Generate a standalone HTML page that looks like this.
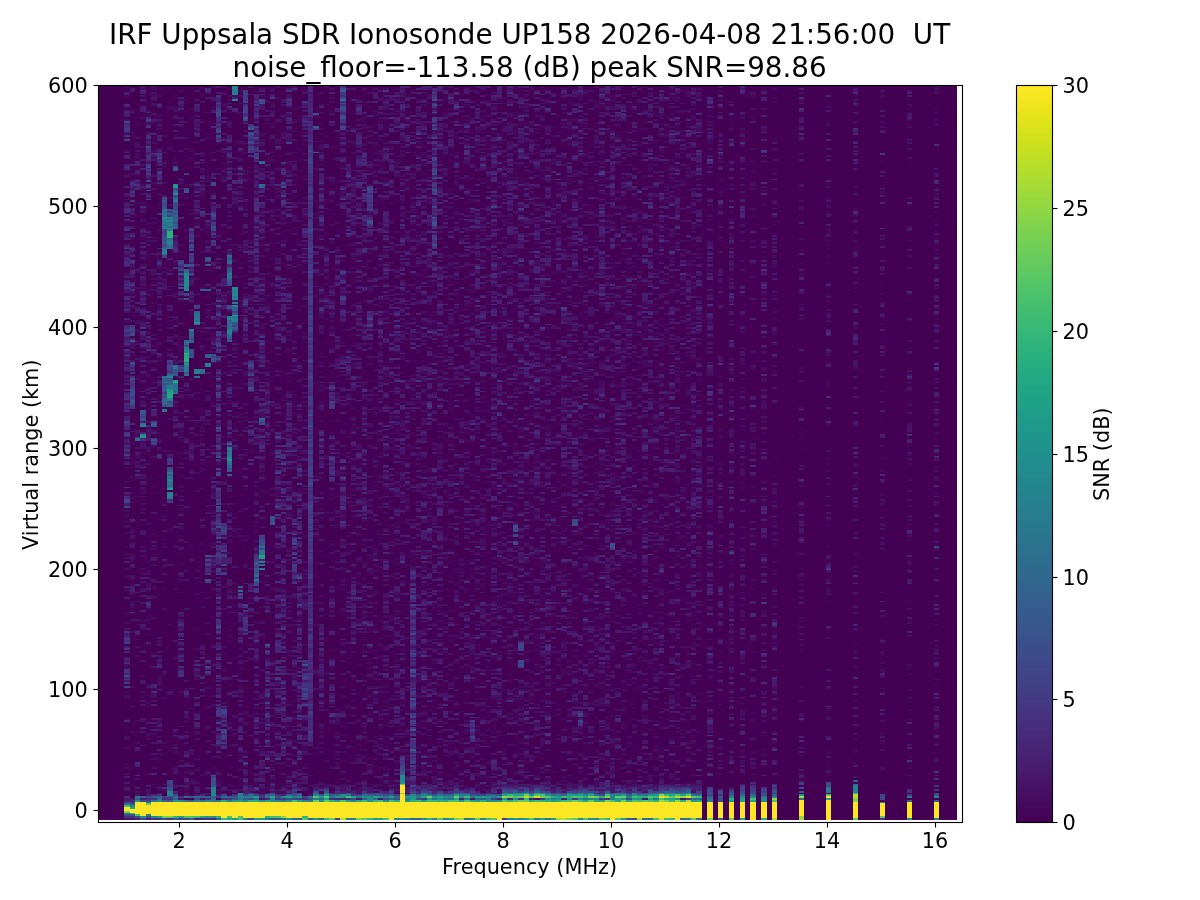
<!DOCTYPE html>
<html lang="en">
<head>
<meta charset="utf-8">
<title>IRF Uppsala SDR Ionosonde UP158 ionogram</title>
<style>
html,body{margin:0;padding:0;background:#fff;}
body{width:1200px;height:900px;overflow:hidden;}
svg{display:block;}
text{font-family:"DejaVu Sans","Liberation Sans",sans-serif;font-size:20.83px;fill:#000;white-space:pre;}
text.t{font-size:27.78px;}
.ln line,.ln rect{stroke:#000;stroke-width:1.111;fill:none;}
</style>
</head>
<body>
<svg width="1200" height="900" viewBox="0 0 1200 900">
<defs>
<linearGradient id="vir" x1="0" y1="1" x2="0" y2="0"><stop offset="0.0000" stop-color="#440154"/><stop offset="0.0156" stop-color="#45065a"/><stop offset="0.0312" stop-color="#460c5f"/><stop offset="0.0469" stop-color="#471265"/><stop offset="0.0625" stop-color="#47186a"/><stop offset="0.0781" stop-color="#481d6f"/><stop offset="0.0938" stop-color="#482273"/><stop offset="0.1094" stop-color="#472777"/><stop offset="0.1250" stop-color="#472c7b"/><stop offset="0.1406" stop-color="#46317e"/><stop offset="0.1562" stop-color="#453681"/><stop offset="0.1719" stop-color="#433b83"/><stop offset="0.1875" stop-color="#424085"/><stop offset="0.2031" stop-color="#404487"/><stop offset="0.2188" stop-color="#3e4989"/><stop offset="0.2344" stop-color="#3c4d8a"/><stop offset="0.2500" stop-color="#3a528b"/><stop offset="0.2656" stop-color="#38568b"/><stop offset="0.2812" stop-color="#365a8c"/><stop offset="0.2969" stop-color="#345e8d"/><stop offset="0.3125" stop-color="#32628d"/><stop offset="0.3281" stop-color="#31668d"/><stop offset="0.3438" stop-color="#2f6a8d"/><stop offset="0.3594" stop-color="#2d6e8e"/><stop offset="0.3750" stop-color="#2c728e"/><stop offset="0.3906" stop-color="#2a768e"/><stop offset="0.4062" stop-color="#287a8e"/><stop offset="0.4219" stop-color="#277d8e"/><stop offset="0.4375" stop-color="#26818e"/><stop offset="0.4531" stop-color="#24858d"/><stop offset="0.4688" stop-color="#23898d"/><stop offset="0.4844" stop-color="#218c8d"/><stop offset="0.5000" stop-color="#20908c"/><stop offset="0.5156" stop-color="#1f948b"/><stop offset="0.5312" stop-color="#1e988a"/><stop offset="0.5469" stop-color="#1e9b89"/><stop offset="0.5625" stop-color="#1e9f88"/><stop offset="0.5781" stop-color="#1fa386"/><stop offset="0.5938" stop-color="#21a784"/><stop offset="0.6094" stop-color="#24aa82"/><stop offset="0.6250" stop-color="#28ae7f"/><stop offset="0.6406" stop-color="#2cb17d"/><stop offset="0.6562" stop-color="#32b57a"/><stop offset="0.6719" stop-color="#38b976"/><stop offset="0.6875" stop-color="#3ebc73"/><stop offset="0.7031" stop-color="#45bf6f"/><stop offset="0.7188" stop-color="#4dc26b"/><stop offset="0.7344" stop-color="#55c666"/><stop offset="0.7500" stop-color="#5ec961"/><stop offset="0.7656" stop-color="#67cc5c"/><stop offset="0.7812" stop-color="#70ce56"/><stop offset="0.7969" stop-color="#79d151"/><stop offset="0.8125" stop-color="#83d34b"/><stop offset="0.8281" stop-color="#8dd644"/><stop offset="0.8438" stop-color="#97d83e"/><stop offset="0.8594" stop-color="#a2da37"/><stop offset="0.8750" stop-color="#addc30"/><stop offset="0.8906" stop-color="#b7dd29"/><stop offset="0.9062" stop-color="#c2df22"/><stop offset="0.9219" stop-color="#cde01d"/><stop offset="0.9375" stop-color="#d7e219"/><stop offset="0.9531" stop-color="#e1e318"/><stop offset="0.9688" stop-color="#ece41a"/><stop offset="0.9844" stop-color="#f6e61f"/><stop offset="1.0000" stop-color="#fde724"/></linearGradient>
<clipPath id="axclip"><rect x="97.65" y="85.23" width="863.88" height="736.99"/></clipPath>
</defs>
<rect x="0" y="0" width="1200" height="900" fill="#fff"/>
<g id="heat" shape-rendering="crispEdges">
<rect x="98" y="85" width="859" height="735" fill="#440154"/>
<path fill="#45085b" d="M124 787h6v-2h-6m0-20h6v-1h-6m0-35h6v-2h-6m0-7h6v-2h-6m0-25h6v-2h-6m0-23h6v-2h-6m0-51h6v-2h-6m0-21h6v-4h-6m0-4h6v-1h-6m0-35h6v-2h-6m0-12h6v-2h-6m0-9h6v-2h-6m0-5h6v-2h-6m0-31h6v-2h-6m0-4h6v-1h-6m0-44h6v-2h-6m0-108h6v-2h-6m0-63h6v-2h-6m0-4h6v-2h-6m0-34h6v-2h-6m0-74h6v-2h-6m0-2h6v-2h-6m0-36h6v-2h-6m0-7h6v-2h-6m6 580h5v-2h-5m0-49h5v-2h-5m0-11h5v-1h-5m0-28h5v-1h-5m0-17h5v-1h-5m0-24h5v-2h-5m0-22h5v-1h-5m0-24h5v-2h-5m0-14h5v-2h-5m0-4h5v-1h-5m0-13h5v-2h-5m0-5h5v-2h-5m0-60h5v-2h-5m0-2h5v-1h-5m0-58h5v-2h-5m0-16h5v-2h-5m0-24h5v-2h-5m0-67h5v-1h-5m5 534h5v-2h-5m0-105h5v-2h-5m0-98h5v-1h-5m0-2h5v-2h-5m0-4h5v-1h-5m0-39h5v-1h-5m0-55h5v-1h-5m0-87h5v-2h-5m0-15h5v-1h-5m0-42h5v-2h-5m0-2h5v-2h-5m0-63h5v-2h-5m0-45h5v-2h-5m0-29h5v-3h-5m5 670h6v-2h-6m0-60h6v-2h-6m0-52h6v-2h-6m0-24h6v-1h-6m0-29h6v-2h-6m0-55h6v-1h-6m0-62h6v-2h-6m0-7h6v-2h-6m0-27h6v-2h-6m0-3h6v-2h-6m0-2h6v-2h-6m0-9h6v-2h-6m0-119h6v-2h-6m0-11h6v-2h-6m0-67h6v-2h-6m0-3h6v-2h-6m0-43h6v-2h-6m0-2h6v-2h-6m0-81h6v-2h-6m6 684h5v-1h-5m0-55h5v-2h-5m0-23h5v-2h-5m0-5h5v-2h-5m0-9h5v-2h-5m0-38h5v-2h-5m0-9h5v-2h-5m0-16h5v-2h-5m0-5h5v-2h-5m0-16h5v-2h-5m0-17h5v-1h-5m0-4h5v-2h-5m0-3h5v-4h-5m0-22h5v-2h-5m0-85h5v-1h-5m0-49h5v-2h-5m0-20h5v-2h-5m0-18h5v-2h-5m0-3h5v-2h-5m0-8h5v-1h-5m0-51h5v-4h-5m0-20h5v-1h-5m0-9h5v-2h-5m0-6h5v-1h-5m0-22h5v-4h-5m0-14h5v-2h-5m0-16h5v-2h-5m0-71h5v-2h-5m5 670h6v-1h-6m0-86h6v-1h-6m0-6h6v-3h-6m0-33h6v-2h-6m0-63h6v-2h-6m0-100h6v-1h-6m0-69h6v-2h-6m0-47h6v-2h-6m0-63h6v-2h-6m0-78h6v-2h-6m0-3h6v-2h-6m0-8h6v-1h-6m0-46h6v-1h-6m0-2h6v-2h-6m0-4h6v-1h-6m0-13h6v-2h-6m0-4h6v-1h-6m0-15h6v-2h-6m6 676h5v-2h-5m0-2h5v-2h-5m0-25h5v-2h-5m0-69h5v-1h-5m0-6h5v-2h-5m0-1h5v-4h-5m0-6h5v-1h-5m0-9h5v-2h-5m0-13h5v-2h-5m0-87h5v-1h-5m0-2h5v-2h-5m0-56h5v-2h-5m0-58h5v-2h-5m0-11h5v-1h-5m0-19h5v-1h-5m0-2h5v-4h-5m0-20h5v-2h-5m0-47h5v-1h-5m0-15h5v-4h-5m0-5h5v-2h-5m0-11h5v-3h-5m0-17h5v-1h-5m0-6h5v-3h-5m0-24h5v-4h-5m0-1h5v-2h-5m0-17h5v-1h-5m0-2h5v-2h-5m0-5h5v-2h-5m0-11h5v-2h-5m0-56h5v-2h-5m0-3h5v-2h-5m0-4h5v-2h-5m5 640h5v-2h-5m0-78h5v-2h-5m0-22h5v-1h-5m0-60h5v-2h-5m0-5h5v-2h-5m0-13h5v-2h-5m0-21h5v-2h-5m0-2h5v-2h-5m0-40h5v-2h-5m0-155h5v-2h-5m0-42h5v-2h-5m0-5h5v-2h-5m0-121h5v-4h-5m0-32h5v-2h-5m5 619h6v-2h-6m0-121h6v-2h-6m0-92h6v-4h-6m0-76h6v-2h-6m0-128h6v-2h-6m0-29h6v-2h-6m0-25h6v-2h-6m0-5h6v-2h-6m0-107h6v-2h-6m0-20h6v-2h-6m0-14h6v-2h-6m0-5h6v-2h-6m6 684h5v-1h-5m0-2h5v-2h-5m0-42h5v-2h-5m0-242h5v-2h-5m0-24h5v-1h-5m0-62h5v-2h-5m0-7h5v-2h-5m0-34h5v-2h-5m0-4h5v-1h-5m0-22h5v-2h-5m0-16h5v-2h-5m0-9h5v-2h-5m0-4h5v-1h-5m0-29h5v-4h-5m0-4h5v-1h-5m0-96h5v-2h-5m0-7h5v-2h-5m0-13h5v-2h-5m0-11h5v-1h-5m0-15h5v-2h-5m0-9h5v-2h-5m5 696h6v-2h-6m0-196h6v-1h-6m0-38h6v-2h-6m0-9h6v-2h-6m0-4h6v-2h-6m0-5h6v-2h-6m0-18h6v-2h-6m0-16h6v-2h-6m0-2h6v-3h-6m0-26h6v-1h-6m0-4h6v-2h-6m0-11h6v-2h-6m0-3h6v-2h-6m0-11h6v-2h-6m0-70h6v-6h-6m0-5h6v-4h-6m0-34h6v-2h-6m0-47h6v-2h-6m0-23h6v-2h-6m0-22h6v-2h-6m0-3h6v-2h-6m0-4h6v-2h-6m0-5h6v-2h-6m0-2h6v-2h-6m0-10h6v-2h-6m0-22h6v-2h-6m0-16h6v-2h-6m0-5h6v-2h-6m0-6h6v-3h-6m0-9h6v-2h-6m0-7h6v-2h-6m6 701h5v-2h-5m0-11h5v-2h-5m0-36h5v-2h-5m0-11h5v-1h-5m0-4h5v-2h-5m0-31h5v-1h-5m0-278h5v-1h-5m0-71h5v-2h-5m0-5h5v-2h-5m0-24h5v-1h-5m0-147h5v-2h-5m0-20h5v-2h-5m0-32h5v-2h-5m5 697h5v-2h-5m0-30h5v-2h-5m0-15h5v-1h-5m0-37h5v-2h-5m0-289h5v-2h-5m0-25h5v-2h-5m0-60h5v-2h-5m0-12h5v-2h-5m0-9h5v-2h-5m0-2h5v-2h-5m0-87h5v-2h-5m0-50h5v-2h-5m0-5h5v-2h-5m0-31h5v-2h-5m0-7h5v-2h-5m5 679h6v-2h-6m0-3h6v-2h-6m0-73h6v-1h-6m0-27h6v-2h-6m0-13h6v-2h-6m0-3h6v-2h-6m0-27h6v-2h-6m0-65h6v-2h-6m0-111h6v-1h-6m0-26h6v-2h-6m0-11h6v-1h-6m0-9h6v-2h-6m0-44h6v-1h-6m0-48h6v-1h-6m0-8h6v-1h-6m0-66h6v-1h-6m0-2h6v-4h-6m0-78h6v-2h-6m6 551h5v-2h-5m0-98h5v-1h-5m0-47h5v-2h-5m0-53h5v-2h-5m0-16h5v-2h-5m0-5h5v-2h-5m0-4h5v-1h-5m0-17h5v-3h-5m0-13h5v-2h-5m0-40h5v-1h-5m0-15h5v-2h-5m0-14h5v-2h-5m0-82h5v-1h-5m0-69h5v-4h-5m0-80h5v-1h-5m0-15h5v-2h-5m0-5h5v-4h-5m5 705h6v-2h-6m0-80h6v-2h-6m0-19h6v-2h-6m0-62h6v-2h-6m0-38h6v-1h-6m0-37h6v-1h-6m0-26h6v-2h-6m0-9h6v-2h-6m0-5h6v-2h-6m0-36h6v-2h-6m0-31h6v-1h-6m0-33h6v-2h-6m0-54h6v-2h-6m0-5h6v-2h-6m0-6h6v-1h-6m0-8h6v-5h-6m0-13h6v-2h-6m0-52h6v-2h-6m0-9h6v-2h-6m0-3h6v-2h-6m0-40h6v-2h-6m0-5h6v-4h-6m0-36h6v-2h-6m0-2h6v-2h-6m0-47h6v-1h-6m6 690h5v-2h-5m0-4h5v-2h-5m0-49h5v-1h-5m0-10h5v-1h-5m0-24h5v-3h-5m0-8h5v-2h-5m0-23h5v-2h-5m0-22h5v-1h-5m0-86h5v-1h-5m0-8h5v-1h-5m0-4h5v-2h-5m0-7h5v-2h-5m0-18h5v-2h-5m0-5h5v-2h-5m0-53h5v-1h-5m0-9h5v-2h-5m0-40h5v-2h-5m0-38h5v-2h-5m0-9h5v-2h-5m0-76h5v-1h-5m0-48h5v-1h-5m0-4h5v-2h-5m0-22h5v-1h-5m0-62h5v-2h-5m5 687h5v-4h-5m0-5h5v-4h-5m0-24h5v-1h-5m0-4h5v-4h-5m0-27h5v-2h-5m0-30h5v-2h-5m0-11h5v-2h-5m0-54h5v-2h-5m0-5h5v-2h-5m0-42h5v-2h-5m0-21h5v-2h-5m0-2h5v-2h-5m0-62h5v-1h-5m0-149h5v-2h-5m0-21h5v-2h-5m0-4h5v-2h-5m0-20h5v-1h-5m0-18h5v-2h-5m0-15h5v-2h-5m0-5h5v-2h-5m0-87h5v-2h-5m5 645h6v-2h-6m0-130h6v-2h-6m0-31h6v-1h-6m0-49h6v-2h-6m0-6h6v-1h-6m0-9h6v-2h-6m0-80h6v-2h-6m0-12h6v-2h-6m0-18h6v-2h-6m0-94h6v-2h-6m0-47h6v-2h-6m0-31h6v-2h-6m0-5h6v-2h-6m0-23h6v-2h-6m0-26h6v-1h-6m0-22h6v-2h-6m0-5h6v-2h-6m0-4h6v-2h-6m0-5h6v-2h-6m0-11h6v-2h-6m0-3h6v-2h-6m0-13h6v-1h-6m0-10h6v-1h-6m0-8h6v-1h-6m6 693h5v-2h-5m0-7h5v-2h-5m0-16h5v-2h-5m0-20h5v-3h-5m0-13h5v-2h-5m0-31h5v-1h-5m0-11h5v-2h-5m0-42h5v-2h-5m0-3h5v-2h-5m0-40h5v-2h-5m0-3h5v-2h-5m0-47h5v-2h-5m0-5h5v-2h-5m0-24h5v-2h-5m0-18h5v-1h-5m0-48h5v-1h-5m0-33h5v-2h-5m0-7h5v-2h-5m0-11h5v-1h-5m0-20h5v-2h-5m0-47h5v-2h-5m0-20h5v-2h-5m0-67h5v-2h-5m0-68h5v-2h-5m0-60h5v-2h-5m5 665h6v-2h-6m0-33h6v-1h-6m0-22h6v-2h-6m0-87h6v-2h-6m0-7h6v-2h-6m0-3h6v-2h-6m0-53h6v-2h-6m0-3h6v-2h-6m0-4h6v-1h-6m0-20h6v-2h-6m0-44h6v-1h-6m0-29h6v-2h-6m0-24h6v-2h-6m0-5h6v-2h-6m0-29h6v-2h-6m0-1h6v-2h-6m0-18h6v-2h-6m0-6h6v-1h-6m0-57h6v-1h-6m0-15h6v-2h-6m0-52h6v-2h-6m0-7h6v-2h-6m0-33h6v-1h-6m0-19h6v-1h-6m0-28h6v-1h-6m6 681h5v-2h-5m0-4h5v-2h-5m0-96h5v-3h-5m0-11h5v-2h-5m0-22h5v-3h-5m0-107h5v-2h-5m0-62h5v-1h-5m0-6h5v-2h-5m0-10h5v-2h-5m0-26h5v-1h-5m0-11h5v-4h-5m0-32h5v-2h-5m0-13h5v-2h-5m0-60h5v-1h-5m0-26h5v-2h-5m0-12h5v-2h-5m0-16h5v-2h-5m0-9h5v-2h-5m0-74h5v-2h-5m5 605h5v-2h-5m0-4h5v-1h-5m0-29h5v-2h-5m0-6h5v-1h-5m0-2h5v-2h-5m0-6h5v-1h-5m0-17h5v-1h-5m0-78h5v-2h-5m0-6h5v-1h-5m0-8h5v-1h-5m0-28h5v-1h-5m0-26h5v-2h-5m0-45h5v-2h-5m0-34h5v-2h-5m0-92h5v-2h-5m0-49h5v-2h-5m0-11h5v-3h-5m0-9h5v-2h-5m0-31h5v-2h-5m0-29h5v-1h-5m0-10h5v-1h-5m0-18h5v-2h-5m0-9h5v-2h-5m0-4h5v-2h-5m5 488h6v-2h-6m0-11h6v-2h-6m0-4h6v-1h-6m0-26h6v-1h-6m0-160h6v-2h-6m0-5h6v-2h-6m0-65h6v-2h-6m0-107h6v-2h-6m0-7h6v-2h-6m0-85h6v-2h-6m0-39h6v-2h-6m6 623h5v-2h-5m0-38h5v-2h-5m0-87h5v-2h-5m0-34h5v-2h-5m0-40h5v-1h-5m0-4h5v-2h-5m0-13h5v-1h-5m0-28h5v-1h-5m0-55h5v-2h-5m0-7h5v-2h-5m0-5h5v-2h-5m0-2h5v-1h-5m0-17h5v-2h-5m0-14h5v-2h-5m0-85h5v-2h-5m0-12h5v-2h-5m0-29h5v-2h-5m0-5h5v-2h-5m0-13h5v-2h-5m0-5h5v-2h-5m0-33h5v-3h-5m0-64h5v-1h-5m5 668h6v-2h-6m0-13h6v-1h-6m0-24h6v-2h-6m0-34h6v-2h-6m0-4h6v-2h-6m0-7h6v-2h-6m0-126h6v-2h-6m0-6h6v-1h-6m0-53h6v-2h-6m0-11h6v-1h-6m0-4h6v-2h-6m0-9h6v-2h-6m0-2h6v-3h-6m0-4h6v-2h-6m0-7h6v-2h-6m0-5h6v-2h-6m0-2h6v-1h-6m0-40h6v-2h-6m0-18h6v-2h-6m0-18h6v-2h-6m0-40h6v-2h-6m0-9h6v-1h-6m0-26h6v-2h-6m0-9h6v-2h-6m0-41h6v-2h-6m0-22h6v-2h-6m0-38h6v-1h-6m0-33h6v-2h-6m0-22h6v-1h-6m0-15h6v-2h-6m6 696h5v-2h-5m0-18h5v-2h-5m0-69h5v-2h-5m0-14h5v-2h-5m0-38h5v-2h-5m0-59h5v-2h-5m0-31h5v-2h-5m0-31h5v-1h-5m0-22h5v-2h-5m0-120h5v-1h-5m0-2h5v-2h-5m0-4h5v-1h-5m0-20h5v-2h-5m0-36h5v-2h-5m0-4h5v-2h-5m0-117h5v-2h-5m0-9h5v-2h-5m0-7h5v-2h-5m0-4h5v-1h-5m0-33h5v-2h-5m0-16h5v-2h-5m0-2h5v-2h-5m5 674h5v-2h-5m0-76h5v-2h-5m0-105h5v-1h-5m0-8h5v-2h-5m0-38h5v-1h-5m0-82h5v-2h-5m0-68h5v-2h-5m0-2h5v-2h-5m0-56h5v-2h-5m0-3h5v-2h-5m0-53h5v-2h-5m0-14h5v-2h-5m0-38h5v-2h-5m5 583h6v-1h-6m0-234h6v-2h-6m0-22h6v-1h-6m0-29h6v-6h-6m0-23h6v-2h-6m0-58h6v-2h-6m0-11h6v-2h-6m0-21h6v-2h-6m0-7h6v-2h-6m0-4h6v-2h-6m0-16h6v-2h-6m0-3h6v-2h-6m0-20h6v-2h-6m0-56h6v-2h-6m0-52h6v-2h-6m0-26h6v-1h-6m6 623h5v-2h-5m0-4h5v-2h-5m0-20h5v-1h-5m0-40h5v-2h-5m0-16h5v-2h-5m0-13h5v-2h-5m0-47h5v-3h-5m0-20h5v-2h-5m0-24h5v-1h-5m0-2h5v-2h-5m0-9h5v-2h-5m0-22h5v-1h-5m0-9h5v-2h-5m0-24h5v-3h-5m0-8h5v-2h-5m0-39h5v-2h-5m0-47h5v-2h-5m0-9h5v-2h-5m0-7h5v-2h-5m0-60h5v-2h-5m0-36h5v-2h-5m0-5h5v-2h-5m0-45h5v-2h-5m0-9h5v-2h-5m0-5h5v-2h-5m0-42h5v-2h-5m0-3h5v-2h-5m0-9h5v-2h-5m0-27h5v-2h-5m0-14h5v-2h-5m5 661h6v-2h-6m0-2h6v-1h-6m0-35h6v-2h-6m0-12h6v-2h-6m0-93h6v-1h-6m0-15h6v-2h-6m0-14h6v-2h-6m0-33h6v-1h-6m0-13h6v-2h-6m0-5h6v-2h-6m0-27h6v-2h-6m0-54h6v-2h-6m0-33h6v-2h-6m0-20h6v-1h-6m0-6h6v-2h-6m0-9h6v-3h-6m0-38h6v-4h-6m0-2h6v-2h-6m0-3h6v-2h-6m0-67h6v-2h-6m0-9h6v-2h-6m0-18h6v-2h-6m0-5h6v-2h-6m0-69h6v-1h-6m0-20h6v-2h-6m0-13h6v-2h-6m6 587h5v-2h-5m0-20h5v-1h-5m0-8h5v-2h-5m0-30h5v-2h-5m0-15h5v-3h-5m0-20h5v-2h-5m0-9h5v-2h-5m0-70h5v-2h-5m0-15h5v-2h-5m0-20h5v-1h-5m0-62h5v-2h-5m0-2h5v-1h-5m0-2h5v-2h-5m0-9h5v-2h-5m0-2h5v-1h-5m0-17h5v-2h-5m0-30h5v-2h-5m0-9h5v-2h-5m0-24h5v-1h-5m0-31h5v-2h-5m0-7h5v-2h-5m0-2h5v-2h-5m0-61h5v-2h-5m0-13h5v-3h-5m0-2h5v-2h-5m0-4h5v-1h-5m0-38h5v-2h-5m0-6h5v-1h-5m0-2h5v-2h-5m0-4h5v-2h-5m0-3h5v-2h-5m5 679h5v-3h-5m0-11h5v-2h-5m0-56h5v-2h-5m0-62h5v-1h-5m0-22h5v-2h-5m0-9h5v-2h-5m0-61h5v-2h-5m0-35h5v-1h-5m0-13h5v-2h-5m0-11h5v-2h-5m0-20h5v-1h-5m0-13h5v-4h-5m0-21h5v-2h-5m0-2h5v-2h-5m0-3h5v-2h-5m0-9h5v-2h-5m0-27h5v-2h-5m0-7h5v-2h-5m0-6h5v-1h-5m0-118h5v-2h-5m0-34h5v-2h-5m0-4h5v-2h-5m0-39h5v-2h-5m0-9h5v-2h-5m0-6h5v-1h-5m0-33h5v-2h-5m5 688h6v-1h-6m0-42h6v-4h-6m0-20h6v-1h-6m0-4h6v-2h-6m0-74h6v-2h-6m0-14h6v-2h-6m0-31h6v-2h-6m0-5h6v-2h-6m0-18h6v-2h-6m0-31h6v-2h-6m0-19h6v-2h-6m0-20h6v-2h-6m0-43h6v-2h-6m0-20h6v-2h-6m0-15h6v-1h-6m0-2h6v-2h-6m0-65h6v-2h-6m0-14h6v-2h-6m0-15h6v-2h-6m0-41h6v-2h-6m0-5h6v-2h-6m0-2h6v-2h-6m0-96h6v-2h-6m0-7h6v-2h-6m0-9h6v-2h-6m0-23h6v-2h-6m0-16h6v-2h-6m6 657h5v-1h-5m5-55h6v-2h-6m0-63h6v-2h-6m0-87h6v-2h-6m0-12h6v-2h-6m0-4h6v-1h-6m0-10h6v-1h-6m0-8h6v-1h-6m0-13h6v-2h-6m0-96h6v-2h-6m0-85h6v-2h-6m0-50h6v-2h-6m0-42h6v-2h-6m0-48h6v-2h-6m0-40h6v-2h-6m0-13h6v-1h-6m6 699h5v-2h-5m0-4h5v-2h-5m0-36h5v-2h-5m0-41h5v-2h-5m0-25h5v-2h-5m0-13h5v-2h-5m0-25h5v-2h-5m0-78h5v-2h-5m0-3h5v-2h-5m0-45h5v-2h-5m0-85h5v-2h-5m0-11h5v-4h-5m0-9h5v-1h-5m0-19h5v-1h-5m0-13h5v-4h-5m0-23h5v-2h-5m0-13h5v-1h-5m0-44h5v-2h-5m0-18h5v-2h-5m0-20h5v-1h-5m0-35h5v-2h-5m0-25h5v-2h-5m0-14h5v-2h-5m0-13h5v-2h-5m5 540h5v-2h-5m0-32h5v-2h-5m0-181h5v-2h-5m0-71h5v-1h-5m0-24h5v-2h-5m0-13h5v-1h-5m0-22h5v-2h-5m0-5h5v-2h-5m0-13h5v-2h-5m0-3h5v-2h-5m0-5h5v-4h-5m0-2h5v-2h-5m0-2h5v-1h-5m0-27h5v-2h-5m0-11h5v-2h-5m0-96h5v-2h-5m0-29h5v-2h-5m5 689h6v-2h-6m0-6h6v-1h-6m0-104h6v-1h-6m0-8h6v-2h-6m0-1h6v-2h-6m0-15h6v-1h-6m0-51h6v-2h-6m0-24h6v-1h-6m0-27h6v-2h-6m0-29h6v-2h-6m0-13h6v-2h-6m0-1h6v-2h-6m0-17h6v-1h-6m0-24h6v-2h-6m0-5h6v-2h-6m0-2h6v-2h-6m0-3h6v-4h-6m0-11h6v-1h-6m0-6h6v-2h-6m0-85h6v-2h-6m0-14h6v-2h-6m0-4h6v-1h-6m0-15h6v-2h-6m0-3h6v-2h-6m0-38h6v-4h-6m0-25h6v-2h-6m0-2h6v-2h-6m0-12h6v-2h-6m0-15h6v-1h-6m0-31h6v-2h-6m0-34h6v-2h-6m6 674h5v-2h-5m0-15h5v-3h-5m0-24h5v-2h-5m0-12h5v-2h-5m0-13h5v-2h-5m0-181h5v-2h-5m0-1h5v-2h-5m0-4h5v-2h-5m0-59h5v-2h-5m0-60h5v-2h-5m0-12h5v-2h-5m0-2h5v-2h-5m0-20h5v-2h-5m0-9h5v-2h-5m0-47h5v-1h-5m0-29h5v-2h-5m0-16h5v-2h-5m0-11h5v-2h-5m0-2h5v-2h-5m0-90h5v-2h-5m5 625h6v-2h-6m0-63h6v-2h-6m0-40h6v-2h-6m0-2h6v-1h-6m0-4h6v-2h-6m0-54h6v-2h-6m0-5h6v-2h-6m0-13h6v-2h-6m0-23h6v-2h-6m0-11h6v-2h-6m0-7h6v-4h-6m0-3h6v-2h-6m0-36h6v-2h-6m0-18h6v-2h-6m0-4h6v-1h-6m0-42h6v-2h-6m0-13h6v-1h-6m0-8h6v-1h-6m0-51h6v-2h-6m0-4h6v-1h-6m0-66h6v-1h-6m0-19h6v-1h-6m0-8h6v-1h-6m0-13h6v-2h-6m0-18h6v-2h-6m0-16h6v-2h-6m0-7h6v-2h-6m0-34h6v-2h-6m6 655h5v-1h-5m0-35h5v-2h-5m0-88h5v-2h-5m0-26h5v-1h-5m0-66h5v-1h-5m0-29h5v-2h-5m0-58h5v-2h-5m0-13h5v-1h-5m0-48h5v-1h-5m0-44h5v-2h-5m0-117h5v-2h-5m0-6h5v-1h-5m0-29h5v-2h-5m0-22h5v-2h-5m0-23h5v-2h-5m0-9h5v-2h-5m0-38h5v-2h-5m5 643h5v-2h-5m0-5h5v-2h-5m0-38h5v-2h-5m0-21h5v-2h-5m0-46h5v-1h-5m0-62h5v-2h-5m0-18h5v-2h-5m0-18h5v-2h-5m0-18h5v-2h-5m0-14h5v-4h-5m0-32h5v-2h-5m0-25h5v-2h-5m0-9h5v-2h-5m0-6h5v-3h-5m0-6h5v-1h-5m0-33h5v-2h-5m0-22h5v-1h-5m0-6h5v-2h-5m0-29h5v-1h-5m0-20h5v-2h-5m0-2h5v-2h-5m0-2h5v-1h-5m0-31h5v-2h-5m0-5h5v-2h-5m0-24h5v-2h-5m0-16h5v-2h-5m0-47h5v-2h-5m0-27h5v-2h-5m5 681h6v-1h-6m0-4h6v-2h-6m0-29h6v-2h-6m0-5h6v-2h-6m0-3h6v-2h-6m0-24h6v-2h-6m0-52h6v-2h-6m0-13h6v-1h-6m0-10h6v-1h-6m0-53h6v-2h-6m0-11h6v-1h-6m0-46h6v-1h-6m0-6h6v-2h-6m0-25h6v-2h-6m0-7h6v-2h-6m0-7h6v-2h-6m0-27h6v-2h-6m0-4h6v-1h-6m0-44h6v-2h-6m0-12h6v-2h-6m0-51h6v-2h-6m0-7h6v-2h-6m0-49h6v-1h-6m0-9h6v-2h-6m0-9h6v-2h-6m0-16h6v-2h-6m0-18h6v-2h-6m0-16h6v-2h-6m0-6h6v-2h-6m6 580h5v-2h-5m0-7h5v-2h-5m0-9h5v-2h-5m0-12h5v-2h-5m0-22h5v-2h-5m0-23h5v-2h-5m0-35h5v-3h-5m0-20h5v-4h-5m0-32h5v-4h-5m0-13h5v-1h-5m0-28h5v-1h-5m0-57h5v-1h-5m0-47h5v-4h-5m0-7h5v-2h-5m0-11h5v-2h-5m0-3h5v-2h-5m0-26h5v-1h-5m0-35h5v-2h-5m0-5h5v-2h-5m0-14h5v-2h-5m0-9h5v-2h-5m0-4h5v-1h-5m0-11h5v-2h-5m0-9h5v-2h-5m0-7h5v-2h-5m0-14h5v-2h-5m0-8h5v-1h-5m0-57h5v-1h-5m0-49h5v-4h-5m0-3h5v-2h-5m0-15h5v-2h-5m0-12h5v-2h-5m5 695h6v-1h-6m0-9h6v-2h-6m0-4h6v-4h-6m0-5h6v-2h-6m0-43h6v-2h-6m0-60h6v-2h-6m0-1h6v-2h-6m0-15h6v-2h-6m0-3h6v-2h-6m0-24h6v-1h-6m0-26h6v-3h-6m0-13h6v-4h-6m0-38h6v-1h-6m0-8h6v-2h-6m0-1h6v-2h-6m0-42h6v-2h-6m0-10h6v-2h-6m0-44h6v-2h-6m0-19h6v-2h-6m0-100h6v-2h-6m0-9h6v-2h-6m0-12h6v-6h-6m0-34h6v-2h-6m0-42h6v-1h-6m0-6h6v-2h-6m0-54h6v-2h-6m6 687h5v-2h-5m0-6h5v-1h-5m0-17h5v-2h-5m0-19h5v-4h-5m0-4h5v-2h-5m0-18h5v-1h-5m0-37h5v-3h-5m0-46h5v-3h-5m0-2h5v-2h-5m0-14h5v-2h-5m0-16h5v-2h-5m0-13h5v-2h-5m0-3h5v-2h-5m0-11h5v-4h-5m0-3h5v-2h-5m0-63h5v-2h-5m0-2h5v-2h-5m0-49h5v-2h-5m0-9h5v-1h-5m0-95h5v-1h-5m0-53h5v-2h-5m0-29h5v-3h-5m0-8h5v-1h-5m0-26h5v-3h-5m0-28h5v-1h-5m0-15h5v-3h-5m0-4h5v-4h-5m0-9h5v-2h-5m0-7h5v-2h-5m0-7h5v-4h-5m0-1h5v-2h-5m5 670h5v-2h-5m0-9h5v-2h-5m0-31h5v-1h-5m0-6h5v-2h-5m0-16h5v-2h-5m0-49h5v-1h-5m0-20h5v-2h-5m0-4h5v-2h-5m0-9h5v-3h-5m0-6h5v-1h-5m0-48h5v-1h-5m0-11h5v-2h-5m0-11h5v-2h-5m0-58h5v-2h-5m0-14h5v-2h-5m0-7h5v-2h-5m0-16h5v-2h-5m0-11h5v-2h-5m0-11h5v-3h-5m0-44h5v-1h-5m0-2h5v-4h-5m0-7h5v-4h-5m0-5h5v-2h-5m0-34h5v-2h-5m0-15h5v-1h-5m0-19h5v-1h-5m0-4h5v-2h-5m0-51h5v-1h-5m0-33h5v-2h-5m0-3h5v-2h-5m0-2h5v-2h-5m0-9h5v-3h-5m0-11h5v-2h-5m5 648h6v-2h-6m0-7h6v-2h-6m0-5h6v-4h-6m0-9h6v-2h-6m0-14h6v-2h-6m0-2h6v-2h-6m0-10h6v-2h-6m0-20h6v-4h-6m0-12h6v-4h-6m0-16h6v-2h-6m0-7h6v-2h-6m0-6h6v-1h-6m0-13h6v-2h-6m0-9h6v-2h-6m0-18h6v-2h-6m0-3h6v-4h-6m0-33h6v-1h-6m0-46h6v-1h-6m0-22h6v-2h-6m0-2h6v-3h-6m0-6h6v-2h-6m0-5h6v-2h-6m0-14h6v-2h-6m0-2h6v-2h-6m0-16h6v-2h-6m0-52h6v-8h-6m0-7h6v-2h-6m0-2h6v-1h-6m0-33h6v-2h-6m0-9h6v-2h-6m0-12h6v-2h-6m0-22h6v-2h-6m0-25h6v-2h-6m0-9h6v-2h-6m0-2h6v-1h-6m0-37h6v-1h-6m0-24h6v-2h-6m0-11h6v-1h-6m0-33h6v-2h-6m0-5h6v-2h-6m0-20h6v-2h-6m0-3h6v-2h-6m6 693h5v-1h-5m0-2h5v-2h-5m0-42h5v-2h-5m0-18h5v-1h-5m0-20h5v-2h-5m0-42h5v-2h-5m0-32h5v-4h-5m0-11h5v-2h-5m0-7h5v-2h-5m0-83h5v-5h-5m0-2h5v-2h-5m0-14h5v-2h-5m0-6h5v-2h-5m0-43h5v-2h-5m0-7h5v-2h-5m0-3h5v-2h-5m0-2h5v-2h-5m0-2h5v-3h-5m0-71h5v-2h-5m0-3h5v-2h-5m0-7h5v-2h-5m0-22h5v-2h-5m0-3h5v-2h-5m0-17h5v-1h-5m0-42h5v-2h-5m0-27h5v-2h-5m0-5h5v-2h-5m0-15h5v-1h-5m0-31h5v-2h-5m0-13h5v-1h-5m0-19h5v-1h-5m5 677h6v-2h-6m0-23h6v-2h-6m0-4h6v-3h-6m0-24h6v-2h-6m0-47h6v-2h-6m0-7h6v-2h-6m0-9h6v-2h-6m0-38h6v-1h-6m0-6h6v-2h-6m0-7h6v-2h-6m0-2h6v-1h-6m0-42h6v-2h-6m0-2h6v-1h-6m0-29h6v-2h-6m0-38h6v-2h-6m0-9h6v-2h-6m0-13h6v-1h-6m0-24h6v-5h-6m0-28h6v-3h-6m0-31h6v-2h-6m0-12h6v-2h-6m0-13h6v-2h-6m0-2h6v-1h-6m0-142h6v-1h-6m0-24h6v-2h-6m0-2h6v-3h-6m0-2h6v-2h-6m0-31h6v-1h-6m0-8h6v-2h-6m0-14h6v-2h-6m0-7h6v-2h-6m6 665h5v-2h-5m0-20h5v-2h-5m0-18h5v-2h-5m0-5h5v-2h-5m0-52h5v-2h-5m0-6h5v-2h-5m0-21h5v-2h-5m0-4h5v-1h-5m0-6h5v-2h-5m0-49h5v-1h-5m0-19h5v-1h-5m0-11h5v-2h-5m0-7h5v-2h-5m0-11h5v-4h-5m0-5h5v-2h-5m0-5h5v-2h-5m0-6h5v-1h-5m0-11h5v-2h-5m0-7h5v-2h-5m0-11h5v-2h-5m0-12h5v-2h-5m0-4h5v-2h-5m0-29h5v-1h-5m0-17h5v-2h-5m0-14h5v-2h-5m0-3h5v-2h-5m0-27h5v-2h-5m0-56h5v-2h-5m0-15h5v-1h-5m0-11h5v-2h-5m0-2h5v-2h-5m0-18h5v-2h-5m0-7h5v-4h-5m0-10h5v-2h-5m0-9h5v-2h-5m0-7h5v-2h-5m0-13h5v-2h-5m0-9h5v-2h-5m0-38h5v-1h-5m5 691h5v-1h-5m0-6h5v-2h-5m0-16h5v-2h-5m0-9h5v-2h-5m0-3h5v-2h-5m0-38h5v-2h-5m0-101h5v-2h-5m0-2h5v-2h-5m0-38h5v-2h-5m0-7h5v-2h-5m0-10h5v-2h-5m0-18h5v-4h-5m0-9h5v-2h-5m0-4h5v-1h-5m0-6h5v-2h-5m0-29h5v-1h-5m0-22h5v-2h-5m0-14h5v-2h-5m0-11h5v-2h-5m0-4h5v-1h-5m0-87h5v-2h-5m0-29h5v-2h-5m0-54h5v-2h-5m0-2h5v-2h-5m0-38h5v-1h-5m0-2h5v-2h-5m0-38h5v-2h-5m0-33h5v-1h-5m0-17h5v-1h-5m5 489h6v-2h-6m0-18h6v-4h-6m0-2h6v-5h-6m0-9h6v-2h-6m0-49h6v-2h-6m0-56h6v-2h-6m0-7h6v-2h-6m0-27h6v-2h-6m0-9h6v-2h-6m0-7h6v-2h-6m0-11h6v-3h-6m0-18h6v-2h-6m0-2h6v-2h-6m0-11h6v-1h-6m0-26h6v-2h-6m0-7h6v-2h-6m0-12h6v-2h-6m0-16h6v-2h-6m0-35h6v-1h-6m0-6h6v-2h-6m0-5h6v-4h-6m0-14h6v-2h-6m0-9h6v-2h-6m0-51h6v-1h-6m0-31h6v-2h-6m6 677h5v-2h-5m0-7h5v-2h-5m0-30h5v-4h-5m0-9h5v-2h-5m0-31h5v-5h-5m0-27h5v-2h-5m0-15h5v-1h-5m0-35h5v-2h-5m0-5h5v-2h-5m0-43h5v-2h-5m0-15h5v-1h-5m0-6h5v-2h-5m0-27h5v-2h-5m0-9h5v-2h-5m0-16h5v-2h-5m0-56h5v-2h-5m0-21h5v-2h-5m0-4h5v-2h-5m0-9h5v-1h-5m0-9h5v-4h-5m0-27h5v-2h-5m0-15h5v-1h-5m0-13h5v-2h-5m0-7h5v-2h-5m0-5h5v-2h-5m0-6h5v-3h-5m0-24h5v-2h-5m0-5h5v-2h-5m0-36h5v-2h-5m0-2h5v-1h-5m0-46h5v-2h-5m0-29h5v-1h-5m5 659h6v-6h-6m0-52h6v-2h-6m0-5h6v-2h-6m0-22h6v-2h-6m0-20h6v-1h-6m0-22h6v-2h-6m0-5h6v-2h-6m0-16h6v-2h-6m0-24h6v-2h-6m0-14h6v-2h-6m0-2h6v-2h-6m0-19h6v-2h-6m0-31h6v-2h-6m0-13h6v-1h-6m0-22h6v-4h-6m0-3h6v-2h-6m0-27h6v-2h-6m0-15h6v-1h-6m0-26h6v-2h-6m0-30h6v-2h-6m0-60h6v-2h-6m0-20h6v-2h-6m0-18h6v-1h-6m0-19h6v-1h-6m0-8h6v-1h-6m0-53h6v-2h-6m0-9h6v-2h-6m0-5h6v-4h-6m0-5h6v-2h-6m0-7h6v-2h-6m0-5h6v-2h-6m0-6h6v-1h-6m6 655h5v-2h-5m0-20h5v-1h-5m0-15h5v-2h-5m0-20h5v-1h-5m0-6h5v-2h-5m0-32h5v-2h-5m0-4h5v-2h-5m0-1h5v-2h-5m0-20h5v-2h-5m0-4h5v-1h-5m0-53h5v-2h-5m0-14h5v-2h-5m0-4h5v-1h-5m0-13h5v-2h-5m0-11h5v-2h-5m0-12h5v-4h-5m0-5h5v-2h-5m0-29h5v-2h-5m0-9h5v-5h-5m0-49h5v-2h-5m0-6h5v-1h-5m0-9h5v-2h-5m0-64h5v-1h-5m0-4h5v-2h-5m0-7h5v-2h-5m0-2h5v-1h-5m0-11h5v-2h-5m0-6h5v-1h-5m0-26h5v-2h-5m0-9h5v-1h-5m0-42h5v-2h-5m0-11h5v-2h-5m0-5h5v-2h-5m0-61h5v-2h-5m0-6h5v-1h-5m0-19h5v-3h-5m0-6h5v-1h-5m5 679h5v-2h-5m0-4h5v-2h-5m0-58h5v-1h-5m0-4h5v-2h-5m0-36h5v-4h-5m0-32h5v-2h-5m0-2h5v-2h-5m0-14h5v-2h-5m0-83h5v-2h-5m0-34h5v-2h-5m0-2h5v-2h-5m0-7h5v-2h-5m0-13h5v-1h-5m0-9h5v-2h-5m0-122h5v-3h-5m0-27h5v-2h-5m0-7h5v-2h-5m0-152h5v-2h-5m5 645h6v-2h-6m0-29h6v-2h-6m0-18h6v-2h-6m0-2h6v-2h-6m0-39h6v-2h-6m0-24h6v-2h-6m0-23h6v-2h-6m0-5h6v-2h-6m0-7h6v-2h-6m0-2h6v-2h-6m0-60h6v-1h-6m0-24h6v-2h-6m0-32h6v-2h-6m0-27h6v-2h-6m0-18h6v-2h-6m0-47h6v-2h-6m0-5h6v-4h-6m0-7h6v-2h-6m0-7h6v-2h-6m0-44h6v-1h-6m0-26h6v-2h-6m0-36h6v-2h-6m0-11h6v-1h-6m0-17h6v-1h-6m0-10h6v-1h-6m0-20h6v-2h-6m0-27h6v-2h-6m0-20h6v-2h-6m0-49h6v-1h-6m6 700h5v-1h-5m0-91h5v-2h-5m0-31h5v-1h-5m0-11h5v-2h-5m0-16h5v-2h-5m0-13h5v-2h-5m0-23h5v-2h-5m0-27h5v-2h-5m0-65h5v-2h-5m0-65h5v-2h-5m0-47h5v-2h-5m0-16h5v-4h-5m0-5h5v-2h-5m0-4h5v-2h-5m0-7h5v-2h-5m0-5h5v-2h-5m0-11h5v-1h-5m0-19h5v-1h-5m0-15h5v-2h-5m0-2h5v-1h-5m0-18h5v-2h-5m0-11h5v-2h-5m0-65h5v-2h-5m0-2h5v-2h-5m0-56h5v-2h-5m0-14h5v-2h-5m0-9h5v-2h-5m5 701h6v-2h-6m0-9h6v-1h-6m0-31h6v-2h-6m0-15h6v-1h-6m0-24h6v-2h-6m0-12h6v-2h-6m0-22h6v-2h-6m0-20h6v-3h-6m0-27h6v-2h-6m0-47h6v-2h-6m0-9h6v-2h-6m0-71h6v-2h-6m0-7h6v-3h-6m0-55h6v-2h-6m0-1h6v-2h-6m0-2h6v-4h-6m0-9h6v-1h-6m0-9h6v-2h-6m0-111h6v-2h-6m0-38h6v-1h-6m0-71h6v-4h-6m0-14h6v-2h-6m0-14h6v-2h-6m0-11h6v-2h-6m0-14h6v-2h-6m6 677h5v-2h-5m0-12h5v-2h-5m0-36h5v-2h-5m0-51h5v-2h-5m0-11h5v-1h-5m0-46h5v-2h-5m0-7h5v-2h-5m0-7h5v-3h-5m0-11h5v-4h-5m0-7h5v-2h-5m0-18h5v-4h-5m0-18h5v-2h-5m0-21h5v-2h-5m0-6h5v-1h-5m0-4h5v-2h-5m0-22h5v-1h-5m0-55h5v-2h-5m0-25h5v-2h-5m0-27h5v-4h-5m0-5h5v-2h-5m0-36h5v-2h-5m0-14h5v-2h-5m0-4h5v-2h-5m0-67h5v-1h-5m0-22h5v-2h-5m0-2h5v-2h-5m0-1h5v-2h-5m0-38h5v-4h-5m0-14h5v-2h-5m5 665h5v-2h-5m0-9h5v-2h-5m0-58h5v-2h-5m0-38h5v-2h-5m0-14h5v-2h-5m0-20h5v-2h-5m0-43h5v-2h-5m0-18h5v-2h-5m0-45h5v-2h-5m0-22h5v-2h-5m0-23h5v-2h-5m0-40h5v-2h-5m0-1h5v-2h-5m0-26h5v-1h-5m0-15h5v-2h-5m0-63h5v-4h-5m0-5h5v-2h-5m0-13h5v-1h-5m0-15h5v-2h-5m0-23h5v-2h-5m0-34h5v-2h-5m0-8h5v-1h-5m0-46h5v-1h-5m0-28h5v-1h-5m5 655h6v-2h-6m0-36h6v-2h-6m0-23h6v-2h-6m0-5h6v-2h-6m0-62h6v-2h-6m0-11h6v-3h-6m0-15h6v-1h-6m0-29h6v-4h-6m0-45h6v-2h-6m0-27h6v-2h-6m0-35h6v-1h-6m0-13h6v-2h-6m0-18h6v-4h-6m0-5h6v-2h-6m0-18h6v-2h-6m0-12h6v-2h-6m0-13h6v-2h-6m0-16h6v-2h-6m0-31h6v-1h-6m0-9h6v-2h-6m0-11h6v-2h-6m0-2h6v-3h-6m0-13h6v-2h-6m0-56h6v-2h-6m0-3h6v-4h-6m0-20h6v-2h-6m0-2h6v-1h-6m0-9h6v-2h-6m0-8h6v-3h-6m0-6h6v-1h-6m0-4h6v-2h-6m0-7h6v-2h-6m0-5h6v-2h-6m0-4h6v-2h-6m0-3h6v-4h-6m0-5h6v-2h-6m0-7h6v-2h-6m0-31h6v-2h-6m6 679h5v-1h-5m0-82h5v-2h-5m0-29h5v-1h-5m0-6h5v-4h-5m0-3h5v-2h-5m0-11h5v-2h-5m0-45h5v-2h-5m0-5h5v-2h-5m0-7h5v-2h-5m0-22h5v-2h-5m0-5h5v-2h-5m0-34h5v-2h-5m0-60h5v-2h-5m0-50h5v-2h-5m0-58h5v-2h-5m0-14h5v-2h-5m0-9h5v-4h-5m0-16h5v-2h-5m0-20h5v-3h-5m0-2h5v-2h-5m0-18h5v-2h-5m0-16h5v-2h-5m0-4h5v-2h-5m0-65h5v-2h-5m0-14h5v-2h-5m5 674h5v-4h-5m0-3h5v-2h-5m0-33h5v-3h-5m0-13h5v-2h-5m0-11h5v-2h-5m0-11h5v-1h-5m0-6h5v-2h-5m0-18h5v-1h-5m0-4h5v-2h-5m0-16h5v-2h-5m0-9h5v-2h-5m0-25h5v-2h-5m0-11h5v-2h-5m0-20h5v-1h-5m0-8h5v-2h-5m0-57h5v-2h-5m0-75h5v-3h-5m0-13h5v-2h-5m0-47h5v-2h-5m0-1h5v-2h-5m0-78h5v-2h-5m0-38h5v-2h-5m0-23h5v-2h-5m0-4h5v-1h-5m0-19h5v-1h-5m0-40h5v-2h-5m0-4h5v-1h-5m0-20h5v-2h-5m0-6h5v-1h-5m0-22h5v-2h-5m5 694h6v-9h-6m0-6h6v-2h-6m0-16h6v-2h-6m0-23h6v-2h-6m0-13h6v-2h-6m0-18h6v-3h-6m0-13h6v-2h-6m0-9h6v-2h-6m0-32h6v-2h-6m0-51h6v-3h-6m0-2h6v-2h-6m0-6h6v-1h-6m0-2h6v-2h-6m0-11h6v-2h-6m0-21h6v-2h-6m0-4h6v-2h-6m0-12h6v-2h-6m0-22h6v-2h-6m0-21h6v-2h-6m0-45h6v-2h-6m0-6h6v-3h-6m0-6h6v-2h-6m0-3h6v-2h-6m0-7h6v-2h-6m0-9h6v-2h-6m0-110h6v-4h-6m0-5h6v-2h-6m0-20h6v-2h-6m0-13h6v-1h-6m0-48h6v-1h-6m0-51h6v-4h-6m0-2h6v-1h-6m6 670h5v-2h-5m0-2h5v-2h-5m0-40h5v-1h-5m0-22h5v-2h-5m0-40h5v-2h-5m0-1h5v-2h-5m0-27h5v-2h-5m0-7h5v-2h-5m0-60h5v-2h-5m0-12h5v-2h-5m0-6h5v-1h-5m0-51h5v-2h-5m0-9h5v-2h-5m0-20h5v-2h-5m0-34h5v-2h-5m0-16h5v-2h-5m0-25h5v-2h-5m0-42h5v-2h-5m0-3h5v-2h-5m0-25h5v-2h-5m0-40h5v-2h-5m0-2h5v-1h-5m0-60h5v-2h-5m0-25h5v-4h-5m0-5h5v-2h-5m0-9h5v-2h-5m0-2h5v-2h-5m0-2h5v-3h-5m0-31h5v-2h-5m5 627h6v-2h-6m0-9h6v-2h-6m0-20h6v-2h-6m0-39h6v-4h-6m0-4h6v-1h-6m0-10h6v-1h-6m0-31h6v-2h-6m0-7h6v-2h-6m0-72h6v-2h-6m0-33h6v-7h-6m0-20h6v-2h-6m0-9h6v-3h-6m0-64h6v-2h-6m0-11h6v-1h-6m0-38h6v-2h-6m0-7h6v-2h-6m0-42h6v-2h-6m0-20h6v-1h-6m0-13h6v-2h-6m0-2h6v-2h-6m0-9h6v-1h-6m0-24h6v-2h-6m0-3h6v-2h-6m0-2h6v-2h-6m0-16h6v-2h-6m0-4h6v-1h-6m0-24h6v-2h-6m6 647h5v-2h-5m0-14h5v-2h-5m0-8h5v-1h-5m0-66h5v-1h-5m0-18h5v-2h-5m0-4h5v-2h-5m0-9h5v-2h-5m0-50h5v-2h-5m0-4h5v-5h-5m0-18h5v-2h-5m0-6h5v-1h-5m0-4h5v-2h-5m0-5h5v-4h-5m0-23h5v-2h-5m0-6h5v-1h-5m0-24h5v-2h-5m0-3h5v-2h-5m0-9h5v-2h-5m0-36h5v-2h-5m0-11h5v-2h-5m0-23h5v-2h-5m0-36h5v-2h-5m0-13h5v-2h-5m0-41h5v-2h-5m0-2h5v-4h-5m0-16h5v-2h-5m0-11h5v-1h-5m0-11h5v-4h-5m0-7h5v-2h-5m0-36h5v-2h-5m0-14h5v-2h-5m0-53h5v-2h-5m0-5h5v-2h-5m0-9h5v-2h-5m5 652h5v-1h-5m0-11h5v-2h-5m0-9h5v-4h-5m0-13h5v-1h-5m0-9h5v-2h-5m0-13h5v-2h-5m0-18h5v-2h-5m0-49h5v-1h-5m0-56h5v-2h-5m0-26h5v-1h-5m0-20h5v-2h-5m0-11h5v-2h-5m0-101h5v-2h-5m0-13h5v-2h-5m0-18h5v-1h-5m0-4h5v-2h-5m0-2h5v-2h-5m0-3h5v-2h-5m0-11h5v-3h-5m0-10h5v-1h-5m0-2h5v-4h-5m0-16h5v-2h-5m0-38h5v-2h-5m0-2h5v-3h-5m0-33h5v-2h-5m0-14h5v-2h-5m0-2h5v-1h-5m0-40h5v-2h-5m0-6h5v-1h-5m0-17h5v-1h-5m0-10h5v-3h-5m0-40h5v-2h-5m5 629h6v-2h-6m0-26h6v-1h-6m0-15h6v-2h-6m0-5h6v-2h-6m0-11h6v-2h-6m0-7h6v-2h-6m0-3h6v-2h-6m0-18h6v-2h-6m0-24h6v-1h-6m0-6h6v-3h-6m0-6h6v-2h-6m0-11h6v-1h-6m0-17h6v-1h-6m0-24h6v-2h-6m0-16h6v-2h-6m0-63h6v-2h-6m0-35h6v-1h-6m0-13h6v-2h-6m0-18h6v-2h-6m0-41h6v-2h-6m0-11h6v-2h-6m0-13h6v-1h-6m0-2h6v-2h-6m0-2h6v-2h-6m0-47h6v-1h-6m0-10h6v-1h-6m0-58h6v-4h-6m0-16h6v-2h-6m0-24h6v-1h-6m0-9h6v-2h-6m0-26h6v-1h-6m6 679h5v-2h-5m0-16h5v-2h-5m0-7h5v-2h-5m0-18h5v-2h-5m0-22h5v-2h-5m0-9h5v-2h-5m0-16h5v-2h-5m0-5h5v-2h-5m0-76h5v-2h-5m0-45h5v-2h-5m0-45h5v-2h-5m0-7h5v-2h-5m0-6h5v-1h-5m0-24h5v-2h-5m0-1h5v-2h-5m0-27h5v-2h-5m0-2h5v-2h-5m0-5h5v-2h-5m0-6h5v-1h-5m0-11h5v-2h-5m0-9h5v-2h-5m0-5h5v-2h-5m0-60h5v-2h-5m0-31h5v-1h-5m0-8h5v-1h-5m0-6h5v-2h-5m0-18h5v-2h-5m0-7h5v-2h-5m0-14h5v-2h-5m0-38h5v-2h-5m0-3h5v-2h-5m0-24h5v-2h-5m0-7h5v-5h-5m0-17h5v-1h-5m0-22h5v-4h-5m5 690h6v-1h-6m0-26h6v-2h-6m0-3h6v-4h-6m0-36h6v-2h-6m0-2h6v-3h-6m0-9h6v-2h-6m0-6h6v-1h-6m0-10h6v-1h-6m0-44h6v-2h-6m0-12h6v-2h-6m0-4h6v-3h-6m0-33h6v-2h-6m0-40h6v-1h-6m0-33h6v-2h-6m0-5h6v-2h-6m0-18h6v-2h-6m0-31h6v-3h-6m0-6h6v-2h-6m0-23h6v-2h-6m0-7h6v-2h-6m0-4h6v-1h-6m0-11h6v-2h-6m0-11h6v-2h-6m0-11h6v-2h-6m0-43h6v-2h-6m0-9h6v-2h-6m0-18h6v-3h-6m0-53h6v-2h-6m0-3h6v-2h-6m0-9h6v-2h-6m0-4h6v-1h-6m0-8h6v-2h-6m0-1h6v-2h-6m0-11h6v-2h-6m0-49h6v-2h-6m0-7h6v-2h-6m0-12h6v-2h-6m6 674h5v-2h-5m0-11h5v-2h-5m0-3h5v-2h-5m0-11h5v-2h-5m0-9h5v-2h-5m0-20h5v-2h-5m0-7h5v-2h-5m0-1h5v-2h-5m0-29h5v-2h-5m0-4h5v-1h-5m0-8h5v-2h-5m0-34h5v-2h-5m0-20h5v-1h-5m0-6h5v-2h-5m0-18h5v-2h-5m0-7h5v-3h-5m0-2h5v-2h-5m0-56h5v-2h-5m0-20h5v-4h-5m0-20h5v-1h-5m0-2h5v-2h-5m0-11h5v-2h-5m0-34h5v-2h-5m0-29h5v-2h-5m0-12h5v-2h-5m0-27h5v-2h-5m0-49h5v-2h-5m0-3h5v-2h-5m0-6h5v-1h-5m0-35h5v-2h-5m0-31h5v-1h-5m0-26h5v-1h-5m0-2h5v-2h-5m0-6h5v-1h-5m0-17h5v-1h-5m0-13h5v-2h-5m0-11h5v-2h-5m5 689h5v-2h-5m0-53h5v-2h-5m0-16h5v-2h-5m0-9h5v-2h-5m0-7h5v-2h-5m0-3h5v-4h-5m0-31h5v-1h-5m0-8h5v-2h-5m0-28h5v-2h-5m0-24h5v-2h-5m0-7h5v-2h-5m0-29h5v-1h-5m0-19h5v-1h-5m0-4h5v-2h-5m0-2h5v-1h-5m0-2h5v-4h-5m0-5h5v-2h-5m0-47h5v-2h-5m0-4h5v-1h-5m0-33h5v-2h-5m0-5h5v-2h-5m0-4h5v-2h-5m0-16h5v-2h-5m0-36h5v-2h-5m0-5h5v-2h-5m0-23h5v-2h-5m0-123h5v-2h-5m0-35h5v-1h-5m0-15h5v-5h-5m0-8h5v-1h-5m0-35h5v-2h-5m5 690h6v-1h-6m0-6h6v-2h-6m0-9h6v-2h-6m0-70h6v-2h-6m0-38h6v-2h-6m0-7h6v-2h-6m0-18h6v-2h-6m0-49h6v-2h-6m0-9h6v-1h-6m0-19h6v-1h-6m0-13h6v-2h-6m0-5h6v-2h-6m0-24h6v-1h-6m0-15h6v-2h-6m0-9h6v-3h-6m0-13h6v-2h-6m0-49h6v-3h-6m0-6h6v-2h-6m0-40h6v-1h-6m0-11h6v-2h-6m0-54h6v-2h-6m0-7h6v-2h-6m0-9h6v-2h-6m0-49h6v-2h-6m0-52h6v-2h-6m0-7h6v-2h-6m0-9h6v-2h-6m0-33h6v-1h-6m6 661h5v-2h-5m0-6h5v-3h-5m0-11h5v-2h-5m0-22h5v-2h-5m0-50h5v-2h-5m0-27h5v-2h-5m0-4h5v-1h-5m0-15h5v-2h-5m0-5h5v-4h-5m0-5h5v-2h-5m0-20h5v-2h-5m0-3h5v-4h-5m0-22h5v-2h-5m0-23h5v-2h-5m0-22h5v-1h-5m0-2h5v-2h-5m0-9h5v-2h-5m0-9h5v-2h-5m0-54h5v-4h-5m0-21h5v-2h-5m0-24h5v-2h-5m0-3h5v-2h-5m0-22h5v-2h-5m0-34h5v-2h-5m0-11h5v-2h-5m0-27h5v-1h-5m0-10h5v-1h-5m0-18h5v-2h-5m0-6h5v-2h-5m0-10h5v-2h-5m0-9h5v-2h-5m0-7h5v-2h-5m0-9h5v-2h-5m0-24h5v-1h-5m0-13h5v-4h-5m0-7h5v-2h-5m0-5h5v-2h-5m0-20h5v-2h-5m5 694h6v-2h-6m0-40h6v-2h-6m0-21h6v-4h-6m0-14h6v-2h-6m0-2h6v-2h-6m0-7h6v-2h-6m0-22h6v-1h-6m0-26h6v-2h-6m0-7h6v-2h-6m0-10h6v-2h-6m0-4h6v-2h-6m0-21h6v-2h-6m0-17h6v-3h-6m0-71h6v-2h-6m0-34h6v-2h-6m0-23h6v-4h-6m0-25h6v-2h-6m0-7h6v-2h-6m0-6h6v-1h-6m0-13h6v-2h-6m0-4h6v-1h-6m0-4h6v-2h-6m0-5h6v-2h-6m0-20h6v-2h-6m0-51h6v-1h-6m0-8h6v-1h-6m0-124h6v-1h-6m0-28h6v-1h-6m6 677h5v-2h-5m0-2h5v-1h-5m0-11h5v-2h-5m0-54h5v-2h-5m0-44h5v-3h-5m0-40h5v-2h-5m0-9h5v-2h-5m0-14h5v-2h-5m0-13h5v-2h-5m0-3h5v-2h-5m0-4h5v-2h-5m0-5h5v-2h-5m0-2h5v-1h-5m0-29h5v-2h-5m0-7h5v-2h-5m0-22h5v-2h-5m0-27h5v-2h-5m0-32h5v-2h-5m0-36h5v-2h-5m0-7h5v-2h-5m0-9h5v-2h-5m0-13h5v-2h-5m0-88h5v-4h-5m0-31h5v-2h-5m0-19h5v-2h-5m0-11h5v-6h-5m0-5h5v-2h-5m0-38h5v-2h-5m0-5h5v-2h-5m0-18h5v-2h-5m0-22h5v-1h-5m0-9h5v-2h-5m5 695h5v-2h-5m0-79h5v-2h-5m0-42h5v-2h-5m0-70h5v-2h-5m0-16h5v-2h-5m0-51h5v-2h-5m0-27h5v-2h-5m0-5h5v-2h-5m0-56h5v-2h-5m0-18h5v-2h-5m0-12h5v-4h-5m0-5h5v-2h-5m0-8h5v-1h-5m0-26h5v-2h-5m0-34h5v-4h-5m0-32h5v-2h-5m0-23h5v-2h-5m0-15h5v-3h-5m0-11h5v-2h-5m0-25h5v-2h-5m0-2h5v-2h-5m0-23h5v-2h-5m0-42h5v-2h-5m0-12h5v-2h-5m5 688h6v-4h-6m0-7h6v-2h-6m0-11h6v-1h-6m0-20h6v-2h-6m0-22h6v-2h-6m0-11h6v-1h-6m0-13h6v-4h-6m0-14h6v-6h-6m0-10h6v-2h-6m0-7h6v-2h-6m0-6h6v-3h-6m0-6h6v-2h-6m0-48h6v-2h-6m0-9h6v-4h-6m0-27h6v-2h-6m0-4h6v-1h-6m0-2h6v-4h-6m0-23h6v-2h-6m0-18h6v-2h-6m0-9h6v-2h-6m0-11h6v-2h-6m0-7h6v-2h-6m0-40h6v-1h-6m0-11h6v-2h-6m0-11h6v-2h-6m0-7h6v-2h-6m0-11h6v-1h-6m0-60h6v-2h-6m0-7h6v-2h-6m0-11h6v-2h-6m0-38h6v-2h-6m0-7h6v-2h-6m0-5h6v-2h-6m0-34h6v-2h-6m0-7h6v-2h-6m0-15h6v-1h-6m0-8h6v-1h-6m0-17h6v-2h-6m0-1h6v-2h-6m0-22h6v-2h-6m0-7h6v-2h-6m6 665h5v-2h-5m0-33h5v-1h-5m0-17h5v-2h-5m0-36h5v-2h-5m0-47h5v-1h-5m0-80h5v-2h-5m0-51h5v-1h-5m0-4h5v-2h-5m0-34h5v-4h-5m0-5h5v-2h-5m0-26h5v-1h-5m0-24h5v-2h-5m0-18h5v-2h-5m0-1h5v-2h-5m0-4h5v-2h-5m0-3h5v-2h-5m0-4h5v-2h-5m0-3h5v-2h-5m0-36h5v-2h-5m0-13h5v-1h-5m0-6h5v-2h-5m0-2h5v-3h-5m0-18h5v-2h-5m0-5h5v-2h-5m0-6h5v-2h-5m0-16h5v-2h-5m0-9h5v-2h-5m0-10h5v-2h-5m0-13h5v-2h-5m0-36h5v-7h-5m0-2h5v-2h-5m0-5h5v-4h-5m0-5h5v-2h-5m0-15h5v-3h-5m5 626h6v-1h-6m0-22h6v-2h-6m0-23h6v-2h-6m0-8h6v-1h-6m0-67h6v-2h-6m0-31h6v-2h-6m0-16h6v-2h-6m0-14h6v-2h-6m0-29h6v-2h-6m0-112h6v-2h-6m0-24h6v-1h-6m0-47h6v-2h-6m0-131h6v-2h-6m0-7h6v-2h-6m0-23h6v-2h-6m0-7h6v-2h-6m0-47h6v-2h-6m6 648h5v-3h-5m0-38h5v-2h-5m0-2h5v-2h-5m0-3h5v-2h-5m0-5h5v-2h-5m0-8h5v-1h-5m0-26h5v-2h-5m0-105h5v-1h-5m0-22h5v-2h-5m0-13h5v-1h-5m0-11h5v-2h-5m0-58h5v-2h-5m0-22h5v-1h-5m0-9h5v-2h-5m0-6h5v-1h-5m0-66h5v-3h-5m0-22h5v-2h-5m0-13h5v-1h-5m0-8h5v-1h-5m0-29h5v-2h-5m0-16h5v-2h-5m0-6h5v-2h-5m0-7h5v-2h-5m0-3h5v-2h-5m0-4h5v-1h-5m0-4h5v-2h-5m0-22h5v-3h-5m0-9h5v-2h-5m0-13h5v-2h-5m0-32h5v-4h-5m5 690h5v-3h-5m0-2h5v-2h-5m0-34h5v-2h-5m0-26h5v-1h-5m0-28h5v-3h-5m0-18h5v-2h-5m0-24h5v-2h-5m0-38h5v-1h-5m0-11h5v-2h-5m0-16h5v-2h-5m0-9h5v-6h-5m0-54h5v-2h-5m0-7h5v-2h-5m0-32h5v-4h-5m0-20h5v-2h-5m0-12h5v-2h-5m0-6h5v-2h-5m0-28h5v-2h-5m0-2h5v-2h-5m0-2h5v-2h-5m0-1h5v-2h-5m0-2h5v-2h-5m0-5h5v-2h-5m0-31h5v-2h-5m0-5h5v-2h-5m0-25h5v-2h-5m0-9h5v-2h-5m0-9h5v-2h-5m0-21h5v-2h-5m0-29h5v-2h-5m0-44h5v-1h-5m0-31h5v-2h-5m0-9h5v-4h-5m0-5h5v-2h-5m5 630h6v-1h-6m0-4h6v-2h-6m0-25h6v-2h-6m0-7h6v-4h-6m0-36h6v-2h-6m0-47h6v-2h-6m0-5h6v-2h-6m0-16h6v-2h-6m0-13h6v-2h-6m0-63h6v-2h-6m0-2h6v-2h-6m0-9h6v-1h-6m0-29h6v-2h-6m0-6h6v-1h-6m0-17h6v-2h-6m0-45h6v-2h-6m0-1h6v-2h-6m0-15h6v-2h-6m0-5h6v-2h-6m0-16h6v-4h-6m0-14h6v-2h-6m0-34h6v-2h-6m0-35h6v-1h-6m0-15h6v-2h-6m0-50h6v-4h-6m0-2h6v-2h-6m0-36h6v-2h-6m0-2h6v-1h-6m0-38h6v-2h-6m6 686h5v-5h-5m0-7h5v-2h-5m0-20h5v-4h-5m0-7h5v-2h-5m0-80h5v-1h-5m0-8h5v-1h-5m0-2h5v-2h-5m0-11h5v-2h-5m0-5h5v-2h-5m0-4h5v-1h-5m0-37h5v-1h-5m0-29h5v-2h-5m0-51h5v-2h-5m0-9h5v-2h-5m0-1h5v-2h-5m0-15h5v-2h-5m0-5h5v-2h-5m0-72h5v-2h-5m0-42h5v-2h-5m0-76h5v-1h-5m0-13h5v-2h-5m0-14h5v-2h-5m0-2h5v-2h-5m0-16h5v-2h-5m0-2h5v-2h-5m0-29h5v-3h-5m0-65h5v-2h-5m0-4h5v-2h-5m0-1h5v-2h-5m5 664h6v-1h-6m0-6h6v-2h-6m0-50h6v-2h-6m0-2h6v-2h-6m0-2h6v-1h-6m0-4h6v-2h-6m0-2h6v-3h-6m0-40h6v-2h-6m0-13h6v-1h-6m0-13h6v-2h-6m0-16h6v-2h-6m0-5h6v-4h-6m0-20h6v-2h-6m0-27h6v-2h-6m0-12h6v-2h-6m0-15h6v-2h-6m0-32h6v-4h-6m0-14h6v-2h-6m0-20h6v-2h-6m0-5h6v-2h-6m0-22h6v-2h-6m0-16h6v-5h-6m0-18h6v-2h-6m0-13h6v-2h-6m0-3h6v-2h-6m0-4h6v-2h-6m0-27h6v-2h-6m0-59h6v-2h-6m0-4h6v-2h-6m0-12h6v-4h-6m0-20h6v-2h-6m0-5h6v-2h-6m0-32h6v-2h-6m0-4h6v-2h-6m0-5h6v-4h-6m0-29h6v-2h-6m0-5h6v-4h-6m0-1h6v-4h-6m6 648h5v-1h-5m0-15h5v-2h-5m0-5h5v-2h-5m0-15h5v-3h-5m0-4h5v-2h-5m0-7h5v-2h-5m0-14h5v-2h-5m0-31h5v-3h-5m0-8h5v-1h-5m0-8h5v-1h-5m0-9h5v-2h-5m0-82h5v-2h-5m0-3h5v-4h-5m0-78h5v-2h-5m0-152h5v-1h-5m0-37h5v-1h-5m0-53h5v-2h-5m0-13h5v-1h-5m0-46h5v-3h-5m0-13h5v-2h-5m5 670h5v-1h-5m0-67h5v-2h-5m0-55h5v-1h-5m0-8h5v-1h-5m0-4h5v-2h-5m0-5h5v-2h-5m0-35h5v-1h-5m0-8h5v-1h-5m0-20h5v-2h-5m0-4h5v-2h-5m0-3h5v-2h-5m0-27h5v-2h-5m0-16h5v-2h-5m0-38h5v-2h-5m0-4h5v-1h-5m0-8h5v-1h-5m0-76h5v-2h-5m0-58h5v-4h-5m0-13h5v-1h-5m0-20h5v-2h-5m0-9h5v-2h-5m0-2h5v-2h-5m0-3h5v-2h-5m0-18h5v-2h-5m0-20h5v-2h-5m0-23h5v-2h-5m0-49h5v-2h-5m0-3h5v-2h-5m0-13h5v-2h-5m0-27h5v-2h-5m0-9h5v-1h-5m5 613h6v-1h-6m0-46h6v-1h-6m0-11h6v-2h-6m0-27h6v-2h-6m0-24h6v-1h-6m0-15h6v-2h-6m0-3h6v-2h-6m0-44h6v-1h-6m0-2h6v-2h-6m0-63h6v-4h-6m0-27h6v-2h-6m0-15h6v-1h-6m0-13h6v-2h-6m0-11h6v-3h-6m0-58h6v-2h-6m0-16h6v-2h-6m0-26h6v-1h-6m0-35h6v-3h-6m0-26h6v-2h-6m0-63h6v-2h-6m0-2h6v-1h-6m0-4h6v-2h-6m0-34h6v-2h-6m0-4h6v-1h-6m6 700h5v-1h-5m0-20h5v-2h-5m0-13h5v-2h-5m0-34h5v-2h-5m0-2h5v-2h-5m0-16h5v-2h-5m0-5h5v-2h-5m0-13h5v-1h-5m0-15h5v-2h-5m0-12h5v-2h-5m0-45h5v-2h-5m0-24h5v-2h-5m0-1h5v-4h-5m0-71h5v-1h-5m0-4h5v-2h-5m0-5h5v-2h-5m0-42h5v-2h-5m0-29h5v-1h-5m0-15h5v-2h-5m0-21h5v-2h-5m0-9h5v-4h-5m0-2h5v-5h-5m0-11h5v-4h-5m0-5h5v-2h-5m0-25h5v-2h-5m0-2h5v-2h-5m0-9h5v-2h-5m0-16h5v-3h-5m0-6h5v-2h-5m0-14h5v-2h-5m0-9h5v-2h-5m0-22h5v-1h-5m0-38h5v-2h-5m5 617h6v-1h-6m0-8h6v-2h-6m0-18h6v-1h-6m0-28h6v-1h-6m0-37h6v-1h-6m0-6h6v-2h-6m0-81h6v-2h-6m0-5h6v-2h-6m0-22h6v-2h-6m0-16h6v-2h-6m0-11h6v-2h-6m0-70h6v-2h-6m0-16h6v-2h-6m0-35h6v-1h-6m0-35h6v-2h-6m0-41h6v-2h-6m0-25h6v-2h-6m0-6h6v-1h-6m0-8h6v-2h-6m0-7h6v-2h-6m0-5h6v-2h-6m0-12h6v-2h-6m0-13h6v-2h-6m0-3h6v-2h-6m0-18h6v-2h-6m0-60h6v-2h-6m0-36h6v-2h-6m6 678h5v-2h-5m0-35h5v-1h-5m0-17h5v-2h-5m0-7h5v-2h-5m0-9h5v-2h-5m0-7h5v-2h-5m0-9h5v-1h-5m0-4h5v-2h-5m0-2h5v-1h-5m0-11h5v-2h-5m0-22h5v-2h-5m0-7h5v-4h-5m0-54h5v-2h-5m0-12h5v-2h-5m0-9h5v-2h-5m0-31h5v-2h-5m0-49h5v-3h-5m0-4h5v-3h-5m0-75h5v-1h-5m0-4h5v-2h-5m0-14h5v-2h-5m0-24h5v-2h-5m0-7h5v-2h-5m0-14h5v-2h-5m0-4h5v-1h-5m0-8h5v-1h-5m0-6h5v-3h-5m0-22h5v-2h-5m0-7h5v-2h-5m0-69h5v-2h-5m0-14h5v-2h-5m0-53h5v-1h-5m0-26h5v-1h-5m5 700h5v-1h-5m0-93h5v-2h-5m0-1h5v-2h-5m0-24h5v-2h-5m0-18h5v-2h-5m0-30h5v-2h-5m0-2h5v-2h-5m0-69h5v-1h-5m0-82h5v-2h-5m0-30h5v-2h-5m0-42h5v-2h-5m0-5h5v-2h-5m0-31h5v-2h-5m0-25h5v-2h-5m0-27h5v-2h-5m0-9h5v-2h-5m0-10h5v-2h-5m0-6h5v-1h-5m0-10h5v-1h-5m0-4h5v-4h-5m0-3h5v-2h-5m0-2h5v-2h-5m0-5h5v-2h-5m0-14h5v-2h-5m0-36h5v-2h-5m0-13h5v-2h-5m0-14h5v-2h-5m5 650h6v-2h-6m0-9h6v-2h-6m0-5h6v-2h-6m0-29h6v-2h-6m0-23h6v-2h-6m0-14h6v-2h-6m0-80h6v-2h-6m0-9h6v-2h-6m0-1h6v-2h-6m0-4h6v-2h-6m0-9h6v-3h-6m0-17h6v-1h-6m0-4h6v-2h-6m0-11h6v-2h-6m0-3h6v-2h-6m0-9h6v-4h-6m0-3h6v-4h-6m0-5h6v-2h-6m0-26h6v-3h-6m0-9h6v-2h-6m0-7h6v-2h-6m0-11h6v-2h-6m0-47h6v-2h-6m0-25h6v-7h-6m0-7h6v-2h-6m0-17h6v-1h-6m0-2h6v-6h-6m0-5h6v-2h-6m0-11h6v-3h-6m0-18h6v-2h-6m0-29h6v-2h-6m0-20h6v-2h-6m0-7h6v-2h-6m0-25h6v-2h-6m0-16h6v-4h-6m0-45h6v-2h-6m0-5h6v-2h-6m0-33h6v-2h-6m6 692h5v-2h-5m0-16h5v-4h-5m0-25h5v-2h-5m0-61h5v-2h-5m0-4h5v-3h-5m0-29h5v-4h-5m0-60h5v-2h-5m0-52h5v-2h-5m0-4h5v-1h-5m0-18h5v-2h-5m0-20h5v-2h-5m0-34h5v-2h-5m0-60h5v-4h-5m0-9h5v-1h-5m0-17h5v-2h-5m0-41h5v-2h-5m0-7h5v-2h-5m0-34h5v-2h-5m0-22h5v-2h-5m0-23h5v-2h-5m0-26h5v-1h-5m0-2h5v-4h-5m0-2h5v-3h-5m0-15h5v-2h-5m0-38h5v-1h-5m5 673h6v-1h-6m0-15h6v-2h-6m0-36h6v-2h-6m0-43h6v-2h-6m0-4h6v-2h-6m0-18h6v-1h-6m0-6h6v-2h-6m0-83h6v-4h-6m0-27h6v-2h-6m0-5h6v-2h-6m0-16h6v-4h-6m0-40h6v-1h-6m0-35h6v-2h-6m0-12h6v-2h-6m0-2h6v-2h-6m0-41h6v-2h-6m0-11h6v-2h-6m0-5h6v-2h-6m0-2h6v-2h-6m0-11h6v-3h-6m0-7h6v-2h-6m0-8h6v-1h-6m0-9h6v-2h-6m0-6h6v-1h-6m0-28h6v-1h-6m0-38h6v-2h-6m0-60h6v-2h-6m0-7h6v-2h-6m0-5h6v-2h-6m0-22h6v-5h-6m0-9h6v-2h-6m6 652h5v-2h-5m0-2h5v-2h-5m0-38h5v-2h-5m0-14h5v-2h-5m0-47h5v-2h-5m0-7h5v-2h-5m0-7h5v-2h-5m0-20h5v-2h-5m0-10h5v-4h-5m0-13h5v-2h-5m0-25h5v-2h-5m0-29h5v-1h-5m0-33h5v-2h-5m0-7h5v-2h-5m0-33h5v-1h-5m0-4h5v-2h-5m0-27h5v-2h-5m0-21h5v-2h-5m0-8h5v-1h-5m0-11h5v-2h-5m0-7h5v-2h-5m0-7h5v-2h-5m0-13h5v-2h-5m0-5h5v-2h-5m0-38h5v-2h-5m0-29h5v-1h-5m0-22h5v-2h-5m0-22h5v-2h-5m0-7h5v-2h-5m0-9h5v-2h-5m0-27h5v-3h-5m0-33h5v-2h-5m0-12h5v-2h-5m0-7h5v-2h-5m5 628h5v-2h-5m0-20h5v-1h-5m0-29h5v-2h-5m0-36h5v-2h-5m0-13h5v-2h-5m0-20h5v-1h-5m0-11h5v-2h-5m0-24h5v-1h-5m0-26h5v-2h-5m0-25h5v-4h-5m0-99h5v-4h-5m0-52h5v-2h-5m0-6h5v-1h-5m0-4h5v-2h-5m0-69h5v-1h-5m0-31h5v-2h-5m0-5h5v-2h-5m0-27h5v-2h-5m0-2h5v-2h-5m0-20h5v-2h-5m0-27h5v-2h-5m5 651h6v-2h-6m0-2h6v-2h-6m0-2h6v-1h-6m0-28h6v-1h-6m0-6h6v-2h-6m0-12h6v-2h-6m0-18h6v-2h-6m0-6h6v-1h-6m0-66h6v-1h-6m0-8h6v-1h-6m0-4h6v-2h-6m0-22h6v-3h-6m0-31h6v-2h-6m0-38h6v-2h-6m0-56h6v-2h-6m0-9h6v-1h-6m0-31h6v-4h-6m0-23h6v-2h-6m0-38h6v-4h-6m0-9h6v-2h-6m0-14h6v-2h-6m0-25h6v-2h-6m0-17h6v-1h-6m0-2h6v-2h-6m0-7h6v-2h-6m0-2h6v-2h-6m0-7h6v-2h-6m0-1h6v-2h-6m0-2h6v-2h-6m0-9h6v-2h-6m0-16h6v-2h-6m0-14h6v-2h-6m0-36h6v-2h-6m0-44h6v-2h-6m0-12h6v-4h-6m6 685h5v-2h-5m0-76h5v-2h-5m0-14h5v-2h-5m0-9h5v-2h-5m0-16h5v-2h-5m0-20h5v-2h-5m0-60h5v-2h-5m0-34h5v-2h-5m0-5h5v-2h-5m0-16h5v-2h-5m0-31h5v-2h-5m0-9h5v-2h-5m0-32h5v-2h-5m0-24h5v-1h-5m0-26h5v-1h-5m0-48h5v-1h-5m0-29h5v-2h-5m0-35h5v-1h-5m0-17h5v-1h-5m0-2h5v-2h-5m0-2h5v-2h-5m0-14h5v-2h-5m0-29h5v-2h-5m0-2h5v-5h-5m0-13h5v-2h-5m0-3h5v-2h-5m0-7h5v-2h-5m0-7h5v-2h-5m0-4h5v-2h-5m0-14h5v-2h-5m0-3h5v-2h-5m0-8h5v-3h-5m0-7h5v-4h-5m5 636h6v-2h-6m0-2h6v-2h-6m0-7h6v-2h-6m0-43h6v-2h-6m0-9h6v-2h-6m0-34h6v-2h-6m0-27h6v-2h-6m0-60h6v-4h-6m0-21h6v-2h-6m0-11h6v-2h-6m0-3h6v-2h-6m0-4h6v-2h-6m0-65h6v-2h-6m0-7h6v-2h-6m0-5h6v-2h-6m0-31h6v-2h-6m0-18h6v-1h-6m0-29h6v-2h-6m0-29h6v-2h-6m0-9h6v-2h-6m0-13h6v-1h-6m0-67h6v-2h-6m0-13h6v-5h-6m0-9h6v-2h-6m0-15h6v-1h-6m0-4h6v-2h-6m0-4h6v-1h-6m0-28h6v-1h-6m0-20h6v-2h-6m6 694h5v-2h-5m0-17h5v-1h-5m0-11h5v-2h-5m0-29h5v-2h-5m0-31h5v-1h-5m0-24h5v-2h-5m0-41h5v-2h-5m0-17h5v-1h-5m0-35h5v-2h-5m0-25h5v-2h-5m0-7h5v-2h-5m0-23h5v-2h-5m0-18h5v-2h-5m0-87h5v-2h-5m0-16h5v-2h-5m0-5h5v-2h-5m0-6h5v-1h-5m0-6h5v-2h-5m0-11h5v-1h-5m0-4h5v-2h-5m0-3h5v-2h-5m0-18h5v-2h-5m0-9h5v-2h-5m0-31h5v-2h-5m0-3h5v-4h-5m0-5h5v-2h-5m0-2h5v-2h-5m0-7h5v-2h-5m0-27h5v-2h-5m0-2h5v-1h-5m0-29h5v-2h-5m0-2h5v-2h-5m0-5h5v-4h-5m0-5h5v-2h-5m0-24h5v-1h-5m5 624h5v-1h-5m0-2h5v-2h-5m0-7h5v-2h-5m0-60h5v-2h-5m0-3h5v-2h-5m0-11h5v-2h-5m0-14h5v-6h-5m0-2h5v-1h-5m0-13h5v-2h-5m0-7h5v-2h-5m0-9h5v-2h-5m0-58h5v-1h-5m0-66h5v-2h-5m0-9h5v-1h-5m0-29h5v-4h-5m0-24h5v-1h-5m0-4h5v-2h-5m0-43h5v-2h-5m0-4h5v-1h-5m0-8h5v-2h-5m0-12h5v-2h-5m0-16h5v-2h-5m0-31h5v-2h-5m0-32h5v-2h-5m0-16h5v-4h-5m0-15h5v-1h-5m0-31h5v-2h-5m0-34h5v-2h-5m0-9h5v-2h-5m0-2h5v-3h-5m0-6h5v-2h-5m0-5h5v-2h-5m5 677h6v-1h-6m0-19h6v-1h-6m0-31h6v-2h-6m0-36h6v-2h-6m0-40h6v-2h-6m0-74h6v-2h-6m0-2h6v-1h-6m0-6h6v-2h-6m0-21h6v-2h-6m0-31h6v-2h-6m0-7h6v-2h-6m0-11h6v-1h-6m0-29h6v-2h-6m0-60h6v-2h-6m0-12h6v-2h-6m0-35h6v-2h-6m0-10h6v-2h-6m0-51h6v-2h-6m0-23h6v-2h-6m0-2h6v-3h-6m0-84h6v-2h-6m0-30h6v-2h-6m0-17h6v-1h-6m0-13h6v-2h-6m11 667h6v-2h-6m0-18h6v-2h-6m0-27h6v-2h-6m0-34h6v-2h-6m0-17h6v-1h-6m0-87h6v-2h-6m0-15h6v-1h-6m0-2h6v-2h-6m0-18h6v-2h-6m0-2h6v-2h-6m0-7h6v-2h-6m0-23h6v-2h-6m0-7h6v-2h-6m0-53h6v-1h-6m0-13h6v-2h-6m0-49h6v-2h-6m0-41h6v-2h-6m0-25h6v-2h-6m0-6h6v-1h-6m0-44h6v-2h-6m0-11h6v-1h-6m0-69h6v-2h-6m0-13h6v-2h-6m0-7h6v-2h-6m0-21h6v-2h-6m0-4h6v-2h-6m0-12h6v-2h-6m11 685h5v-2h-5m0-37h5v-1h-5m0-29h5v-2h-5m0-20h5v-2h-5m0-89h5v-1h-5m0-38h5v-2h-5m0-13h5v-5h-5m0-35h5v-2h-5m0-94h5v-2h-5m0-23h5v-2h-5m0-87h5v-2h-5m0-3h5v-2h-5m0-40h5v-2h-5m0-32h5v-2h-5m0-9h5v-2h-5m0-38h5v-2h-5m0-51h5v-1h-5m11 633h5v-1h-5m0-8h5v-1h-5m0-20h5v-2h-5m0-13h5v-2h-5m0-3h5v-2h-5m0-4h5v-1h-5m0-19h5v-1h-5m0-20h5v-2h-5m0-7h5v-2h-5m0-24h5v-2h-5m0-19h5v-2h-5m0-36h5v-2h-5m0-2h5v-2h-5m0-18h5v-2h-5m0-11h5v-2h-5m0-16h5v-2h-5m0-23h5v-2h-5m0-9h5v-2h-5m0-34h5v-2h-5m0-112h5v-2h-5m0-16h5v-2h-5m0-9h5v-2h-5m0-18h5v-2h-5m0-16h5v-2h-5m0-13h5v-2h-5m0-7h5v-2h-5m0-31h5v-1h-5m0-53h5v-2h-5m0-7h5v-2h-5m11 638h5v-4h-5m0-20h5v-2h-5m0-10h5v-2h-5m0-4h5v-2h-5m0-5h5v-2h-5m0-51h5v-1h-5m0-49h5v-2h-5m0-27h5v-2h-5m0-80h5v-3h-5m0-4h5v-2h-5m0-81h5v-2h-5m0-4h5v-2h-5m0-3h5v-2h-5m0-7h5v-2h-5m0-51h5v-2h-5m0-39h5v-2h-5m0-56h5v-2h-5m0-78h5v-2h-5m0-5h5v-2h-5m10 636h6v-2h-6m0-6h6v-2h-6m0-3h6v-2h-6m0-7h6v-2h-6m0-24h6v-1h-6m0-4h6v-4h-6m0-3h6v-2h-6m0-60h6v-2h-6m0-9h6v-2h-6m0-50h6v-2h-6m0-54h6v-2h-6m0-35h6v-1h-6m0-46h6v-1h-6m0-8h6v-2h-6m0-30h6v-2h-6m0-2h6v-2h-6m0-34h6v-2h-6m0-4h6v-1h-6m0-145h6v-2h-6m0-4h6v-2h-6m0-36h6v-3h-6m0-51h6v-2h-6m0-20h6v-3h-6m0-6h6v-2h-6m11 665h6v-2h-6m0-34h6v-2h-6m0-33h6v-1h-6m0-13h6v-2h-6m0-27h6v-2h-6m0-7h6v-2h-6m0-11h6v-2h-6m0-1h6v-2h-6m0-15h6v-2h-6m0-29h6v-1h-6m0-24h6v-2h-6m0-2h6v-1h-6m0-8h6v-1h-6m0-6h6v-2h-6m0-83h6v-2h-6m0-2h6v-1h-6m0-26h6v-3h-6m0-8h6v-1h-6m0-20h6v-2h-6m0-20h6v-2h-6m0-22h6v-1h-6m0-28h6v-3h-6m0-17h6v-1h-6m0-22h6v-2h-6m0-119h6v-2h-6m11 614h5v-2h-5m0-9h5v-2h-5m0-18h5v-2h-5m0-2h5v-3h-5m0-15h5v-3h-5m0-55h5v-2h-5m0-30h5v-2h-5m0-9h5v-4h-5m0-14h5v-2h-5m0-6h5v-3h-5m0-84h5v-1h-5m0-140h5v-5h-5m0-11h5v-2h-5m0-52h5v-2h-5m0-38h5v-2h-5m0-54h5v-2h-5m0-16h5v-2h-5m0-9h5v-2h-5m0-36h5v-2h-5m0-2h5v-2h-5m27 685h5v-2h-5m0-58h5v-2h-5m0-32h5v-2h-5m0-35h5v-1h-5m0-4h5v-2h-5m0-25h5v-2h-5m0-20h5v-2h-5m0-14h5v-2h-5m0-9h5v-2h-5m0-14h5v-2h-5m0-31h5v-2h-5m0-11h5v-2h-5m0-56h5v-1h-5m0-15h5v-2h-5m0-2h5v-1h-5m0-17h5v-2h-5m0-41h5v-2h-5m0-72h5v-2h-5m0-18h5v-2h-5m0-9h5v-2h-5m0-11h5v-2h-5m0-21h5v-2h-5m0-15h5v-2h-5m0-47h5v-1h-5m0-58h5v-2h-5m27 670h5v-2h-5m0-2h5v-2h-5m0-12h5v-2h-5m0-121h5v-2h-5m0-26h5v-1h-5m0-11h5v-2h-5m0-40h5v-2h-5m0-25h5v-2h-5m0-47h5v-2h-5m0-5h5v-2h-5m0-43h5v-2h-5m0-8h5v-1h-5m0-27h5v-2h-5m0-55h5v-1h-5m0-22h5v-2h-5m0-4h5v-1h-5m0-8h5v-1h-5m0-29h5v-2h-5m0-6h5v-1h-5m0-2h5v-2h-5m0-2h5v-2h-5m0-34h5v-2h-5m0-81h5v-2h-5m27 643h5v-2h-5m0-9h5v-4h-5m0-9h5v-2h-5m0-36h5v-2h-5m0-45h5v-2h-5m0-2h5v-1h-5m0-4h5v-2h-5m0-13h5v-1h-5m0-15h5v-2h-5m0-41h5v-2h-5m0-62h5v-2h-5m0-5h5v-2h-5m0-5h5v-2h-5m0-7h5v-2h-5m0-38h5v-2h-5m0-16h5v-2h-5m0-98h5v-2h-5m0-36h5v-2h-5m0-38h5v-1h-5m0-10h5v-1h-5m0-2h5v-2h-5m0-4h5v-1h-5m0-8h5v-1h-5m0-2h5v-2h-5m0-4h5v-3h-5m0-75h5v-1h-5m0-8h5v-1h-5m0-8h5v-2h-5m0-10h5v-2h-5m0-4h5v-3h-5m27 677h5v-2h-5m0-25h5v-2h-5m0-7h5v-2h-5m0-40h5v-2h-5m0-12h5v-2h-5m0-4h5v-2h-5m0-7h5v-2h-5m0-2h5v-1h-5m0-4h5v-2h-5m0-9h5v-2h-5m0-2h5v-1h-5m0-46h5v-1h-5m0-49h5v-2h-5m0-22h5v-3h-5m0-20h5v-2h-5m0-22h5v-2h-5m0-49h5v-1h-5m0-80h5v-2h-5m0-13h5v-1h-5m0-29h5v-2h-5m0-7h5v-2h-5m27 496h5v-2h-5m0-9h5v-2h-5m0-3h5v-2h-5m0-4h5v-2h-5m0-36h5v-2h-5m0-7h5v-2h-5m0-18h5v-2h-5m0-14h5v-2h-5m0-107h5v-2h-5m0-1h5v-2h-5m0-20h5v-2h-5m0-14h5v-2h-5m0-42h5v-2h-5m0-14h5v-2h-5m0-7h5v-2h-5m0-7h5v-2h-5m0-38h5v-4h-5m0-2h5v-1h-5m0-29h5v-2h-5m0-20h5v-2h-5m0-25h5v-2h-5m0-78h5v-2h-5m0-34h5v-2h-5m0-40h5v-2h-5m0-49h5v-1h-5m0-2h5v-2h-5m27 636h5v-2h-5m0-15h5v-1h-5m0-26h5v-2h-5m0-12h5v-2h-5m0-16h5v-2h-5m0-6h5v-1h-5m0-9h5v-6h-5m0-18h5v-2h-5m0-3h5v-2h-5m0-36h5v-2h-5m0-75h5v-1h-5m0-11h5v-2h-5m0-4h5v-1h-5m0-71h5v-2h-5m0-7h5v-2h-5m0-38h5v-2h-5m0-2h5v-1h-5m0-42h5v-2h-5m0-31h5v-1h-5m0-11h5v-2h-5m0-18h5v-2h-5m0-13h5v-2h-5m0-16h5v-2h-5m0-7h5v-2h-5m0-14h5v-2h-5m0-42h5v-1h-5m0-42h5v-2h-5m0-16h5v-2h-5m0-2h5v-2h-5"/>
<path fill="#470f62" d="M124 775h6v-2h-6m0-4h6v-2h-6m0-18h6v-2h-6m0-7h6v-4h-6m0-38h6v-3h-6m0-29h6v-2h-6m0-40h6v-2h-6m0-45h6v-2h-6m0-5h6v-2h-6m0-9h6v-2h-6m0-29h6v-2h-6m0-9h6v-1h-6m0-4h6v-2h-6m0-14h6v-2h-6m0-26h6v-1h-6m0-22h6v-2h-6m0-33h6v-1h-6m0-6h6v-3h-6m0-20h6v-2h-6m0-2h6v-2h-6m0-9h6v-2h-6m0-3h6v-2h-6m0-56h6v-2h-6m0-24h6v-3h-6m0-51h6v-2h-6m0-23h6v-2h-6m0-24h6v-1h-6m0-18h6v-2h-6m0-29h6v-2h-6m6 614h5v-2h-5m0-43h5v-2h-5m0-53h5v-2h-5m0-23h5v-2h-5m0-2h5v-2h-5m0-7h5v-2h-5m0-7h5v-2h-5m0-7h5v-2h-5m0-14h5v-2h-5m0-2h5v-2h-5m0-16h5v-2h-5m0-3h5v-4h-5m0-7h5v-2h-5m0-18h5v-2h-5m0-2h5v-2h-5m0-3h5v-2h-5m0-15h5v-1h-5m0-44h5v-2h-5m0-76h5v-1h-5m0-4h5v-6h-5m0-21h5v-2h-5m0-4h5v-1h-5m0-6h5v-2h-5m0-14h5v-2h-5m0-2h5v-2h-5m0-21h5v-2h-5m0-9h5v-4h-5m0-3h5v-2h-5m0-6h5v-3h-5m0-62h5v-2h-5m0-36h5v-2h-5m0-23h5v-2h-5m5 634h5v-2h-5m0-20h5v-2h-5m0-63h5v-2h-5m0-7h5v-2h-5m0-149h5v-1h-5m0-17h5v-2h-5m0-12h5v-2h-5m0-5h5v-4h-5m0-74h5v-2h-5m0-36h5v-2h-5m0-9h5v-2h-5m0-5h5v-4h-5m0-7h5v-2h-5m0-22h5v-2h-5m0-107h5v-1h-5m0-20h5v-2h-5m0-2h5v-2h-5m0-5h5v-6h-5m5 604h6v-2h-6m0-22h6v-2h-6m0-22h6v-1h-6m0-4h6v-2h-6m0-61h6v-2h-6m0-6h6v-1h-6m0-31h6v-2h-6m0-13h6v-2h-6m0-3h6v-2h-6m0-11h6v-2h-6m0-7h6v-2h-6m0-32h6v-2h-6m0-2h6v-2h-6m0-3h6v-2h-6m0-9h6v-2h-6m0-2h6v-2h-6m0-11h6v-1h-6m0-9h6v-2h-6m0-16h6v-2h-6m0-42h6v-2h-6m0-20h6v-1h-6m0-22h6v-4h-6m0-7h6v-2h-6m0-9h6v-2h-6m0-38h6v-3h-6m0-6h6v-2h-6m0-3h6v-4h-6m0-5h6v-4h-6m0-5h6v-2h-6m0-4h6v-2h-6m0-36h6v-2h-6m0-9h6v-3h-6m0-4h6v-2h-6m0-54h6v-2h-6m0-27h6v-2h-6m0-27h6v-2h-6m6 705h5v-2h-5m0-16h5v-2h-5m0-33h5v-2h-5m0-2h5v-3h-5m0-112h5v-2h-5m0-17h5v-1h-5m0-4h5v-2h-5m0-7h5v-5h-5m0-8h5v-2h-5m0-1h5v-2h-5m0-45h5v-2h-5m0-58h5v-2h-5m0-25h5v-2h-5m0-2h5v-2h-5m0-2h5v-3h-5m0-38h5v-2h-5m0-11h5v-2h-5m0-2h5v-1h-5m0-8h5v-3h-5m0-26h5v-3h-5m0-2h5v-2h-5m0-7h5v-2h-5m0-22h5v-3h-5m0-22h5v-2h-5m0-14h5v-2h-5m0-7h5v-2h-5m0-2h5v-2h-5m0-5h5v-2h-5m0-34h5v-2h-5m0-85h5v-2h-5m5 659h6v-2h-6m0-7h6v-2h-6m0-23h6v-2h-6m0-6h6v-1h-6m0-31h6v-2h-6m0-74h6v-2h-6m0-18h6v-4h-6m0-7h6v-2h-6m0-3h6v-2h-6m0-15h6v-2h-6m0-9h6v-1h-6m0-4h6v-2h-6m0-90h6v-2h-6m0-9h6v-2h-6m0-13h6v-2h-6m0-67h6v-1h-6m0-15h6v-2h-6m0-9h6v-2h-6m0-43h6v-2h-6m0-9h6v-2h-6m0-5h6v-2h-6m0-29h6v-2h-6m0-50h6v-2h-6m0-4h6v-2h-6m0-30h6v-2h-6m0-6h6v-2h-6m0-19h6v-2h-6m0-15h6v-2h-6m0-3h6v-2h-6m0-2h6v-2h-6m0-5h6v-4h-6m6 669h5v-2h-5m0-9h5v-2h-5m0-4h5v-2h-5m0-12h5v-4h-5m0-34h5v-4h-5m0-2h5v-1h-5m0-15h5v-2h-5m0-20h5v-2h-5m0-163h5v-1h-5m0-33h5v-4h-5m0-52h5v-2h-5m0-23h5v-2h-5m0-2h5v-2h-5m0-11h5v-3h-5m0-27h5v-2h-5m0-2h5v-2h-5m0-14h5v-2h-5m0-13h5v-4h-5m0-7h5v-2h-5m0-14h5v-2h-5m0-56h5v-2h-5m0-11h5v-2h-5m0-30h5v-2h-5m0-18h5v-2h-5m0-24h5v-1h-5m0-6h5v-2h-5m5 696h5v-2h-5m0-45h5v-2h-5m0-132h5v-2h-5m0-42h5v-2h-5m0-16h5v-2h-5m0-41h5v-2h-5m0-51h5v-2h-5m0-164h5v-8h-5m0-5h5v-2h-5m0-2h5v-2h-5m0-83h5v-2h-5m0-45h5v-2h-5m5 560h6v-2h-6m0-273h6v-2h-6m0-60h6v-2h-6m0-2h6v-1h-6m0-2h6v-2h-6m0-9h6v-4h-6m0-11h6v-1h-6m0-6h6v-2h-6m0-7h6v-2h-6m0-36h6v-2h-6m0-63h6v-2h-6m0-5h6v-2h-6m0-47h6v-2h-6m0-40h6v-2h-6m0-20h6v-1h-6m6 704h5v-2h-5m0-12h5v-2h-5m0-2h5v-4h-5m0-14h5v-2h-5m0-5h5v-2h-5m0-11h5v-2h-5m0-72h5v-2h-5m0-67h5v-2h-5m0-40h5v-3h-5m0-116h5v-2h-5m0-13h5v-2h-5m0-5h5v-2h-5m0-7h5v-2h-5m0-18h5v-2h-5m0-11h5v-2h-5m0-1h5v-2h-5m0-17h5v-1h-5m0-4h5v-4h-5m0-14h5v-2h-5m0-20h5v-2h-5m0-1h5v-2h-5m0-53h5v-2h-5m0-74h5v-2h-5m0-45h5v-2h-5m0-3h5v-4h-5m5 654h6v-2h-6m0-20h6v-2h-6m0-45h6v-2h-6m0-22h6v-1h-6m0-13h6v-2h-6m0-2h6v-1h-6m0-69h6v-2h-6m0-2h6v-2h-6m0-2h6v-1h-6m0-8h6v-1h-6m0-15h6v-2h-6m0-18h6v-2h-6m0-49h6v-1h-6m0-11h6v-2h-6m0-25h6v-2h-6m0-4h6v-2h-6m0-1h6v-2h-6m0-13h6v-2h-6m0-16h6v-2h-6m0-5h6v-2h-6m0-24h6v-1h-6m0-37h6v-3h-6m0-76h6v-2h-6m0-38h6v-2h-6m0-9h6v-2h-6m0-9h6v-2h-6m0-74h6v-2h-6m6 688h5v-1h-5m0-4h5v-2h-5m0-3h5v-2h-5m0-9h5v-2h-5m0-7h5v-2h-5m0-29h5v-2h-5m0-14h5v-4h-5m0-15h5v-1h-5m0-6h5v-2h-5m0-117h5v-2h-5m0-27h5v-2h-5m0-62h5v-2h-5m0-25h5v-2h-5m0-11h5v-1h-5m0-42h5v-2h-5m0-163h5v-2h-5m0-30h5v-2h-5m0-47h5v-2h-5m0-9h5v-2h-5m0-14h5v-2h-5m5 663h5v-4h-5m0-7h5v-2h-5m0-16h5v-4h-5m0-205h5v-1h-5m0-66h5v-2h-5m0-5h5v-2h-5m0-11h5v-1h-5m0-4h5v-5h-5m0-51h5v-2h-5m0-16h5v-2h-5m0-92h5v-2h-5m0-69h5v-2h-5m5 571h6v-2h-6m0-11h6v-2h-6m0-9h6v-2h-6m0-18h6v-2h-6m0-3h6v-4h-6m0-2h6v-2h-6m0-27h6v-2h-6m0-23h6v-4h-6m0-21h6v-2h-6m0-53h6v-2h-6m0-14h6v-2h-6m0-5h6v-2h-6m0-78h6v-2h-6m0-16h6v-2h-6m0-36h6v-2h-6m0-40h6v-2h-6m0-63h6v-2h-6m0-32h6v-2h-6m0-13h6v-2h-6m0-41h6v-2h-6m0-20h6v-2h-6m0-9h6v-2h-6m0-11h6v-5h-6m0-24h6v-1h-6m0-19h6v-1h-6m0-8h6v-3h-6m0-2h6v-2h-6m0-2h6v-1h-6m6 677h5v-2h-5m0-4h5v-1h-5m0-17h5v-1h-5m0-120h5v-2h-5m0-7h5v-2h-5m0-36h5v-2h-5m0-4h5v-1h-5m0-73h5v-2h-5m0-56h5v-2h-5m0-14h5v-2h-5m0-5h5v-2h-5m0-9h5v-2h-5m0-2h5v-2h-5m0-1h5v-2h-5m0-7h5v-2h-5m0-69h5v-2h-5m0-14h5v-2h-5m0-2h5v-2h-5m0-38h5v-2h-5m0-34h5v-2h-5m0-20h5v-2h-5m0-36h5v-2h-5m0-3h5v-2h-5m0-13h5v-2h-5m0-7h5v-2h-5m0-5h5v-5h-5m0-29h5v-2h-5m0-26h5v-1h-5m5 702h6v-2h-6m0-19h6v-2h-6m0-31h6v-2h-6m0-11h6v-3h-6m0-19h6v-1h-6m0-17h6v-1h-6m0-17h6v-2h-6m0-34h6v-2h-6m0-34h6v-2h-6m0-24h6v-1h-6m0-66h6v-1h-6m0-80h6v-2h-6m0-9h6v-2h-6m0-11h6v-5h-6m0-43h6v-2h-6m0-33h6v-2h-6m0-5h6v-2h-6m0-38h6v-2h-6m0-27h6v-2h-6m0-11h6v-1h-6m0-4h6v-2h-6m0-40h6v-2h-6m0-67h6v-1h-6m6 646h5v-2h-5m0-23h5v-2h-5m0-25h5v-2h-5m0-7h5v-2h-5m0-105h5v-2h-5m0-7h5v-2h-5m0-6h5v-3h-5m0-2h5v-2h-5m0-2h5v-1h-5m0-4h5v-2h-5m0-12h5v-2h-5m0-15h5v-2h-5m0-12h5v-2h-5m0-16h5v-4h-5m0-2h5v-2h-5m0-38h5v-1h-5m0-96h5v-2h-5m0-9h5v-4h-5m0-33h5v-3h-5m0-33h5v-2h-5m0-14h5v-2h-5m0-45h5v-2h-5m0-27h5v-2h-5m0-42h5v-1h-5m0-8h5v-1h-5m0-35h5v-2h-5m5 701h5v-2h-5m0-12h5v-2h-5m0-13h5v-2h-5m0-9h5v-1h-5m0-89h5v-2h-5m0-15h5v-1h-5m0-38h5v-2h-5m0-2h5v-4h-5m0-9h5v-1h-5m0-17h5v-2h-5m0-50h5v-2h-5m0-47h5v-4h-5m0-9h5v-2h-5m0-25h5v-2h-5m0-5h5v-2h-5m0-16h5v-2h-5m0-6h5v-1h-5m0-6h5v-2h-5m0-61h5v-2h-5m0-15h5v-1h-5m0-4h5v-2h-5m0-11h5v-1h-5m0-2h5v-2h-5m0-18h5v-2h-5m0-92h5v-2h-5m0-16h5v-2h-5m5 574h6v-2h-6m0-18h6v-2h-6m0-31h6v-2h-6m0-21h6v-2h-6m0-36h6v-2h-6m0-20h6v-2h-6m0-49h6v-2h-6m0-30h6v-2h-6m0-20h6v-2h-6m0-27h6v-2h-6m0-47h6v-2h-6m0-29h6v-2h-6m0-23h6v-2h-6m0-13h6v-1h-6m0-29h6v-2h-6m0-2h6v-4h-6m0-1h6v-2h-6m0-113h6v-3h-6m0-4h6v-3h-6m0-18h6v-2h-6m0-44h6v-2h-6m0-10h6v-2h-6m0-4h6v-2h-6m6 705h5v-2h-5m0-4h5v-1h-5m0-9h5v-2h-5m0-37h5v-1h-5m0-8h5v-1h-5m0-2h5v-2h-5m0-29h5v-2h-5m0-99h5v-2h-5m0-36h5v-2h-5m0-9h5v-2h-5m0-4h5v-2h-5m0-7h5v-3h-5m0-8h5v-1h-5m0-2h5v-2h-5m0-15h5v-1h-5m0-58h5v-4h-5m0-7h5v-2h-5m0-9h5v-2h-5m0-13h5v-1h-5m0-28h5v-1h-5m0-76h5v-2h-5m0-40h5v-2h-5m0-5h5v-2h-5m0-15h5v-1h-5m0-11h5v-2h-5m0-2h5v-2h-5m0-20h5v-1h-5m0-22h5v-2h-5m0-2h5v-2h-5m0-18h5v-2h-5m0-14h5v-4h-5m0-1h5v-2h-5m0-11h5v-2h-5m0-7h5v-2h-5m0-2h5v-2h-5m0-9h5v-1h-5m5 706h6v-2h-6m0-54h6v-2h-6m0-2h6v-2h-6m0-49h6v-1h-6m0-86h6v-1h-6m0-8h6v-1h-6m0-53h6v-2h-6m0-9h6v-2h-6m0-67h6v-3h-6m0-6h6v-2h-6m0-21h6v-2h-6m0-27h6v-2h-6m0-16h6v-2h-6m0-2h6v-2h-6m0-14h6v-4h-6m0-42h6v-1h-6m0-26h6v-2h-6m0-14h6v-2h-6m0-14h6v-2h-6m0-42h6v-2h-6m0-10h6v-2h-6m0-91h6v-2h-6m6 696h5v-2h-5m0-9h5v-2h-5m0-7h5v-2h-5m0-9h5v-2h-5m0-5h5v-2h-5m0-33h5v-1h-5m0-10h5v-1h-5m0-8h5v-3h-5m0-4h5v-2h-5m0-9h5v-1h-5m0-17h5v-2h-5m0-16h5v-2h-5m0-9h5v-2h-5m0-3h5v-2h-5m0-22h5v-2h-5m0-12h5v-2h-5m0-51h5v-2h-5m0-5h5v-2h-5m0-16h5v-2h-5m0-74h5v-2h-5m0-11h5v-2h-5m0-32h5v-2h-5m0-80h5v-2h-5m0-3h5v-2h-5m0-49h5v-2h-5m0-50h5v-2h-5m0-18h5v-4h-5m0-2h5v-3h-5m0-9h5v-2h-5m0-7h5v-2h-5m0-6h5v-2h-5m0-38h5v-1h-5m0-6h5v-2h-5m0-3h5v-2h-5m5 695h5v-3h-5m0-6h5v-1h-5m0-8h5v-2h-5m0-12h5v-2h-5m0-18h5v-2h-5m0-7h5v-2h-5m0-9h5v-2h-5m0-49h5v-2h-5m0-47h5v-1h-5m0-44h5v-4h-5m0-23h5v-2h-5m0-83h5v-2h-5m0-25h5v-2h-5m0-6h5v-1h-5m0-2h5v-2h-5m0-2h5v-2h-5m0-7h5v-2h-5m0-18h5v-2h-5m0-7h5v-4h-5m0-34h5v-2h-5m0-3h5v-2h-5m0-13h5v-2h-5m0-18h5v-2h-5m0-7h5v-2h-5m0-11h5v-1h-5m0-26h5v-3h-5m0-2h5v-2h-5m0-13h5v-1h-5m0-17h5v-2h-5m0-7h5v-2h-5m0-18h5v-2h-5m0-5h5v-2h-5m0-20h5v-1h-5m0-8h5v-2h-5m0-10h5v-2h-5m0-7h5v-2h-5m0-17h5v-1h-5m5 684h6v-2h-6m0-68h6v-2h-6m0-111h6v-2h-6m0-3h6v-2h-6m0-27h6v-2h-6m0-129h6v-1h-6m0-133h6v-1h-6m0-2h6v-2h-6m0-2h6v-2h-6m0-38h6v-1h-6m0-6h6v-2h-6m0-5h6v-4h-6m0-152h6v-2h-6m6 661h5v-1h-5m0-19h5v-1h-5m0-2h5v-2h-5m0-7h5v-2h-5m0-4h5v-2h-5m0-7h5v-2h-5m0-14h5v-2h-5m0-7h5v-2h-5m0-11h5v-3h-5m0-4h5v-2h-5m0-9h5v-2h-5m0-3h5v-2h-5m0-15h5v-1h-5m0-19h5v-1h-5m0-4h5v-2h-5m0-41h5v-4h-5m0-2h5v-2h-5m0-3h5v-2h-5m0-9h5v-2h-5m0-7h5v-2h-5m0-25h5v-4h-5m0-5h5v-2h-5m0-2h5v-2h-5m0-38h5v-2h-5m0-23h5v-2h-5m0-22h5v-2h-5m0-1h5v-2h-5m0-7h5v-2h-5m0-2h5v-2h-5m0-2h5v-2h-5m0-1h5v-2h-5m0-7h5v-2h-5m0-24h5v-2h-5m0-3h5v-2h-5m0-5h5v-2h-5m0-33h5v-2h-5m0-3h5v-2h-5m0-4h5v-2h-5m0-9h5v-3h-5m0-6h5v-1h-5m0-33h5v-2h-5m0-47h5v-2h-5m0-3h5v-2h-5m0-2h5v-2h-5m0-11h5v-1h-5m0-6h5v-2h-5m0-2h5v-1h-5m0-20h5v-2h-5m0-27h5v-2h-5m5 710h6v-2h-6m0-5h6v-2h-6m0-2h6v-2h-6m0-9h6v-2h-6m0-23h6v-2h-6m0-24h6v-1h-6m0-2h6v-2h-6m0-2h6v-2h-6m0-21h6v-4h-6m0-22h6v-2h-6m0-32h6v-4h-6m0-9h6v-3h-6m0-13h6v-2h-6m0-23h6v-2h-6m0-6h6v-2h-6m0-38h6v-1h-6m0-6h6v-2h-6m0-18h6v-2h-6m0-34h6v-2h-6m0-5h6v-2h-6m0-27h6v-2h-6m0-16h6v-6h-6m0-20h6v-1h-6m0-26h6v-2h-6m0-12h6v-2h-6m0-20h6v-2h-6m0-2h6v-1h-6m0-22h6v-2h-6m0-7h6v-2h-6m0-7h6v-2h-6m0-25h6v-2h-6m0-9h6v-2h-6m0-4h6v-2h-6m0-9h6v-3h-6m0-11h6v-2h-6m0-40h6v-2h-6m0-25h6v-2h-6m0-3h6v-2h-6m0-4h6v-2h-6m0-43h6v-2h-6m6 701h5v-2h-5m0-32h5v-2h-5m0-13h5v-2h-5m0-32h5v-2h-5m0-2h5v-2h-5m0-2h5v-1h-5m0-20h5v-2h-5m0-7h5v-2h-5m0-6h5v-3h-5m0-44h5v-1h-5m0-2h5v-2h-5m0-9h5v-4h-5m0-157h5v-2h-5m0-7h5v-2h-5m0-4h5v-2h-5m0-14h5v-2h-5m0-5h5v-6h-5m0-3h5v-2h-5m0-9h5v-2h-5m0-35h5v-1h-5m0-35h5v-2h-5m0-30h5v-2h-5m0-6h5v-1h-5m0-17h5v-1h-5m0-62h5v-2h-5m0-22h5v-1h-5m0-37h5v-1h-5m0-2h5v-2h-5m0-16h5v-2h-5m0-15h5v-1h-5m5 704h5v-2h-5m0-3h5v-2h-5m0-2h5v-4h-5m0-21h5v-2h-5m0-26h5v-1h-5m0-2h5v-2h-5m0-5h5v-2h-5m0-35h5v-1h-5m0-66h5v-1h-5m0-22h5v-2h-5m0-25h5v-2h-5m0-65h5v-2h-5m0-4h5v-2h-5m0-34h5v-2h-5m0-20h5v-2h-5m0-23h5v-4h-5m0-31h5v-1h-5m0-87h5v-2h-5m0-53h5v-1h-5m0-15h5v-4h-5m0-25h5v-4h-5m0-19h5v-2h-5m0-6h5v-1h-5m0-24h5v-2h-5m0-2h5v-1h-5m0-10h5v-3h-5m0-2h5v-5h-5m0-11h5v-4h-5m5 705h6v-4h-6m0-25h6v-2h-6m0-16h6v-2h-6m0-11h6v-2h-6m0-16h6v-2h-6m0-18h6v-2h-6m0-2h6v-2h-6m0-7h6v-2h-6m0-7h6v-2h-6m0-38h6v-2h-6m0-9h6v-1h-6m0-9h6v-2h-6m0-18h6v-4h-6m0-13h6v-2h-6m0-34h6v-2h-6m0-34h6v-2h-6m0-4h6v-1h-6m0-17h6v-2h-6m0-34h6v-4h-6m0-12h6v-2h-6m0-20h6v-2h-6m0-12h6v-2h-6m0-13h6v-2h-6m0-20h6v-1h-6m0-22h6v-2h-6m0-9h6v-2h-6m0-2h6v-1h-6m0-15h6v-2h-6m0-9h6v-2h-6m0-11h6v-1h-6m0-8h6v-1h-6m0-4h6v-2h-6m0-16h6v-2h-6m0-25h6v-2h-6m0-4h6v-2h-6m0-12h6v-2h-6m0-2h6v-2h-6m0-1h6v-2h-6m0-18h6v-2h-6m0-24h6v-5h-6m0-16h6v-2h-6m0-22h6v-2h-6m0-9h6v-2h-6m6 708h5v-1h-5m0-29h5v-2h-5m0-49h5v-2h-5m0-9h5v-2h-5m0-14h5v-2h-5m0-49h5v-2h-5m0-7h5v-2h-5m0-11h5v-1h-5m0-4h5v-2h-5m0-11h5v-2h-5m0-27h5v-2h-5m0-79h5v-2h-5m0-15h5v-1h-5m0-33h5v-4h-5m0-7h5v-2h-5m0-20h5v-1h-5m0-28h5v-1h-5m0-46h5v-1h-5m0-42h5v-2h-5m0-25h5v-2h-5m0-5h5v-2h-5m0-4h5v-2h-5m0-16h5v-2h-5m0-3h5v-2h-5m0-17h5v-3h-5m0-62h5v-2h-5m0-27h5v-2h-5m5 680h6v-2h-6m0-15h6v-2h-6m0-18h6v-1h-6m0-13h6v-2h-6m0-4h6v-1h-6m0-20h6v-2h-6m0-33h6v-2h-6m0-12h6v-2h-6m0-2h6v-2h-6m0-25h6v-2h-6m0-12h6v-2h-6m0-2h6v-2h-6m0-2h6v-2h-6m0-5h6v-2h-6m0-34h6v-2h-6m0-7h6v-2h-6m0-24h6v-1h-6m0-9h6v-2h-6m0-9h6v-2h-6m0-7h6v-2h-6m0-2h6v-4h-6m0-18h6v-2h-6m0-14h6v-2h-6m0-2h6v-3h-6m0-8h6v-3h-6m0-18h6v-2h-6m0-13h6v-2h-6m0-9h6v-1h-6m0-17h6v-2h-6m0-21h6v-2h-6m0-49h6v-2h-6m0-16h6v-4h-6m0-9h6v-2h-6m0-72h6v-2h-6m0-9h6v-2h-6m0-7h6v-5h-6m0-6h6v-3h-6m0-20h6v-4h-6m0-29h6v-2h-6m0-9h6v-3h-6m6 690h5v-2h-5m0-40h5v-2h-5m0-20h5v-3h-5m0-4h5v-2h-5m0-20h5v-2h-5m0-10h5v-4h-5m0-7h5v-2h-5m0-24h5v-2h-5m0-14h5v-2h-5m0-43h5v-2h-5m0-15h5v-1h-5m0-62h5v-2h-5m0-29h5v-2h-5m0-19h5v-2h-5m0-13h5v-2h-5m0-3h5v-2h-5m0-2h5v-2h-5m0-56h5v-2h-5m0-136h5v-1h-5m0-6h5v-5h-5m0-13h5v-2h-5m0-16h5v-2h-5m0-9h5v-2h-5m0-20h5v-1h-5m0-29h5v-2h-5m0-29h5v-2h-5m0-2h5v-2h-5m5 685h5v-2h-5m0-13h5v-1h-5m0-4h5v-2h-5m0-14h5v-2h-5m0-9h5v-2h-5m0-20h5v-2h-5m0-9h5v-2h-5m0-20h5v-1h-5m0-11h5v-2h-5m0-34h5v-2h-5m0-15h5v-2h-5m0-10h5v-2h-5m0-7h5v-4h-5m0-85h5v-2h-5m0-13h5v-2h-5m0-19h5v-2h-5m0-24h5v-3h-5m0-13h5v-2h-5m0-9h5v-2h-5m0-92h5v-2h-5m0-43h5v-2h-5m0-42h5v-2h-5m0-16h5v-2h-5m0-31h5v-1h-5m5 612h6v-2h-6m0-11h6v-2h-6m0-2h6v-1h-6m0-9h6v-2h-6m0-84h6v-1h-6m0-66h6v-3h-6m0-13h6v-2h-6m0-5h6v-2h-6m0-2h6v-2h-6m0-1h6v-2h-6m0-7h6v-2h-6m0-71h6v-2h-6m0-34h6v-2h-6m0-49h6v-2h-6m0-3h6v-2h-6m0-16h6v-2h-6m0-16h6v-2h-6m0-17h6v-1h-6m0-4h6v-2h-6m0-2h6v-1h-6m0-35h6v-2h-6m0-12h6v-2h-6m0-31h6v-2h-6m0-3h6v-2h-6m0-18h6v-2h-6m0-7h6v-2h-6m0-2h6v-4h-6m0-10h6v-2h-6m0-36h6v-2h-6m0-17h6v-3h-6m0-6h6v-1h-6m0-4h6v-2h-6m0-2h6v-1h-6m6 664h5v-2h-5m0-9h5v-1h-5m0-20h5v-2h-5m5 34h6v-3h-6m0-35h6v-2h-6m0-72h6v-2h-6m0-2h6v-2h-6m0-65h6v-2h-6m0-72h6v-2h-6m0-7h6v-2h-6m0-3h6v-2h-6m0-13h6v-2h-6m0-116h6v-1h-6m0-86h6v-1h-6m0-37h6v-1h-6m0-26h6v-2h-6m0-10h6v-2h-6m0-2h6v-2h-6m0-43h6v-2h-6m0-26h6v-1h-6m0-24h6v-2h-6m6 674h5v-2h-5m0-3h5v-2h-5m0-29h5v-2h-5m0-7h5v-2h-5m0-4h5v-2h-5m0-3h5v-2h-5m0-2h5v-3h-5m0-24h5v-2h-5m0-2h5v-1h-5m0-6h5v-3h-5m0-4h5v-2h-5m0-5h5v-2h-5m0-13h5v-2h-5m0-7h5v-2h-5m0-20h5v-1h-5m0-13h5v-2h-5m0-3h5v-2h-5m0-6h5v-2h-5m0-5h5v-2h-5m0-67h5v-2h-5m0-7h5v-2h-5m0-7h5v-2h-5m0-14h5v-2h-5m0-13h5v-2h-5m0-16h5v-2h-5m0-10h5v-2h-5m0-2h5v-2h-5m0-34h5v-2h-5m0-16h5v-2h-5m0-2h5v-2h-5m0-7h5v-2h-5m0-42h5v-1h-5m0-15h5v-2h-5m0-1h5v-2h-5m0-13h5v-2h-5m0-3h5v-2h-5m0-4h5v-2h-5m0-11h5v-1h-5m0-18h5v-2h-5m0-18h5v-2h-5m0-44h5v-1h-5m0-4h5v-2h-5m0-23h5v-2h-5m0-4h5v-2h-5m0-7h5v-2h-5m0-2h5v-1h-5m0-11h5v-2h-5m0-4h5v-1h-5m0-17h5v-2h-5m0-10h5v-2h-5m5 695h5v-3h-5m0-22h5v-2h-5m0-49h5v-2h-5m0-34h5v-2h-5m0-159h5v-2h-5m0-47h5v-2h-5m0-5h5v-2h-5m0-67h5v-2h-5m0-78h5v-2h-5m0-3h5v-2h-5m0-24h5v-2h-5m0-3h5v-2h-5m0-4h5v-1h-5m0-2h5v-2h-5m0-7h5v-2h-5m0-4h5v-1h-5m0-48h5v-1h-5m0-20h5v-2h-5m0-89h5v-2h-5m5 683h6v-2h-6m0-43h6v-2h-6m0-4h6v-1h-6m0-104h6v-3h-6m0-8h6v-1h-6m0-11h6v-2h-6m0-7h6v-2h-6m0-25h6v-2h-6m0-6h6v-1h-6m0-24h6v-4h-6m0-34h6v-2h-6m0-32h6v-2h-6m0-62h6v-2h-6m0-18h6v-2h-6m0-29h6v-3h-6m0-2h6v-2h-6m0-5h6v-2h-6m0-7h6v-2h-6m0-9h6v-2h-6m0-74h6v-2h-6m0-22h6v-2h-6m0-18h6v-2h-6m0-56h6v-1h-6m0-20h6v-2h-6m0-2h6v-2h-6m0-7h6v-2h-6m6 699h5v-2h-5m0-21h5v-2h-5m0-2h5v-2h-5m0-2h5v-1h-5m0-20h5v-2h-5m0-9h5v-7h-5m0-115h5v-1h-5m0-38h5v-2h-5m0-47h5v-2h-5m0-15h5v-1h-5m0-11h5v-2h-5m0-7h5v-6h-5m0-7h5v-2h-5m0-16h5v-2h-5m0-42h5v-1h-5m0-2h5v-2h-5m0-2h5v-2h-5m0-3h5v-2h-5m0-27h5v-2h-5m0-18h5v-2h-5m0-78h5v-2h-5m0-5h5v-2h-5m0-27h5v-2h-5m0-16h5v-2h-5m5 587h6v-2h-6m0-2h6v-3h-6m0-4h6v-2h-6m0-25h6v-2h-6m0-15h6v-1h-6m0-17h6v-1h-6m0-4h6v-2h-6m0-13h6v-1h-6m0-9h6v-2h-6m0-24h6v-2h-6m0-16h6v-2h-6m0-29h6v-1h-6m0-2h6v-2h-6m0-22h6v-2h-6m0-3h6v-2h-6m0-6h6v-1h-6m0-2h6v-2h-6m0-13h6v-3h-6m0-6h6v-3h-6m0-26h6v-3h-6m0-2h6v-2h-6m0-4h6v-1h-6m0-9h6v-4h-6m0-5h6v-2h-6m0-11h6v-2h-6m0-5h6v-2h-6m0-31h6v-4h-6m0-32h6v-2h-6m0-20h6v-2h-6m0-14h6v-4h-6m0-9h6v-2h-6m0-2h6v-1h-6m0-24h6v-2h-6m0-21h6v-2h-6m0-2h6v-2h-6m0-11h6v-2h-6m0-14h6v-2h-6m0-63h6v-2h-6m0-2h6v-2h-6m0-38h6v-1h-6m0-11h6v-2h-6m0-6h6v-1h-6m6 650h5v-2h-5m0-56h5v-2h-5m0-116h5v-2h-5m0-50h5v-2h-5m0-7h5v-2h-5m0-6h5v-2h-5m0-32h5v-2h-5m0-38h5v-2h-5m0-3h5v-2h-5m0-2h5v-2h-5m0-14h5v-2h-5m0-31h5v-2h-5m0-5h5v-2h-5m0-16h5v-2h-5m0-2h5v-2h-5m0-2h5v-1h-5m0-20h5v-2h-5m0-18h5v-2h-5m0-109h5v-1h-5m0-4h5v-2h-5m0-13h5v-1h-5m0-11h5v-2h-5m0-15h5v-1h-5m0-42h5v-2h-5m5 665h5v-2h-5m0-65h5v-2h-5m0-5h5v-2h-5m0-24h5v-2h-5m0-36h5v-2h-5m0-9h5v-2h-5m0-18h5v-1h-5m0-4h5v-2h-5m0-2h5v-1h-5m0-8h5v-2h-5m0-5h5v-2h-5m0-43h5v-2h-5m0-47h5v-2h-5m0-5h5v-2h-5m0-15h5v-2h-5m0-16h5v-2h-5m0-9h5v-1h-5m0-17h5v-2h-5m0-5h5v-2h-5m0-2h5v-1h-5m0-51h5v-2h-5m0-2h5v-2h-5m0-10h5v-2h-5m0-4h5v-2h-5m0-29h5v-1h-5m0-2h5v-2h-5m0-4h5v-2h-5m0-32h5v-2h-5m0-2h5v-2h-5m0-7h5v-2h-5m0-1h5v-2h-5m0-9h5v-2h-5m0-22h5v-2h-5m0-18h5v-3h-5m0-9h5v-4h-5m0-2h5v-5h-5m0-37h5v-1h-5m5 650h6v-2h-6m0-5h6v-2h-6m0-20h6v-4h-6m0-36h6v-2h-6m0-87h6v-2h-6m0-7h6v-2h-6m0-1h6v-2h-6m0-11h6v-2h-6m0-14h6v-2h-6m0-6h6v-1h-6m0-8h6v-2h-6m0-12h6v-4h-6m0-40h6v-1h-6m0-67h6v-4h-6m0-16h6v-2h-6m0-60h6v-2h-6m0-18h6v-4h-6m0-21h6v-2h-6m0-16h6v-2h-6m0-31h6v-2h-6m0-20h6v-1h-6m0-31h6v-2h-6m0-11h6v-2h-6m0-2h6v-1h-6m0-31h6v-2h-6m0-13h6v-1h-6m0-19h6v-1h-6m0-2h6v-2h-6m0-7h6v-2h-6m0-18h6v-2h-6m6 683h5v-2h-5m0-22h5v-2h-5m0-38h5v-1h-5m0-31h5v-2h-5m0-24h5v-1h-5m0-6h5v-3h-5m0-4h5v-2h-5m0-25h5v-2h-5m0-5h5v-2h-5m0-2h5v-4h-5m0-3h5v-2h-5m0-4h5v-2h-5m0-7h5v-2h-5m0-16h5v-4h-5m0-18h5v-1h-5m0-24h5v-2h-5m0-5h5v-2h-5m0-7h5v-2h-5m0-2h5v-4h-5m0-29h5v-1h-5m0-8h5v-1h-5m0-2h5v-2h-5m0-31h5v-2h-5m0-5h5v-2h-5m0-2h5v-3h-5m0-11h5v-2h-5m0-7h5v-2h-5m0-2h5v-2h-5m0-49h5v-1h-5m0-93h5v-2h-5m0-1h5v-2h-5m0-4h5v-2h-5m0-20h5v-1h-5m0-8h5v-1h-5m0-11h5v-2h-5m0-4h5v-2h-5m0-30h5v-2h-5m0-2h5v-2h-5m0-18h5v-2h-5m0-5h5v-2h-5m0-2h5v-2h-5m0-10h5v-2h-5m5 670h6v-2h-6m0-27h6v-2h-6m0-43h6v-2h-6m0-7h6v-2h-6m0-11h6v-2h-6m0-4h6v-1h-6m0-4h6v-2h-6m0-2h6v-1h-6m0-11h6v-2h-6m0-33h6v-1h-6m0-8h6v-2h-6m0-12h6v-2h-6m0-16h6v-2h-6m0-15h6v-1h-6m0-6h6v-2h-6m0-27h6v-2h-6m0-23h6v-4h-6m0-43h6v-2h-6m0-7h6v-2h-6m0-9h6v-4h-6m0-22h6v-3h-6m0-6h6v-3h-6m0-24h6v-2h-6m0-18h6v-2h-6m0-14h6v-2h-6m0-23h6v-2h-6m0-11h6v-4h-6m0-25h6v-2h-6m0-23h6v-2h-6m0-22h6v-2h-6m0-25h6v-2h-6m0-16h6v-2h-6m0-22h6v-3h-6m0-4h6v-2h-6m0-3h6v-2h-6m0-2h6v-2h-6m0-32h6v-2h-6m6 695h5v-2h-5m0-7h5v-2h-5m0-16h5v-2h-5m0-5h5v-4h-5m0-7h5v-2h-5m0-38h5v-4h-5m0-10h5v-2h-5m0-11h5v-4h-5m0-2h5v-1h-5m0-17h5v-1h-5m0-33h5v-2h-5m0-11h5v-2h-5m0-7h5v-2h-5m0-27h5v-2h-5m0-10h5v-2h-5m0-2h5v-2h-5m0-31h5v-1h-5m0-48h5v-3h-5m0-4h5v-2h-5m0-25h5v-2h-5m0-18h5v-2h-5m0-3h5v-2h-5m0-11h5v-2h-5m0-23h5v-2h-5m0-11h5v-2h-5m0-25h5v-2h-5m0-43h5v-2h-5m0-15h5v-2h-5m0-90h5v-2h-5m0-2h5v-2h-5m0-5h5v-2h-5m0-20h5v-2h-5m0-52h5v-2h-5m5 699h5v-3h-5m0-29h5v-2h-5m0-7h5v-2h-5m0-24h5v-2h-5m0-1h5v-4h-5m0-15h5v-1h-5m0-4h5v-2h-5m0-3h5v-2h-5m0-29h5v-2h-5m0-9h5v-2h-5m0-76h5v-2h-5m0-5h5v-2h-5m0-14h5v-2h-5m0-8h5v-1h-5m0-9h5v-2h-5m0-15h5v-2h-5m0-7h5v-2h-5m0-39h5v-2h-5m0-44h5v-2h-5m0-10h5v-2h-5m0-7h5v-2h-5m0-4h5v-2h-5m0-3h5v-2h-5m0-7h5v-2h-5m0-2h5v-2h-5m0-11h5v-3h-5m0-8h5v-1h-5m0-27h5v-2h-5m0-6h5v-2h-5m0-27h5v-2h-5m0-10h5v-2h-5m0-40h5v-2h-5m0-23h5v-2h-5m0-26h5v-1h-5m0-9h5v-2h-5m0-7h5v-2h-5m0-27h5v-2h-5m0-2h5v-2h-5m0-2h5v-2h-5m0-12h5v-4h-5m5 687h6v-2h-6m0-35h6v-1h-6m0-53h6v-2h-6m0-20h6v-2h-6m0-19h6v-4h-6m0-22h6v-2h-6m0-5h6v-2h-6m0-5h6v-2h-6m0-13h6v-2h-6m0-7h6v-2h-6m0-11h6v-1h-6m0-11h6v-2h-6m0-9h6v-2h-6m0-18h6v-2h-6m0-14h6v-2h-6m0-44h6v-1h-6m0-18h6v-2h-6m0-6h6v-2h-6m0-29h6v-1h-6m0-2h6v-2h-6m0-11h6v-2h-6m0-18h6v-2h-6m0-52h6v-2h-6m0-18h6v-4h-6m0-32h6v-2h-6m0-7h6v-2h-6m0-100h6v-3h-6m0-2h6v-2h-6m0-2h6v-2h-6m0-5h6v-2h-6m0-25h6v-6h-6m0-3h6v-2h-6m0-9h6v-2h-6m0-2h6v-1h-6m6 704h5v-2h-5m0-63h5v-2h-5m0-43h5v-2h-5m0-56h5v-2h-5m0-42h5v-2h-5m0-21h5v-2h-5m0-9h5v-2h-5m0-44h5v-1h-5m0-4h5v-2h-5m0-9h5v-2h-5m0-30h5v-2h-5m0-4h5v-2h-5m0-12h5v-2h-5m0-9h5v-2h-5m0-53h5v-3h-5m0-17h5v-1h-5m0-35h5v-2h-5m0-3h5v-2h-5m0-9h5v-2h-5m0-2h5v-1h-5m0-22h5v-2h-5m0-4h5v-1h-5m0-6h5v-5h-5m0-22h5v-4h-5m0-29h5v-1h-5m0-4h5v-2h-5m0-20h5v-2h-5m0-12h5v-2h-5m0-33h5v-2h-5m5 680h6v-2h-6m0-4h6v-2h-6m0-23h6v-2h-6m0-22h6v-2h-6m0-36h6v-2h-6m0-1h6v-2h-6m0-7h6v-2h-6m0-15h6v-2h-6m0-3h6v-2h-6m0-4h6v-1h-6m0-4h6v-2h-6m0-32h6v-2h-6m0-7h6v-2h-6m0-15h6v-3h-6m0-13h6v-2h-6m0-2h6v-3h-6m0-8h6v-1h-6m0-18h6v-2h-6m0-2h6v-2h-6m0-11h6v-2h-6m0-12h6v-2h-6m0-2h6v-2h-6m0-12h6v-4h-6m0-4h6v-1h-6m0-31h6v-2h-6m0-63h6v-2h-6m0-94h6v-2h-6m0-6h6v-1h-6m0-8h6v-2h-6m0-5h6v-2h-6m0-36h6v-2h-6m0-54h6v-4h-6m0-2h6v-1h-6m0-2h6v-2h-6m0-2h6v-2h-6m0-30h6v-2h-6m0-4h6v-2h-6m0-12h6v-2h-6m0-15h6v-1h-6m6 657h5v-2h-5m0-11h5v-2h-5m0-10h5v-4h-5m0-16h5v-2h-5m0-7h5v-2h-5m0-6h5v-1h-5m0-9h5v-2h-5m0-2h5v-2h-5m0-14h5v-2h-5m0-6h5v-1h-5m0-11h5v-2h-5m0-6h5v-1h-5m0-28h5v-1h-5m0-18h5v-2h-5m0-17h5v-1h-5m0-9h5v-2h-5m0-7h5v-4h-5m0-35h5v-1h-5m0-8h5v-3h-5m0-13h5v-2h-5m0-16h5v-2h-5m0-2h5v-1h-5m0-22h5v-2h-5m0-7h5v-4h-5m0-2h5v-1h-5m0-17h5v-2h-5m0-10h5v-2h-5m0-29h5v-2h-5m0-18h5v-2h-5m0-25h5v-2h-5m0-2h5v-2h-5m0-3h5v-2h-5m0-7h5v-2h-5m0-11h5v-2h-5m0-42h5v-1h-5m0-20h5v-4h-5m0-14h5v-2h-5m0-20h5v-2h-5m0-13h5v-1h-5m0-4h5v-2h-5m0-3h5v-2h-5m0-2h5v-2h-5m0-5h5v-4h-5m0-25h5v-2h-5m0-15h5v-3h-5m5 693h5v-1h-5m0-19h5v-1h-5m0-4h5v-2h-5m0-7h5v-2h-5m0-5h5v-2h-5m0-7h5v-6h-5m0-38h5v-2h-5m0-5h5v-2h-5m0-13h5v-1h-5m0-29h5v-2h-5m0-116h5v-2h-5m0-9h5v-2h-5m0-5h5v-4h-5m0-3h5v-2h-5m0-4h5v-2h-5m0-29h5v-1h-5m0-11h5v-2h-5m0-6h5v-1h-5m0-2h5v-2h-5m0-29h5v-4h-5m0-61h5v-2h-5m0-13h5v-3h-5m0-36h5v-2h-5m0-42h5v-2h-5m0-3h5v-2h-5m0-16h5v-2h-5m0-4h5v-2h-5m0-29h5v-2h-5m0-5h5v-2h-5m0-40h5v-1h-5m0-4h5v-2h-5m0-5h5v-2h-5m5 594h6v-2h-6m0-43h6v-2h-6m0-18h6v-2h-6m0-15h6v-1h-6m0-60h6v-4h-6m0-40h6v-3h-6m0-2h6v-2h-6m0-38h6v-2h-6m0-30h6v-2h-6m0-27h6v-2h-6m0-6h6v-2h-6m0-5h6v-4h-6m0-1h6v-2h-6m0-7h6v-4h-6m0-44h6v-1h-6m0-6h6v-2h-6m0-14h6v-2h-6m0-23h6v-2h-6m0-7h6v-2h-6m0-29h6v-2h-6m0-2h6v-2h-6m0-9h6v-2h-6m0-7h6v-2h-6m0-5h6v-2h-6m0-3h6v-2h-6m0-6h6v-2h-6m0-34h6v-2h-6m0-7h6v-2h-6m0-11h6v-1h-6m0-11h6v-2h-6m0-2h6v-2h-6m6 614h5v-2h-5m0-30h5v-4h-5m0-9h5v-2h-5m0-4h5v-3h-5m0-13h5v-2h-5m0-9h5v-3h-5m0-11h5v-4h-5m0-7h5v-2h-5m0-4h5v-7h-5m0-14h5v-2h-5m0-18h5v-2h-5m0-22h5v-2h-5m0-14h5v-2h-5m0-20h5v-2h-5m0-50h5v-2h-5m0-18h5v-2h-5m0-7h5v-4h-5m0-20h5v-2h-5m0-30h5v-2h-5m0-2h5v-2h-5m0-16h5v-2h-5m0-5h5v-2h-5m0-35h5v-3h-5m0-29h5v-2h-5m0-7h5v-2h-5m0-15h5v-1h-5m0-15h5v-2h-5m0-3h5v-2h-5m0-4h5v-1h-5m0-2h5v-4h-5m0-23h5v-4h-5m0-18h5v-2h-5m0-24h5v-1h-5m0-2h5v-2h-5m0-4h5v-1h-5m0-4h5v-2h-5m0-32h5v-4h-5m0-18h5v-2h-5m0-4h5v-1h-5m5 691h6v-1h-6m0-11h6v-2h-6m0-36h6v-2h-6m0-4h6v-2h-6m0-5h6v-2h-6m0-22h6v-1h-6m0-8h6v-1h-6m0-37h6v-1h-6m0-17h6v-3h-6m0-13h6v-2h-6m0-38h6v-2h-6m0-7h6v-2h-6m0-12h6v-2h-6m0-11h6v-2h-6m0-16h6v-4h-6m0-25h6v-4h-6m0-32h6v-2h-6m0-15h6v-2h-6m0-16h6v-2h-6m0-16h6v-4h-6m0-9h6v-1h-6m0-9h6v-2h-6m0-6h6v-2h-6m0-5h6v-2h-6m0-23h6v-2h-6m0-18h6v-2h-6m0-7h6v-2h-6m0-40h6v-2h-6m0-34h6v-4h-6m0-7h6v-2h-6m0-2h6v-1h-6m0-10h6v-3h-6m0-16h6v-2h-6m0-22h6v-2h-6m0-11h6v-1h-6m0-10h6v-1h-6m0-15h6v-2h-6m0-5h6v-2h-6m0-2h6v-3h-6m0-6h6v-2h-6m0-10h6v-2h-6m6 672h5v-2h-5m0-9h5v-2h-5m0-20h5v-2h-5m0-45h5v-2h-5m0-2h5v-1h-5m0-53h5v-2h-5m0-18h5v-2h-5m0-14h5v-2h-5m0-4h5v-1h-5m0-24h5v-2h-5m0-3h5v-2h-5m0-26h5v-1h-5m0-9h5v-2h-5m0-4h5v-2h-5m0-5h5v-2h-5m0-2h5v-2h-5m0-5h5v-2h-5m0-5h5v-2h-5m0-2h5v-2h-5m0-103h5v-2h-5m0-9h5v-2h-5m0-32h5v-2h-5m0-4h5v-3h-5m0-17h5v-1h-5m0-22h5v-2h-5m0-4h5v-1h-5m0-11h5v-6h-5m0-5h5v-2h-5m0-2h5v-1h-5m0-2h5v-2h-5m0-13h5v-2h-5m0-5h5v-2h-5m0-18h5v-2h-5m0-23h5v-2h-5m0-18h5v-2h-5m0-15h5v-1h-5m0-44h5v-2h-5m0-5h5v-2h-5m5 696h5v-6h-5m0-16h5v-2h-5m0-2h5v-2h-5m0-36h5v-2h-5m0-27h5v-2h-5m0-16h5v-2h-5m0-18h5v-2h-5m0-1h5v-2h-5m0-44h5v-2h-5m0-9h5v-1h-5m0-22h5v-2h-5m0-25h5v-2h-5m0-20h5v-4h-5m0-12h5v-2h-5m0-6h5v-1h-5m0-2h5v-2h-5m0-2h5v-3h-5m0-6h5v-2h-5m0-67h5v-2h-5m0-16h5v-2h-5m0-20h5v-1h-5m0-13h5v-4h-5m0-18h5v-2h-5m0-12h5v-2h-5m0-4h5v-1h-5m0-2h5v-2h-5m0-15h5v-1h-5m0-2h5v-2h-5m0-109h5v-2h-5m0-23h5v-2h-5m0-7h5v-2h-5m0-22h5v-1h-5m0-8h5v-2h-5m0-3h5v-2h-5m0-5h5v-2h-5m5 690h6v-2h-6m0-2h6v-2h-6m0-3h6v-2h-6m0-7h6v-2h-6m0-38h6v-2h-6m0-9h6v-2h-6m0-14h6v-2h-6m0-18h6v-2h-6m0-34h6v-2h-6m0-8h6v-1h-6m0-24h6v-2h-6m0-7h6v-2h-6m0-3h6v-2h-6m0-7h6v-2h-6m0-11h6v-2h-6m0-23h6v-2h-6m0-2h6v-2h-6m0-13h6v-1h-6m0-2h6v-2h-6m0-22h6v-2h-6m0-5h6v-2h-6m0-29h6v-2h-6m0-1h6v-4h-6m0-2h6v-2h-6m0-5h6v-2h-6m0-3h6v-6h-6m0-11h6v-2h-6m0-25h6v-2h-6m0-31h6v-1h-6m0-8h6v-1h-6m0-15h6v-2h-6m0-18h6v-3h-6m0-13h6v-2h-6m0-5h6v-4h-6m0-25h6v-6h-6m0-12h6v-2h-6m0-15h6v-2h-6m0-10h6v-2h-6m0-26h6v-1h-6m0-22h6v-2h-6m0-5h6v-2h-6m0-6h6v-1h-6m0-17h6v-3h-6m0-9h6v-2h-6m0-2h6v-2h-6m6 661h5v-2h-5m0-1h5v-2h-5m0-26h5v-1h-5m0-2h5v-2h-5m0-27h5v-2h-5m0-20h5v-2h-5m0-5h5v-2h-5m0-25h5v-2h-5m0-13h5v-2h-5m0-23h5v-2h-5m0-13h5v-1h-5m0-6h5v-2h-5m0-45h5v-2h-5m0-16h5v-4h-5m0-45h5v-2h-5m0-5h5v-2h-5m0-11h5v-2h-5m0-7h5v-4h-5m0-20h5v-1h-5m0-4h5v-2h-5m0-7h5v-2h-5m0-56h5v-2h-5m0-54h5v-2h-5m0-40h5v-2h-5m0-54h5v-2h-5m0-3h5v-2h-5m0-9h5v-2h-5m0-24h5v-1h-5m0-15h5v-2h-5m0-1h5v-2h-5m0-18h5v-2h-5m0-2h5v-5h-5m0-6h5v-2h-5m5 669h6v-2h-6m0-27h6v-4h-6m0-9h6v-2h-6m0-27h6v-2h-6m0-25h6v-4h-6m0-11h6v-2h-6m0-3h6v-2h-6m0-9h6v-2h-6m0-16h6v-2h-6m0-14h6v-2h-6m0-36h6v-2h-6m0-40h6v-2h-6m0-11h6v-2h-6m0-1h6v-2h-6m0-9h6v-2h-6m0-2h6v-2h-6m0-5h6v-2h-6m0-5h6v-2h-6m0-47h6v-4h-6m0-9h6v-2h-6m0-43h6v-2h-6m0-2h6v-2h-6m0-3h6v-2h-6m0-16h6v-4h-6m0-7h6v-2h-6m0-11h6v-4h-6m0-9h6v-5h-6m0-2h6v-2h-6m0-16h6v-2h-6m0-12h6v-2h-6m0-6h6v-2h-6m0-10h6v-4h-6m0-4h6v-3h-6m0-36h6v-2h-6m0-9h6v-2h-6m0-2h6v-2h-6m0-7h6v-2h-6m0-2h6v-1h-6m0-42h6v-2h-6m0-11h6v-3h-6m0-15h6v-2h-6m0-2h6v-1h-6m0-24h6v-3h-6m6 700h5v-1h-5m0-17h5v-2h-5m0-1h5v-2h-5m0-11h5v-2h-5m0-16h5v-2h-5m0-25h5v-4h-5m0-11h5v-2h-5m0-10h5v-2h-5m0-15h5v-2h-5m0-23h5v-2h-5m0-9h5v-2h-5m0-25h5v-2h-5m0-5h5v-2h-5m0-26h5v-1h-5m0-8h5v-1h-5m0-9h5v-2h-5m0-6h5v-2h-5m0-23h5v-2h-5m0-20h5v-2h-5m0-16h5v-2h-5m0-5h5v-2h-5m0-5h5v-2h-5m0-17h5v-1h-5m0-18h5v-2h-5m0-22h5v-2h-5m0-9h5v-2h-5m0-3h5v-2h-5m0-7h5v-2h-5m0-35h5v-1h-5m0-8h5v-1h-5m0-11h5v-2h-5m0-2h5v-4h-5m0-10h5v-2h-5m0-13h5v-2h-5m0-5h5v-2h-5m0-2h5v-2h-5m0-39h5v-2h-5m0-11h5v-4h-5m0-11h5v-1h-5m0-15h5v-2h-5m0-5h5v-2h-5m0-4h5v-1h-5m0-11h5v-2h-5m0-4h5v-1h-5m0-48h5v-1h-5m0-13h5v-2h-5m5 694h5v-2h-5m0-4h5v-1h-5m0-17h5v-2h-5m0-12h5v-2h-5m0-2h5v-2h-5m0-70h5v-2h-5m0-33h5v-2h-5m0-1h5v-2h-5m0-15h5v-1h-5m0-24h5v-2h-5m0-5h5v-2h-5m0-2h5v-2h-5m0-9h5v-3h-5m0-2h5v-2h-5m0-40h5v-2h-5m0-20h5v-1h-5m0-11h5v-2h-5m0-4h5v-3h-5m0-20h5v-2h-5m0-20h5v-2h-5m0-9h5v-2h-5m0-1h5v-2h-5m0-42h5v-4h-5m0-48h5v-2h-5m0-82h5v-2h-5m0-18h5v-1h-5m0-33h5v-2h-5m0-5h5v-2h-5m0-45h5v-2h-5m0-18h5v-2h-5m0-15h5v-1h-5m5 695h6v-2h-6m0-11h6v-1h-6m0-4h6v-2h-6m0-5h6v-2h-6m0-29h6v-4h-6m0-7h6v-2h-6m0-16h6v-2h-6m0-22h6v-1h-6m0-13h6v-2h-6m0-4h6v-1h-6m0-13h6v-4h-6m0-16h6v-2h-6m0-7h6v-2h-6m0-11h6v-2h-6m0-21h6v-2h-6m0-15h6v-1h-6m0-26h6v-2h-6m0-1h6v-2h-6m0-20h6v-2h-6m0-9h6v-2h-6m0-11h6v-3h-6m0-11h6v-2h-6m0-2h6v-2h-6m0-3h6v-2h-6m0-5h6v-2h-6m0-6h6v-1h-6m0-19h6v-1h-6m0-4h6v-4h-6m0-9h6v-2h-6m0-9h6v-1h-6m0-22h6v-2h-6m0-34h6v-2h-6m0-24h6v-1h-6m0-11h6v-2h-6m0-24h6v-2h-6m0-12h6v-2h-6m0-7h6v-2h-6m0-13h6v-2h-6m0-7h6v-2h-6m0-7h6v-2h-6m0-11h6v-1h-6m0-44h6v-3h-6m0-29h6v-2h-6m0-13h6v-2h-6m0-9h6v-2h-6m6 654h5v-2h-5m0-5h5v-2h-5m0-78h5v-2h-5m0-1h5v-2h-5m0-11h5v-4h-5m0-38h5v-3h-5m0-9h5v-2h-5m0-2h5v-2h-5m0-16h5v-2h-5m0-14h5v-2h-5m0-6h5v-1h-5m0-2h5v-2h-5m0-7h5v-2h-5m0-15h5v-1h-5m0-2h5v-4h-5m0-13h5v-1h-5m0-8h5v-1h-5m0-20h5v-2h-5m0-11h5v-2h-5m0-25h5v-2h-5m0-60h5v-3h-5m0-13h5v-2h-5m0-5h5v-2h-5m0-4h5v-3h-5m0-15h5v-2h-5m0-10h5v-2h-5m0-82h5v-2h-5m0-12h5v-2h-5m0-15h5v-1h-5m0-8h5v-1h-5m0-11h5v-2h-5m0-35h5v-1h-5m0-20h5v-2h-5m0-27h5v-2h-5m5 697h5v-2h-5m0-9h5v-3h-5m0-11h5v-2h-5m0-14h5v-2h-5m0-13h5v-2h-5m0-25h5v-2h-5m0-9h5v-2h-5m0-108h5v-2h-5m0-8h5v-1h-5m0-4h5v-2h-5m0-12h5v-2h-5m0-9h5v-2h-5m0-15h5v-3h-5m0-15h5v-2h-5m0-12h5v-4h-5m0-25h5v-2h-5m0-2h5v-2h-5m0-25h5v-2h-5m0-2h5v-5h-5m0-13h5v-2h-5m0-1h5v-2h-5m0-42h5v-2h-5m0-1h5v-2h-5m0-18h5v-2h-5m0-18h5v-4h-5m0-7h5v-2h-5m0-9h5v-2h-5m0-23h5v-2h-5m0-16h5v-2h-5m0-15h5v-2h-5m0-9h5v-1h-5m0-11h5v-2h-5m0-45h5v-2h-5m0-16h5v-2h-5m0-4h5v-5h-5m0-2h5v-2h-5m0-4h5v-1h-5m0-2h5v-4h-5m0-14h5v-2h-5m0-4h5v-2h-5m0-10h5v-4h-5m5 652h6v-2h-6m0-4h6v-1h-6m0-24h6v-2h-6m0-3h6v-2h-6m0-33h6v-2h-6m0-12h6v-2h-6m0-18h6v-2h-6m0-9h6v-2h-6m0-9h6v-7h-6m0-63h6v-6h-6m0-9h6v-2h-6m0-5h6v-4h-6m0-3h6v-2h-6m0-9h6v-2h-6m0-4h6v-2h-6m0-1h6v-2h-6m0-22h6v-4h-6m0-12h6v-2h-6m0-5h6v-2h-6m0-65h6v-2h-6m0-8h6v-1h-6m0-17h6v-1h-6m0-8h6v-2h-6m0-14h6v-2h-6m0-18h6v-4h-6m0-16h6v-2h-6m0-32h6v-2h-6m0-13h6v-2h-6m0-12h6v-2h-6m0-2h6v-2h-6m0-36h6v-2h-6m0-2h6v-1h-6m0-15h6v-2h-6m0-5h6v-2h-6m0-5h6v-2h-6m0-7h6v-4h-6m0-4h6v-1h-6m0-2h6v-4h-6m0-5h6v-2h-6m0-7h6v-2h-6m0-6h6v-1h-6m6 688h5v-2h-5m0-2h5v-2h-5m0-21h5v-2h-5m0-31h5v-2h-5m0-5h5v-4h-5m0-58h5v-3h-5m0-2h5v-2h-5m0-24h5v-1h-5m0-104h5v-1h-5m0-35h5v-2h-5m0-25h5v-2h-5m0-2h5v-1h-5m0-31h5v-2h-5m0-13h5v-2h-5m0-56h5v-3h-5m0-8h5v-1h-5m0-15h5v-2h-5m0-20h5v-1h-5m0-8h5v-1h-5m0-2h5v-2h-5m0-13h5v-2h-5m0-25h5v-2h-5m0-1h5v-2h-5m0-18h5v-2h-5m0-11h5v-2h-5m0-25h5v-2h-5m0-4h5v-2h-5m0-3h5v-2h-5m0-18h5v-4h-5m0-30h5v-2h-5m0-4h5v-2h-5m0-12h5v-2h-5m5 686h6v-2h-6m0-1h6v-2h-6m0-7h6v-2h-6m0-13h6v-2h-6m0-16h6v-2h-6m0-13h6v-1h-6m0-6h6v-2h-6m0-7h6v-2h-6m0-11h6v-3h-6m0-24h6v-2h-6m0-25h6v-2h-6m0-3h6v-2h-6m0-2h6v-4h-6m0-5h6v-4h-6m0-3h6v-2h-6m0-13h6v-3h-6m0-42h6v-2h-6m0-9h6v-2h-6m0-9h6v-2h-6m0-1h6v-2h-6m0-2h6v-2h-6m0-2h6v-1h-6m0-8h6v-1h-6m0-49h6v-2h-6m0-6h6v-1h-6m0-4h6v-2h-6m0-29h6v-2h-6m0-16h6v-2h-6m0-9h6v-2h-6m0-3h6v-2h-6m0-16h6v-4h-6m0-2h6v-2h-6m0-5h6v-2h-6m0-2h6v-1h-6m0-15h6v-2h-6m0-11h6v-1h-6m0-15h6v-2h-6m0-7h6v-2h-6m0-11h6v-3h-6m0-38h6v-2h-6m0-11h6v-2h-6m0-22h6v-1h-6m0-8h6v-1h-6m0-33h6v-2h-6m0-14h6v-2h-6m0-15h6v-1h-6m0-6h6v-2h-6m0-3h6v-2h-6m0-11h6v-2h-6m0-12h6v-2h-6m6 701h5v-2h-5m0-4h5v-2h-5m0-49h5v-1h-5m0-2h5v-2h-5m0-14h5v-2h-5m0-4h5v-2h-5m0-16h5v-2h-5m0-3h5v-2h-5m0-29h5v-2h-5m0-2h5v-2h-5m0-21h5v-2h-5m0-2h5v-2h-5m0-3h5v-2h-5m0-7h5v-2h-5m0-17h5v-1h-5m0-17h5v-2h-5m0-38h5v-1h-5m0-15h5v-2h-5m0-7h5v-2h-5m0-32h5v-2h-5m0-22h5v-2h-5m0-11h5v-1h-5m0-8h5v-1h-5m0-29h5v-2h-5m0-4h5v-2h-5m0-7h5v-2h-5m0-14h5v-2h-5m0-2h5v-2h-5m0-5h5v-2h-5m0-56h5v-2h-5m0-20h5v-2h-5m0-3h5v-2h-5m0-2h5v-2h-5m0-1h5v-2h-5m0-4h5v-2h-5m0-41h5v-2h-5m0-27h5v-2h-5m0-2h5v-2h-5m0-9h5v-2h-5m0-18h5v-1h-5m0-17h5v-2h-5m5 647h5v-4h-5m0-18h5v-2h-5m0-1h5v-2h-5m0-51h5v-2h-5m0-72h5v-2h-5m0-16h5v-2h-5m0-2h5v-2h-5m0-9h5v-2h-5m0-9h5v-1h-5m0-19h5v-3h-5m0-9h5v-2h-5m0-34h5v-2h-5m0-24h5v-2h-5m0-3h5v-6h-5m0-14h5v-2h-5m0-16h5v-2h-5m0-18h5v-2h-5m0-4h5v-3h-5m0-36h5v-2h-5m0-15h5v-2h-5m0-5h5v-2h-5m0-20h5v-2h-5m0-5h5v-2h-5m0-16h5v-2h-5m0-43h5v-2h-5m0-7h5v-4h-5m0-2h5v-3h-5m0-4h5v-2h-5m0-13h5v-1h-5m0-2h5v-2h-5m0-2h5v-2h-5m0-3h5v-2h-5m0-6h5v-1h-5m0-11h5v-2h-5m0-27h5v-2h-5m0-9h5v-2h-5m0-25h5v-4h-5m0-7h5v-2h-5m0-13h5v-1h-5m5 643h6v-2h-6m0-24h6v-3h-6m0-2h6v-2h-6m0-13h6v-2h-6m0-5h6v-4h-6m0-34h6v-2h-6m0-14h6v-2h-6m0-33h6v-2h-6m0-10h6v-4h-6m0-4h6v-1h-6m0-8h6v-2h-6m0-16h6v-2h-6m0-18h6v-2h-6m0-19h6v-4h-6m0-4h6v-2h-6m0-21h6v-2h-6m0-6h6v-1h-6m0-2h6v-2h-6m0-40h6v-2h-6m0-23h6v-2h-6m0-4h6v-1h-6m0-15h6v-3h-6m0-13h6v-4h-6m0-2h6v-1h-6m0-75h6v-1h-6m0-2h6v-2h-6m0-2h6v-2h-6m0-3h6v-6h-6m0-16h6v-4h-6m0-3h6v-2h-6m0-20h6v-2h-6m0-2h6v-1h-6m0-2h6v-4h-6m0-5h6v-2h-6m0-20h6v-2h-6m0-13h6v-1h-6m0-6h6v-2h-6m0-5h6v-2h-6m0-9h6v-5h-6m0-9h6v-2h-6m0-4h6v-3h-6m0-6h6v-4h-6m0-9h6v-1h-6m0-2h6v-2h-6m6 686h5v-1h-5m0-9h5v-2h-5m0-15h5v-2h-5m0-34h5v-2h-5m0-2h5v-1h-5m0-4h5v-2h-5m0-11h5v-2h-5m0-48h5v-2h-5m0-29h5v-2h-5m0-24h5v-1h-5m0-13h5v-2h-5m0-13h5v-1h-5m0-15h5v-2h-5m0-23h5v-2h-5m0-5h5v-2h-5m0-9h5v-2h-5m0-6h5v-1h-5m0-15h5v-2h-5m0-5h5v-6h-5m0-12h5v-2h-5m0-33h5v-1h-5m0-10h5v-1h-5m0-15h5v-2h-5m0-1h5v-2h-5m0-15h5v-3h-5m0-35h5v-2h-5m0-39h5v-2h-5m0-20h5v-2h-5m0-9h5v-2h-5m0-11h5v-1h-5m0-13h5v-2h-5m0-27h5v-2h-5m0-25h5v-2h-5m0-13h5v-2h-5m0-10h5v-2h-5m0-2h5v-2h-5m0-43h5v-2h-5m5 674h6v-2h-6m0-2h6v-2h-6m0-14h6v-2h-6m0-27h6v-2h-6m0-2h6v-2h-6m0-3h6v-2h-6m0-4h6v-4h-6m0-10h6v-2h-6m0-4h6v-2h-6m0-5h6v-2h-6m0-40h6v-2h-6m0-9h6v-3h-6m0-31h6v-2h-6m0-9h6v-2h-6m0-12h6v-2h-6m0-11h6v-2h-6m0-9h6v-2h-6m0-3h6v-2h-6m0-2h6v-2h-6m0-23h6v-2h-6m0-31h6v-2h-6m0-2h6v-1h-6m0-13h6v-2h-6m0-3h6v-2h-6m0-27h6v-2h-6m0-26h6v-1h-6m0-8h6v-1h-6m0-6h6v-2h-6m0-27h6v-2h-6m0-16h6v-2h-6m0-2h6v-1h-6m0-13h6v-2h-6m0-9h6v-2h-6m0-3h6v-2h-6m0-22h6v-2h-6m0-2h6v-1h-6m0-26h6v-1h-6m0-4h6v-2h-6m0-4h6v-1h-6m0-11h6v-2h-6m0-2h6v-3h-6m0-75h6v-2h-6m0-1h6v-2h-6m0-15h6v-1h-6m0-4h6v-2h-6m0-9h6v-2h-6m0-7h6v-2h-6m6 683h5v-2h-5m0-5h5v-2h-5m0-13h5v-3h-5m0-15h5v-2h-5m0-29h5v-2h-5m0-5h5v-2h-5m0-14h5v-2h-5m0-22h5v-2h-5m0-7h5v-2h-5m0-7h5v-2h-5m0-2h5v-1h-5m0-8h5v-1h-5m0-2h5v-2h-5m0-2h5v-3h-5m0-20h5v-2h-5m0-36h5v-4h-5m0-24h5v-1h-5m0-29h5v-2h-5m0-9h5v-2h-5m0-15h5v-1h-5m0-60h5v-2h-5m0-42h5v-1h-5m0-9h5v-2h-5m0-11h5v-2h-5m0-11h5v-3h-5m0-33h5v-2h-5m0-9h5v-2h-5m0-1h5v-2h-5m0-2h5v-2h-5m0-43h5v-4h-5m0-9h5v-2h-5m0-38h5v-2h-5m0-14h5v-2h-5m0-11h5v-2h-5m0-20h5v-1h-5m0-2h5v-2h-5m0-13h5v-2h-5m0-5h5v-4h-5m0-12h5v-2h-5m5 695h5v-1h-5m0-24h5v-4h-5m0-20h5v-1h-5m0-4h5v-2h-5m0-25h5v-2h-5m0-5h5v-2h-5m0-7h5v-2h-5m0-13h5v-2h-5m0-45h5v-2h-5m0-5h5v-2h-5m0-15h5v-1h-5m0-44h5v-3h-5m0-4h5v-2h-5m0-42h5v-1h-5m0-11h5v-2h-5m0-2h5v-2h-5m0-3h5v-4h-5m0-4h5v-1h-5m0-35h5v-2h-5m0-18h5v-1h-5m0-19h5v-1h-5m0-17h5v-1h-5m0-6h5v-2h-5m0-12h5v-2h-5m0-18h5v-2h-5m0-11h5v-2h-5m0-25h5v-2h-5m0-2h5v-2h-5m0-23h5v-4h-5m0-20h5v-1h-5m0-24h5v-4h-5m0-21h5v-2h-5m0-9h5v-2h-5m0-13h5v-2h-5m0-7h5v-2h-5m0-1h5v-2h-5m0-4h5v-2h-5m0-9h5v-2h-5m0-1h5v-2h-5m0-13h5v-2h-5m0-34h5v-2h-5m5 712h6v-2h-6m0-13h6v-1h-6m0-6h6v-2h-6m0-41h6v-2h-6m0-6h6v-5h-6m0-9h6v-2h-6m0-5h6v-2h-6m0-38h6v-2h-6m0-13h6v-1h-6m0-11h6v-2h-6m0-7h6v-2h-6m0-16h6v-4h-6m0-2h6v-4h-6m0-7h6v-3h-6m0-9h6v-2h-6m0-22h6v-2h-6m0-3h6v-2h-6m0-2h6v-2h-6m0-16h6v-4h-6m0-12h6v-2h-6m0-2h6v-2h-6m0-11h6v-2h-6m0-10h6v-2h-6m0-4h6v-2h-6m0-3h6v-2h-6m0-4h6v-2h-6m0-5h6v-2h-6m0-3h6v-4h-6m0-24h6v-1h-6m0-13h6v-4h-6m0-2h6v-1h-6m0-26h6v-1h-6m0-4h6v-2h-6m0-18h6v-4h-6m0-7h6v-2h-6m0-5h6v-2h-6m0-5h6v-2h-6m0-7h6v-2h-6m0-4h6v-3h-6m0-4h6v-2h-6m0-11h6v-2h-6m0-1h6v-4h-6m0-27h6v-4h-6m0-11h6v-1h-6m0-4h6v-2h-6m0-4h6v-1h-6m0-6h6v-2h-6m0-18h6v-3h-6m0-20h6v-2h-6m0-9h6v-2h-6m0-5h6v-2h-6m0-7h6v-2h-6m0-6h6v-1h-6m0-19h6v-1h-6m0-15h6v-2h-6m0-3h6v-2h-6m6 675h5v-1h-5m0-11h5v-2h-5m0-27h5v-6h-5m0-3h5v-2h-5m0-16h5v-2h-5m0-13h5v-2h-5m0-11h5v-1h-5m0-15h5v-2h-5m0-11h5v-1h-5m0-8h5v-1h-5m0-6h5v-2h-5m0-7h5v-2h-5m0-9h5v-2h-5m0-41h5v-2h-5m0-7h5v-2h-5m0-22h5v-2h-5m0-41h5v-2h-5m0-4h5v-2h-5m0-10h5v-2h-5m0-2h5v-2h-5m0-14h5v-2h-5m0-26h5v-1h-5m0-9h5v-2h-5m0-7h5v-4h-5m0-7h5v-2h-5m0-27h5v-2h-5m0-13h5v-3h-5m0-20h5v-2h-5m0-24h5v-5h-5m0-9h5v-2h-5m0-14h5v-2h-5m0-29h5v-2h-5m0-5h5v-2h-5m0-24h5v-2h-5m0-3h5v-2h-5m0-7h5v-2h-5m0-2h5v-2h-5m0-22h5v-1h-5m0-40h5v-2h-5m0-18h5v-2h-5m5 668h6v-1h-6m0-2h6v-2h-6m0-9h6v-2h-6m0-18h6v-2h-6m0-25h6v-4h-6m0-18h6v-2h-6m0-11h6v-1h-6m0-22h6v-2h-6m0-11h6v-2h-6m0-20h6v-1h-6m0-13h6v-2h-6m0-25h6v-2h-6m0-7h6v-2h-6m0-2h6v-4h-6m0-3h6v-2h-6m0-51h6v-1h-6m0-33h6v-2h-6m0-2h6v-2h-6m0-7h6v-2h-6m0-7h6v-2h-6m0-25h6v-2h-6m0-2h6v-1h-6m0-33h6v-2h-6m0-12h6v-6h-6m0-2h6v-2h-6m0-10h6v-2h-6m0-4h6v-2h-6m0-7h6v-2h-6m0-7h6v-2h-6m0-29h6v-2h-6m0-5h6v-2h-6m0-5h6v-2h-6m0-9h6v-2h-6m0-22h6v-1h-6m0-4h6v-2h-6m0-16h6v-4h-6m0-7h6v-2h-6m0-27h6v-2h-6m0-5h6v-2h-6m0-16h6v-4h-6m0-4h6v-1h-6m0-8h6v-1h-6m0-11h6v-2h-6m0-7h6v-4h-6m0-27h6v-2h-6m6 605h5v-2h-5m0-18h5v-2h-5m0-29h5v-2h-5m0-3h5v-2h-5m0-31h5v-2h-5m0-3h5v-4h-5m0-61h5v-2h-5m0-17h5v-1h-5m0-2h5v-2h-5m0-2h5v-2h-5m0-72h5v-2h-5m0-4h5v-1h-5m0-20h5v-2h-5m0-6h5v-1h-5m0-13h5v-2h-5m0-22h5v-3h-5m0-9h5v-2h-5m0-7h5v-2h-5m0-20h5v-4h-5m0-10h5v-2h-5m0-31h5v-2h-5m0-20h5v-2h-5m0-7h5v-2h-5m0-14h5v-2h-5m0-11h5v-2h-5m0-56h5v-2h-5m0-1h5v-2h-5m0-22h5v-2h-5m5 649h5v-2h-5m0-17h5v-1h-5m0-24h5v-2h-5m0-2h5v-1h-5m0-20h5v-2h-5m0-2h5v-2h-5m0-43h5v-2h-5m0-11h5v-2h-5m0-72h5v-4h-5m0-32h5v-2h-5m0-2h5v-2h-5m0-3h5v-2h-5m0-26h5v-1h-5m0-6h5v-2h-5m0-81h5v-2h-5m0-27h5v-2h-5m0-9h5v-2h-5m0-9h5v-2h-5m0-12h5v-2h-5m0-6h5v-1h-5m0-38h5v-2h-5m0-64h5v-1h-5m0-17h5v-1h-5m0-10h5v-1h-5m0-24h5v-2h-5m0-49h5v-1h-5m5 653h6v-1h-6m0-2h6v-2h-6m0-94h6v-2h-6m0-36h6v-6h-6m0-23h6v-2h-6m0-9h6v-2h-6m0-2h6v-2h-6m0-21h6v-2h-6m0-34h6v-2h-6m0-46h6v-1h-6m0-2h6v-2h-6m0-5h6v-2h-6m0-20h6v-2h-6m0-45h6v-2h-6m0-2h6v-2h-6m0-3h6v-6h-6m0-2h6v-1h-6m0-11h6v-2h-6m0-27h6v-2h-6m0-11h6v-2h-6m0-2h6v-1h-6m0-4h6v-2h-6m0-14h6v-2h-6m0-2h6v-2h-6m0-3h6v-2h-6m0-27h6v-2h-6m0-9h6v-2h-6m0-54h6v-4h-6m0-13h6v-1h-6m0-4h6v-4h-6m0-1h6v-2h-6m0-29h6v-2h-6m0-15h6v-1h-6m0-17h6v-1h-6m0-10h6v-1h-6m0-22h6v-2h-6m0-2h6v-1h-6m6 700h5v-3h-5m0-6h5v-1h-5m0-20h5v-2h-5m0-15h5v-2h-5m0-19h5v-4h-5m0-38h5v-2h-5m0-11h5v-2h-5m0-16h5v-2h-5m0-18h5v-2h-5m0-3h5v-2h-5m0-5h5v-2h-5m0-4h5v-4h-5m0-12h5v-2h-5m0-7h5v-2h-5m0-4h5v-2h-5m0-10h5v-2h-5m0-13h5v-2h-5m0-32h5v-2h-5m0-18h5v-2h-5m0-13h5v-2h-5m0-3h5v-2h-5m0-2h5v-5h-5m0-4h5v-2h-5m0-29h5v-1h-5m0-4h5v-2h-5m0-9h5v-2h-5m0-9h5v-3h-5m0-13h5v-2h-5m0-22h5v-1h-5m0-2h5v-2h-5m0-5h5v-2h-5m0-9h5v-2h-5m0-2h5v-2h-5m0-5h5v-2h-5m0-4h5v-5h-5m0-2h5v-2h-5m0-3h5v-2h-5m0-15h5v-1h-5m0-4h5v-4h-5m0-18h5v-2h-5m0-7h5v-2h-5m0-12h5v-4h-5m0-16h5v-2h-5m0-29h5v-2h-5m0-13h5v-1h-5m0-8h5v-1h-5m0-44h5v-2h-5m0-1h5v-2h-5m0-35h5v-1h-5m5 704h6v-5h-6m0-48h6v-1h-6m0-4h6v-4h-6m0-20h6v-1h-6m0-4h6v-2h-6m0-5h6v-2h-6m0-4h6v-1h-6m0-31h6v-2h-6m0-22h6v-2h-6m0-12h6v-2h-6m0-4h6v-1h-6m0-13h6v-2h-6m0-9h6v-4h-6m0-29h6v-1h-6m0-19h6v-1h-6m0-33h6v-2h-6m0-9h6v-2h-6m0-7h6v-2h-6m0-3h6v-2h-6m0-33h6v-2h-6m0-12h6v-2h-6m0-11h6v-2h-6m0-2h6v-1h-6m0-11h6v-2h-6m0-5h6v-2h-6m0-13h6v-2h-6m0-5h6v-6h-6m0-9h6v-1h-6m0-17h6v-2h-6m0-5h6v-4h-6m0-1h6v-2h-6m0-4h6v-2h-6m0-12h6v-2h-6m0-20h6v-2h-6m0-11h6v-3h-6m0-6h6v-2h-6m0-12h6v-2h-6m0-22h6v-2h-6m0-18h6v-3h-6m0-22h6v-4h-6m0-2h6v-1h-6m0-35h6v-2h-6m0-12h6v-2h-6m0-15h6v-1h-6m0-8h6v-1h-6m6 690h5v-2h-5m0-9h5v-2h-5m0-15h5v-3h-5m0-20h5v-2h-5m0-2h5v-3h-5m0-22h5v-2h-5m0-38h5v-2h-5m0-90h5v-4h-5m0-9h5v-2h-5m0-12h5v-2h-5m0-9h5v-2h-5m0-13h5v-2h-5m0-43h5v-2h-5m0-5h5v-2h-5m0-11h5v-2h-5m0-7h5v-2h-5m0-25h5v-4h-5m0-4h5v-1h-5m0-20h5v-2h-5m0-16h5v-2h-5m0-13h5v-2h-5m0-50h5v-2h-5m0-27h5v-2h-5m0-2h5v-2h-5m0-23h5v-2h-5m0-45h5v-2h-5m0-22h5v-2h-5m0-16h5v-2h-5m0-13h5v-1h-5m0-24h5v-2h-5m0-9h5v-3h-5m0-6h5v-3h-5m5 686h5v-2h-5m0-14h5v-2h-5m0-4h5v-2h-5m0-12h5v-2h-5m0-4h5v-2h-5m0-9h5v-1h-5m0-2h5v-2h-5m0-5h5v-4h-5m0-56h5v-2h-5m0-20h5v-2h-5m0-5h5v-2h-5m0-2h5v-2h-5m0-18h5v-2h-5m0-32h5v-4h-5m0-27h5v-2h-5m0-9h5v-3h-5m0-15h5v-2h-5m0-32h5v-2h-5m0-13h5v-2h-5m0-43h5v-2h-5m0-23h5v-2h-5m0-13h5v-2h-5m0-36h5v-4h-5m0-21h5v-2h-5m0-25h5v-2h-5m0-6h5v-3h-5m0-2h5v-2h-5m0-14h5v-2h-5m0-15h5v-5h-5m0-29h5v-2h-5m0-34h5v-2h-5m0-2h5v-2h-5m0-7h5v-4h-5m0-11h5v-1h-5m0-11h5v-2h-5m0-24h5v-1h-5m0-11h5v-2h-5m5 695h6v-1h-6m0-26h6v-2h-6m0-25h6v-2h-6m0-36h6v-2h-6m0-27h6v-2h-6m0-11h6v-1h-6m0-13h6v-2h-6m0-7h6v-2h-6m0-14h6v-2h-6m0-8h6v-3h-6m0-9h6v-2h-6m0-7h6v-2h-6m0-18h6v-2h-6m0-49h6v-2h-6m0-20h6v-1h-6m0-48h6v-1h-6m0-24h6v-2h-6m0-7h6v-2h-6m0-23h6v-4h-6m0-4h6v-1h-6m0-11h6v-2h-6m0-43h6v-2h-6m0-2h6v-2h-6m0-42h6v-1h-6m0-47h6v-2h-6m0-2h6v-2h-6m0-33h6v-1h-6m0-15h6v-3h-6m0-2h6v-4h-6m0-25h6v-2h-6m0-27h6v-2h-6m0-7h6v-2h-6m6 692h5v-2h-5m0-22h5v-2h-5m0-38h5v-1h-5m0-11h5v-2h-5m0-18h5v-2h-5m0-11h5v-2h-5m0-21h5v-2h-5m0-2h5v-2h-5m0-25h5v-2h-5m0-60h5v-2h-5m0-16h5v-2h-5m0-25h5v-4h-5m0-14h5v-2h-5m0-9h5v-2h-5m0-7h5v-2h-5m0-16h5v-2h-5m0-15h5v-1h-5m0-18h5v-4h-5m0-9h5v-2h-5m0-11h5v-2h-5m0-1h5v-2h-5m0-26h5v-1h-5m0-9h5v-2h-5m0-67h5v-2h-5m0-33h5v-3h-5m0-4h5v-2h-5m0-74h5v-2h-5m0-2h5v-1h-5m0-17h5v-2h-5m0-3h5v-4h-5m0-11h5v-1h-5m0-15h5v-2h-5m0-18h5v-3h-5m5 691h6v-1h-6m0-29h6v-4h-6m0-11h6v-2h-6m0-29h6v-2h-6m0-27h6v-2h-6m0-1h6v-4h-6m0-16h6v-2h-6m0-4h6v-2h-6m0-1h6v-2h-6m0-2h6v-2h-6m0-3h6v-2h-6m0-9h6v-2h-6m0-2h6v-2h-6m0-9h6v-3h-6m0-24h6v-2h-6m0-11h6v-1h-6m0-17h6v-1h-6m0-19h6v-1h-6m0-9h6v-2h-6m0-18h6v-2h-6m0-4h6v-3h-6m0-10h6v-1h-6m0-11h6v-2h-6m0-2h6v-2h-6m0-1h6v-2h-6m0-42h6v-2h-6m0-3h6v-2h-6m0-15h6v-1h-6m0-2h6v-4h-6m0-9h6v-2h-6m0-9h6v-2h-6m0-58h6v-1h-6m0-17h6v-1h-6m0-13h6v-4h-6m0-31h6v-1h-6m0-44h6v-2h-6m0-11h6v-1h-6m0-2h6v-2h-6m0-11h6v-3h-6m0-9h6v-2h-6m0-56h6v-2h-6m6 683h5v-4h-5m0-4h5v-2h-5m0-14h5v-2h-5m0-23h5v-2h-5m0-6h5v-1h-5m0-40h5v-2h-5m0-7h5v-2h-5m0-2h5v-2h-5m0-45h5v-2h-5m0-34h5v-2h-5m0-7h5v-4h-5m0-5h5v-2h-5m0-2h5v-2h-5m0-3h5v-2h-5m0-6h5v-1h-5m0-8h5v-3h-5m0-18h5v-2h-5m0-33h5v-2h-5m0-2h5v-3h-5m0-7h5v-2h-5m0-13h5v-2h-5m0-3h5v-2h-5m0-13h5v-5h-5m0-49h5v-2h-5m0-16h5v-4h-5m0-16h5v-2h-5m0-9h5v-2h-5m0-3h5v-2h-5m0-9h5v-2h-5m0-27h5v-2h-5m0-18h5v-2h-5m0-33h5v-3h-5m0-9h5v-2h-5m0-29h5v-2h-5m0-5h5v-2h-5m0-4h5v-2h-5m0-58h5v-1h-5m0-26h5v-1h-5m5 704h5v-2h-5m0-3h5v-2h-5m0-7h5v-6h-5m0-2h5v-2h-5m0-9h5v-1h-5m0-8h5v-1h-5m0-2h5v-2h-5m0-11h5v-2h-5m0-38h5v-2h-5m0-10h5v-2h-5m0-33h5v-2h-5m0-29h5v-1h-5m0-20h5v-2h-5m0-4h5v-2h-5m0-1h5v-4h-5m0-15h5v-3h-5m0-35h5v-1h-5m0-8h5v-3h-5m0-2h5v-2h-5m0-5h5v-2h-5m0-11h5v-2h-5m0-5h5v-8h-5m0-1h5v-2h-5m0-7h5v-4h-5m0-5h5v-2h-5m0-26h5v-1h-5m0-11h5v-2h-5m0-11h5v-2h-5m0-18h5v-2h-5m0-5h5v-2h-5m0-7h5v-2h-5m0-11h5v-2h-5m0-23h5v-2h-5m0-4h5v-1h-5m0-17h5v-2h-5m0-7h5v-2h-5m0-29h5v-1h-5m0-38h5v-2h-5m0-9h5v-2h-5m0-24h5v-3h-5m0-4h5v-2h-5m0-9h5v-2h-5m0-5h5v-2h-5m0-9h5v-2h-5m0-1h5v-2h-5m0-18h5v-2h-5m0-17h5v-1h-5m0-2h5v-4h-5m0-5h5v-2h-5m5 686h6v-1h-6m0-24h6v-2h-6m0-16h6v-2h-6m0-7h6v-2h-6m0-20h6v-2h-6m0-16h6v-2h-6m0-2h6v-1h-6m0-46h6v-2h-6m0-16h6v-2h-6m0-5h6v-2h-6m0-20h6v-2h-6m0-16h6v-2h-6m0-5h6v-2h-6m0-4h6v-1h-6m0-20h6v-2h-6m0-22h6v-2h-6m0-7h6v-2h-6m0-20h6v-1h-6m0-6h6v-2h-6m0-2h6v-1h-6m0-8h6v-1h-6m0-8h6v-1h-6m0-6h6v-2h-6m0-45h6v-2h-6m0-50h6v-4h-6m0-18h6v-2h-6m0-11h6v-2h-6m0-14h6v-2h-6m0-20h6v-2h-6m0-32h6v-2h-6m0-6h6v-1h-6m0-28h6v-3h-6m0-6h6v-3h-6m0-4h6v-2h-6m0-27h6v-2h-6m0-10h6v-2h-6m0-2h6v-2h-6m0-7h6v-2h-6m0-11h6v-2h-6m0-5h6v-2h-6m0-7h6v-2h-6m0-5h6v-2h-6m6 681h5v-2h-5m0-11h5v-2h-5m0-12h5v-2h-5m0-24h5v-2h-5m0-1h5v-2h-5m0-13h5v-2h-5m0-27h5v-2h-5m0-52h5v-2h-5m0-7h5v-2h-5m0-11h5v-2h-5m0-3h5v-2h-5m0-9h5v-2h-5m0-7h5v-2h-5m0-20h5v-2h-5m0-2h5v-1h-5m0-28h5v-1h-5m0-8h5v-1h-5m0-4h5v-2h-5m0-5h5v-2h-5m0-64h5v-1h-5m0-2h5v-2h-5m0-20h5v-2h-5m0-3h5v-2h-5m0-15h5v-3h-5m0-7h5v-2h-5m0-11h5v-6h-5m0-3h5v-2h-5m0-25h5v-4h-5m0-5h5v-2h-5m0-6h5v-1h-5m0-6h5v-2h-5m0-3h5v-2h-5m0-47h5v-2h-5m0-4h5v-1h-5m0-8h5v-2h-5m0-7h5v-3h-5m0-20h5v-2h-5m0-9h5v-4h-5m0-7h5v-2h-5m0-5h5v-2h-5m0-27h5v-2h-5m0-2h5v-2h-5m0-38h5v-2h-5m0-5h5v-2h-5m0-2h5v-1h-5m5 693h6v-2h-6m0-1h6v-2h-6m0-38h6v-2h-6m0-4h6v-2h-6m0-50h6v-2h-6m0-13h6v-2h-6m0-1h6v-4h-6m0-7h6v-2h-6m0-4h6v-1h-6m0-20h6v-4h-6m0-7h6v-2h-6m0-2h6v-2h-6m0-41h6v-2h-6m0-7h6v-2h-6m0-4h6v-2h-6m0-10h6v-2h-6m0-17h6v-1h-6m0-11h6v-4h-6m0-14h6v-2h-6m0-35h6v-3h-6m0-58h6v-2h-6m0-2h6v-2h-6m0-7h6v-2h-6m0-5h6v-2h-6m0-18h6v-2h-6m0-14h6v-2h-6m0-2h6v-2h-6m0-3h6v-2h-6m0-24h6v-2h-6m0-19h6v-2h-6m0-20h6v-2h-6m0-20h6v-2h-6m0-18h6v-2h-6m0-29h6v-5h-6m0-4h6v-2h-6m0-3h6v-2h-6m0-9h6v-2h-6m0-7h6v-4h-6m0-36h6v-2h-6m0-20h6v-1h-6m6 693h5v-2h-5m0-3h5v-2h-5m0-15h5v-1h-5m0-37h5v-3h-5m0-51h5v-2h-5m0-5h5v-2h-5m0-9h5v-2h-5m0-3h5v-2h-5m0-9h5v-2h-5m0-40h5v-4h-5m0-18h5v-2h-5m0-3h5v-2h-5m0-11h5v-2h-5m0-21h5v-2h-5m0-24h5v-2h-5m0-1h5v-2h-5m0-11h5v-2h-5m0-2h5v-1h-5m0-49h5v-2h-5m0-2h5v-2h-5m0-3h5v-2h-5m0-33h5v-2h-5m0-12h5v-2h-5m0-29h5v-2h-5m0-14h5v-2h-5m0-7h5v-2h-5m0-4h5v-2h-5m0-21h5v-2h-5m0-26h5v-1h-5m0-9h5v-2h-5m0-13h5v-2h-5m0-2h5v-1h-5m0-2h5v-2h-5m0-14h5v-2h-5m0-6h5v-2h-5m0-12h5v-2h-5m0-63h5v-2h-5m0-7h5v-2h-5m0-11h5v-2h-5m0-11h5v-2h-5m5 696h5v-2h-5m0-11h5v-2h-5m0-14h5v-2h-5m0-85h5v-2h-5m0-14h5v-2h-5m0-7h5v-2h-5m0-18h5v-2h-5m0-55h5v-1h-5m0-44h5v-2h-5m0-1h5v-2h-5m0-2h5v-2h-5m0-27h5v-2h-5m0-52h5v-2h-5m0-31h5v-2h-5m0-11h5v-1h-5m0-2h5v-2h-5m0-5h5v-2h-5m0-35h5v-2h-5m0-16h5v-2h-5m0-3h5v-2h-5m0-4h5v-1h-5m0-33h5v-2h-5m0-4h5v-1h-5m0-2h5v-2h-5m0-11h5v-2h-5m0-12h5v-2h-5m0-16h5v-2h-5m0-7h5v-2h-5m0-4h5v-2h-5m0-38h5v-2h-5m0-68h5v-4h-5m5 686h6v-1h-6m0-11h6v-2h-6m0-16h6v-2h-6m0-33h6v-2h-6m0-1h6v-2h-6m0-4h6v-2h-6m0-7h6v-2h-6m0-20h6v-1h-6m0-17h6v-2h-6m0-9h6v-1h-6m0-10h6v-1h-6m0-2h6v-2h-6m0-2h6v-3h-6m0-53h6v-2h-6m0-5h6v-2h-6m0-2h6v-3h-6m0-2h6v-2h-6m0-13h6v-1h-6m0-15h6v-2h-6m0-12h6v-2h-6m0-13h6v-2h-6m0-18h6v-2h-6m0-5h6v-2h-6m0-2h6v-2h-6m0-50h6v-2h-6m0-15h6v-1h-6m0-13h6v-2h-6m0-2h6v-1h-6m0-26h6v-2h-6m0-3h6v-2h-6m0-27h6v-2h-6m0-16h6v-2h-6m0-22h6v-2h-6m0-11h6v-1h-6m0-22h6v-2h-6m0-13h6v-1h-6m0-40h6v-2h-6m0-29h6v-2h-6m0-43h6v-2h-6m6 672h5v-4h-5m0-56h5v-2h-5m0-20h5v-2h-5m0-3h5v-2h-5m0-29h5v-2h-5m0-22h5v-1h-5m0-6h5v-2h-5m0-43h5v-2h-5m0-2h5v-1h-5m0-35h5v-3h-5m0-8h5v-2h-5m0-9h5v-1h-5m0-4h5v-2h-5m0-3h5v-2h-5m0-15h5v-2h-5m0-5h5v-2h-5m0-52h5v-2h-5m0-53h5v-3h-5m0-47h5v-2h-5m0-24h5v-2h-5m0-32h5v-2h-5m0-9h5v-2h-5m0-18h5v-2h-5m0-5h5v-2h-5m0-36h5v-2h-5m0-7h5v-2h-5m0-16h5v-2h-5m0-18h5v-2h-5m0-36h5v-2h-5m0-15h5v-3h-5m5 695h6v-3h-6m0-13h6v-4h-6m0-16h6v-2h-6m0-2h6v-1h-6m0-8h6v-2h-6m0-29h6v-1h-6m0-6h6v-2h-6m0-9h6v-3h-6m0-6h6v-1h-6m0-4h6v-2h-6m0-34h6v-2h-6m0-13h6v-2h-6m0-9h6v-1h-6m0-15h6v-2h-6m0-5h6v-2h-6m0-7h6v-2h-6m0-27h6v-2h-6m0-4h6v-3h-6m0-6h6v-5h-6m0-20h6v-2h-6m0-22h6v-3h-6m0-9h6v-2h-6m0-25h6v-2h-6m0-13h6v-2h-6m0-12h6v-2h-6m0-15h6v-2h-6m0-18h6v-1h-6m0-4h6v-2h-6m0-29h6v-2h-6m0-2h6v-1h-6m0-8h6v-1h-6m0-4h6v-2h-6m0-5h6v-2h-6m0-7h6v-2h-6m0-11h6v-2h-6m0-27h6v-2h-6m0-14h6v-2h-6m0-18h6v-2h-6m0-24h6v-1h-6m0-13h6v-2h-6m0-5h6v-2h-6m0-20h6v-2h-6m0-22h6v-1h-6m0-20h6v-2h-6m6 666h5v-1h-5m0-4h5v-2h-5m0-11h5v-2h-5m0-36h5v-2h-5m0-9h5v-1h-5m0-4h5v-2h-5m0-32h5v-2h-5m0-2h5v-2h-5m0-4h5v-1h-5m0-26h5v-2h-5m0-21h5v-2h-5m0-4h5v-1h-5m0-19h5v-1h-5m0-24h5v-2h-5m0-29h5v-2h-5m0-7h5v-2h-5m0-20h5v-1h-5m0-8h5v-1h-5m0-17h5v-2h-5m0-14h5v-4h-5m0-23h5v-2h-5m0-4h5v-1h-5m0-9h5v-2h-5m0-17h5v-1h-5m0-8h5v-1h-5m0-24h5v-2h-5m0-18h5v-5h-5m0-6h5v-3h-5m0-38h5v-2h-5m0-45h5v-2h-5m0-15h5v-2h-5m0-9h5v-3h-5m0-60h5v-2h-5m0-5h5v-2h-5m0-11h5v-2h-5m0-3h5v-2h-5m0-6h5v-1h-5m0-4h5v-2h-5m0-2h5v-2h-5m0-5h5v-2h-5m5 679h5v-1h-5m0-80h5v-2h-5m0-60h5v-2h-5m0-99h5v-2h-5m0-4h5v-1h-5m0-4h5v-2h-5m0-31h5v-1h-5m0-46h5v-3h-5m0-2h5v-2h-5m0-2h5v-2h-5m0-32h5v-4h-5m0-58h5v-2h-5m0-12h5v-2h-5m0-4h5v-1h-5m0-22h5v-2h-5m0-20h5v-2h-5m0-11h5v-1h-5m0-28h5v-1h-5m0-35h5v-2h-5m0-1h5v-2h-5m0-2h5v-2h-5m0-5h5v-2h-5m0-15h5v-1h-5m0-22h5v-2h-5m0-9h5v-2h-5m0-34h5v-2h-5m0-13h5v-1h-5m5 700h6v-1h-6m0-6h6v-2h-6m0-1h6v-2h-6m0-11h6v-2h-6m0-18h6v-2h-6m0-40h6v-2h-6m0-1h6v-2h-6m0-4h6v-2h-6m0-3h6v-6h-6m0-20h6v-1h-6m0-57h6v-1h-6m0-76h6v-2h-6m0-58h6v-2h-6m0-4h6v-1h-6m0-4h6v-2h-6m0-16h6v-2h-6m0-24h6v-1h-6m0-20h6v-2h-6m0-4h6v-1h-6m0-35h6v-2h-6m0-2h6v-1h-6m0-31h6v-2h-6m0-16h6v-2h-6m0-13h6v-2h-6m0-14h6v-2h-6m0-2h6v-1h-6m0-20h6v-4h-6m0-45h6v-2h-6m0-4h6v-2h-6m0-1h6v-2h-6m0-6h6v-1h-6m0-2h6v-2h-6m0-27h6v-2h-6m0-9h6v-2h-6m0-7h6v-2h-6m0-23h6v-2h-6m0-2h6v-2h-6m6 676h5v-4h-5m0-27h5v-2h-5m0-2h5v-2h-5m0-29h5v-1h-5m0-2h5v-2h-5m0-14h5v-2h-5m0-20h5v-2h-5m0-20h5v-2h-5m0-2h5v-1h-5m0-26h5v-3h-5m0-11h5v-2h-5m0-2h5v-2h-5m0-7h5v-2h-5m0-9h5v-3h-5m0-6h5v-2h-5m0-3h5v-2h-5m0-22h5v-2h-5m0-18h5v-2h-5m0-9h5v-1h-5m0-13h5v-2h-5m0-2h5v-2h-5m0-9h5v-5h-5m0-14h5v-4h-5m0-4h5v-2h-5m0-7h5v-2h-5m0-1h5v-2h-5m0-6h5v-1h-5m0-2h5v-2h-5m0-2h5v-2h-5m0-20h5v-3h-5m0-7h5v-4h-5m0-2h5v-2h-5m0-5h5v-2h-5m0-4h5v-1h-5m0-4h5v-2h-5m0-2h5v-3h-5m0-9h5v-6h-5m0-27h5v-2h-5m0-16h5v-2h-5m0-2h5v-3h-5m0-36h5v-2h-5m0-11h5v-2h-5m0-18h5v-2h-5m0-2h5v-2h-5m0-3h5v-2h-5m0-18h5v-2h-5m0-2h5v-2h-5m0-10h5v-2h-5m0-11h5v-2h-5m0-13h5v-1h-5m0-9h5v-2h-5m0-4h5v-2h-5m0-3h5v-2h-5m0-11h5v-2h-5m0-7h5v-2h-5m5 688h6v-1h-6m0-17h6v-3h-6m0-26h6v-2h-6m0-21h6v-2h-6m0-4h6v-2h-6m0-39h6v-2h-6m0-18h6v-2h-6m0-78h6v-2h-6m0-74h6v-2h-6m0-18h6v-2h-6m0-11h6v-1h-6m0-17h6v-2h-6m0-56h6v-1h-6m0-10h6v-1h-6m0-22h6v-2h-6m0-7h6v-2h-6m0-20h6v-2h-6m0-21h6v-2h-6m0-15h6v-3h-6m0-11h6v-2h-6m0-5h6v-4h-6m0-2h6v-2h-6m0-7h6v-2h-6m0-18h6v-2h-6m0-83h6v-2h-6m0-3h6v-2h-6m0-18h6v-2h-6m0-6h6v-1h-6m6 657h5v-2h-5m0-14h5v-2h-5m0-15h5v-1h-5m0-13h5v-2h-5m0-14h5v-2h-5m0-29h5v-2h-5m0-9h5v-2h-5m0-5h5v-2h-5m0-29h5v-2h-5m0-5h5v-2h-5m0-4h5v-2h-5m0-47h5v-1h-5m0-9h5v-2h-5m0-18h5v-2h-5m0-13h5v-2h-5m0-31h5v-1h-5m0-27h5v-2h-5m0-22h5v-4h-5m0-27h5v-2h-5m0-1h5v-2h-5m0-36h5v-2h-5m0-29h5v-2h-5m0-24h5v-1h-5m0-11h5v-2h-5m0-6h5v-3h-5m0-7h5v-2h-5m0-26h5v-1h-5m0-46h5v-1h-5m0-17h5v-2h-5m0-1h5v-2h-5m0-13h5v-2h-5m0-5h5v-2h-5m0-2h5v-2h-5m0-14h5v-2h-5m0-2h5v-1h-5m0-26h5v-2h-5m0-9h5v-1h-5m5 708h5v-2h-5m0-6h5v-1h-5m0-8h5v-1h-5m0-13h5v-2h-5m0-5h5v-2h-5m0-17h5v-1h-5m0-15h5v-5h-5m0-6h5v-3h-5m0-6h5v-2h-5m0-1h5v-2h-5m0-11h5v-2h-5m0-52h5v-2h-5m0-15h5v-1h-5m0-8h5v-2h-5m0-14h5v-2h-5m0-60h5v-1h-5m0-2h5v-2h-5m0-11h5v-2h-5m0-11h5v-3h-5m0-6h5v-1h-5m0-6h5v-2h-5m0-3h5v-2h-5m0-2h5v-2h-5m0-7h5v-4h-5m0-5h5v-4h-5m0-1h5v-2h-5m0-8h5v-1h-5m0-6h5v-3h-5m0-13h5v-2h-5m0-13h5v-3h-5m0-2h5v-2h-5m0-9h5v-3h-5m0-24h5v-4h-5m0-1h5v-4h-5m0-7h5v-2h-5m0-15h5v-3h-5m0-4h5v-2h-5m0-5h5v-2h-5m0-20h5v-2h-5m0-3h5v-2h-5m0-16h5v-2h-5m0-2h5v-2h-5m0-5h5v-2h-5m0-13h5v-3h-5m0-4h5v-2h-5m0-2h5v-1h-5m0-15h5v-2h-5m0-11h5v-1h-5m0-6h5v-2h-5m0-16h5v-2h-5m0-18h5v-2h-5m0-5h5v-2h-5m0-27h5v-2h-5m0-11h5v-3h-5m0-11h5v-2h-5m5 612h6v-2h-6m0-20h6v-1h-6m0-10h6v-1h-6m0-2h6v-2h-6m0-18h6v-2h-6m0-4h6v-3h-6m0-7h6v-2h-6m0-4h6v-2h-6m0-9h6v-3h-6m0-4h6v-2h-6m0-29h6v-2h-6m0-16h6v-2h-6m0-27h6v-2h-6m0-20h6v-1h-6m0-20h6v-2h-6m0-7h6v-2h-6m0-7h6v-2h-6m0-6h6v-1h-6m0-6h6v-2h-6m0-21h6v-2h-6m0-20h6v-2h-6m0-31h6v-2h-6m0-12h6v-2h-6m0-18h6v-2h-6m0-4h6v-1h-6m0-4h6v-2h-6m0-7h6v-4h-6m0-3h6v-2h-6m0-4h6v-2h-6m0-3h6v-2h-6m0-2h6v-2h-6m0-56h6v-2h-6m0-12h6v-2h-6m0-13h6v-2h-6m0-7h6v-3h-6m0-31h6v-4h-6m0-34h6v-4h-6m0-3h6v-2h-6m0-24h6v-5h-6m0-2h6v-2h-6m11 665h6v-2h-6m0-2h6v-2h-6m0-16h6v-2h-6m0-11h6v-1h-6m0-4h6v-2h-6m0-9h6v-2h-6m0-23h6v-2h-6m0-27h6v-2h-6m0-6h6v-1h-6m0-6h6v-2h-6m0-30h6v-2h-6m0-11h6v-2h-6m0-13h6v-1h-6m0-13h6v-2h-6m0-3h6v-2h-6m0-2h6v-2h-6m0-7h6v-2h-6m0-13h6v-1h-6m0-17h6v-2h-6m0-9h6v-1h-6m0-4h6v-2h-6m0-22h6v-1h-6m0-22h6v-2h-6m0-16h6v-2h-6m0-36h6v-2h-6m0-11h6v-2h-6m0-2h6v-1h-6m0-33h6v-2h-6m0-2h6v-1h-6m0-13h6v-2h-6m0-20h6v-2h-6m0-25h6v-2h-6m0-9h6v-2h-6m0-5h6v-2h-6m0-5h6v-2h-6m0-24h6v-1h-6m0-2h6v-2h-6m0-9h6v-2h-6m0-13h6v-1h-6m0-22h6v-2h-6m0-16h6v-2h-6m0-7h6v-2h-6m0-13h6v-2h-6m0-1h6v-2h-6m0-4h6v-2h-6m11 634h5v-2h-5m0-67h5v-1h-5m0-6h5v-2h-5m0-7h5v-2h-5m0-11h5v-1h-5m0-10h5v-1h-5m0-22h5v-2h-5m0-101h5v-2h-5m0-15h5v-1h-5m0-22h5v-2h-5m0-7h5v-2h-5m0-25h5v-2h-5m0-26h5v-3h-5m0-15h5v-1h-5m0-4h5v-4h-5m0-23h5v-2h-5m0-49h5v-2h-5m0-27h5v-2h-5m0-3h5v-2h-5m0-67h5v-2h-5m0-11h5v-2h-5m0-50h5v-2h-5m0-4h5v-2h-5m0-32h5v-2h-5m0-4h5v-1h-5m0-2h5v-2h-5m11 670h5v-4h-5m0-41h5v-2h-5m0-40h5v-4h-5m0-1h5v-2h-5m0-16h5v-2h-5m0-17h5v-1h-5m0-13h5v-2h-5m0-2h5v-3h-5m0-4h5v-2h-5m0-5h5v-2h-5m0-7h5v-4h-5m0-9h5v-2h-5m0-11h5v-1h-5m0-2h5v-2h-5m0-4h5v-1h-5m0-20h5v-2h-5m0-20h5v-2h-5m0-27h5v-2h-5m0-7h5v-2h-5m0-2h5v-2h-5m0-30h5v-2h-5m0-2h5v-2h-5m0-11h5v-1h-5m0-13h5v-4h-5m0-2h5v-1h-5m0-9h5v-2h-5m0-15h5v-2h-5m0-3h5v-2h-5m0-7h5v-2h-5m0-36h5v-2h-5m0-51h5v-2h-5m0-5h5v-2h-5m0-20h5v-2h-5m0-3h5v-2h-5m0-47h5v-2h-5m0-54h5v-2h-5m0-25h5v-2h-5m0-15h5v-1h-5m11 679h5v-4h-5m0-45h5v-4h-5m0-51h5v-5h-5m0-22h5v-3h-5m0-9h5v-2h-5m0-2h5v-7h-5m0-4h5v-2h-5m0-20h5v-1h-5m0-2h5v-2h-5m0-11h5v-2h-5m0-9h5v-2h-5m0-3h5v-2h-5m0-11h5v-2h-5m0-9h5v-2h-5m0-20h5v-1h-5m0-29h5v-2h-5m0-2h5v-4h-5m0-3h5v-2h-5m0-11h5v-2h-5m0-1h5v-2h-5m0-4h5v-2h-5m0-11h5v-1h-5m0-2h5v-2h-5m0-33h5v-1h-5m0-26h5v-2h-5m0-1h5v-4h-5m0-4h5v-1h-5m0-4h5v-2h-5m0-14h5v-2h-5m0-35h5v-1h-5m0-33h5v-2h-5m0-18h5v-2h-5m0-61h5v-2h-5m0-16h5v-2h-5m0-13h5v-2h-5m0-9h5v-2h-5m0-3h5v-2h-5m0-9h5v-2h-5m10 668h6v-1h-6m0-15h6v-2h-6m0-3h6v-2h-6m0-82h6v-3h-6m0-38h6v-2h-6m0-56h6v-2h-6m0-29h6v-2h-6m0-2h6v-1h-6m0-57h6v-1h-6m0-33h6v-2h-6m0-5h6v-2h-6m0-167h6v-2h-6m0-12h6v-2h-6m0-20h6v-2h-6m0-31h6v-1h-6m0-18h6v-2h-6m0-4h6v-2h-6m0-32h6v-2h-6m0-38h6v-2h-6m11 656h6v-2h-6m0-26h6v-1h-6m0-2h6v-2h-6m0-9h6v-2h-6m0-16h6v-2h-6m0-7h6v-4h-6m0-47h6v-2h-6m0-61h6v-2h-6m0-16h6v-2h-6m0-64h6v-1h-6m0-8h6v-1h-6m0-4h6v-2h-6m0-38h6v-2h-6m0-18h6v-2h-6m0-12h6v-6h-6m0-7h6v-2h-6m0-12h6v-4h-6m0-9h6v-2h-6m0-5h6v-2h-6m0-6h6v-3h-6m0-13h6v-2h-6m0-36h6v-2h-6m0-25h6v-2h-6m0-4h6v-1h-6m0-24h6v-2h-6m0-34h6v-2h-6m0-16h6v-2h-6m0-56h6v-2h-6m0-18h6v-2h-6m0-16h6v-2h-6m11 652h5v-2h-5m0-45h5v-2h-5m0-5h5v-2h-5m0-42h5v-2h-5m0-34h5v-2h-5m0-31h5v-2h-5m0-28h5v-2h-5m0-8h5v-1h-5m0-6h5v-3h-5m0-2h5v-2h-5m0-18h5v-2h-5m0-9h5v-4h-5m0-29h5v-1h-5m0-91h5v-2h-5m0-2h5v-1h-5m0-4h5v-2h-5m0-11h5v-2h-5m0-30h5v-2h-5m0-15h5v-1h-5m0-28h5v-1h-5m0-2h5v-2h-5m0-4h5v-3h-5m0-53h5v-2h-5m0-10h5v-2h-5m0-13h5v-2h-5m0-12h5v-2h-5m0-9h5v-2h-5m0-58h5v-2h-5m27 687h5v-2h-5m0-17h5v-1h-5m0-38h5v-4h-5m0-11h5v-2h-5m0-78h5v-1h-5m0-19h5v-1h-5m0-2h5v-2h-5m0-11h5v-2h-5m0-7h5v-2h-5m0-41h5v-2h-5m0-7h5v-2h-5m0-20h5v-2h-5m0-14h5v-2h-5m0-2h5v-2h-5m0-14h5v-2h-5m0-26h5v-1h-5m0-29h5v-2h-5m0-25h5v-2h-5m0-60h5v-2h-5m0-7h5v-4h-5m0-2h5v-1h-5m0-64h5v-2h-5m0-29h5v-3h-5m0-4h5v-2h-5m0-9h5v-1h-5m0-2h5v-2h-5m0-31h5v-2h-5m0-12h5v-2h-5m0-20h5v-2h-5m0-16h5v-2h-5m0-5h5v-2h-5m0-6h5v-1h-5m27 635h5v-2h-5m0-9h5v-2h-5m0-18h5v-1h-5m0-49h5v-2h-5m0-42h5v-2h-5m0-1h5v-2h-5m0-7h5v-4h-5m0-6h5v-1h-5m0-46h5v-1h-5m0-40h5v-2h-5m0-24h5v-1h-5m0-6h5v-2h-5m0-25h5v-2h-5m0-38h5v-2h-5m0-27h5v-2h-5m0-32h5v-2h-5m0-4h5v-3h-5m0-2h5v-2h-5m0-25h5v-2h-5m0-47h5v-2h-5m0-2h5v-2h-5m0-21h5v-2h-5m0-6h5v-1h-5m0-11h5v-2h-5m0-60h5v-2h-5m0-16h5v-2h-5m27 629h5v-2h-5m0-65h5v-2h-5m0-13h5v-2h-5m0-56h5v-2h-5m0-25h5v-2h-5m0-11h5v-1h-5m0-20h5v-2h-5m0-45h5v-2h-5m0-8h5v-1h-5m0-9h5v-4h-5m0-94h5v-4h-5m0-2h5v-1h-5m0-19h5v-1h-5m0-13h5v-2h-5m0-85h5v-2h-5m0-52h5v-2h-5m0-44h5v-1h-5m0-18h5v-2h-5m27 648h5v-2h-5m0-16h5v-2h-5m0-7h5v-2h-5m0-18h5v-2h-5m0-31h5v-1h-5m0-17h5v-2h-5m0-16h5v-2h-5m0-34h5v-2h-5m0-65h5v-2h-5m0-3h5v-2h-5m0-4h5v-2h-5m0-12h5v-2h-5m0-18h5v-2h-5m0-44h5v-1h-5m0-11h5v-2h-5m0-42h5v-2h-5m0-9h5v-1h-5m0-35h5v-2h-5m0-7h5v-2h-5m0-27h5v-2h-5m0-1h5v-2h-5m0-9h5v-2h-5m0-27h5v-2h-5m0-2h5v-2h-5m0-2h5v-1h-5m0-73h5v-2h-5m0-29h5v-1h-5m0-33h5v-2h-5m0-3h5v-2h-5m0-24h5v-2h-5m27 681h5v-1h-5m0-106h5v-1h-5m0-2h5v-2h-5m0-27h5v-2h-5m0-11h5v-2h-5m0-12h5v-2h-5m0-6h5v-1h-5m0-64h5v-2h-5m0-14h5v-2h-5m0-13h5v-1h-5m0-4h5v-2h-5m0-7h5v-2h-5m0-29h5v-2h-5m0-34h5v-2h-5m0-32h5v-2h-5m0-9h5v-2h-5m0-24h5v-1h-5m0-11h5v-2h-5m0-45h5v-2h-5m0-24h5v-2h-5m0-10h5v-2h-5m0-27h5v-2h-5m0-27h5v-2h-5m0-38h5v-2h-5m0-7h5v-2h-5m0-20h5v-2h-5m0-5h5v-2h-5m0-13h5v-2h-5m0-12h5v-2h-5m27 670h5v-2h-5m0-49h5v-2h-5m0-27h5v-1h-5m0-20h5v-2h-5m0-4h5v-3h-5m0-8h5v-2h-5m0-38h5v-1h-5m0-51h5v-2h-5m0-23h5v-2h-5m0-18h5v-2h-5m0-22h5v-5h-5m0-4h5v-2h-5m0-16h5v-2h-5m0-18h5v-2h-5m0-5h5v-2h-5m0-5h5v-2h-5m0-6h5v-2h-5m0-12h5v-2h-5m0-7h5v-2h-5m0-7h5v-2h-5m0-36h5v-2h-5m0-15h5v-1h-5m0-15h5v-2h-5m0-7h5v-2h-5m0-2h5v-1h-5m0-6h5v-2h-5m0-20h5v-1h-5m0-15h5v-2h-5m0-23h5v-2h-5m0-29h5v-2h-5m0-3h5v-2h-5m0-62h5v-3h-5m0-2h5v-2h-5m0-6h5v-1h-5m0-18h5v-2h-5m0-2h5v-2h-5"/>
<path fill="#471669" d="M124 820h6v-2h-6m0-18h6v-2h-6m0-7h6v-2h-6m0-107h6v-2h-6m0-11h6v-1h-6m0-6h6v-2h-6m0-25h6v-2h-6m0-3h6v-2h-6m0-102h6v-1h-6m0-19h6v-1h-6m0-42h6v-2h-6m0-3h6v-2h-6m0-2h6v-2h-6m0-14h6v-2h-6m0-54h6v-2h-6m0-2h6v-2h-6m0-4h6v-1h-6m0-4h6v-2h-6m0-7h6v-2h-6m0-9h6v-2h-6m0-5h6v-2h-6m0-25h6v-2h-6m0-2h6v-2h-6m0-2h6v-1h-6m0-11h6v-4h-6m0-2h6v-1h-6m0-19h6v-1h-6m0-11h6v-2h-6m0-7h6v-2h-6m0-6h6v-5h-6m0-25h6v-2h-6m0-2h6v-2h-6m0-2h6v-1h-6m0-22h6v-2h-6m0-67h6v-2h-6m6 714h5v-2h-5m0-18h5v-2h-5m0-177h5v-2h-5m0-13h5v-2h-5m0-11h5v-1h-5m0-13h5v-2h-5m0-9h5v-2h-5m0-7h5v-2h-5m0-9h5v-2h-5m0-1h5v-2h-5m0-6h5v-2h-5m0-173h5v-2h-5m0-7h5v-2h-5m0-44h5v-2h-5m0-3h5v-2h-5m0-22h5v-3h-5m0-8h5v-1h-5m0-38h5v-2h-5m0-13h5v-2h-5m0-2h5v-1h-5m0-2h5v-2h-5m0-14h5v-2h-5m0-6h5v-2h-5m0-47h5v-1h-5m0-19h5v-1h-5m5 684h5v-2h-5m0-1h5v-2h-5m0-11h5v-2h-5m0-27h5v-2h-5m0-109h5v-1h-5m0-8h5v-1h-5m0-9h5v-2h-5m0-17h5v-1h-5m0-8h5v-1h-5m0-124h5v-3h-5m0-2h5v-2h-5m0-12h5v-2h-5m0-13h5v-4h-5m0-70h5v-2h-5m0-13h5v-2h-5m0-34h5v-2h-5m0-36h5v-2h-5m0-85h5v-2h-5m0-7h5v-2h-5m0-2h5v-1h-5m0-18h5v-2h-5m0-11h5v-2h-5m5 596h6v-2h-6m0-11h6v-2h-6m0-12h6v-2h-6m0-2h6v-2h-6m0-16h6v-4h-6m0-18h6v-2h-6m0-32h6v-2h-6m0-22h6v-2h-6m0-10h6v-2h-6m0-7h6v-2h-6m0-29h6v-2h-6m0-15h6v-5h-6m0-9h6v-2h-6m0-22h6v-1h-6m0-8h6v-1h-6m0-2h6v-2h-6m0-4h6v-2h-6m0-1h6v-2h-6m0-27h6v-4h-6m0-40h6v-2h-6m0-19h6v-2h-6m0-6h6v-2h-6m0-19h6v-2h-6m0-11h6v-2h-6m0-11h6v-5h-6m0-6h6v-3h-6m0-9h6v-4h-6m0-14h6v-2h-6m0-4h6v-2h-6m0-11h6v-1h-6m0-11h6v-2h-6m0-16h6v-2h-6m0-15h6v-1h-6m0-6h6v-2h-6m0-16h6v-2h-6m0-27h6v-2h-6m0-3h6v-2h-6m0-62h6v-2h-6m0-7h6v-2h-6m6 710h5v-3h-5m0-2h5v-2h-5m0-101h5v-2h-5m0-56h5v-2h-5m0-49h5v-2h-5m0-125h5v-2h-5m0-1h5v-2h-5m0-6h5v-2h-5m0-3h5v-2h-5m0-11h5v-2h-5m0-30h5v-2h-5m0-40h5v-2h-5m0-7h5v-2h-5m0-11h5v-2h-5m0-130h5v-2h-5m0-29h5v-2h-5m0-16h5v-2h-5m0-3h5v-2h-5m0-4h5v-3h-5m5 623h6v-2h-6m0-9h6v-2h-6m0-22h6v-2h-6m0-16h6v-2h-6m0-3h6v-2h-6m0-114h6v-2h-6m0-18h6v-2h-6m0-24h6v-1h-6m0-20h6v-2h-6m0-112h6v-2h-6m0-15h6v-1h-6m0-20h6v-2h-6m0-6h6v-3h-6m0-11h6v-2h-6m0-52h6v-2h-6m0-9h6v-2h-6m0-2h6v-2h-6m0-14h6v-2h-6m0-15h6v-1h-6m0-60h6v-2h-6m0-14h6v-2h-6m0-2h6v-2h-6m0-40h6v-2h-6m0-9h6v-1h-6m0-9h6v-2h-6m0-6h6v-1h-6m6 704h5v-2h-5m0-56h5v-2h-5m0-9h5v-2h-5m0-27h5v-2h-5m0-32h5v-2h-5m0-2h5v-2h-5m0-5h5v-2h-5m0-5h5v-2h-5m0-54h5v-2h-5m0-131h5v-3h-5m0-44h5v-2h-5m0-16h5v-2h-5m0-1h5v-2h-5m0-2h5v-2h-5m0-45h5v-2h-5m0-13h5v-1h-5m0-10h5v-1h-5m0-11h5v-4h-5m0-34h5v-2h-5m0-100h5v-1h-5m0-13h5v-2h-5m0-16h5v-2h-5m5 666h5v-1h-5m0-86h5v-1h-5m0-24h5v-2h-5m0-96h5v-2h-5m0-41h5v-2h-5m0-9h5v-2h-5m0-2h5v-1h-5m0-229h5v-1h-5m0-89h5v-2h-5m0-31h5v-2h-5m0-9h5v-1h-5m5 541h6v-2h-6m0-125h6v-2h-6m0-106h6v-2h-6m0-127h6v-2h-6m0-31h6v-1h-6m6 492h5v-2h-5m0-12h5v-2h-5m0-129h5v-2h-5m0-144h5v-2h-5m0-60h5v-2h-5m0-7h5v-2h-5m0-3h5v-4h-5m0-4h5v-2h-5m0-47h5v-1h-5m0-17h5v-2h-5m0-25h5v-2h-5m0-54h5v-2h-5m0-22h5v-1h-5m0-98h5v-2h-5m0-11h5v-2h-5m0-5h5v-2h-5m5 683h6v-2h-6m0-62h6v-1h-6m0-8h6v-1h-6m0-67h6v-2h-6m0-11h6v-2h-6m0-13h6v-5h-6m0-4h6v-3h-6m0-2h6v-4h-6m0-63h6v-2h-6m0-7h6v-2h-6m0-33h6v-1h-6m0-4h6v-2h-6m0-2h6v-1h-6m0-98h6v-2h-6m0-34h6v-2h-6m0-64h6v-1h-6m0-13h6v-2h-6m0-2h6v-2h-6m0-3h6v-2h-6m0-81h6v-2h-6m0-36h6v-2h-6m0-27h6v-2h-6m0-2h6v-2h-6m0-11h6v-2h-6m6 692h5v-2h-5m0-36h5v-2h-5m0-1h5v-4h-5m0-7h5v-2h-5m0-4h5v-2h-5m0-18h5v-1h-5m0-20h5v-2h-5m0-13h5v-2h-5m0-70h5v-2h-5m0-27h5v-2h-5m0-71h5v-2h-5m0-47h5v-1h-5m0-4h5v-2h-5m0-11h5v-2h-5m0-48h5v-2h-5m0-151h5v-1h-5m5 538h5v-2h-5m0-22h5v-2h-5m0-275h5v-2h-5m0-11h5v-2h-5m0-12h5v-4h-5m0-9h5v-2h-5m0-2h5v-3h-5m0-31h5v-2h-5m0-83h5v-2h-5m0-13h5v-1h-5m0-2h5v-2h-5m0-7h5v-2h-5m0-2h5v-2h-5m0-92h5v-2h-5m5 612h6v-2h-6m0-1h6v-2h-6m0-2h6v-2h-6m0-69h6v-1h-6m0-2h6v-2h-6m0-9h6v-2h-6m0-22h6v-1h-6m0-232h6v-2h-6m0-232h6v-2h-6m0-5h6v-2h-6m0-7h6v-2h-6m0-11h6v-2h-6m0-14h6v-2h-6m0-11h6v-2h-6m0-27h6v-2h-6m0-1h6v-4h-6m0-2h6v-2h-6m0-3h6v-2h-6m0-9h6v-2h-6m0-7h6v-2h-6m6 607h5v-2h-5m0-11h5v-2h-5m0-5h5v-2h-5m0-9h5v-2h-5m0-11h5v-2h-5m0-1h5v-4h-5m0-185h5v-2h-5m0-3h5v-2h-5m0-2h5v-2h-5m0-40h5v-1h-5m0-62h5v-2h-5m0-21h5v-2h-5m0-93h5v-1h-5m0-37h5v-1h-5m0-4h5v-2h-5m0-2h5v-2h-5m0-3h5v-2h-5m0-5h5v-2h-5m0-65h5v-2h-5m5 672h6v-2h-6m0-212h6v-2h-6m0-43h6v-2h-6m0-54h6v-2h-6m0-64h6v-1h-6m0-17h6v-2h-6m0-119h6v-5h-6m0-22h6v-2h-6m0-125h6v-2h-6m0-3h6v-2h-6m6 654h5v-2h-5m0-78h5v-2h-5m0-16h5v-2h-5m0-98h5v-2h-5m0-12h5v-2h-5m0-26h5v-1h-5m0-6h5v-3h-5m0-17h5v-2h-5m0-30h5v-2h-5m0-38h5v-2h-5m0-42h5v-1h-5m0-13h5v-2h-5m0-13h5v-1h-5m0-67h5v-2h-5m0-27h5v-2h-5m0-13h5v-2h-5m0-67h5v-1h-5m0-51h5v-4h-5m0-11h5v-1h-5m5 700h5v-1h-5m0-9h5v-2h-5m0-38h5v-2h-5m0-11h5v-2h-5m0-13h5v-1h-5m0-11h5v-4h-5m0-27h5v-2h-5m0-70h5v-2h-5m0-11h5v-2h-5m0-47h5v-2h-5m0-43h5v-2h-5m0-11h5v-2h-5m0-25h5v-2h-5m0-67h5v-2h-5m0-25h5v-2h-5m0-18h5v-2h-5m0-7h5v-4h-5m0-5h5v-4h-5m0-12h5v-4h-5m0-42h5v-1h-5m0-11h5v-2h-5m0-29h5v-2h-5m0-29h5v-2h-5m0-38h5v-2h-5m0-39h5v-2h-5m0-4h5v-2h-5m5 708h6v-1h-6m0-2h6v-2h-6m0-43h6v-2h-6m0-2h6v-2h-6m0-20h6v-2h-6m0-9h6v-2h-6m0-27h6v-1h-6m0-194h6v-2h-6m0-38h6v-2h-6m0-85h6v-2h-6m0-18h6v-2h-6m0-3h6v-2h-6m0-15h6v-1h-6m0-28h6v-1h-6m0-10h6v-1h-6m0-49h6v-2h-6m0-42h6v-2h-6m0-27h6v-1h-6m0-17h6v-2h-6m0-21h6v-2h-6m0-15h6v-1h-6m6 586h5v-3h-5m0-46h5v-1h-5m0-17h5v-1h-5m0-15h5v-2h-5m0-2h5v-1h-5m0-6h5v-7h-5m0-20h5v-2h-5m0-36h5v-2h-5m0-14h5v-2h-5m0-11h5v-4h-5m0-11h5v-1h-5m0-51h5v-2h-5m0-2h5v-1h-5m0-28h5v-1h-5m0-24h5v-2h-5m0-72h5v-2h-5m0-24h5v-1h-5m0-38h5v-2h-5m0-18h5v-4h-5m0-16h5v-2h-5m0-6h5v-1h-5m0-20h5v-2h-5m0-4h5v-1h-5m0-28h5v-1h-5m0-19h5v-1h-5m5 675h6v-2h-6m0-30h6v-2h-6m0-27h6v-2h-6m0-102h6v-1h-6m0-13h6v-2h-6m0-29h6v-2h-6m0-161h6v-2h-6m0-29h6v-2h-6m0-14h6v-2h-6m0-2h6v-1h-6m0-51h6v-2h-6m0-96h6v-2h-6m0-3h6v-2h-6m0-2h6v-2h-6m0-18h6v-2h-6m0-3h6v-2h-6m0-9h6v-2h-6m6 599h5v-1h-5m0-17h5v-2h-5m0-14h5v-4h-5m0-3h5v-2h-5m0-7h5v-2h-5m0-11h5v-2h-5m0-22h5v-1h-5m0-4h5v-2h-5m0-5h5v-2h-5m0-15h5v-1h-5m0-4h5v-2h-5m0-11h5v-7h-5m0-2h5v-1h-5m0-153h5v-1h-5m0-2h5v-2h-5m0-45h5v-2h-5m0-36h5v-2h-5m0-100h5v-2h-5m0-19h5v-2h-5m0-38h5v-2h-5m0-11h5v-4h-5m0-29h5v-1h-5m0-48h5v-1h-5m5 663h5v-2h-5m0-2h5v-2h-5m0-116h5v-2h-5m0-18h5v-2h-5m0-14h5v-4h-5m0-103h5v-2h-5m0-29h5v-2h-5m0-7h5v-2h-5m0-96h5v-1h-5m0-20h5v-2h-5m0-7h5v-2h-5m0-16h5v-2h-5m0-9h5v-4h-5m0-67h5v-2h-5m0-7h5v-2h-5m0-14h5v-4h-5m0-33h5v-1h-5m0-8h5v-1h-5m5 623h6v-2h-6m0-2h6v-2h-6m0-51h6v-1h-6m0-75h6v-1h-6m0-42h6v-2h-6m0-25h6v-2h-6m0-4h6v-1h-6m0-140h6v-2h-6m0-11h6v-1h-6m0-57h6v-3h-6m0-13h6v-2h-6m0-12h6v-2h-6m0-16h6v-2h-6m0-7h6v-2h-6m0-2h6v-2h-6m0-9h6v-2h-6m0-2h6v-1h-6m0-22h6v-2h-6m0-4h6v-1h-6m0-4h6v-2h-6m0-165h6v-1h-6m6 688h5v-2h-5m0-4h5v-3h-5m0-6h5v-2h-5m0-25h5v-2h-5m0-3h5v-2h-5m0-7h5v-2h-5m0-44h5v-1h-5m0-26h5v-2h-5m0-1h5v-2h-5m0-8h5v-1h-5m0-4h5v-2h-5m0-128h5v-4h-5m0-62h5v-1h-5m0-8h5v-3h-5m0-13h5v-2h-5m0-11h5v-3h-5m0-18h5v-2h-5m0-20h5v-2h-5m0-16h5v-2h-5m0-5h5v-2h-5m0-6h5v-1h-5m0-9h5v-6h-5m0-47h5v-2h-5m0-18h5v-2h-5m0-5h5v-2h-5m0-2h5v-3h-5m0-33h5v-2h-5m0-9h5v-4h-5m0-1h5v-2h-5m0-4h5v-2h-5m0-3h5v-2h-5m5 621h6v-2h-6m0-10h6v-2h-6m0-4h6v-4h-6m0-1h6v-2h-6m0-7h6v-2h-6m0-49h6v-2h-6m0-183h6v-2h-6m0-49h6v-3h-6m0-24h6v-2h-6m0-7h6v-2h-6m0-23h6v-2h-6m0-4h6v-1h-6m0-26h6v-2h-6m0-12h6v-2h-6m0-2h6v-2h-6m0-5h6v-4h-6m0-36h6v-2h-6m0-2h6v-1h-6m0-4h6v-2h-6m0-3h6v-2h-6m0-18h6v-2h-6m0-47h6v-2h-6m0-2h6v-2h-6m0-3h6v-2h-6m0-2h6v-2h-6m0-20h6v-1h-6m0-13h6v-2h-6m0-5h6v-2h-6m0-24h6v-2h-6m0-25h6v-2h-6m0-5h6v-6h-6m6 649h5v-2h-5m0-5h5v-2h-5m0-8h5v-3h-5m0-2h5v-2h-5m0-5h5v-6h-5m0-5h5v-2h-5m0-4h5v-1h-5m0-17h5v-1h-5m0-8h5v-1h-5m0-17h5v-2h-5m0-56h5v-2h-5m0-39h5v-2h-5m0-116h5v-2h-5m0-2h5v-2h-5m0-14h5v-2h-5m0-14h5v-2h-5m0-6h5v-1h-5m0-13h5v-5h-5m0-8h5v-2h-5m0-10h5v-2h-5m0-35h5v-1h-5m0-13h5v-4h-5m0-11h5v-1h-5m0-44h5v-2h-5m0-23h5v-2h-5m0-24h5v-1h-5m0-9h5v-2h-5m0-11h5v-2h-5m0-2h5v-2h-5m0-54h5v-2h-5m0-3h5v-2h-5m5 683h5v-2h-5m0-4h5v-2h-5m0-14h5v-2h-5m0-4h5v-1h-5m0-2h5v-2h-5m0-51h5v-2h-5m0-23h5v-2h-5m0-3h5v-2h-5m0-11h5v-2h-5m0-346h5v-2h-5m0-30h5v-2h-5m0-67h5v-2h-5m0-13h5v-2h-5m0-14h5v-2h-5m0-4h5v-1h-5m0-4h5v-4h-5m0-32h5v-4h-5m0-20h5v-2h-5m0-18h5v-1h-5m5 662h6v-1h-6m0-15h6v-2h-6m0-12h6v-2h-6m0-11h6v-2h-6m0-25h6v-4h-6m0-52h6v-2h-6m0-4h6v-2h-6m0-14h6v-2h-6m0-5h6v-2h-6m0-33h6v-2h-6m0-9h6v-1h-6m0-6h6v-2h-6m0-12h6v-2h-6m0-4h6v-2h-6m0-36h6v-2h-6m0-7h6v-2h-6m0-14h6v-2h-6m0-27h6v-2h-6m0-11h6v-2h-6m0-87h6v-1h-6m0-4h6v-2h-6m0-12h6v-2h-6m0-18h6v-4h-6m0-9h6v-2h-6m0-9h6v-2h-6m0-5h6v-2h-6m0-2h6v-2h-6m0-23h6v-2h-6m0-4h6v-1h-6m0-4h6v-2h-6m0-72h6v-2h-6m0-27h6v-2h-6m6 670h5v-2h-5m0-12h5v-2h-5m0-18h5v-2h-5m0-2h5v-2h-5m0-32h5v-4h-5m0-25h5v-2h-5m0-13h5v-2h-5m0-12h5v-2h-5m0-13h5v-2h-5m0-32h5v-2h-5m0-4h5v-3h-5m0-9h5v-2h-5m0-7h5v-2h-5m0-11h5v-4h-5m0-18h5v-2h-5m0-11h5v-3h-5m0-11h5v-2h-5m0-16h5v-4h-5m0-23h5v-2h-5m0-143h5v-2h-5m0-9h5v-2h-5m0-2h5v-1h-5m0-100h5v-2h-5m0-5h5v-2h-5m0-13h5v-2h-5m0-52h5v-2h-5m0-4h5v-1h-5m0-29h5v-4h-5m5 695h6v-1h-6m0-2h6v-2h-6m0-2h6v-2h-6m0-7h6v-2h-6m0-21h6v-2h-6m0-7h6v-2h-6m0-2h6v-2h-6m0-4h6v-3h-6m0-82h6v-1h-6m0-17h6v-2h-6m0-74h6v-3h-6m0-48h6v-1h-6m0-20h6v-2h-6m0-18h6v-2h-6m0-7h6v-2h-6m0-18h6v-2h-6m0-5h6v-2h-6m0-15h6v-2h-6m0-1h6v-4h-6m0-72h6v-2h-6m0-22h6v-2h-6m0-2h6v-1h-6m0-20h6v-2h-6m0-16h6v-2h-6m0-6h6v-1h-6m0-57h6v-1h-6m0-44h6v-2h-6m0-11h6v-1h-6m0-4h6v-4h-6m0-3h6v-2h-6m0-13h6v-2h-6m0-14h6v-2h-6m0-7h6v-2h-6m6 687h5v-2h-5m0-11h5v-2h-5m0-4h5v-1h-5m0-8h5v-1h-5m0-15h5v-2h-5m0-2h5v-1h-5m0-60h5v-2h-5m0-4h5v-1h-5m0-2h5v-2h-5m0-2h5v-2h-5m0-3h5v-2h-5m0-49h5v-4h-5m0-20h5v-1h-5m0-40h5v-2h-5m0-2h5v-2h-5m0-23h5v-2h-5m0-4h5v-1h-5m0-28h5v-1h-5m0-11h5v-2h-5m0-111h5v-1h-5m0-107h5v-2h-5m0-16h5v-2h-5m0-9h5v-2h-5m0-34h5v-6h-5m0-23h5v-2h-5m5 650h5v-2h-5m0-3h5v-2h-5m0-2h5v-2h-5m0-2h5v-1h-5m0-49h5v-2h-5m0-6h5v-1h-5m0-4h5v-4h-5m0-16h5v-2h-5m0-5h5v-2h-5m0-34h5v-4h-5m0-2h5v-2h-5m0-30h5v-2h-5m0-8h5v-3h-5m0-42h5v-2h-5m0-7h5v-2h-5m0-30h5v-2h-5m0-4h5v-2h-5m0-9h5v-2h-5m0-23h5v-2h-5m0-7h5v-2h-5m0-2h5v-2h-5m0-10h5v-4h-5m0-4h5v-2h-5m0-1h5v-2h-5m0-26h5v-1h-5m0-27h5v-2h-5m0-11h5v-2h-5m0-38h5v-2h-5m0-69h5v-3h-5m0-9h5v-2h-5m5 547h6v-4h-6m0-3h6v-2h-6m0-2h6v-2h-6m0-3h6v-2h-6m0-20h6v-2h-6m0-5h6v-2h-6m0-6h6v-3h-6m0-15h6v-2h-6m0-11h6v-1h-6m0-33h6v-2h-6m0-3h6v-2h-6m0-56h6v-4h-6m0-13h6v-1h-6m0-82h6v-4h-6m0-19h6v-2h-6m0-9h6v-2h-6m0-2h6v-2h-6m0-18h6v-2h-6m0-56h6v-2h-6m0-5h6v-2h-6m0-85h6v-2h-6m0-12h6v-2h-6m0-11h6v-2h-6m0-16h6v-2h-6m0-15h6v-1h-6m0-22h6v-2h-6m0-9h6v-2h-6m0-22h6v-1h-6m0-60h6v-2h-6m0-5h6v-2h-6m0-4h6v-2h-6m0-10h6v-2h-6m6 704h5v-2h-5m0-50h5v-2h-5m0-42h5v-2h-5m0-103h5v-2h-5m0-3h5v-2h-5m0-467h5v-4h-5m0-23h5v-2h-5m5 597h6v-1h-6m0-15h6v-2h-6m0-137h6v-2h-6m0-6h6v-1h-6m0-22h6v-2h-6m0-24h6v-1h-6m0-189h6v-1h-6m6 499h5v-1h-5m0-48h5v-1h-5m0-9h5v-2h-5m0-13h5v-2h-5m0-34h5v-2h-5m0-4h5v-1h-5m0-11h5v-2h-5m0-27h5v-2h-5m0-40h5v-2h-5m0-110h5v-2h-5m0-9h5v-2h-5m0-3h5v-2h-5m0-13h5v-2h-5m0-20h5v-1h-5m0-53h5v-2h-5m0-32h5v-2h-5m0-2h5v-4h-5m0-12h5v-2h-5m0-18h5v-2h-5m0-16h5v-2h-5m0-49h5v-2h-5m0-16h5v-2h-5m0-25h5v-2h-5m0-24h5v-1h-5m0-4h5v-2h-5m0-33h5v-1h-5m5 347h5v-1h-5m0-158h5v-2h-5m0-2h5v-1h-5m0-29h5v-2h-5m0-7h5v-2h-5m0-4h5v-2h-5m0-40h5v-1h-5m5 579h6v-2h-6m0-63h6v-2h-6m0-16h6v-2h-6m0-2h6v-2h-6m0-3h6v-2h-6m0-7h6v-2h-6m0-24h6v-1h-6m0-42h6v-2h-6m0-9h6v-2h-6m0-3h6v-2h-6m0-6h6v-1h-6m0-4h6v-2h-6m0-18h6v-2h-6m0-76h6v-2h-6m0-87h6v-1h-6m0-33h6v-2h-6m0-14h6v-2h-6m0-31h6v-2h-6m0-20h6v-3h-6m0-2h6v-2h-6m0-94h6v-2h-6m0-67h6v-2h-6m0-9h6v-2h-6m6 640h5v-2h-5m0-5h5v-2h-5m0-6h5v-2h-5m0-166h5v-2h-5m0-16h5v-2h-5m0-33h5v-1h-5m0-4h5v-2h-5m0-56h5v-2h-5m0-2h5v-1h-5m0-6h5v-2h-5m0-20h5v-1h-5m0-17h5v-2h-5m0-1h5v-2h-5m0-31h5v-2h-5m0-3h5v-2h-5m0-11h5v-2h-5m0-76h5v-2h-5m0-11h5v-1h-5m0-6h5v-2h-5m0-88h5v-4h-5m5 632h6v-2h-6m0-14h6v-2h-6m0-44h6v-1h-6m0-51h6v-2h-6m0-112h6v-2h-6m0-2h6v-2h-6m0-27h6v-2h-6m0-41h6v-2h-6m0-36h6v-2h-6m0-40h6v-2h-6m0-14h6v-2h-6m0-65h6v-2h-6m0-24h6v-1h-6m0-2h6v-2h-6m0-11h6v-2h-6m0-7h6v-2h-6m0-65h6v-2h-6m0-20h6v-2h-6m0-10h6v-2h-6m0-9h6v-2h-6m0-7h6v-2h-6m0-2h6v-2h-6m0-9h6v-2h-6m0-9h6v-1h-6m6 670h5v-2h-5m0-4h5v-2h-5m0-112h5v-2h-5m0-27h5v-2h-5m0-23h5v-2h-5m0-13h5v-2h-5m0-29h5v-1h-5m0-17h5v-1h-5m0-158h5v-2h-5m0-34h5v-2h-5m0-45h5v-2h-5m0-24h5v-3h-5m0-11h5v-2h-5m0-72h5v-2h-5m0-15h5v-2h-5m0-1h5v-2h-5m0-9h5v-2h-5m0-24h5v-1h-5m0-9h5v-2h-5m0-40h5v-2h-5m5 699h5v-2h-5m0-21h5v-2h-5m0-67h5v-2h-5m0-54h5v-2h-5m0-2h5v-4h-5m0-21h5v-2h-5m0-29h5v-2h-5m0-60h5v-1h-5m0-35h5v-2h-5m0-2h5v-1h-5m0-8h5v-3h-5m0-6h5v-1h-5m0-11h5v-2h-5m0-25h5v-2h-5m0-18h5v-2h-5m0-7h5v-4h-5m0-4h5v-1h-5m0-26h5v-2h-5m0-99h5v-2h-5m0-24h5v-1h-5m0-2h5v-2h-5m0-5h5v-2h-5m0-9h5v-2h-5m0-11h5v-2h-5m0-22h5v-1h-5m0-17h5v-1h-5m0-22h5v-2h-5m0-38h5v-2h-5m5 712h6v-2h-6m0-5h6v-2h-6m0-6h6v-1h-6m0-20h6v-2h-6m0-6h6v-1h-6m0-15h6v-2h-6m0-2h6v-1h-6m0-142h6v-1h-6m0-57h6v-1h-6m0-29h6v-2h-6m0-13h6v-3h-6m0-2h6v-2h-6m0-6h6v-1h-6m0-6h6v-2h-6m0-9h6v-1h-6m0-4h6v-2h-6m0-2h6v-1h-6m0-71h6v-2h-6m0-11h6v-3h-6m0-13h6v-2h-6m0-11h6v-2h-6m0-3h6v-2h-6m0-5h6v-2h-6m0-6h6v-1h-6m0-4h6v-2h-6m0-22h6v-1h-6m0-4h6v-2h-6m0-25h6v-6h-6m0-11h6v-3h-6m0-11h6v-2h-6m0-7h6v-2h-6m0-7h6v-2h-6m0-27h6v-2h-6m0-2h6v-3h-6m0-11h6v-4h-6m0-7h6v-4h-6m0-9h6v-2h-6m0-7h6v-2h-6m0-18h6v-2h-6m6 687h5v-2h-5m0-2h5v-2h-5m0-10h5v-2h-5m0-9h5v-2h-5m0-24h5v-2h-5m0-3h5v-2h-5m0-7h5v-2h-5m0-40h5v-2h-5m0-47h5v-2h-5m0-1h5v-2h-5m0-2h5v-2h-5m0-11h5v-1h-5m0-20h5v-2h-5m0-40h5v-2h-5m0-7h5v-2h-5m0-9h5v-2h-5m0-22h5v-1h-5m0-18h5v-4h-5m0-9h5v-2h-5m0-18h5v-2h-5m0-20h5v-2h-5m0-34h5v-2h-5m0-11h5v-1h-5m0-37h5v-2h-5m0-12h5v-2h-5m0-105h5v-2h-5m0-11h5v-2h-5m0-19h5v-2h-5m0-49h5v-2h-5m0-47h5v-2h-5m5 705h6v-6h-6m0-22h6v-1h-6m0-58h6v-2h-6m0-27h6v-2h-6m0-53h6v-1h-6m0-37h6v-1h-6m0-13h6v-2h-6m0-27h6v-2h-6m0-25h6v-4h-6m0-4h6v-1h-6m0-4h6v-2h-6m0-60h6v-1h-6m0-4h6v-2h-6m0-36h6v-2h-6m0-36h6v-2h-6m0-7h6v-2h-6m0-9h6v-2h-6m0-49h6v-1h-6m0-44h6v-2h-6m0-23h6v-2h-6m0-53h6v-1h-6m0-58h6v-2h-6m6 603h5v-2h-5m0-7h5v-2h-5m0-201h5v-2h-5m0-27h5v-2h-5m0-148h5v-2h-5m0-11h5v-2h-5m0-47h5v-2h-5m0-34h5v-2h-5m0-23h5v-2h-5m0-27h5v-2h-5m0-65h5v-2h-5m5 708h5v-2h-5m0-7h5v-2h-5m0-40h5v-2h-5m0-7h5v-2h-5m0-12h5v-2h-5m0-44h5v-1h-5m0-196h5v-2h-5m0-40h5v-2h-5m0-61h5v-2h-5m0-2h5v-2h-5m0-16h5v-2h-5m0-18h5v-3h-5m0-13h5v-2h-5m0-2h5v-1h-5m0-15h5v-2h-5m0-18h5v-2h-5m0-45h5v-2h-5m0-69h5v-1h-5m0-31h5v-6h-5m0-14h5v-2h-5m0-16h5v-2h-5m5 692h6v-2h-6m0-5h6v-2h-6m0-13h6v-2h-6m0-2h6v-1h-6m0-44h6v-2h-6m0-2h6v-1h-6m0-27h6v-2h-6m0-11h6v-2h-6m0-2h6v-2h-6m0-3h6v-2h-6m0-25h6v-4h-6m0-14h6v-2h-6m0-13h6v-2h-6m0-14h6v-2h-6m0-33h6v-3h-6m0-11h6v-2h-6m0-22h6v-2h-6m0-19h6v-2h-6m0-9h6v-2h-6m0-24h6v-1h-6m0-2h6v-2h-6m0-74h6v-2h-6m0-26h6v-1h-6m0-29h6v-2h-6m0-15h6v-1h-6m0-17h6v-2h-6m0-3h6v-2h-6m0-2h6v-2h-6m0-10h6v-2h-6m0-4h6v-2h-6m0-18h6v-2h-6m0-1h6v-2h-6m0-2h6v-2h-6m0-23h6v-2h-6m0-4h6v-2h-6m0-7h6v-2h-6m0-2h6v-1h-6m0-18h6v-2h-6m0-24h6v-2h-6m0-14h6v-2h-6m0-2h6v-2h-6m0-9h6v-1h-6m6 684h5v-2h-5m0-32h5v-2h-5m0-29h5v-2h-5m0-11h5v-2h-5m0-7h5v-2h-5m0-30h5v-2h-5m0-18h5v-2h-5m0-15h5v-3h-5m0-36h5v-2h-5m0-64h5v-1h-5m0-40h5v-2h-5m0-44h5v-1h-5m0-11h5v-2h-5m0-11h5v-2h-5m0-3h5v-2h-5m0-29h5v-4h-5m0-2h5v-1h-5m0-2h5v-2h-5m0-52h5v-2h-5m0-17h5v-1h-5m0-100h5v-2h-5m0-5h5v-2h-5m0-25h5v-2h-5m0-15h5v-2h-5m0-41h5v-4h-5m5 694h6v-2h-6m0-4h6v-1h-6m0-33h6v-2h-6m0-14h6v-2h-6m0-9h6v-2h-6m0-2h6v-2h-6m0-7h6v-2h-6m0-23h6v-2h-6m0-5h6v-2h-6m0-9h6v-2h-6m0-20h6v-2h-6m0-7h6v-6h-6m0-7h6v-2h-6m0-23h6v-2h-6m0-63h6v-2h-6m0-35h6v-1h-6m0-13h6v-2h-6m0-31h6v-1h-6m0-10h6v-1h-6m0-13h6v-2h-6m0-5h6v-2h-6m0-11h6v-2h-6m0-9h6v-2h-6m0-12h6v-2h-6m0-29h6v-2h-6m0-5h6v-4h-6m0-9h6v-2h-6m0-23h6v-2h-6m0-2h6v-2h-6m0-9h6v-2h-6m0-11h6v-1h-6m0-2h6v-2h-6m0-18h6v-2h-6m0-5h6v-2h-6m0-121h6v-2h-6m0-20h6v-2h-6m0-5h6v-2h-6m6 664h5v-1h-5m0-20h5v-2h-5m0-13h5v-2h-5m0-18h5v-2h-5m0-7h5v-2h-5m0-34h5v-2h-5m0-16h5v-2h-5m0-7h5v-4h-5m0-2h5v-1h-5m0-26h5v-2h-5m0-9h5v-1h-5m0-46h5v-2h-5m0-48h5v-2h-5m0-6h5v-2h-5m0-3h5v-2h-5m0-18h5v-5h-5m0-39h5v-1h-5m0-66h5v-1h-5m0-4h5v-4h-5m0-1h5v-2h-5m0-4h5v-2h-5m0-5h5v-2h-5m0-18h5v-2h-5m0-7h5v-2h-5m0-20h5v-2h-5m0-3h5v-2h-5m0-9h5v-2h-5m0-7h5v-2h-5m0-14h5v-2h-5m0-6h5v-1h-5m0-11h5v-2h-5m0-6h5v-1h-5m0-2h5v-2h-5m0-9h5v-2h-5m0-4h5v-1h-5m0-42h5v-2h-5m0-2h5v-1h-5m0-2h5v-2h-5m0-11h5v-4h-5m0-10h5v-2h-5m0-4h5v-2h-5m0-5h5v-2h-5m5 701h5v-2h-5m0-3h5v-4h-5m0-2h5v-2h-5m0-5h5v-2h-5m0-13h5v-1h-5m0-8h5v-1h-5m0-58h5v-2h-5m0-143h5v-2h-5m0-33h5v-2h-5m0-21h5v-2h-5m0-4h5v-2h-5m0-39h5v-2h-5m0-15h5v-1h-5m0-6h5v-2h-5m0-3h5v-2h-5m0-22h5v-2h-5m0-1h5v-2h-5m0-18h5v-2h-5m0-31h5v-2h-5m0-22h5v-1h-5m0-2h5v-2h-5m0-7h5v-2h-5m0-31h5v-2h-5m0-18h5v-3h-5m0-4h5v-2h-5m0-41h5v-2h-5m0-82h5v-2h-5m0-18h5v-1h-5m5 699h6v-2h-6m0-49h6v-2h-6m0-33h6v-1h-6m0-17h6v-3h-6m0-8h6v-1h-6m0-58h6v-2h-6m0-13h6v-2h-6m0-12h6v-2h-6m0-27h6v-2h-6m0-11h6v-2h-6m0-50h6v-2h-6m0-29h6v-4h-6m0-70h6v-4h-6m0-38h6v-2h-6m0-34h6v-2h-6m0-2h6v-2h-6m0-31h6v-1h-6m0-18h6v-2h-6m0-38h6v-2h-6m0-7h6v-2h-6m0-18h6v-2h-6m0-9h6v-2h-6m0-33h6v-1h-6m0-38h6v-2h-6m6 699h5v-2h-5m0-13h5v-3h-5m0-40h5v-2h-5m0-78h5v-2h-5m0-18h5v-2h-5m0-19h5v-2h-5m0-13h5v-2h-5m0-18h5v-2h-5m0-27h5v-2h-5m0-16h5v-2h-5m0-25h5v-2h-5m0-9h5v-2h-5m0-2h5v-3h-5m0-26h5v-1h-5m0-17h5v-2h-5m0-3h5v-2h-5m0-5h5v-2h-5m0-18h5v-2h-5m0-20h5v-2h-5m0-9h5v-2h-5m0-47h5v-2h-5m0-21h5v-2h-5m0-15h5v-1h-5m0-24h5v-2h-5m0-18h5v-2h-5m0-3h5v-2h-5m0-9h5v-2h-5m0-22h5v-2h-5m0-10h5v-2h-5m0-6h5v-2h-5m0-10h5v-2h-5m0-38h5v-2h-5m0-11h5v-4h-5m0-1h5v-4h-5m0-5h5v-2h-5m5 675h6v-3h-6m0-8h6v-1h-6m0-18h6v-2h-6m0-29h6v-2h-6m0-6h6v-1h-6m0-9h6v-2h-6m0-4h6v-2h-6m0-1h6v-2h-6m0-31h6v-2h-6m0-3h6v-2h-6m0-4h6v-2h-6m0-27h6v-2h-6m0-12h6v-2h-6m0-6h6v-3h-6m0-18h6v-2h-6m0-18h6v-2h-6m0-15h6v-1h-6m0-31h6v-2h-6m0-45h6v-2h-6m0-18h6v-2h-6m0-2h6v-2h-6m0-5h6v-2h-6m0-3h6v-2h-6m0-6h6v-2h-6m0-19h6v-2h-6m0-9h6v-4h-6m0-31h6v-2h-6m0-5h6v-4h-6m0-39h6v-2h-6m0-6h6v-1h-6m0-22h6v-4h-6m0-16h6v-4h-6m0-38h6v-2h-6m0-7h6v-3h-6m0-8h6v-2h-6m0-47h6v-1h-6m0-4h6v-2h-6m0-3h6v-2h-6m0-20h6v-2h-6m6 674h5v-2h-5m0-13h5v-2h-5m0-20h5v-1h-5m0-40h5v-2h-5m0-7h5v-2h-5m0-27h5v-2h-5m0-5h5v-2h-5m0-6h5v-2h-5m0-19h5v-2h-5m0-4h5v-2h-5m0-20h5v-1h-5m0-29h5v-2h-5m0-22h5v-2h-5m0-3h5v-2h-5m0-15h5v-1h-5m0-20h5v-2h-5m0-15h5v-2h-5m0-47h5v-1h-5m0-6h5v-2h-5m0-7h5v-2h-5m0-14h5v-2h-5m0-22h5v-3h-5m0-22h5v-2h-5m0-9h5v-2h-5m0-14h5v-2h-5m0-18h5v-4h-5m0-11h5v-1h-5m0-8h5v-2h-5m0-10h5v-2h-5m0-20h5v-2h-5m0-16h5v-2h-5m0-5h5v-2h-5m0-31h5v-2h-5m0-13h5v-1h-5m0-13h5v-2h-5m0-3h5v-2h-5m0-13h5v-2h-5m0-12h5v-2h-5m0-22h5v-2h-5m5 681h5v-2h-5m0-20h5v-1h-5m0-4h5v-4h-5m0-23h5v-2h-5m0-29h5v-2h-5m0-2h5v-1h-5m0-11h5v-2h-5m0-15h5v-1h-5m0-8h5v-1h-5m0-6h5v-2h-5m0-2h5v-1h-5m0-13h5v-2h-5m0-52h5v-2h-5m0-4h5v-2h-5m0-9h5v-1h-5m0-22h5v-2h-5m0-2h5v-2h-5m0-1h5v-2h-5m0-6h5v-1h-5m0-31h5v-2h-5m0-6h5v-1h-5m0-31h5v-2h-5m0-23h5v-2h-5m0-22h5v-2h-5m0-14h5v-2h-5m0-35h5v-1h-5m0-11h5v-2h-5m0-47h5v-2h-5m0-14h5v-2h-5m0-29h5v-2h-5m0-34h5v-2h-5m0-51h5v-2h-5m0-9h5v-3h-5m5 657h6v-2h-6m0-3h6v-2h-6m0-15h6v-3h-6m0-17h6v-1h-6m0-6h6v-2h-6m0-29h6v-2h-6m0-10h6v-4h-6m0-20h6v-2h-6m0-9h6v-2h-6m0-5h6v-2h-6m0-9h6v-2h-6m0-5h6v-4h-6m0-3h6v-2h-6m0-6h6v-1h-6m0-22h6v-2h-6m0-11h6v-2h-6m0-11h6v-1h-6m0-6h6v-2h-6m0-16h6v-2h-6m0-12h6v-2h-6m0-4h6v-2h-6m0-38h6v-1h-6m0-10h6v-1h-6m0-13h6v-2h-6m0-36h6v-2h-6m0-14h6v-2h-6m0-6h6v-1h-6m0-9h6v-2h-6m0-2h6v-2h-6m0-7h6v-2h-6m0-18h6v-2h-6m0-2h6v-1h-6m0-44h6v-2h-6m0-23h6v-2h-6m0-15h6v-1h-6m0-4h6v-2h-6m0-5h6v-2h-6m0-20h6v-2h-6m0-18h6v-2h-6m0-16h6v-2h-6m0-2h6v-3h-6m0-22h6v-2h-6m0-25h6v-2h-6m0-11h6v-3h-6m0-2h6v-2h-6m0-13h6v-2h-6m0-12h6v-2h-6m6 661h5v-2h-5m0-3h5v-2h-5m0-2h5v-2h-5m0-9h5v-2h-5m0-31h5v-3h-5m0-13h5v-2h-5m0-47h5v-2h-5m0-14h5v-2h-5m0-109h5v-1h-5m0-2h5v-2h-5m0-18h5v-4h-5m0-65h5v-4h-5m0-18h5v-1h-5m0-8h5v-1h-5m0-40h5v-2h-5m0-2h5v-2h-5m0-5h5v-2h-5m0-2h5v-2h-5m0-36h5v-2h-5m0-14h5v-2h-5m0-4h5v-1h-5m0-18h5v-2h-5m0-29h5v-2h-5m0-33h5v-2h-5m0-5h5v-2h-5m0-3h5v-2h-5m0-18h5v-2h-5m5 643h6v-2h-6m0-4h6v-1h-6m0-2h6v-2h-6m0-49h6v-2h-6m0-31h6v-1h-6m0-73h6v-2h-6m0-3h6v-2h-6m0-118h6v-2h-6m0-14h6v-2h-6m0-5h6v-2h-6m0-7h6v-2h-6m0-27h6v-4h-6m0-5h6v-2h-6m0-58h6v-2h-6m0-9h6v-2h-6m0-7h6v-2h-6m0-27h6v-2h-6m0-3h6v-2h-6m0-2h6v-2h-6m0-14h6v-2h-6m0-17h6v-1h-6m0-38h6v-2h-6m0-73h6v-1h-6m0-24h6v-2h-6m0-3h6v-2h-6m0-27h6v-4h-6m0-2h6v-2h-6m6 689h5v-2h-5m0-2h5v-2h-5m0-25h5v-2h-5m0-31h5v-2h-5m0-58h5v-1h-5m0-57h5v-1h-5m0-4h5v-2h-5m0-2h5v-1h-5m0-49h5v-2h-5m0-16h5v-2h-5m0-47h5v-2h-5m0-36h5v-2h-5m0-58h5v-2h-5m0-2h5v-2h-5m0-16h5v-2h-5m0-12h5v-2h-5m0-9h5v-2h-5m0-38h5v-2h-5m0-13h5v-1h-5m0-11h5v-2h-5m0-7h5v-2h-5m0-24h5v-1h-5m0-4h5v-2h-5m0-49h5v-2h-5m0-14h5v-2h-5m0-22h5v-1h-5m0-29h5v-2h-5m5 690h5v-2h-5m0-2h5v-2h-5m0-30h5v-2h-5m0-27h5v-2h-5m0-64h5v-3h-5m0-18h5v-2h-5m0-20h5v-4h-5m0-5h5v-2h-5m0-4h5v-1h-5m0-28h5v-1h-5m0-71h5v-2h-5m0-16h5v-2h-5m0-5h5v-2h-5m0-6h5v-1h-5m0-9h5v-2h-5m0-15h5v-2h-5m0-12h5v-4h-5m0-27h5v-2h-5m0-14h5v-2h-5m0-31h5v-2h-5m0-103h5v-2h-5m0-25h5v-2h-5m0-23h5v-2h-5m0-44h5v-2h-5m0-16h5v-2h-5m5 627h6v-2h-6m0-56h6v-2h-6m0-34h6v-2h-6m0-18h6v-2h-6m0-16h6v-2h-6m0-4h6v-1h-6m0-73h6v-2h-6m0-83h6v-2h-6m0-23h6v-2h-6m0-76h6v-2h-6m0-6h6v-1h-6m0-6h6v-2h-6m0-5h6v-2h-6m0-25h6v-2h-6m0-34h6v-2h-6m0-7h6v-2h-6m0-18h6v-2h-6m0-6h6v-1h-6m0-11h6v-2h-6m0-20h6v-2h-6m0-16h6v-2h-6m0-14h6v-2h-6m0-13h6v-2h-6m0-3h6v-2h-6m0-15h6v-1h-6m0-20h6v-2h-6m0-7h6v-2h-6m0-2h6v-2h-6m6 712h5v-2h-5m0-9h5v-2h-5m0-11h5v-3h-5m0-20h5v-2h-5m0-2h5v-2h-5m0-43h5v-2h-5m0-29h5v-2h-5m0-21h5v-6h-5m0-5h5v-2h-5m0-102h5v-1h-5m0-24h5v-2h-5m0-67h5v-2h-5m0-16h5v-2h-5m0-52h5v-2h-5m0-5h5v-2h-5m0-4h5v-3h-5m0-53h5v-2h-5m0-12h5v-2h-5m0-18h5v-2h-5m0-11h5v-2h-5m0-38h5v-4h-5m0-12h5v-2h-5m0-27h5v-4h-5m0-25h5v-2h-5m0-13h5v-1h-5m0-20h5v-2h-5m0-15h5v-1h-5m5 700h5v-1h-5m0-19h5v-1h-5m0-22h5v-4h-5m0-11h5v-1h-5m0-8h5v-1h-5m0-11h5v-2h-5m0-16h5v-2h-5m0-27h5v-2h-5m0-2h5v-2h-5m0-16h5v-2h-5m0-9h5v-2h-5m0-2h5v-1h-5m0-11h5v-4h-5m0-16h5v-2h-5m0-7h5v-2h-5m0-9h5v-2h-5m0-13h5v-1h-5m0-22h5v-2h-5m0-7h5v-2h-5m0-11h5v-2h-5m0-27h5v-2h-5m0-61h5v-2h-5m0-13h5v-2h-5m0-1h5v-2h-5m0-15h5v-1h-5m0-10h5v-1h-5m0-2h5v-4h-5m0-5h5v-4h-5m0-18h5v-4h-5m0-63h5v-2h-5m0-3h5v-2h-5m0-4h5v-2h-5m0-3h5v-2h-5m0-7h5v-4h-5m0-5h5v-2h-5m0-33h5v-2h-5m0-3h5v-2h-5m0-4h5v-1h-5m0-10h5v-1h-5m0-62h5v-4h-5m0-25h5v-2h-5m5 681h6v-2h-6m0-61h6v-2h-6m0-47h6v-2h-6m0-22h6v-1h-6m0-6h6v-2h-6m0-3h6v-2h-6m0-24h6v-1h-6m0-17h6v-2h-6m0-5h6v-2h-6m0-18h6v-2h-6m0-34h6v-4h-6m0-87h6v-1h-6m0-57h6v-1h-6m0-9h6v-2h-6m0-18h6v-2h-6m0-11h6v-2h-6m0-76h6v-2h-6m0-9h6v-2h-6m0-1h6v-2h-6m0-56h6v-2h-6m0-22h6v-2h-6m0-2h6v-1h-6m0-38h6v-2h-6m0-4h6v-2h-6m0-5h6v-5h-6m6 708h5v-2h-5m0-44h5v-1h-5m0-93h5v-2h-5m0-29h5v-1h-5m0-6h5v-2h-5m0-7h5v-2h-5m0-108h5v-2h-5m0-2h5v-2h-5m0-54h5v-2h-5m0-60h5v-2h-5m0-16h5v-2h-5m0-30h5v-2h-5m0-9h5v-2h-5m0-29h5v-2h-5m0-31h5v-1h-5m0-39h5v-3h-5m0-13h5v-2h-5m0-65h5v-2h-5m0-20h5v-1h-5m0-17h5v-1h-5m5 709h6v-1h-6m0-22h6v-2h-6m0-14h6v-2h-6m0-15h6v-2h-6m0-45h6v-2h-6m0-14h6v-2h-6m0-87h6v-2h-6m0-5h6v-4h-6m0-2h6v-3h-6m0-6h6v-1h-6m0-55h6v-2h-6m0-23h6v-2h-6m0-13h6v-1h-6m0-18h6v-2h-6m0-13h6v-2h-6m0-3h6v-2h-6m0-2h6v-2h-6m0-5h6v-2h-6m0-2h6v-2h-6m0-2h6v-1h-6m0-2h6v-2h-6m0-4h6v-1h-6m0-8h6v-1h-6m0-17h6v-2h-6m0-23h6v-2h-6m0-13h6v-1h-6m0-2h6v-2h-6m0-34h6v-2h-6m0-22h6v-2h-6m0-9h6v-2h-6m0-32h6v-2h-6m0-56h6v-2h-6m0-7h6v-2h-6m0-4h6v-1h-6m0-4h6v-2h-6m0-4h6v-1h-6m0-2h6v-2h-6m0-24h6v-1h-6m0-2h6v-2h-6m0-7h6v-4h-6m0-11h6v-1h-6m6 686h5v-4h-5m0-49h5v-1h-5m0-17h5v-2h-5m0-1h5v-2h-5m0-6h5v-1h-5m0-2h5v-2h-5m0-9h5v-2h-5m0-4h5v-1h-5m0-9h5v-2h-5m0-49h5v-2h-5m0-9h5v-2h-5m0-41h5v-4h-5m0-4h5v-1h-5m0-2h5v-2h-5m0-13h5v-2h-5m0-1h5v-2h-5m0-20h5v-2h-5m0-11h5v-2h-5m0-11h5v-1h-5m0-13h5v-4h-5m0-23h5v-2h-5m0-13h5v-1h-5m0-29h5v-2h-5m0-17h5v-1h-5m0-17h5v-1h-5m0-29h5v-2h-5m0-27h5v-2h-5m0-18h5v-2h-5m0-22h5v-2h-5m0-18h5v-3h-5m0-15h5v-2h-5m0-14h5v-2h-5m0-47h5v-2h-5m0-23h5v-2h-5m0-2h5v-2h-5m0-4h5v-1h-5m0-13h5v-2h-5m0-2h5v-1h-5m5 691h5v-1h-5m0-19h5v-1h-5m0-46h5v-1h-5m0-69h5v-2h-5m0-27h5v-2h-5m0-27h5v-2h-5m0-13h5v-2h-5m0-27h5v-3h-5m0-4h5v-2h-5m0-23h5v-2h-5m0-118h5v-2h-5m0-77h5v-2h-5m0-4h5v-2h-5m0-2h5v-1h-5m0-18h5v-2h-5m0-20h5v-2h-5m0-9h5v-2h-5m0-51h5v-1h-5m0-13h5v-4h-5m0-5h5v-2h-5m0-5h5v-2h-5m0-6h5v-1h-5m0-9h5v-2h-5m0-18h5v-2h-5m0-6h5v-1h-5m0-8h5v-2h-5m5 674h6v-3h-6m0-19h6v-3h-6m0-103h6v-2h-6m0-11h6v-2h-6m0-7h6v-2h-6m0-11h6v-3h-6m0-8h6v-5h-6m0-20h6v-2h-6m0-9h6v-2h-6m0-23h6v-2h-6m0-47h6v-2h-6m0-29h6v-2h-6m0-11h6v-1h-6m0-107h6v-2h-6m0-7h6v-2h-6m0-11h6v-2h-6m0-31h6v-1h-6m0-6h6v-2h-6m0-29h6v-1h-6m0-9h6v-2h-6m0-37h6v-1h-6m0-2h6v-2h-6m0-14h6v-4h-6m0-4h6v-2h-6m0-18h6v-1h-6m0-11h6v-4h-6m0-11h6v-2h-6m0-3h6v-4h-6m0-23h6v-2h-6m0-9h6v-4h-6m6 696h5v-2h-5m0-47h5v-2h-5m0-22h5v-2h-5m0-12h5v-2h-5m0-6h5v-1h-5m0-37h5v-1h-5m0-17h5v-2h-5m0-14h5v-2h-5m0-11h5v-2h-5m0-34h5v-2h-5m0-7h5v-2h-5m0-5h5v-2h-5m0-87h5v-2h-5m0-16h5v-2h-5m0-38h5v-2h-5m0-20h5v-1h-5m0-15h5v-2h-5m0-11h5v-1h-5m0-2h5v-2h-5m0-7h5v-4h-5m0-38h5v-2h-5m0-12h5v-2h-5m0-36h5v-4h-5m0-6h5v-1h-5m0-9h5v-2h-5m0-13h5v-2h-5m0-21h5v-2h-5m0-6h5v-2h-5m0-41h5v-2h-5m0-11h5v-2h-5m0-5h5v-2h-5m5 670h6v-2h-6m0-3h6v-2h-6m0-18h6v-2h-6m0-40h6v-2h-6m0-3h6v-2h-6m0-100h6v-1h-6m0-13h6v-2h-6m0-36h6v-2h-6m0-2h6v-3h-6m0-4h6v-2h-6m0-16h6v-2h-6m0-31h6v-2h-6m0-7h6v-2h-6m0-16h6v-2h-6m0-3h6v-2h-6m0-6h6v-1h-6m0-64h6v-2h-6m0-18h6v-3h-6m0-8h6v-1h-6m0-2h6v-2h-6m0-16h6v-2h-6m0-7h6v-2h-6m0-13h6v-2h-6m0-32h6v-2h-6m0-16h6v-2h-6m0-18h6v-2h-6m0-2h6v-2h-6m0-5h6v-2h-6m0-27h6v-2h-6m0-40h6v-2h-6m0-7h6v-2h-6m0-14h6v-6h-6m0-1h6v-2h-6m0-42h6v-2h-6m6 701h5v-2h-5m0-7h5v-3h-5m0-20h5v-2h-5m0-9h5v-2h-5m0-18h5v-2h-5m0-16h5v-2h-5m0-11h5v-2h-5m0-7h5v-2h-5m0-11h5v-2h-5m0-39h5v-2h-5m0-31h5v-2h-5m0-12h5v-2h-5m0-36h5v-2h-5m0-13h5v-4h-5m0-50h5v-2h-5m0-96h5v-2h-5m0-31h5v-2h-5m0-14h5v-2h-5m0-25h5v-2h-5m0-24h5v-1h-5m0-53h5v-2h-5m0-34h5v-2h-5m0-27h5v-2h-5m0-14h5v-4h-5m0-25h5v-2h-5m0-6h5v-1h-5m0-8h5v-1h-5m0-8h5v-1h-5m5 671h5v-1h-5m0-17h5v-2h-5m0-41h5v-2h-5m0-58h5v-2h-5m0-12h5v-2h-5m0-2h5v-2h-5m0-2h5v-1h-5m0-11h5v-2h-5m0-16h5v-2h-5m0-8h5v-1h-5m0-2h5v-2h-5m0-20h5v-2h-5m0-38h5v-2h-5m0-34h5v-2h-5m0-21h5v-2h-5m0-60h5v-2h-5m0-32h5v-2h-5m0-8h5v-1h-5m0-4h5v-2h-5m0-14h5v-4h-5m0-18h5v-2h-5m0-7h5v-2h-5m0-23h5v-2h-5m0-44h5v-1h-5m0-4h5v-2h-5m0-9h5v-2h-5m0-9h5v-2h-5m0-39h5v-2h-5m0-8h5v-1h-5m0-11h5v-2h-5m0-5h5v-2h-5m5 632h6v-2h-6m0-15h6v-1h-6m0-4h6v-2h-6m0-20h6v-2h-6m0-16h6v-2h-6m0-5h6v-2h-6m0-81h6v-2h-6m0-7h6v-4h-6m0-7h6v-2h-6m0-60h6v-3h-6m0-6h6v-2h-6m0-11h6v-1h-6m0-57h6v-3h-6m0-27h6v-2h-6m0-6h6v-1h-6m0-9h6v-4h-6m0-22h6v-2h-6m0-3h6v-2h-6m0-4h6v-1h-6m0-11h6v-2h-6m0-31h6v-2h-6m0-21h6v-2h-6m0-56h6v-2h-6m0-4h6v-2h-6m0-1h6v-2h-6m0-18h6v-2h-6m0-29h6v-2h-6m0-20h6v-2h-6m0-45h6v-2h-6m0-5h6v-2h-6m6 679h5v-2h-5m0-54h5v-2h-5m0-43h5v-2h-5m0-11h5v-2h-5m0-5h5v-2h-5m0-9h5v-2h-5m0-5h5v-2h-5m0-16h5v-2h-5m0-27h5v-2h-5m0-35h5v-1h-5m0-15h5v-2h-5m0-7h5v-2h-5m0-70h5v-2h-5m0-46h5v-1h-5m0-13h5v-2h-5m0-7h5v-2h-5m0-9h5v-2h-5m0-16h5v-2h-5m0-42h5v-1h-5m0-6h5v-2h-5m0-12h5v-4h-5m0-11h5v-2h-5m0-1h5v-2h-5m0-58h5v-2h-5m0-42h5v-3h-5m0-2h5v-4h-5m0-32h5v-2h-5m0-15h5v-1h-5m0-2h5v-2h-5m5 688h6v-2h-6m0-56h6v-2h-6m0-10h6v-2h-6m0-11h6v-2h-6m0-16h6v-2h-6m0-7h6v-2h-6m0-13h6v-2h-6m0-1h6v-2h-6m0-2h6v-2h-6m0-52h6v-2h-6m0-4h6v-3h-6m0-13h6v-2h-6m0-11h6v-2h-6m0-9h6v-1h-6m0-28h6v-1h-6m0-4h6v-2h-6m0-31h6v-1h-6m0-11h6v-2h-6m0-24h6v-1h-6m0-4h6v-4h-6m0-2h6v-1h-6m0-2h6v-2h-6m0-13h6v-1h-6m0-10h6v-1h-6m0-4h6v-2h-6m0-11h6v-1h-6m0-19h6v-3h-6m0-24h6v-3h-6m0-31h6v-2h-6m0-5h6v-2h-6m0-38h6v-2h-6m0-5h6v-2h-6m0-11h6v-2h-6m0-34h6v-2h-6m0-7h6v-2h-6m0-4h6v-3h-6m0-8h6v-2h-6m0-1h6v-2h-6m0-6h6v-1h-6m0-15h6v-2h-6m0-3h6v-2h-6m0-4h6v-2h-6m0-7h6v-2h-6m0-5h6v-2h-6m0-23h6v-2h-6m0-9h6v-2h-6m6 543h5v-2h-5m0-39h5v-4h-5m0-56h5v-2h-5m0-27h5v-2h-5m0-13h5v-1h-5m0-13h5v-2h-5m0-51h5v-3h-5m0-29h5v-2h-5m0-20h5v-2h-5m0-54h5v-2h-5m0-5h5v-2h-5m0-74h5v-2h-5m0-2h5v-2h-5m0-7h5v-2h-5m0-2h5v-2h-5m0-29h5v-1h-5m0-29h5v-2h-5m0-62h5v-1h-5m5 700h5v-1h-5m0-95h5v-1h-5m0-11h5v-2h-5m0-51h5v-2h-5m0-5h5v-2h-5m0-11h5v-2h-5m0-16h5v-2h-5m0-3h5v-2h-5m0-134h5v-2h-5m0-34h5v-2h-5m0-36h5v-2h-5m0-13h5v-2h-5m0-12h5v-2h-5m0-11h5v-2h-5m0-32h5v-2h-5m0-22h5v-2h-5m0-27h5v-4h-5m0-10h5v-2h-5m0-13h5v-2h-5m0-3h5v-2h-5m0-11h5v-2h-5m0-29h5v-2h-5m0-25h5v-2h-5m5 658h6v-2h-6m0-38h6v-2h-6m0-20h6v-2h-6m0-74h6v-2h-6m0-2h6v-1h-6m0-20h6v-2h-6m0-11h6v-2h-6m0-29h6v-2h-6m0-7h6v-2h-6m0-79h6v-2h-6m0-31h6v-2h-6m0-27h6v-4h-6m0-5h6v-2h-6m0-3h6v-2h-6m0-36h6v-4h-6m0-33h6v-2h-6m0-23h6v-2h-6m0-36h6v-2h-6m0-20h6v-3h-6m0-2h6v-2h-6m0-2h6v-2h-6m0-52h6v-2h-6m0-29h6v-2h-6m0-7h6v-2h-6m0-27h6v-2h-6m0-16h6v-2h-6m6 679h5v-2h-5m0-32h5v-2h-5m0-40h5v-2h-5m0-23h5v-2h-5m0-51h5v-2h-5m0-34h5v-2h-5m0-3h5v-2h-5m0-64h5v-1h-5m0-82h5v-2h-5m0-5h5v-2h-5m0-22h5v-2h-5m0-28h5v-2h-5m0-2h5v-2h-5m0-29h5v-2h-5m0-25h5v-2h-5m0-13h5v-1h-5m0-33h5v-2h-5m0-12h5v-2h-5m0-36h5v-2h-5m0-24h5v-2h-5m0-67h5v-1h-5m0-10h5v-1h-5m0-15h5v-2h-5m5 670h6v-1h-6m0-4h6v-2h-6m0-16h6v-2h-6m0-7h6v-2h-6m0-14h6v-2h-6m0-6h6v-2h-6m0-23h6v-2h-6m0-9h6v-2h-6m0-5h6v-2h-6m0-13h6v-1h-6m0-86h6v-1h-6m0-18h6v-2h-6m0-51h6v-2h-6m0-7h6v-2h-6m0-13h6v-1h-6m0-42h6v-2h-6m0-16h6v-2h-6m0-52h6v-2h-6m0-31h6v-2h-6m0-56h6v-2h-6m0-3h6v-4h-6m0-15h6v-1h-6m0-9h6v-2h-6m0-2h6v-2h-6m0-3h6v-2h-6m0-24h6v-2h-6m0-30h6v-2h-6m0-15h6v-2h-6m0-12h6v-2h-6m0-22h6v-2h-6m0-7h6v-2h-6m0-3h6v-2h-6m6 695h5v-1h-5m0-44h5v-2h-5m0-56h5v-2h-5m0-18h5v-2h-5m0-21h5v-2h-5m0-94h5v-2h-5m0-20h5v-2h-5m0-9h5v-2h-5m0-14h5v-2h-5m0-15h5v-1h-5m0-11h5v-2h-5m0-2h5v-2h-5m0-3h5v-2h-5m0-2h5v-3h-5m0-11h5v-2h-5m0-7h5v-2h-5m0-4h5v-2h-5m0-23h5v-2h-5m0-11h5v-2h-5m0-9h5v-2h-5m0-7h5v-2h-5m0-14h5v-2h-5m0-2h5v-2h-5m0-16h5v-3h-5m0-107h5v-2h-5m0-25h5v-2h-5m0-4h5v-2h-5m0-9h5v-2h-5m0-23h5v-2h-5m0-2h5v-2h-5m0-9h5v-1h-5m0-9h5v-2h-5m0-27h5v-2h-5m0-2h5v-2h-5m5 616h5v-2h-5m0-4h5v-1h-5m0-11h5v-2h-5m0-9h5v-2h-5m0-51h5v-1h-5m0-2h5v-2h-5m0-18h5v-2h-5m0-33h5v-1h-5m0-17h5v-1h-5m0-77h5v-1h-5m0-8h5v-1h-5m0-20h5v-4h-5m0-62h5v-1h-5m0-6h5v-2h-5m0-9h5v-1h-5m0-11h5v-2h-5m0-6h5v-1h-5m0-28h5v-1h-5m0-6h5v-2h-5m0-52h5v-2h-5m0-16h5v-2h-5m0-11h5v-2h-5m0-36h5v-2h-5m0-9h5v-2h-5m0-38h5v-1h-5m0-2h5v-2h-5m0-4h5v-2h-5m0-19h5v-2h-5m5 683h6v-2h-6m0-4h6v-2h-6m0-23h6v-2h-6m0-9h6v-2h-6m0-2h6v-3h-6m0-51h6v-2h-6m0-31h6v-3h-6m0-6h6v-3h-6m0-55h6v-3h-6m0-13h6v-2h-6m0-18h6v-2h-6m0-12h6v-2h-6m0-18h6v-2h-6m0-18h6v-2h-6m0-74h6v-4h-6m0-42h6v-1h-6m0-4h6v-2h-6m0-5h6v-2h-6m0-11h6v-2h-6m0-7h6v-5h-6m0-8h6v-1h-6m0-2h6v-2h-6m0-2h6v-2h-6m0-11h6v-1h-6m0-4h6v-2h-6m0-9h6v-2h-6m0-30h6v-2h-6m0-20h6v-2h-6m0-11h6v-2h-6m0-58h6v-1h-6m0-42h6v-2h-6m6 683h5v-2h-5m0-22h5v-2h-5m0-1h5v-2h-5m0-60h5v-2h-5m0-29h5v-2h-5m0-25h5v-2h-5m0-11h5v-1h-5m0-20h5v-2h-5m0-16h5v-2h-5m0-27h5v-2h-5m0-62h5v-2h-5m0-1h5v-2h-5m0-2h5v-2h-5m0-63h5v-2h-5m0-33h5v-1h-5m0-33h5v-2h-5m0-13h5v-1h-5m0-4h5v-2h-5m0-2h5v-1h-5m0-9h5v-2h-5m0-27h5v-4h-5m0-13h5v-2h-5m0-1h5v-2h-5m0-16h5v-2h-5m0-29h5v-2h-5m0-7h5v-2h-5m0-16h5v-2h-5m0-49h5v-2h-5m0-4h5v-3h-5m0-7h5v-2h-5m5 661h6v-2h-6m0-2h6v-2h-6m0-25h6v-2h-6m0-3h6v-2h-6m0-29h6v-2h-6m0-18h6v-2h-6m0-18h6v-2h-6m0-29h6v-2h-6m0-1h6v-2h-6m0-75h6v-1h-6m0-22h6v-2h-6m0-51h6v-1h-6m0-37h6v-1h-6m0-4h6v-2h-6m0-20h6v-3h-6m0-19h6v-1h-6m0-11h6v-2h-6m0-2h6v-2h-6m0-1h6v-2h-6m0-20h6v-4h-6m0-61h6v-2h-6m0-9h6v-4h-6m0-27h6v-4h-6m0-21h6v-2h-6m0-24h6v-2h-6m0-1h6v-2h-6m0-20h6v-2h-6m0-13h6v-1h-6m0-2h6v-2h-6m0-13h6v-1h-6m0-39h6v-1h-6m0-13h6v-2h-6m0-5h6v-2h-6m6 650h5v-4h-5m0-7h5v-2h-5m0-29h5v-1h-5m0-2h5v-2h-5m0-34h5v-2h-5m0-6h5v-1h-5m0-22h5v-2h-5m0-24h5v-1h-5m0-15h5v-2h-5m0-1h5v-2h-5m0-2h5v-4h-5m0-7h5v-4h-5m0-3h5v-2h-5m0-11h5v-2h-5m0-5h5v-2h-5m0-9h5v-2h-5m0-67h5v-2h-5m0-3h5v-2h-5m0-15h5v-1h-5m0-26h5v-2h-5m0-39h5v-2h-5m0-2h5v-2h-5m0-27h5v-4h-5m0-23h5v-4h-5m0-2h5v-1h-5m0-6h5v-2h-5m0-1h5v-2h-5m0-7h5v-2h-5m0-4h5v-5h-5m0-53h5v-2h-5m0-16h5v-2h-5m0-72h5v-2h-5m0-13h5v-2h-5m0-5h5v-2h-5m0-7h5v-2h-5m5 696h5v-4h-5m0-25h5v-2h-5m0-20h5v-4h-5m0-65h5v-2h-5m0-21h5v-2h-5m0-26h5v-1h-5m0-51h5v-2h-5m0-9h5v-4h-5m0-134h5v-1h-5m0-48h5v-3h-5m0-2h5v-2h-5m0-14h5v-2h-5m0-6h5v-5h-5m0-43h5v-2h-5m0-15h5v-3h-5m0-26h5v-1h-5m0-19h5v-1h-5m0-4h5v-2h-5m0-14h5v-2h-5m0-6h5v-1h-5m0-6h5v-2h-5m0-20h5v-1h-5m0-2h5v-2h-5m0-7h5v-2h-5m0-9h5v-2h-5m0-9h5v-2h-5m0-2h5v-1h-5m0-11h5v-2h-5m0-29h5v-2h-5m5 658h6v-2h-6m0-27h6v-2h-6m0-20h6v-2h-6m0-27h6v-2h-6m0-71h6v-1h-6m0-9h6v-2h-6m0-27h6v-2h-6m0-13h6v-2h-6m0-11h6v-1h-6m0-13h6v-2h-6m0-13h6v-1h-6m0-42h6v-2h-6m0-45h6v-2h-6m0-51h6v-1h-6m0-38h6v-2h-6m0-15h6v-2h-6m0-7h6v-2h-6m0-23h6v-2h-6m0-141h6v-2h-6m0-11h6v-2h-6m0-9h6v-3h-6m0-4h6v-4h-6m6 703h5v-4h-5m0-34h5v-2h-5m0-47h5v-2h-5m0-67h5v-2h-5m0-29h5v-1h-5m0-2h5v-2h-5m0-47h5v-2h-5m0-14h5v-2h-5m0-24h5v-2h-5m0-16h5v-2h-5m0-11h5v-1h-5m0-2h5v-2h-5m0-9h5v-4h-5m0-3h5v-2h-5m0-9h5v-2h-5m0-9h5v-2h-5m0-12h5v-2h-5m0-2h5v-2h-5m0-18h5v-4h-5m0-5h5v-2h-5m0-2h5v-1h-5m0-29h5v-2h-5m0-11h5v-2h-5m0-23h5v-2h-5m0-8h5v-1h-5m0-28h5v-1h-5m0-2h5v-2h-5m0-38h5v-2h-5m0-56h5v-2h-5m0-14h5v-2h-5m0-9h5v-2h-5m0-25h5v-2h-5m0-9h5v-2h-5m5 683h6v-2h-6m0-7h6v-2h-6m0-7h6v-2h-6m0-9h6v-2h-6m0-100h6v-1h-6m0-26h6v-2h-6m0-39h6v-2h-6m0-6h6v-1h-6m0-40h6v-2h-6m0-6h6v-1h-6m0-18h6v-2h-6m0-11h6v-4h-6m0-63h6v-2h-6m0-18h6v-2h-6m0-5h6v-4h-6m0-2h6v-2h-6m0-10h6v-2h-6m0-44h6v-2h-6m0-19h6v-2h-6m0-20h6v-2h-6m0-2h6v-2h-6m0-5h6v-2h-6m0-29h6v-2h-6m0-108h6v-2h-6m0-7h6v-2h-6m0-36h6v-2h-6m0-15h6v-1h-6m6 700h5v-1h-5m0-51h5v-2h-5m0-52h5v-2h-5m0-29h5v-2h-5m0-15h5v-3h-5m0-73h5v-1h-5m0-53h5v-2h-5m0-25h5v-2h-5m0-42h5v-1h-5m0-15h5v-2h-5m0-3h5v-2h-5m0-36h5v-2h-5m0-16h5v-2h-5m0-4h5v-2h-5m0-59h5v-2h-5m0-62h5v-3h-5m0-4h5v-2h-5m0-18h5v-2h-5m0-3h5v-2h-5m0-18h5v-2h-5m0-13h5v-3h-5m0-26h5v-2h-5m0-30h5v-2h-5m0-4h5v-2h-5m5 701h5v-2h-5m0-14h5v-2h-5m0-4h5v-1h-5m0-42h5v-2h-5m0-92h5v-2h-5m0-13h5v-1h-5m0-205h5v-2h-5m0-7h5v-2h-5m0-16h5v-2h-5m0-20h5v-2h-5m0-32h5v-2h-5m0-7h5v-4h-5m0-33h5v-2h-5m0-186h5v-2h-5m5 712h6v-2h-6m0-5h6v-2h-6m0-2h6v-2h-6m0-22h6v-1h-6m0-20h6v-4h-6m0-4h6v-1h-6m0-11h6v-4h-6m0-11h6v-2h-6m0-21h6v-2h-6m0-9h6v-2h-6m0-20h6v-2h-6m0-12h6v-2h-6m0-13h6v-2h-6m0-18h6v-2h-6m0-19h6v-2h-6m0-18h6v-2h-6m0-20h6v-2h-6m0-22h6v-1h-6m0-8h6v-3h-6m0-18h6v-2h-6m0-40h6v-2h-6m0-7h6v-4h-6m0-16h6v-2h-6m0-5h6v-2h-6m0-4h6v-2h-6m0-25h6v-2h-6m0-20h6v-1h-6m0-51h6v-2h-6m0-36h6v-2h-6m0-20h6v-2h-6m0-2h6v-3h-6m0-4h6v-2h-6m0-14h6v-2h-6m0-98h6v-2h-6m0-14h6v-2h-6m6 692h5v-2h-5m0-11h5v-1h-5m0-20h5v-2h-5m0-55h5v-1h-5m0-51h5v-2h-5m0-52h5v-2h-5m0-49h5v-2h-5m0-25h5v-2h-5m0-18h5v-2h-5m0-67h5v-2h-5m0-13h5v-1h-5m0-2h5v-2h-5m0-5h5v-2h-5m0-4h5v-2h-5m0-1h5v-2h-5m0-11h5v-6h-5m0-1h5v-2h-5m0-6h5v-1h-5m0-31h5v-2h-5m0-2h5v-2h-5m0-7h5v-2h-5m0-30h5v-2h-5m0-2h5v-2h-5m0-4h5v-3h-5m0-53h5v-1h-5m0-82h5v-2h-5m0-18h5v-2h-5m0-5h5v-2h-5m0-11h5v-2h-5m5 587h6v-2h-6m0-1h6v-2h-6m0-22h6v-2h-6m0-3h6v-2h-6m0-18h6v-2h-6m0-53h6v-2h-6m0-32h6v-2h-6m0-16h6v-2h-6m0-51h6v-2h-6m0-7h6v-2h-6m0-16h6v-2h-6m0-12h6v-2h-6m0-9h6v-4h-6m0-32h6v-2h-6m0-24h6v-2h-6m0-3h6v-2h-6m0-74h6v-2h-6m0-47h6v-2h-6m0-27h6v-2h-6m0-22h6v-2h-6m0-10h6v-4h-6m0-33h6v-1h-6m0-15h6v-2h-6m0-2h6v-1h-6m6 679h5v-2h-5m0-4h5v-3h-5m0-11h5v-2h-5m0-87h5v-2h-5m0-5h5v-2h-5m0-18h5v-2h-5m0-20h5v-2h-5m0-27h5v-2h-5m0-20h5v-1h-5m0-27h5v-2h-5m0-27h5v-2h-5m0-42h5v-2h-5m0-41h5v-2h-5m0-20h5v-2h-5m0-5h5v-2h-5m0-11h5v-4h-5m0-43h5v-2h-5m0-40h5v-3h-5m0-11h5v-4h-5m0-16h5v-2h-5m0-7h5v-2h-5m0-13h5v-2h-5m0-16h5v-2h-5m0-7h5v-2h-5m0-14h5v-2h-5m0-11h5v-2h-5m0-9h5v-2h-5m0-70h5v-2h-5m0-2h5v-2h-5m5 656h5v-2h-5m0-20h5v-2h-5m0-16h5v-2h-5m0-34h5v-2h-5m0-157h5v-4h-5m0-4h5v-2h-5m0-10h5v-2h-5m0-22h5v-2h-5m0-3h5v-2h-5m0-2h5v-2h-5m0-22h5v-1h-5m0-9h5v-2h-5m0-35h5v-1h-5m0-76h5v-2h-5m0-9h5v-2h-5m0-7h5v-2h-5m0-9h5v-2h-5m0-7h5v-2h-5m0-44h5v-1h-5m0-37h5v-1h-5m0-48h5v-1h-5m0-15h5v-2h-5m5 632h6v-1h-6m0-42h6v-2h-6m0-4h6v-1h-6m0-2h6v-4h-6m0-38h6v-2h-6m0-1h6v-2h-6m0-53h6v-2h-6m0-1h6v-2h-6m0-16h6v-2h-6m0-161h6v-2h-6m0-31h6v-2h-6m0-14h6v-2h-6m0-6h6v-1h-6m0-22h6v-2h-6m0-2h6v-2h-6m0-5h6v-2h-6m0-3h6v-2h-6m0-2h6v-2h-6m0-27h6v-2h-6m0-23h6v-2h-6m0-33h6v-2h-6m0-25h6v-2h-6m0-5h6v-2h-6m0-2h6v-2h-6m0-16h6v-2h-6m0-3h6v-2h-6m0-24h6v-3h-6m0-33h6v-2h-6m0-2h6v-1h-6m0-15h6v-2h-6m6 694h5v-2h-5m0-31h5v-1h-5m0-24h5v-2h-5m0-14h5v-2h-5m0-18h5v-2h-5m0-18h5v-2h-5m0-25h5v-2h-5m0-7h5v-2h-5m0-2h5v-2h-5m0-45h5v-2h-5m0-31h5v-1h-5m0-11h5v-2h-5m0-9h5v-2h-5m0-4h5v-1h-5m0-20h5v-2h-5m0-17h5v-1h-5m0-4h5v-2h-5m0-18h5v-2h-5m0-7h5v-2h-5m0-3h5v-2h-5m0-24h5v-2h-5m0-99h5v-2h-5m0-7h5v-2h-5m0-56h5v-2h-5m0-29h5v-2h-5m0-2h5v-3h-5m0-7h5v-2h-5m0-42h5v-2h-5m0-29h5v-1h-5m0-29h5v-4h-5m5 710h6v-2h-6m0-11h6v-2h-6m0-39h6v-4h-6m0-22h6v-2h-6m0-108h6v-2h-6m0-49h6v-2h-6m0-69h6v-1h-6m0-31h6v-2h-6m0-22h6v-2h-6m0-67h6v-1h-6m0-40h6v-2h-6m0-31h6v-2h-6m0-7h6v-2h-6m0-92h6v-2h-6m0-18h6v-2h-6m0-14h6v-2h-6m0-7h6v-2h-6m6 623h5v-2h-5m0-27h5v-2h-5m0-22h5v-2h-5m0-39h5v-2h-5m0-4h5v-2h-5m0-74h5v-2h-5m0-38h5v-1h-5m0-11h5v-2h-5m0-4h5v-2h-5m0-18h5v-2h-5m0-96h5v-1h-5m0-33h5v-2h-5m0-2h5v-1h-5m0-37h5v-1h-5m0-4h5v-2h-5m0-2h5v-1h-5m0-9h5v-2h-5m0-6h5v-2h-5m0-19h5v-2h-5m0-31h5v-2h-5m0-29h5v-2h-5m0-43h5v-2h-5m0-63h5v-2h-5m0-16h5v-2h-5m5 695h5v-2h-5m0-43h5v-2h-5m0-9h5v-2h-5m0-31h5v-1h-5m0-17h5v-1h-5m0-29h5v-2h-5m0-13h5v-2h-5m0-25h5v-2h-5m0-13h5v-1h-5m0-6h5v-2h-5m0-1h5v-2h-5m0-13h5v-2h-5m0-3h5v-4h-5m0-16h5v-2h-5m0-22h5v-3h-5m0-8h5v-2h-5m0-12h5v-2h-5m0-45h5v-2h-5m0-4h5v-2h-5m0-14h5v-2h-5m0-11h5v-2h-5m0-23h5v-2h-5m0-38h5v-2h-5m0-11h5v-1h-5m0-46h5v-1h-5m0-80h5v-4h-5m0-5h5v-2h-5m0-5h5v-2h-5m0-15h5v-2h-5m0-36h5v-2h-5m0-1h5v-2h-5m0-31h5v-2h-5m0-7h5v-2h-5m5 663h6v-2h-6m0-72h6v-2h-6m0-94h6v-2h-6m0-29h6v-4h-6m0-12h6v-2h-6m0-27h6v-2h-6m0-6h6v-1h-6m0-4h6v-2h-6m0-16h6v-2h-6m0-2h6v-2h-6m0-5h6v-2h-6m0-5h6v-4h-6m0-51h6v-1h-6m0-24h6v-2h-6m0-9h6v-2h-6m0-20h6v-1h-6m0-27h6v-2h-6m0-29h6v-2h-6m0-6h6v-3h-6m0-7h6v-2h-6m0-6h6v-1h-6m0-44h6v-2h-6m0-21h6v-2h-6m0-2h6v-2h-6m0-4h6v-1h-6m0-6h6v-2h-6m0-10h6v-6h-6m0-2h6v-1h-6m0-15h6v-2h-6m0-9h6v-2h-6m0-3h6v-2h-6m11 627h6v-2h-6m0-11h6v-2h-6m0-2h6v-2h-6m0-1h6v-2h-6m0-27h6v-2h-6m0-24h6v-2h-6m0-5h6v-4h-6m0-1h6v-4h-6m0-5h6v-2h-6m0-38h6v-4h-6m0-25h6v-2h-6m0-67h6v-2h-6m0-27h6v-2h-6m0-11h6v-2h-6m0-7h6v-2h-6m0-1h6v-2h-6m0-15h6v-2h-6m0-34h6v-2h-6m0-2h6v-1h-6m0-26h6v-2h-6m0-1h6v-4h-6m0-18h6v-2h-6m0-2h6v-3h-6m0-11h6v-2h-6m0-5h6v-2h-6m0-55h6v-1h-6m0-4h6v-2h-6m0-16h6v-2h-6m0-11h6v-2h-6m0-29h6v-1h-6m0-42h6v-2h-6m0-16h6v-2h-6m0-7h6v-2h-6m11 637h5v-1h-5m0-2h5v-2h-5m0-134h5v-2h-5m0-16h5v-2h-5m0-18h5v-2h-5m0-23h5v-2h-5m0-9h5v-2h-5m0-27h5v-2h-5m0-2h5v-5h-5m0-29h5v-2h-5m0-13h5v-2h-5m0-38h5v-1h-5m0-29h5v-2h-5m0-36h5v-2h-5m0-2h5v-2h-5m0-74h5v-2h-5m0-7h5v-4h-5m0-16h5v-2h-5m0-23h5v-2h-5m0-11h5v-2h-5m0-33h5v-1h-5m0-11h5v-2h-5m0-7h5v-2h-5m0-20h5v-2h-5m0-18h5v-2h-5m0-7h5v-2h-5m0-18h5v-2h-5m11 703h5v-2h-5m0-45h5v-2h-5m0-14h5v-2h-5m0-71h5v-2h-5m0-7h5v-2h-5m0-2h5v-1h-5m0-37h5v-1h-5m0-4h5v-2h-5m0-11h5v-1h-5m0-35h5v-2h-5m0-36h5v-2h-5m0-11h5v-1h-5m0-2h5v-2h-5m0-24h5v-1h-5m0-15h5v-2h-5m0-14h5v-2h-5m0-2h5v-3h-5m0-31h5v-2h-5m0-14h5v-2h-5m0-9h5v-2h-5m0-54h5v-4h-5m0-9h5v-4h-5m0-2h5v-1h-5m0-6h5v-3h-5m0-2h5v-2h-5m0-2h5v-2h-5m0-7h5v-2h-5m0-3h5v-4h-5m0-4h5v-1h-5m0-13h5v-2h-5m0-4h5v-1h-5m0-17h5v-1h-5m0-29h5v-2h-5m11 597h5v-1h-5m0-11h5v-4h-5m0-49h5v-2h-5m0-27h5v-2h-5m0-25h5v-2h-5m0-7h5v-2h-5m0-54h5v-2h-5m0-4h5v-1h-5m0-6h5v-2h-5m0-5h5v-4h-5m0-14h5v-2h-5m0-9h5v-2h-5m0-74h5v-2h-5m0-52h5v-2h-5m0-62h5v-2h-5m0-1h5v-2h-5m0-36h5v-2h-5m0-42h5v-2h-5m0-36h5v-2h-5m0-5h5v-2h-5m0-5h5v-2h-5m0-17h5v-1h-5m0-6h5v-2h-5m0-5h5v-2h-5m0-69h5v-2h-5m0-23h5v-2h-5m0-2h5v-1h-5m10 680h6v-1h-6m0-4h6v-2h-6m0-18h6v-2h-6m0-56h6v-2h-6m0-9h6v-2h-6m0-29h6v-1h-6m0-102h6v-2h-6m0-12h6v-2h-6m0-18h6v-2h-6m0-25h6v-2h-6m0-25h6v-2h-6m0-2h6v-2h-6m0-11h6v-2h-6m0-1h6v-2h-6m0-2h6v-2h-6m0-56h6v-2h-6m0-12h6v-2h-6m0-51h6v-2h-6m0-50h6v-2h-6m0-60h6v-2h-6m0-22h6v-1h-6m0-67h6v-2h-6m0-6h6v-1h-6m11 671h6v-1h-6m0-38h6v-2h-6m0-9h6v-2h-6m0-53h6v-1h-6m0-15h6v-2h-6m0-16h6v-2h-6m0-16h6v-2h-6m0-20h6v-2h-6m0-7h6v-2h-6m0-32h6v-2h-6m0-20h6v-2h-6m0-9h6v-2h-6m0-41h6v-2h-6m0-38h6v-2h-6m0-25h6v-2h-6m0-55h6v-1h-6m0-28h6v-1h-6m0-11h6v-2h-6m0-4h6v-1h-6m0-2h6v-2h-6m0-34h6v-2h-6m0-2h6v-2h-6m0-51h6v-1h-6m0-33h6v-2h-6m0-27h6v-2h-6m11 636h5v-2h-5m0-11h5v-2h-5m0-27h5v-2h-5m0-34h5v-2h-5m0-2h5v-1h-5m0-8h5v-2h-5m0-21h5v-2h-5m0-7h5v-2h-5m0-9h5v-2h-5m0-11h5v-2h-5m0-18h5v-2h-5m0-52h5v-2h-5m0-5h5v-2h-5m0-24h5v-2h-5m0-12h5v-2h-5m0-89h5v-2h-5m0-12h5v-2h-5m0-11h5v-2h-5m0-2h5v-1h-5m0-40h5v-4h-5m0-27h5v-2h-5m0-5h5v-2h-5m0-29h5v-2h-5m0-7h5v-2h-5m0-3h5v-2h-5m0-2h5v-2h-5m0-25h5v-2h-5m0-11h5v-2h-5m27 547h5v-2h-5m0-112h5v-2h-5m0-5h5v-2h-5m0-34h5v-2h-5m0-15h5v-2h-5m0-30h5v-2h-5m0-2h5v-2h-5m0-7h5v-2h-5m0-58h5v-2h-5m0-175h5v-2h-5m0-13h5v-2h-5m0-90h5v-2h-5m0-56h5v-2h-5m0-5h5v-2h-5m0-15h5v-1h-5m27 670h5v-2h-5m0-13h5v-2h-5m0-18h5v-2h-5m0-18h5v-1h-5m0-29h5v-2h-5m0-4h5v-2h-5m0-9h5v-2h-5m0-97h5v-2h-5m0-4h5v-2h-5m0-5h5v-4h-5m0-41h5v-2h-5m0-33h5v-2h-5m0-112h5v-2h-5m0-10h5v-2h-5m0-33h5v-2h-5m0-18h5v-2h-5m0-59h5v-2h-5m0-18h5v-4h-5m0-11h5v-2h-5m0-43h5v-2h-5m0-20h5v-2h-5m0-21h5v-2h-5m27 668h5v-2h-5m0-50h5v-2h-5m0-29h5v-2h-5m0-5h5v-2h-5m0-56h5v-2h-5m0-20h5v-2h-5m0-13h5v-1h-5m0-71h5v-2h-5m0-61h5v-2h-5m0-31h5v-2h-5m0-25h5v-2h-5m0-7h5v-2h-5m0-9h5v-2h-5m0-11h5v-2h-5m0-1h5v-2h-5m0-18h5v-2h-5m0-15h5v-1h-5m0-19h5v-1h-5m0-20h5v-2h-5m0-25h5v-2h-5m0-2h5v-2h-5m0-18h5v-2h-5m0-36h5v-2h-5m0-23h5v-2h-5m0-62h5v-2h-5m0-3h5v-2h-5m0-7h5v-4h-5m0-2h5v-1h-5m27 653h5v-2h-5m0-59h5v-2h-5m0-145h5v-2h-5m0-2h5v-1h-5m0-24h5v-2h-5m0-16h5v-2h-5m0-103h5v-2h-5m0-5h5v-2h-5m0-20h5v-2h-5m0-42h5v-1h-5m0-35h5v-2h-5m0-5h5v-2h-5m0-20h5v-2h-5m0-1h5v-2h-5m0-45h5v-2h-5m0-11h5v-2h-5m0-43h5v-2h-5m0-13h5v-2h-5m0-23h5v-2h-5m27 656h5v-2h-5m0-46h5v-1h-5m0-114h5v-2h-5m0-8h5v-1h-5m0-8h5v-1h-5m0-104h5v-1h-5m0-4h5v-2h-5m0-20h5v-7h-5m0-11h5v-2h-5m0-23h5v-2h-5m0-4h5v-1h-5m0-6h5v-2h-5m0-21h5v-2h-5m0-100h5v-2h-5m0-18h5v-2h-5m0-85h5v-2h-5m0-1h5v-2h-5m0-22h5v-4h-5m27 649h5v-2h-5m0-14h5v-2h-5m0-15h5v-2h-5m0-3h5v-2h-5m0-11h5v-2h-5m0-2h5v-1h-5m0-51h5v-2h-5m0-56h5v-2h-5m0-25h5v-2h-5m0-25h5v-2h-5m0-11h5v-2h-5m0-25h5v-2h-5m0-33h5v-1h-5m0-6h5v-2h-5m0-34h5v-2h-5m0-2h5v-1h-5m0-6h5v-2h-5m0-9h5v-2h-5m0-18h5v-1h-5m0-49h5v-2h-5m0-29h5v-2h-5m0-14h5v-2h-5m0-18h5v-2h-5m0-4h5v-2h-5m0-14h5v-2h-5m0-7h5v-2h-5m0-34h5v-2h-5m0-20h5v-4h-5m0-3h5v-2h-5"/>
<path fill="#481d6f" d="M124 789h6v-2h-6m0-3h6v-2h-6m0-4h6v-2h-6m0-117h6v-2h-6m0-9h6v-2h-6m0-9h6v-2h-6m0-36h6v-2h-6m0-9h6v-2h-6m0-23h6v-2h-6m0-6h6v-1h-6m0-49h6v-2h-6m0-38h6v-2h-6m0-14h6v-2h-6m0-6h6v-2h-6m0-18h6v-5h-6m0-9h6v-2h-6m0-11h6v-2h-6m0-21h6v-2h-6m0-16h6v-2h-6m0-8h6v-1h-6m0-4h6v-2h-6m0-29h6v-2h-6m0-1h6v-2h-6m0-24h6v-2h-6m0-48h6v-2h-6m0-9h6v-2h-6m0-9h6v-2h-6m0-9h6v-2h-6m0-27h6v-2h-6m0-5h6v-2h-6m0-4h6v-1h-6m0-28h6v-1h-6m0-6h6v-4h-6m0-1h6v-2h-6m0-15h6v-3h-6m6 615h5v-1h-5m0-116h5v-4h-5m0-20h5v-2h-5m0-18h5v-1h-5m0-202h5v-1h-5m0-44h5v-2h-5m0-9h5v-1h-5m0-11h5v-2h-5m0-2h5v-2h-5m0-34h5v-2h-5m0-11h5v-2h-5m0-5h5v-2h-5m0-25h5v-2h-5m0-94h5v-4h-5m5 677h5v-1h-5m0-310h5v-2h-5m0-14h5v-2h-5m0-125h5v-2h-5m0-5h5v-2h-5m0-114h5v-2h-5m5 614h6v-2h-6m0-145h6v-2h-6m0-25h6v-2h-6m0-27h6v-2h-6m0-112h6v-2h-6m0-20h6v-2h-6m0-36h6v-2h-6m0-14h6v-2h-6m0-7h6v-2h-6m0-4h6v-1h-6m0-24h6v-2h-6m0-29h6v-2h-6m0-23h6v-2h-6m0-31h6v-2h-6m0-18h6v-1h-6m0-4h6v-2h-6m0-7h6v-2h-6m0-9h6v-4h-6m0-41h6v-2h-6m0-74h6v-6h-6m0-5h6v-2h-6m6 688h5v-2h-5m0-61h5v-2h-5m0-78h5v-2h-5m0-43h5v-2h-5m0-7h5v-2h-5m0-149h5v-1h-5m0-6h5v-2h-5m0-36h5v-2h-5m0-47h5v-2h-5m0-19h5v-2h-5m0-89h5v-2h-5m0-52h5v-4h-5m0-13h5v-1h-5m0-6h5v-3h-5m0-8h5v-2h-5m0-16h5v-2h-5m0-1h5v-2h-5m5 603h6v-2h-6m0-54h6v-2h-6m0-9h6v-2h-6m0-96h6v-2h-6m0-11h6v-1h-6m0-2h6v-2h-6m0-107h6v-2h-6m0-18h6v-2h-6m0-5h6v-2h-6m0-16h6v-2h-6m0-16h6v-2h-6m0-54h6v-2h-6m0-192h6v-2h-6m0-20h6v-2h-6m6 697h5v-1h-5m0-42h5v-2h-5m0-7h5v-2h-5m0-13h5v-3h-5m0-62h5v-3h-5m0-200h5v-1h-5m0-75h5v-1h-5m0-26h5v-2h-5m0-56h5v-2h-5m0-7h5v-2h-5m0-3h5v-2h-5m0-7h5v-2h-5m0-11h5v-2h-5m0-90h5v-2h-5m0-4h5v-2h-5m0-36h5v-2h-5m0-16h5v-2h-5m5 455h5v-2h-5m0-53h5v-1h-5m0-216h5v-2h-5m5 169h6v-2h-6m0-98h6v-2h-6m0-12h6v-2h-6m0-29h6v-2h-6m0-2h6v-2h-6m0-18h6v-1h-6m0-11h6v-2h-6m0-13h6v-2h-6m6 536h5v-1h-5m0-44h5v-2h-5m0-16h5v-2h-5m0-201h5v-2h-5m0-99h5v-2h-5m0-22h5v-2h-5m0-159h5v-2h-5m0-108h5v-2h-5m5 657h6v-2h-6m0-18h6v-2h-6m0-27h6v-2h-6m0-65h6v-2h-6m0-9h6v-1h-6m0-15h6v-2h-6m0-5h6v-2h-6m0-60h6v-2h-6m0-48h6v-2h-6m0-7h6v-2h-6m0-89h6v-2h-6m0-31h6v-1h-6m0-124h6v-1h-6m0-127h6v-2h-6m0-11h6v-2h-6m0-25h6v-2h-6m6 690h5v-2h-5m0-20h5v-1h-5m0-28h5v-1h-5m0-292h5v-2h-5m0-23h5v-2h-5m0-31h5v-2h-5m5 384h5v-2h-5m0-204h5v-2h-5m0-103h5v-2h-5m0-5h5v-2h-5m0-26h5v-1h-5m0-118h5v-2h-5m0-2h5v-2h-5m0-14h5v-2h-5m0-7h5v-2h-5m0-2h5v-2h-5m0-3h5v-2h-5m0-18h5v-2h-5m5 549h6v-2h-6m0-72h6v-2h-6m0-38h6v-2h-6m0-4h6v-3h-6m0-247h6v-1h-6m0-154h6v-2h-6m0-56h6v-2h-6m0-69h6v-2h-6m0-5h6v-2h-6m0-18h6v-4h-6m6 420h5v-1h-5m0-4h5v-2h-5m0-69h5v-1h-5m0-4h5v-2h-5m0-22h5v-1h-5m0-2h5v-2h-5m0-207h5v-1h-5m0-18h5v-2h-5m0-27h5v-2h-5m0-18h5v-2h-5m5 655h6v-1h-6m0-4h6v-2h-6m0-34h6v-2h-6m0-87h6v-2h-6m0-94h6v-2h-6m0-3h6v-2h-6m0-111h6v-1h-6m0-28h6v-1h-6m0-4h6v-2h-6m0-2h6v-2h-6m0-105h6v-1h-6m0-18h6v-2h-6m6 279h5v-4h-5m0-27h5v-2h-5m0-13h5v-1h-5m0-29h5v-2h-5m0-142h5v-1h-5m0-13h5v-2h-5m0-7h5v-2h-5m0-54h5v-2h-5m0-29h5v-2h-5m0-20h5v-2h-5m0-1h5v-2h-5m0-45h5v-2h-5m0-47h5v-2h-5m5 636h5v-2h-5m0-4h5v-2h-5m0-36h5v-2h-5m0-9h5v-2h-5m0-10h5v-2h-5m0-9h5v-4h-5m0-9h5v-2h-5m0-5h5v-6h-5m0-7h5v-2h-5m0-2h5v-1h-5m0-22h5v-2h-5m0-4h5v-1h-5m0-11h5v-2h-5m0-5h5v-2h-5m0-29h5v-2h-5m0-33h5v-1h-5m0-28h5v-1h-5m0-4h5v-2h-5m0-43h5v-2h-5m0-9h5v-2h-5m0-18h5v-2h-5m0-14h5v-2h-5m0-7h5v-2h-5m0-2h5v-2h-5m0-5h5v-2h-5m0-31h5v-2h-5m0-12h5v-2h-5m0-9h5v-2h-5m0-63h5v-2h-5m0-38h5v-2h-5m0-78h5v-2h-5m0-2h5v-3h-5m0-20h5v-2h-5m5 690h6v-2h-6m0-108h6v-2h-6m0-107h6v-2h-6m0-7h6v-2h-6m0-14h6v-2h-6m0-31h6v-2h-6m0-118h6v-1h-6m0-44h6v-2h-6m0-18h6v-2h-6m0-18h6v-2h-6m0-9h6v-1h-6m0-11h6v-6h-6m0-36h6v-2h-6m0-90h6v-2h-6m0-25h6v-2h-6m0-2h6v-2h-6m6 612h5v-2h-5m0-128h5v-2h-5m0-33h5v-3h-5m0-45h5v-2h-5m0-84h5v-1h-5m0-6h5v-2h-5m0-23h5v-2h-5m0-11h5v-2h-5m0-20h5v-1h-5m0-51h5v-2h-5m0-69h5v-2h-5m0-61h5v-4h-5m0-34h5v-4h-5m5 658h6v-2h-6m0-94h6v-2h-6m0-2h6v-2h-6m0-259h6v-2h-6m0-23h6v-2h-6m0-60h6v-2h-6m0-10h6v-2h-6m0-131h6v-1h-6m0-6h6v-2h-6m0-92h6v-2h-6m6 665h5v-2h-5m0-9h5v-4h-5m0-18h5v-3h-5m0-24h5v-2h-5m0-69h5v-1h-5m0-22h5v-2h-5m0-290h5v-1h-5m0-104h5v-2h-5m0-21h5v-2h-5m0-18h5v-2h-5m0-24h5v-1h-5m5 652h5v-2h-5m0-4h5v-2h-5m0-12h5v-2h-5m0-89h5v-2h-5m0-96h5v-1h-5m0-96h5v-2h-5m0-53h5v-2h-5m0-65h5v-3h-5m0-8h5v-1h-5m0-10h5v-1h-5m0-2h5v-2h-5m0-2h5v-2h-5m0-88h5v-2h-5m0-16h5v-4h-5m0-24h5v-1h-5m5 592h6v-2h-6m0-150h6v-2h-6m0-11h6v-2h-6m0-12h6v-2h-6m0-22h6v-2h-6m0-150h6v-2h-6m0-11h6v-2h-6m0-112h6v-2h-6m0-23h6v-2h-6m0-27h6v-2h-6m0-5h6v-2h-6m6 548h5v-1h-5m0-24h5v-2h-5m0-16h5v-2h-5m0-7h5v-2h-5m0-58h5v-2h-5m0-3h5v-2h-5m0-6h5v-1h-5m0-9h5v-2h-5m0-6h5v-1h-5m0-13h5v-2h-5m0-4h5v-1h-5m0-17h5v-1h-5m0-62h5v-2h-5m0-31h5v-1h-5m0-57h5v-3h-5m0-11h5v-2h-5m0-5h5v-4h-5m0-11h5v-2h-5m0-9h5v-2h-5m0-12h5v-2h-5m0-40h5v-3h-5m0-19h5v-1h-5m0-28h5v-1h-5m0-6h5v-3h-5m0-2h5v-2h-5m0-4h5v-1h-5m0-15h5v-2h-5m0-20h5v-1h-5m0-28h5v-1h-5m0-2h5v-2h-5m0-2h5v-2h-5m0-12h5v-2h-5m0-4h5v-2h-5m0-3h5v-4h-5m0-23h5v-2h-5m0-22h5v-2h-5m0-5h5v-2h-5m0-16h5v-2h-5m0-2h5v-2h-5m0-2h5v-1h-5m0-2h5v-2h-5m0-4h5v-1h-5m5 686h6v-2h-6m0-13h6v-1h-6m0-8h6v-1h-6m0-57h6v-1h-6m0-218h6v-2h-6m0-19h6v-2h-6m0-11h6v-4h-6m0-29h6v-2h-6m0-10h6v-2h-6m0-11h6v-2h-6m0-22h6v-3h-6m0-7h6v-2h-6m0-8h6v-1h-6m0-6h6v-2h-6m0-16h6v-2h-6m0-5h6v-2h-6m0-22h6v-1h-6m0-6h6v-2h-6m0-45h6v-2h-6m0-23h6v-4h-6m0-7h6v-2h-6m0-5h6v-2h-6m0-8h6v-3h-6m0-2h6v-2h-6m6 600h5v-2h-5m0-13h5v-3h-5m0-11h5v-2h-5m0-49h5v-2h-5m0-16h5v-2h-5m0-4h5v-1h-5m0-60h5v-2h-5m0-5h5v-2h-5m0-13h5v-2h-5m0-7h5v-2h-5m0-70h5v-2h-5m0-67h5v-2h-5m0-7h5v-2h-5m0-11h5v-2h-5m0-2h5v-1h-5m0-17h5v-1h-5m0-15h5v-2h-5m0-128h5v-2h-5m0-31h5v-2h-5m0-56h5v-2h-5m5 603h5v-1h-5m0-8h5v-1h-5m0-20h5v-2h-5m0-35h5v-1h-5m0-2h5v-2h-5m0-9h5v-2h-5m0-9h5v-2h-5m0-232h5v-1h-5m0-26h5v-2h-5m0-79h5v-2h-5m0-89h5v-2h-5m0-9h5v-1h-5m0-102h5v-2h-5m0-18h5v-2h-5m5 663h6v-2h-6m0-1h6v-2h-6m0-26h6v-1h-6m0-8h6v-1h-6m0-8h6v-2h-6m0-1h6v-2h-6m0-11h6v-2h-6m0-23h6v-2h-6m0-31h6v-2h-6m0-18h6v-2h-6m0-7h6v-2h-6m0-5h6v-2h-6m0-29h6v-2h-6m0-7h6v-4h-6m0-45h6v-2h-6m0-3h6v-2h-6m0-26h6v-1h-6m0-8h6v-1h-6m0-6h6v-2h-6m0-9h6v-1h-6m0-35h6v-2h-6m0-3h6v-2h-6m0-18h6v-2h-6m0-15h6v-1h-6m0-31h6v-2h-6m0-13h6v-1h-6m0-37h6v-1h-6m0-8h6v-2h-6m6 520h5v-2h-5m0-41h5v-2h-5m0-5h5v-2h-5m0-15h5v-2h-5m0-5h5v-2h-5m0-25h5v-2h-5m0-11h5v-2h-5m0-9h5v-2h-5m0-19h5v-2h-5m0-9h5v-4h-5m0-20h5v-2h-5m0-1h5v-2h-5m0-11h5v-4h-5m0-22h5v-1h-5m0-11h5v-2h-5m0-16h5v-2h-5m0-9h5v-2h-5m0-7h5v-2h-5m0-16h5v-2h-5m0-20h5v-2h-5m0-9h5v-2h-5m0-18h5v-2h-5m0-107h5v-1h-5m0-4h5v-2h-5m0-25h5v-6h-5m0-188h5v-2h-5m5 645h6v-2h-6m0-36h6v-2h-6m0-45h6v-2h-6m0-54h6v-2h-6m0-45h6v-2h-6m0-87h6v-2h-6m0-13h6v-1h-6m0-24h6v-2h-6m0-9h6v-2h-6m0-3h6v-2h-6m0-9h6v-4h-6m0-2h6v-1h-6m0-11h6v-4h-6m0-107h6v-1h-6m0-26h6v-2h-6m0-1h6v-2h-6m0-40h6v-2h-6m0-2h6v-2h-6m0-23h6v-2h-6m0-7h6v-2h-6m0-52h6v-2h-6m6 657h5v-3h-5m0-2h5v-2h-5m0-6h5v-1h-5m0-89h5v-2h-5m0-11h5v-2h-5m0-85h5v-2h-5m0-23h5v-2h-5m0-25h5v-2h-5m0-27h5v-2h-5m0-47h5v-2h-5m0-83h5v-2h-5m0-4h5v-1h-5m0-4h5v-2h-5m0-80h5v-1h-5m0-15h5v-2h-5m0-41h5v-2h-5m0-13h5v-3h-5m0-104h5v-1h-5m5 690h5v-2h-5m0-15h5v-2h-5m0-12h5v-2h-5m0-11h5v-2h-5m0-2h5v-1h-5m0-26h5v-2h-5m0-45h5v-2h-5m0-18h5v-2h-5m0-5h5v-2h-5m0-16h5v-2h-5m0-7h5v-2h-5m0-7h5v-4h-5m0-11h5v-2h-5m0-21h5v-2h-5m0-7h5v-2h-5m0-7h5v-2h-5m0-9h5v-2h-5m0-7h5v-2h-5m0-15h5v-1h-5m0-29h5v-2h-5m0-26h5v-1h-5m0-17h5v-1h-5m0-2h5v-2h-5m5 328h6v-2h-6m0-2h6v-2h-6m0-7h6v-4h-6m0-9h6v-1h-6m0-13h6v-2h-6m0-20h6v-2h-6m0-74h6v-4h-6m0-7h6v-2h-6m0-5h6v-2h-6m0-80h6v-3h-6m0-42h6v-2h-6m0-18h6v-2h-6m0-1h6v-2h-6m0-7h6v-2h-6m0-6h6v-1h-6m0-158h6v-2h-6m0-18h6v-2h-6m0-3h6v-4h-6m0-24h6v-1h-6m0-71h6v-2h-6m0-5h6v-2h-6m0-11h6v-2h-6m0-7h6v-2h-6m0-2h6v-1h-6m6 643h5v-2h-5m0-33h5v-2h-5m0-36h5v-2h-5m0-38h5v-2h-5m0-498h5v-1h-5m0-8h5v-1h-5m0-20h5v-2h-5m0-2h5v-2h-5m0-11h5v-1h-5m5 704h6v-2h-6m0-273h6v-2h-6m0-239h6v-2h-6m0-16h6v-4h-6m0-3h6v-2h-6m0-17h6v-1h-6m6 479h5v-1h-5m0-18h5v-4h-5m0-11h5v-4h-5m0-3h5v-2h-5m0-9h5v-2h-5m0-7h5v-2h-5m0-5h5v-2h-5m0-4h5v-2h-5m0-1h5v-2h-5m0-2h5v-2h-5m0-14h5v-2h-5m0-67h5v-2h-5m0-13h5v-1h-5m0-58h5v-4h-5m0-9h5v-2h-5m0-20h5v-2h-5m0-20h5v-1h-5m0-26h5v-1h-5m0-19h5v-1h-5m0-114h5v-2h-5m0-6h5v-2h-5m0-7h5v-2h-5m0-3h5v-2h-5m0-7h5v-2h-5m0-2h5v-2h-5m0-12h5v-2h-5m0-2h5v-2h-5m0-11h5v-2h-5m0-3h5v-4h-5m0-14h5v-2h-5m5 150h5v-2h-5m0-34h5v-2h-5m0-121h5v-4h-5m5 553h6v-2h-6m0-6h6v-1h-6m0-9h6v-2h-6m0-15h6v-2h-6m0-25h6v-2h-6m0-25h6v-2h-6m0-14h6v-2h-6m0-64h6v-1h-6m0-58h6v-2h-6m0-2h6v-2h-6m0-7h6v-2h-6m0-5h6v-2h-6m0-49h6v-2h-6m0-3h6v-2h-6m0-36h6v-2h-6m0-15h6v-2h-6m0-19h6v-2h-6m0-9h6v-2h-6m0-123h6v-2h-6m6 614h5v-2h-5m0-20h5v-2h-5m0-50h5v-2h-5m0-346h5v-2h-5m0-2h5v-2h-5m0-16h5v-2h-5m0-3h5v-2h-5m0-2h5v-2h-5m0-56h5v-2h-5m0-166h5v-2h-5m5 632h6v-2h-6m0-25h6v-2h-6m0-83h6v-2h-6m0-65h6v-2h-6m0-13h6v-2h-6m0-5h6v-2h-6m0-36h6v-2h-6m0-24h6v-1h-6m0-62h6v-2h-6m0-21h6v-2h-6m0-27h6v-2h-6m0-40h6v-2h-6m0-7h6v-2h-6m0-20h6v-2h-6m0-78h6v-1h-6m0-2h6v-2h-6m0-5h6v-2h-6m0-9h6v-2h-6m0-34h6v-2h-6m0-24h6v-2h-6m6 665h5v-2h-5m0-40h5v-1h-5m0-39h5v-1h-5m0-107h5v-2h-5m0-4h5v-1h-5m0-66h5v-1h-5m0-26h5v-2h-5m0-106h5v-2h-5m0-15h5v-2h-5m0-5h5v-2h-5m0-3h5v-2h-5m0-67h5v-2h-5m0-54h5v-2h-5m0-7h5v-2h-5m0-9h5v-2h-5m0-4h5v-2h-5m0-12h5v-2h-5m0-9h5v-2h-5m0-11h5v-2h-5m0-1h5v-2h-5m0-2h5v-2h-5m5 545h5v-2h-5m0-30h5v-2h-5m0-49h5v-4h-5m0-7h5v-2h-5m0-7h5v-2h-5m0-3h5v-2h-5m0-6h5v-1h-5m0-2h5v-4h-5m0-3h5v-2h-5m0-15h5v-2h-5m0-52h5v-2h-5m0-4h5v-1h-5m0-35h5v-2h-5m0-25h5v-2h-5m0-54h5v-2h-5m0-25h5v-2h-5m0-29h5v-2h-5m0-103h5v-2h-5m0-2h5v-1h-5m0-22h5v-2h-5m0-4h5v-1h-5m0-4h5v-2h-5m0-5h5v-2h-5m5 453h6v-2h-6m0-27h6v-2h-6m0-71h6v-2h-6m0-10h6v-2h-6m0-13h6v-2h-6m0-20h6v-2h-6m0-5h6v-2h-6m0-83h6v-2h-6m0-2h6v-1h-6m0-13h6v-2h-6m0-7h6v-2h-6m0-45h6v-2h-6m0-2h6v-2h-6m0-18h6v-2h-6m0-9h6v-2h-6m0-67h6v-1h-6m0-20h6v-2h-6m0-20h6v-2h-6m0-3h6v-2h-6m0-7h6v-2h-6m0-35h6v-3h-6m0-9h6v-2h-6m6 684h5v-3h-5m0-55h5v-1h-5m0-9h5v-2h-5m0-163h5v-2h-5m0-47h5v-2h-5m0-51h5v-1h-5m0-40h5v-2h-5m0-67h5v-2h-5m0-5h5v-2h-5m0-6h5v-1h-5m0-33h5v-2h-5m0-14h5v-2h-5m0-6h5v-1h-5m0-24h5v-2h-5m0-5h5v-2h-5m0-4h5v-1h-5m0-2h5v-2h-5m0-45h5v-4h-5m0-13h5v-1h-5m0-2h5v-2h-5m0-4h5v-1h-5m5 621h6v-2h-6m0-51h6v-2h-6m0-29h6v-1h-6m0-64h6v-2h-6m0-14h6v-2h-6m0-9h6v-2h-6m0-7h6v-2h-6m0-176h6v-1h-6m0-85h6v-2h-6m0-40h6v-2h-6m0-45h6v-4h-6m0-56h6v-2h-6m0-7h6v-2h-6m6 627h5v-2h-5m0-42h5v-1h-5m0-57h5v-1h-5m0-29h5v-2h-5m0-24h5v-2h-5m0-52h5v-2h-5m0-22h5v-1h-5m0-33h5v-2h-5m0-3h5v-2h-5m0-65h5v-2h-5m0-58h5v-2h-5m0-82h5v-1h-5m0-22h5v-4h-5m0-29h5v-3h-5m0-15h5v-2h-5m0-18h5v-2h-5m0-16h5v-2h-5m0-9h5v-2h-5m0-81h5v-5h-5m5 684h5v-2h-5m0-101h5v-2h-5m0-241h5v-2h-5m0-27h5v-2h-5m0-14h5v-2h-5m0-2h5v-1h-5m0-10h5v-1h-5m0-9h5v-2h-5m0-15h5v-2h-5m0-21h5v-2h-5m0-63h5v-2h-5m0-24h5v-3h-5m0-55h5v-2h-5m0-34h5v-2h-5m0-27h5v-2h-5m5 649h6v-2h-6m0-2h6v-2h-6m0-34h6v-2h-6m0-100h6v-1h-6m0-4h6v-2h-6m0-2h6v-3h-6m0-53h6v-2h-6m0-41h6v-2h-6m0-6h6v-1h-6m0-17h6v-3h-6m0-20h6v-2h-6m0-42h6v-2h-6m0-12h6v-2h-6m0-54h6v-4h-6m0-14h6v-2h-6m0-29h6v-2h-6m0-5h6v-2h-6m0-26h6v-1h-6m0-35h6v-2h-6m0-1h6v-4h-6m0-2h6v-2h-6m0-14h6v-2h-6m0-22h6v-2h-6m0-14h6v-4h-6m0-56h6v-2h-6m6 645h5v-2h-5m0-58h5v-1h-5m0-33h5v-2h-5m0-16h5v-2h-5m0-150h5v-2h-5m0-4h5v-2h-5m0-76h5v-1h-5m0-40h5v-2h-5m0-40h5v-2h-5m0-2h5v-1h-5m0-33h5v-2h-5m0-25h5v-2h-5m0-4h5v-1h-5m0-44h5v-2h-5m0-7h5v-2h-5m0-11h5v-1h-5m0-2h5v-4h-5m0-9h5v-2h-5m0-27h5v-2h-5m0-14h5v-2h-5m0-2h5v-2h-5m5 678h6v-2h-6m0-36h6v-2h-6m0-20h6v-2h-6m0-3h6v-2h-6m0-22h6v-2h-6m0-16h6v-2h-6m0-29h6v-4h-6m0-21h6v-2h-6m0-25h6v-6h-6m0-70h6v-2h-6m0-22h6v-4h-6m0-25h6v-2h-6m0-3h6v-2h-6m0-9h6v-2h-6m0-4h6v-2h-6m0-16h6v-2h-6m0-7h6v-2h-6m0-23h6v-2h-6m0-11h6v-2h-6m0-5h6v-2h-6m0-31h6v-2h-6m0-21h6v-2h-6m0-116h6v-2h-6m0-20h6v-2h-6m0-27h6v-2h-6m0-21h6v-4h-6m0-14h6v-2h-6m6 646h5v-1h-5m0-28h5v-1h-5m0-22h5v-4h-5m0-18h5v-2h-5m0-31h5v-1h-5m0-53h5v-2h-5m0-23h5v-6h-5m0-43h5v-2h-5m0-7h5v-2h-5m0-7h5v-2h-5m0-16h5v-2h-5m0-25h5v-2h-5m0-2h5v-2h-5m0-4h5v-1h-5m0-8h5v-1h-5m0-33h5v-2h-5m0-83h5v-2h-5m0-23h5v-4h-5m0-22h5v-2h-5m0-1h5v-2h-5m0-9h5v-2h-5m0-15h5v-1h-5m0-6h5v-2h-5m0-11h5v-1h-5m0-24h5v-2h-5m0-14h5v-2h-5m0-31h5v-2h-5m0-9h5v-1h-5m5 670h5v-4h-5m0-43h5v-2h-5m0-29h5v-2h-5m0-94h5v-2h-5m0-22h5v-2h-5m0-119h5v-2h-5m0-7h5v-2h-5m0-31h5v-2h-5m0-12h5v-2h-5m0-27h5v-4h-5m0-51h5v-1h-5m0-24h5v-2h-5m0-41h5v-4h-5m0-9h5v-2h-5m0-80h5v-1h-5m0-29h5v-6h-5m0-27h5v-2h-5m0-7h5v-2h-5m0-9h5v-2h-5m5 699h6v-1h-6m0-2h6v-2h-6m0-60h6v-2h-6m0-7h6v-2h-6m0-27h6v-2h-6m0-18h6v-2h-6m0-1h6v-2h-6m0-7h6v-2h-6m0-8h6v-1h-6m0-2h6v-2h-6m0-9h6v-2h-6m0-5h6v-2h-6m0-89h6v-2h-6m0-117h6v-2h-6m0-74h6v-4h-6m0-5h6v-2h-6m0-17h6v-1h-6m0-55h6v-1h-6m0-6h6v-2h-6m0-18h6v-2h-6m0-97h6v-2h-6m0-22h6v-2h-6m6 690h5v-2h-5m0-32h5v-2h-5m0-76h5v-2h-5m0-105h5v-2h-5m0-11h5v-1h-5m0-2h5v-2h-5m0-15h5v-1h-5m0-9h5v-2h-5m0-11h5v-4h-5m0-2h5v-1h-5m0-33h5v-2h-5m0-27h5v-2h-5m0-47h5v-2h-5m0-52h5v-2h-5m0-49h5v-2h-5m0-23h5v-2h-5m0-4h5v-1h-5m0-71h5v-2h-5m0-18h5v-2h-5m0-16h5v-2h-5m0-4h5v-1h-5m0-2h5v-2h-5m0-5h5v-2h-5m0-2h5v-2h-5m0-18h5v-2h-5m0-12h5v-2h-5m5 695h6v-2h-6m0-29h6v-1h-6m0-8h6v-1h-6m0-71h6v-4h-6m0-3h6v-2h-6m0-13h6v-2h-6m0-16h6v-2h-6m0-14h6v-2h-6m0-7h6v-2h-6m0-4h6v-3h-6m0-6h6v-2h-6m0-10h6v-2h-6m0-24h6v-2h-6m0-16h6v-4h-6m0-1h6v-4h-6m0-22h6v-3h-6m0-18h6v-2h-6m0-31h6v-2h-6m0-9h6v-2h-6m0-2h6v-1h-6m0-67h6v-4h-6m0-33h6v-1h-6m0-13h6v-2h-6m0-14h6v-2h-6m0-18h6v-2h-6m0-25h6v-2h-6m0-40h6v-4h-6m0-108h6v-2h-6m0-11h6v-4h-6m6 705h5v-2h-5m0-2h5v-3h-5m0-64h5v-2h-5m0-16h5v-2h-5m0-103h5v-2h-5m0-16h5v-6h-5m0-16h5v-2h-5m0-3h5v-2h-5m0-147h5v-2h-5m0-5h5v-2h-5m0-5h5v-6h-5m0-12h5v-4h-5m0-13h5v-3h-5m0-53h5v-2h-5m0-74h5v-3h-5m0-20h5v-2h-5m0-7h5v-2h-5m0-24h5v-2h-5m0-23h5v-2h-5m5 654h5v-4h-5m0-40h5v-1h-5m0-28h5v-1h-5m0-2h5v-2h-5m0-118h5v-2h-5m0-12h5v-2h-5m0-100h5v-2h-5m0-23h5v-2h-5m0-2h5v-1h-5m0-35h5v-2h-5m0-41h5v-2h-5m0-71h5v-2h-5m0-18h5v-2h-5m0-1h5v-2h-5m0-6h5v-1h-5m0-49h5v-2h-5m0-6h5v-1h-5m0-31h5v-2h-5m0-22h5v-3h-5m0-64h5v-1h-5m5 684h6v-2h-6m0-87h6v-1h-6m0-2h6v-2h-6m0-11h6v-2h-6m0-103h6v-2h-6m0-2h6v-1h-6m0-13h6v-2h-6m0-2h6v-2h-6m0-25h6v-2h-6m0-3h6v-4h-6m0-2h6v-3h-6m0-11h6v-4h-6m0-81h6v-2h-6m0-13h6v-2h-6m0-47h6v-2h-6m0-19h6v-4h-6m0-20h6v-2h-6m0-11h6v-3h-6m0-46h6v-1h-6m0-13h6v-2h-6m0-29h6v-2h-6m0-11h6v-1h-6m0-20h6v-4h-6m0-16h6v-2h-6m0-38h6v-2h-6m6 701h5v-2h-5m0-70h5v-4h-5m0-159h5v-2h-5m0-151h5v-1h-5m0-20h5v-2h-5m0-4h5v-2h-5m0-10h5v-2h-5m0-13h5v-2h-5m0-67h5v-2h-5m0-48h5v-2h-5m0-2h5v-2h-5m0-2h5v-1h-5m0-66h5v-1h-5m0-4h5v-2h-5m0-27h5v-2h-5m5 672h6v-2h-6m0-51h6v-1h-6m0-15h6v-2h-6m0-21h6v-2h-6m0-183h6v-2h-6m0-23h6v-4h-6m0-130h6v-2h-6m0-118h6v-2h-6m0-32h6v-2h-6m0-53h6v-2h-6m0-1h6v-2h-6m0-24h6v-2h-6m0-9h6v-1h-6m0-8h6v-1h-6m6 693h5v-2h-5m0-43h5v-2h-5m0-5h5v-2h-5m0-239h5v-2h-5m0-123h5v-2h-5m0-92h5v-2h-5m0-42h5v-2h-5m0-61h5v-2h-5m0-2h5v-2h-5m0-39h5v-2h-5m5 654h5v-2h-5m0-386h5v-2h-5m0-16h5v-4h-5m0-108h5v-2h-5m0-26h5v-1h-5m0-29h5v-2h-5m5 529h6v-2h-6m0-42h6v-2h-6m0-32h6v-2h-6m0-18h6v-2h-6m0-76h6v-2h-6m0-25h6v-2h-6m0-5h6v-2h-6m0-4h6v-2h-6m0-5h6v-2h-6m0-33h6v-1h-6m0-96h6v-2h-6m0-20h6v-2h-6m0-2h6v-2h-6m0-21h6v-2h-6m0-2h6v-2h-6m0-18h6v-2h-6m0-45h6v-2h-6m0-5h6v-2h-6m0-83h6v-2h-6m0-24h6v-1h-6m0-6h6v-2h-6m0-32h6v-2h-6m6 688h5v-2h-5m0-9h5v-2h-5m0-30h5v-2h-5m0-54h5v-2h-5m0-62h5v-2h-5m0-79h5v-2h-5m0-33h5v-2h-5m0-5h5v-2h-5m0-51h5v-1h-5m0-73h5v-3h-5m0-9h5v-2h-5m0-9h5v-2h-5m0-6h5v-1h-5m0-4h5v-2h-5m0-51h5v-3h-5m0-25h5v-2h-5m0-24h5v-3h-5m0-62h5v-2h-5m0-7h5v-2h-5m5 621h5v-2h-5m0-10h5v-2h-5m0-82h5v-2h-5m0-5h5v-2h-5m0-32h5v-2h-5m0-67h5v-2h-5m0-38h5v-2h-5m0-13h5v-1h-5m0-42h5v-2h-5m0-36h5v-2h-5m0-3h5v-2h-5m0-29h5v-2h-5m0-2h5v-2h-5m0-29h5v-1h-5m0-8h5v-2h-5m0-54h5v-2h-5m0-1h5v-2h-5m0-2h5v-2h-5m0-7h5v-2h-5m0-18h5v-2h-5m0-2h5v-3h-5m0-27h5v-2h-5m0-2h5v-2h-5m0-27h5v-2h-5m0-13h5v-1h-5m0-33h5v-2h-5m0-16h5v-2h-5m5 677h6v-1h-6m0-18h6v-2h-6m0-51h6v-2h-6m0-67h6v-2h-6m0-34h6v-2h-6m0-9h6v-2h-6m0-54h6v-2h-6m0-13h6v-1h-6m0-15h6v-2h-6m0-94h6v-2h-6m0-79h6v-2h-6m0-2h6v-2h-6m0-21h6v-4h-6m0-15h6v-1h-6m0-11h6v-2h-6m0-13h6v-2h-6m0-48h6v-2h-6m0-8h6v-1h-6m0-40h6v-2h-6m0-13h6v-1h-6m6 555h5v-1h-5m0-56h5v-2h-5m0-27h5v-2h-5m0-118h5v-2h-5m0-29h5v-2h-5m0-106h5v-2h-5m0-84h5v-1h-5m0-35h5v-2h-5m0-1h5v-2h-5m0-11h5v-2h-5m0-47h5v-4h-5m0-34h5v-2h-5m0-11h5v-1h-5m0-17h5v-2h-5m0-16h5v-2h-5m5 703h6v-2h-6m0-2h6v-1h-6m0-6h6v-2h-6m0-9h6v-2h-6m0-52h6v-2h-6m0-23h6v-4h-6m0-5h6v-2h-6m0-46h6v-1h-6m0-24h6v-2h-6m0-12h6v-4h-6m0-18h6v-2h-6m0-33h6v-1h-6m0-13h6v-2h-6m0-54h6v-2h-6m0-43h6v-2h-6m0-40h6v-2h-6m0-13h6v-1h-6m0-2h6v-2h-6m0-15h6v-1h-6m0-2h6v-2h-6m0-2h6v-2h-6m0-7h6v-2h-6m0-10h6v-2h-6m0-2h6v-2h-6m0-7h6v-2h-6m0-2h6v-2h-6m0-3h6v-2h-6m0-7h6v-4h-6m0-11h6v-2h-6m0-3h6v-2h-6m0-5h6v-2h-6m0-2h6v-2h-6m0-14h6v-2h-6m0-4h6v-2h-6m0-12h6v-2h-6m0-2h6v-2h-6m0-14h6v-2h-6m0-34h6v-2h-6m0-4h6v-2h-6m0-30h6v-2h-6m0-6h6v-2h-6m0-9h6v-1h-6m6 697h5v-2h-5m0-4h5v-1h-5m0-11h5v-2h-5m0-65h5v-4h-5m0-4h5v-1h-5m0-2h5v-2h-5m0-7h5v-2h-5m0-9h5v-2h-5m0-2h5v-1h-5m0-19h5v-1h-5m0-42h5v-2h-5m0-109h5v-1h-5m0-26h5v-2h-5m0-36h5v-2h-5m0-1h5v-2h-5m0-47h5v-4h-5m0-56h5v-2h-5m0-23h5v-4h-5m0-14h5v-2h-5m0-40h5v-2h-5m0-34h5v-2h-5m0-35h5v-1h-5m0-18h5v-2h-5m0-46h5v-1h-5m0-9h5v-4h-5m5 697h5v-2h-5m0-12h5v-4h-5m0-52h5v-2h-5m0-33h5v-2h-5m0-38h5v-2h-5m0-81h5v-2h-5m0-40h5v-1h-5m0-13h5v-2h-5m0-9h5v-2h-5m0-16h5v-2h-5m0-20h5v-2h-5m0-126h5v-2h-5m0-6h5v-1h-5m0-2h5v-2h-5m0-15h5v-1h-5m0-57h5v-1h-5m0-33h5v-2h-5m0-7h5v-2h-5m0-80h5v-1h-5m5 670h6v-2h-6m0-56h6v-2h-6m0-71h6v-1h-6m0-89h6v-2h-6m0-9h6v-2h-6m0-31h6v-1h-6m0-29h6v-2h-6m0-27h6v-2h-6m0-33h6v-2h-6m0-72h6v-2h-6m0-2h6v-2h-6m0-21h6v-2h-6m0-25h6v-2h-6m0-58h6v-2h-6m0-4h6v-3h-6m0-15h6v-2h-6m0-7h6v-2h-6m0-1h6v-2h-6m0-6h6v-1h-6m0-17h6v-2h-6m0-1h6v-2h-6m0-2h6v-2h-6m0-9h6v-2h-6m0-56h6v-2h-6m6 692h5v-2h-5m0-3h5v-2h-5m0-24h5v-1h-5m0-31h5v-2h-5m0-42h5v-1h-5m0-98h5v-2h-5m0-54h5v-2h-5m0-69h5v-2h-5m0-25h5v-2h-5m0-27h5v-2h-5m0-16h5v-2h-5m0-76h5v-2h-5m0-43h5v-2h-5m0-22h5v-2h-5m0-32h5v-2h-5m0-9h5v-2h-5m0-2h5v-2h-5m0-83h5v-4h-5m0-9h5v-1h-5m5 700h6v-1h-6m0-19h6v-1h-6m0-31h6v-2h-6m0-36h6v-2h-6m0-11h6v-2h-6m0-25h6v-2h-6m0-60h6v-1h-6m0-2h6v-2h-6m0-18h6v-2h-6m0-5h6v-2h-6m0-7h6v-2h-6m0-15h6v-2h-6m0-61h6v-2h-6m0-156h6v-1h-6m0-24h6v-2h-6m0-3h6v-2h-6m0-6h6v-2h-6m0-28h6v-2h-6m0-29h6v-2h-6m0-56h6v-2h-6m0-4h6v-1h-6m0-49h6v-4h-6m0-13h6v-1h-6m6 700h5v-1h-5m0-48h5v-1h-5m0-75h5v-1h-5m0-20h5v-4h-5m0-60h5v-2h-5m0-18h5v-1h-5m0-40h5v-2h-5m0-2h5v-2h-5m0-2h5v-1h-5m0-2h5v-2h-5m0-42h5v-3h-5m0-9h5v-2h-5m0-35h5v-1h-5m0-17h5v-1h-5m0-6h5v-3h-5m0-6h5v-2h-5m0-11h5v-1h-5m0-11h5v-2h-5m0-11h5v-2h-5m0-21h5v-2h-5m0-22h5v-2h-5m0-5h5v-2h-5m0-40h5v-2h-5m0-32h5v-4h-5m0-4h5v-1h-5m0-2h5v-2h-5m0-107h5v-2h-5m5 703h5v-4h-5m0-23h5v-2h-5m0-36h5v-2h-5m0-78h5v-2h-5m0-38h5v-2h-5m0-121h5v-2h-5m0-34h5v-2h-5m0-9h5v-2h-5m0-25h5v-2h-5m0-13h5v-1h-5m0-22h5v-6h-5m0-7h5v-2h-5m0-49h5v-1h-5m0-51h5v-2h-5m0-16h5v-2h-5m0-47h5v-2h-5m0-22h5v-1h-5m0-11h5v-2h-5m0-16h5v-2h-5m5 619h6v-2h-6m0-18h6v-2h-6m0-139h6v-2h-6m0-34h6v-2h-6m0-65h6v-4h-6m0-2h6v-2h-6m0-9h6v-1h-6m0-17h6v-1h-6m0-13h6v-2h-6m0-2h6v-2h-6m0-3h6v-2h-6m0-7h6v-2h-6m0-11h6v-2h-6m0-31h6v-1h-6m0-35h6v-2h-6m0-12h6v-2h-6m0-16h6v-2h-6m0-2h6v-2h-6m0-7h6v-2h-6m0-18h6v-2h-6m0-2h6v-1h-6m0-8h6v-3h-6m0-18h6v-2h-6m0-2h6v-2h-6m0-5h6v-2h-6m0-18h6v-2h-6m0-18h6v-2h-6m0-18h6v-2h-6m0-2h6v-1h-6m0-51h6v-2h-6m6 676h5v-2h-5m0-53h5v-2h-5m0-74h5v-2h-5m0-76h5v-2h-5m0-34h5v-2h-5m0-43h5v-2h-5m0-40h5v-2h-5m0-79h5v-2h-5m0-24h5v-2h-5m0-12h5v-2h-5m0-20h5v-2h-5m0-7h5v-2h-5m0-11h5v-1h-5m0-10h5v-1h-5m0-4h5v-2h-5m0-7h5v-4h-5m0-14h5v-2h-5m0-11h5v-2h-5m0-58h5v-1h-5m0-18h5v-2h-5m0-42h5v-2h-5m5 685h6v-2h-6m0-5h6v-2h-6m0-4h6v-2h-6m0-34h6v-2h-6m0-45h6v-2h-6m0-14h6v-2h-6m0-13h6v-2h-6m0-20h6v-2h-6m0-10h6v-4h-6m0-11h6v-2h-6m0-3h6v-4h-6m0-45h6v-2h-6m0-2h6v-2h-6m0-30h6v-2h-6m0-7h6v-2h-6m0-37h6v-1h-6m0-2h6v-2h-6m0-31h6v-2h-6m0-36h6v-2h-6m0-41h6v-2h-6m0-62h6v-1h-6m0-29h6v-2h-6m0-4h6v-2h-6m0-16h6v-2h-6m0-25h6v-2h-6m0-33h6v-1h-6m0-18h6v-2h-6m0-47h6v-2h-6m0-16h6v-2h-6m6 701h5v-4h-5m0-2h5v-2h-5m0-146h5v-2h-5m0-33h5v-2h-5m0-14h5v-2h-5m0-20h5v-2h-5m0-18h5v-1h-5m0-6h5v-2h-5m0-72h5v-2h-5m0-14h5v-2h-5m0-4h5v-2h-5m0-47h5v-2h-5m0-240h5v-2h-5m0-53h5v-3h-5m5 597h5v-2h-5m0-10h5v-2h-5m0-17h5v-1h-5m0-86h5v-1h-5m0-134h5v-4h-5m0-42h5v-1h-5m0-22h5v-4h-5m0-16h5v-2h-5m0-78h5v-5h-5m0-9h5v-2h-5m0-2h5v-2h-5m0-16h5v-2h-5m0-34h5v-2h-5m0-38h5v-2h-5m5 636h6v-2h-6m0-47h6v-6h-6m0-47h6v-1h-6m0-31h6v-2h-6m0-58h6v-2h-6m0-32h6v-2h-6m0-18h6v-2h-6m0-29h6v-2h-6m0-2h6v-2h-6m0-30h6v-2h-6m0-7h6v-2h-6m0-9h6v-2h-6m0-16h6v-2h-6m0-7h6v-2h-6m0-6h6v-1h-6m0-17h6v-2h-6m0-1h6v-2h-6m0-36h6v-2h-6m0-44h6v-1h-6m0-26h6v-2h-6m0-30h6v-2h-6m0-33h6v-2h-6m0-21h6v-2h-6m0-11h6v-4h-6m0-41h6v-2h-6m0-33h6v-2h-6m0-7h6v-2h-6m6 696h5v-4h-5m0-27h5v-2h-5m0-90h5v-2h-5m0-31h5v-2h-5m0-5h5v-2h-5m0-130h5v-2h-5m0-31h5v-2h-5m0-12h5v-2h-5m0-8h5v-1h-5m0-4h5v-2h-5m0-14h5v-2h-5m0-9h5v-2h-5m0-5h5v-2h-5m0-31h5v-2h-5m0-11h5v-1h-5m0-38h5v-2h-5m0-15h5v-2h-5m0-18h5v-2h-5m0-38h5v-1h-5m0-9h5v-2h-5m0-6h5v-1h-5m0-42h5v-2h-5m0-5h5v-2h-5m0-4h5v-2h-5m5 535h6v-2h-6m0-15h6v-1h-6m0-35h6v-2h-6m0-5h6v-4h-6m0-67h6v-2h-6m0-1h6v-2h-6m0-7h6v-2h-6m0-20h6v-2h-6m0-25h6v-2h-6m0-7h6v-2h-6m0-9h6v-2h-6m0-6h6v-1h-6m0-6h6v-2h-6m0-3h6v-2h-6m0-5h6v-2h-6m0-7h6v-2h-6m0-42h6v-4h-6m0-27h6v-2h-6m0-41h6v-2h-6m0-22h6v-2h-6m0-19h6v-2h-6m0-13h6v-2h-6m0-3h6v-2h-6m0-6h6v-1h-6m0-6h6v-2h-6m0-5h6v-2h-6m0-2h6v-2h-6m0-1h6v-2h-6m0-15h6v-1h-6m0-13h6v-4h-6m0-11h6v-1h-6m0-53h6v-2h-6m0-23h6v-2h-6m0-16h6v-2h-6m0-6h6v-1h-6m6 702h5v-2h-5m0-3h5v-2h-5m0-11h5v-2h-5m0-47h5v-2h-5m0-9h5v-2h-5m0-14h5v-2h-5m0-20h5v-2h-5m0-32h5v-2h-5m0-40h5v-2h-5m0-43h5v-2h-5m0-18h5v-2h-5m0-27h5v-2h-5m0-20h5v-2h-5m0-5h5v-2h-5m0-107h5v-1h-5m0-2h5v-2h-5m0-80h5v-2h-5m0-34h5v-2h-5m0-5h5v-4h-5m0-22h5v-1h-5m0-26h5v-2h-5m5 609h5v-2h-5m0-27h5v-2h-5m0-49h5v-2h-5m0-1h5v-2h-5m0-4h5v-2h-5m0-25h5v-2h-5m0-5h5v-2h-5m0-34h5v-2h-5m0-16h5v-2h-5m0-33h5v-2h-5m0-69h5v-1h-5m0-22h5v-2h-5m0-81h5v-2h-5m0-18h5v-2h-5m0-25h5v-2h-5m0-18h5v-2h-5m0-35h5v-1h-5m0-33h5v-2h-5m0-2h5v-1h-5m0-8h5v-1h-5m5 539h6v-2h-6m0-47h6v-2h-6m0-25h6v-2h-6m0-29h6v-1h-6m0-2h6v-2h-6m0-15h6v-1h-6m0-6h6v-2h-6m0-21h6v-2h-6m0-6h6v-1h-6m0-105h6v-2h-6m0-22h6v-2h-6m0-32h6v-2h-6m0-85h6v-2h-6m0-15h6v-1h-6m0-8h6v-2h-6m0-74h6v-2h-6m6 502h5v-2h-5m0-110h5v-2h-5m0-18h5v-2h-5m0-33h5v-1h-5m0-8h5v-1h-5m0-6h5v-2h-5m0-23h5v-4h-5m0-127h5v-1h-5m0-20h5v-2h-5m0-31h5v-4h-5m0-61h5v-2h-5m0-58h5v-2h-5m0-67h5v-2h-5m0-5h5v-2h-5m5 612h6v-3h-6m0-60h6v-2h-6m0-9h6v-2h-6m0-36h6v-2h-6m0-11h6v-1h-6m0-8h6v-1h-6m0-87h6v-2h-6m0-33h6v-2h-6m0-39h6v-2h-6m0-134h6v-4h-6m0-7h6v-2h-6m0-5h6v-2h-6m0-31h6v-2h-6m0-20h6v-2h-6m0-1h6v-2h-6m0-7h6v-4h-6m0-7h6v-2h-6m0-18h6v-2h-6m0-2h6v-2h-6m0-1h6v-2h-6m0-6h6v-1h-6m0-4h6v-2h-6m0-7h6v-2h-6m0-4h6v-1h-6m0-55h6v-2h-6m0-19h6v-2h-6m0-4h6v-2h-6m0-25h6v-2h-6m0-2h6v-1h-6m6 704h5v-2h-5m0-31h5v-5h-5m0-7h5v-2h-5m0-38h5v-4h-5m0-3h5v-2h-5m0-9h5v-2h-5m0-4h5v-1h-5m0-19h5v-1h-5m0-2h5v-2h-5m0-2h5v-2h-5m0-16h5v-2h-5m0-3h5v-2h-5m0-22h5v-4h-5m0-29h5v-1h-5m0-29h5v-2h-5m0-58h5v-2h-5m0-11h5v-2h-5m0-99h5v-2h-5m0-5h5v-2h-5m0-27h5v-2h-5m0-24h5v-2h-5m0-36h5v-2h-5m0-10h5v-2h-5m0-22h5v-2h-5m0-43h5v-2h-5m0-76h5v-2h-5m0-14h5v-4h-5m5 697h5v-2h-5m0-9h5v-1h-5m0-6h5v-2h-5m0-7h5v-2h-5m0-81h5v-2h-5m0-27h5v-2h-5m0-56h5v-2h-5m0-4h5v-1h-5m0-62h5v-2h-5m0-31h5v-1h-5m0-100h5v-2h-5m0-81h5v-2h-5m0-13h5v-2h-5m0-45h5v-2h-5m0-9h5v-2h-5m0-23h5v-2h-5m0-24h5v-1h-5m0-2h5v-2h-5m0-5h5v-2h-5m0-6h5v-1h-5m0-4h5v-2h-5m0-16h5v-2h-5m0-20h5v-2h-5m5 634h6v-2h-6m0-7h6v-2h-6m0-41h6v-2h-6m0-27h6v-2h-6m0-33h6v-3h-6m0-33h6v-2h-6m0-43h6v-2h-6m0-20h6v-2h-6m0-12h6v-2h-6m0-27h6v-2h-6m0-51h6v-2h-6m0-2h6v-1h-6m0-13h6v-4h-6m0-3h6v-2h-6m0-45h6v-2h-6m0-15h6v-5h-6m0-4h6v-2h-6m0-38h6v-1h-6m0-8h6v-1h-6m0-51h6v-2h-6m0-18h6v-2h-6m0-51h6v-1h-6m0-4h6v-2h-6m0-38h6v-4h-6m0-7h6v-2h-6m6 553h5v-2h-5m0-98h5v-2h-5m0-3h5v-2h-5m0-51h5v-2h-5m0-18h5v-2h-5m0-23h5v-4h-5m0-1h5v-2h-5m0-4h5v-2h-5m0-31h5v-1h-5m0-9h5v-4h-5m0-16h5v-2h-5m0-6h5v-1h-5m0-13h5v-2h-5m0-69h5v-1h-5m0-66h5v-1h-5m0-10h5v-1h-5m0-20h5v-2h-5m0-2h5v-2h-5m0-29h5v-1h-5m0-44h5v-2h-5m5 683h6v-2h-6m0-23h6v-2h-6m0-208h6v-2h-6m0-20h6v-4h-6m0-7h6v-2h-6m0-42h6v-1h-6m0-4h6v-2h-6m0-65h6v-2h-6m0-49h6v-1h-6m0-22h6v-2h-6m0-13h6v-1h-6m0-78h6v-4h-6m0-58h6v-2h-6m6 591h5v-2h-5m0-203h5v-2h-5m0-51h5v-1h-5m0-64h5v-2h-5m0-159h5v-2h-5m0-38h5v-2h-5m0-61h5v-2h-5m0-25h5v-2h-5m0-2h5v-2h-5m5 645h5v-2h-5m0-27h5v-2h-5m0-85h5v-2h-5m0-190h5v-2h-5m0-52h5v-2h-5m0-7h5v-2h-5m0-53h5v-1h-5m0-29h5v-2h-5m0-24h5v-2h-5m0-105h5v-1h-5m0-8h5v-1h-5m5 574h6v-2h-6m0-15h6v-1h-6m0-11h6v-2h-6m0-26h6v-3h-6m0-11h6v-2h-6m0-94h6v-2h-6m0-14h6v-2h-6m0-20h6v-2h-6m0-18h6v-2h-6m0-58h6v-2h-6m0-25h6v-3h-6m0-11h6v-2h-6m0-44h6v-1h-6m0-2h6v-2h-6m0-2h6v-2h-6m0-43h6v-2h-6m0-20h6v-2h-6m0-16h6v-4h-6m0-14h6v-2h-6m0-20h6v-2h-6m0-10h6v-4h-6m0-4h6v-2h-6m0-21h6v-2h-6m0-25h6v-2h-6m0-33h6v-2h-6m0-9h6v-2h-6m0-29h6v-1h-6m0-9h6v-2h-6m6 686h5v-3h-5m0-95h5v-1h-5m0-71h5v-2h-5m0-81h5v-2h-5m0-29h5v-2h-5m0-58h5v-2h-5m0-36h5v-4h-5m0-29h5v-1h-5m0-9h5v-2h-5m0-22h5v-2h-5m0-32h5v-4h-5m0-5h5v-2h-5m0-27h5v-4h-5m0-5h5v-2h-5m0-2h5v-2h-5m0-18h5v-4h-5m0-20h5v-1h-5m0-2h5v-2h-5m0-4h5v-1h-5m0-4h5v-2h-5m0-16h5v-2h-5m0-34h5v-2h-5m0-24h5v-2h-5m0-7h5v-2h-5m0-3h5v-2h-5m0-9h5v-2h-5m5 703h6v-4h-6m0-127h6v-1h-6m0-174h6v-2h-6m0-44h6v-1h-6m0-6h6v-2h-6m0-152h6v-2h-6m0-148h6v-4h-6m0-25h6v-2h-6m6 687h5v-2h-5m0-24h5v-3h-5m0-104h5v-1h-5m0-11h5v-2h-5m0-31h5v-2h-5m0-38h5v-2h-5m0-23h5v-4h-5m0-41h5v-2h-5m0-67h5v-2h-5m0-16h5v-2h-5m0-29h5v-2h-5m0-67h5v-2h-5m0-34h5v-2h-5m0-43h5v-2h-5m0-26h5v-1h-5m0-22h5v-2h-5m0-40h5v-2h-5m0-3h5v-2h-5m0-16h5v-2h-5m0-11h5v-2h-5m5 690h5v-2h-5m0-14h5v-2h-5m0-299h5v-2h-5m0-32h5v-2h-5m0-40h5v-2h-5m0-123h5v-2h-5m0-25h5v-2h-5m0-23h5v-2h-5m0-6h5v-1h-5m0-47h5v-2h-5m5 628h6v-2h-6m0-58h6v-1h-6m0-4h6v-2h-6m0-11h6v-2h-6m0-18h6v-1h-6m0-8h6v-1h-6m0-15h6v-2h-6m0-14h6v-2h-6m0-13h6v-2h-6m0-1h6v-2h-6m0-15h6v-1h-6m0-44h6v-2h-6m0-14h6v-4h-6m0-42h6v-1h-6m0-35h6v-2h-6m0-34h6v-2h-6m0-38h6v-2h-6m0-77h6v-2h-6m0-42h6v-2h-6m0-14h6v-2h-6m0-116h6v-2h-6m0-3h6v-2h-6m0-35h6v-1h-6m6 693h5v-2h-5m0-72h5v-2h-5m0-40h5v-2h-5m0-5h5v-2h-5m0-40h5v-1h-5m0-38h5v-2h-5m0-71h5v-2h-5m0-5h5v-2h-5m0-76h5v-2h-5m0-51h5v-1h-5m0-47h5v-2h-5m0-51h5v-2h-5m0-18h5v-2h-5m0-29h5v-3h-5m0-13h5v-4h-5m0-67h5v-1h-5m5 537h6v-1h-6m0-142h6v-1h-6m0-9h6v-2h-6m0-15h6v-2h-6m0-193h6v-2h-6m0-40h6v-2h-6m0-51h6v-1h-6m0-62h6v-2h-6m6 643h5v-3h-5m0-35h5v-2h-5m0-52h5v-2h-5m0-101h5v-2h-5m0-2h5v-2h-5m0-83h5v-2h-5m0-65h5v-2h-5m0-85h5v-2h-5m0-5h5v-2h-5m0-20h5v-2h-5m0-18h5v-4h-5m0-3h5v-2h-5m0-2h5v-2h-5m0-5h5v-2h-5m0-72h5v-2h-5m0-49h5v-2h-5m5 636h5v-2h-5m0-83h5v-2h-5m0-2h5v-2h-5m0-67h5v-3h-5m0-33h5v-2h-5m0-3h5v-2h-5m0-36h5v-2h-5m0-27h5v-2h-5m0-17h5v-1h-5m0-2h5v-2h-5m0-2h5v-2h-5m0-52h5v-2h-5m0-25h5v-2h-5m0-18h5v-2h-5m0-7h5v-2h-5m0-13h5v-3h-5m0-31h5v-2h-5m0-5h5v-2h-5m0-2h5v-2h-5m0-29h5v-2h-5m0-18h5v-2h-5m0-52h5v-2h-5m0-27h5v-2h-5m0-32h5v-4h-5m0-11h5v-4h-5m0-14h5v-2h-5m0-23h5v-2h-5m0-6h5v-1h-5m5 695h6v-4h-6m0-1h6v-4h-6m0-4h6v-1h-6m0-173h6v-1h-6m0-9h6v-2h-6m0-36h6v-2h-6m0-44h6v-2h-6m0-16h6v-2h-6m0-7h6v-2h-6m0-34h6v-2h-6m0-5h6v-2h-6m0-2h6v-2h-6m0-2h6v-1h-6m0-15h6v-4h-6m0-18h6v-1h-6m0-67h6v-2h-6m0-11h6v-2h-6m0-5h6v-2h-6m0-35h6v-1h-6m0-24h6v-2h-6m0-20h6v-1h-6m0-2h6v-4h-6m0-42h6v-1h-6m0-69h6v-2h-6m11 668h6v-2h-6m0-45h6v-2h-6m0-25h6v-2h-6m0-96h6v-2h-6m0-1h6v-2h-6m0-13h6v-4h-6m0-9h6v-1h-6m0-58h6v-6h-6m0-18h6v-2h-6m0-5h6v-2h-6m0-43h6v-2h-6m0-27h6v-2h-6m0-35h6v-1h-6m0-9h6v-2h-6m0-15h6v-2h-6m0-7h6v-2h-6m0-7h6v-2h-6m0-9h6v-2h-6m0-5h6v-2h-6m0-2h6v-1h-6m0-4h6v-2h-6m0-11h6v-2h-6m0-1h6v-2h-6m0-25h6v-2h-6m0-109h6v-2h-6m0-31h6v-1h-6m0-2h6v-2h-6m11 670h5v-2h-5m0-12h5v-2h-5m0-85h5v-2h-5m0-22h5v-2h-5m0-18h5v-3h-5m0-6h5v-2h-5m0-9h5v-2h-5m0-7h5v-2h-5m0-25h5v-2h-5m0-54h5v-2h-5m0-20h5v-2h-5m0-94h5v-2h-5m0-85h5v-2h-5m0-12h5v-2h-5m0-15h5v-1h-5m0-37h5v-1h-5m0-24h5v-2h-5m0-41h5v-2h-5m0-6h5v-1h-5m0-6h5v-2h-5m0-3h5v-2h-5m0-2h5v-2h-5m0-31h5v-1h-5m11 661h5v-2h-5m0-9h5v-2h-5m0-7h5v-2h-5m0-31h5v-2h-5m0-9h5v-2h-5m0-5h5v-2h-5m0-21h5v-2h-5m0-44h5v-2h-5m0-5h5v-2h-5m0-14h5v-2h-5m0-56h5v-2h-5m0-7h5v-2h-5m0-6h5v-1h-5m0-42h5v-2h-5m0-43h5v-4h-5m0-40h5v-2h-5m0-144h5v-2h-5m0-6h5v-1h-5m0-19h5v-1h-5m0-26h5v-2h-5m0-21h5v-2h-5m0-6h5v-3h-5m0-4h5v-3h-5m0-17h5v-2h-5m0-36h5v-2h-5m11 663h5v-2h-5m0-7h5v-2h-5m0-21h5v-2h-5m0-35h5v-1h-5m0-58h5v-2h-5m0-2h5v-2h-5m0-121h5v-2h-5m0-52h5v-2h-5m0-47h5v-2h-5m0-9h5v-2h-5m0-83h5v-2h-5m0-22h5v-2h-5m0-74h5v-2h-5m0-41h5v-2h-5m0-6h5v-1h-5m0-24h5v-2h-5m10 469h6v-3h-6m0-71h6v-2h-6m0-27h6v-2h-6m0-99h6v-4h-6m0-273h6v-2h-6m11 590h6v-2h-6m0-11h6v-1h-6m0-29h6v-2h-6m0-9h6v-2h-6m0-96h6v-2h-6m0-2h6v-1h-6m0-17h6v-2h-6m0-5h6v-2h-6m0-7h6v-2h-6m0-65h6v-2h-6m0-2h6v-1h-6m0-20h6v-2h-6m0-100h6v-2h-6m0-14h6v-2h-6m0-34h6v-2h-6m0-11h6v-2h-6m0-31h6v-1h-6m0-66h6v-1h-6m0-20h6v-2h-6m0-6h6v-1h-6m0-31h6v-4h-6m11 678h5v-2h-5m0-8h5v-3h-5m0-62h5v-2h-5m0-12h5v-2h-5m0-2h5v-2h-5m0-59h5v-2h-5m0-134h5v-2h-5m0-82h5v-1h-5m0-120h5v-2h-5m0-3h5v-2h-5m0-22h5v-2h-5m0-9h5v-2h-5m0-1h5v-2h-5m0-26h5v-1h-5m0-28h5v-1h-5m0-35h5v-2h-5m27 636h5v-3h-5m0-4h5v-2h-5m0-16h5v-2h-5m0-111h5v-1h-5m0-35h5v-2h-5m0-70h5v-2h-5m0-7h5v-2h-5m0-170h5v-2h-5m0-33h5v-1h-5m0-44h5v-2h-5m0-108h5v-2h-5m0-20h5v-2h-5m0-14h5v-2h-5m0-9h5v-2h-5m27 454h5v-1h-5m0-44h5v-2h-5m0-20h5v-1h-5m0-87h5v-2h-5m0-40h5v-2h-5m0-29h5v-2h-5m0-3h5v-2h-5m0-103h5v-2h-5m0-63h5v-2h-5m0-9h5v-2h-5m27 619h5v-2h-5m0-48h5v-2h-5m0-6h5v-2h-5m0-48h5v-2h-5m0-44h5v-1h-5m0-73h5v-2h-5m0-114h5v-2h-5m0-68h5v-2h-5m0-15h5v-2h-5m0-10h5v-2h-5m0-53h5v-2h-5m0-12h5v-2h-5m0-31h5v-2h-5m0-5h5v-2h-5m0-58h5v-2h-5m0-1h5v-2h-5m0-2h5v-2h-5m27 569h5v-2h-5m0-2h5v-2h-5m0-67h5v-2h-5m0-28h5v-2h-5m0-8h5v-1h-5m0-120h5v-2h-5m0-41h5v-2h-5m0-24h5v-2h-5m0-57h5v-2h-5m0-20h5v-2h-5m0-22h5v-2h-5m0-57h5v-2h-5m0-49h5v-2h-5m0-22h5v-2h-5m0-59h5v-2h-5m27 625h5v-2h-5m0-114h5v-2h-5m0-36h5v-2h-5m0-7h5v-2h-5m0-53h5v-1h-5m0-75h5v-2h-5m0-119h5v-2h-5m0-199h5v-2h-5m0-20h5v-2h-5m0-9h5v-1h-5m27 691h5v-1h-5m0-55h5v-2h-5m0-103h5v-2h-5m0-81h5v-2h-5m0-14h5v-2h-5m0-67h5v-2h-5m0-51h5v-2h-5m0-43h5v-2h-5m0-16h5v-2h-5m0-2h5v-2h-5m0-10h5v-2h-5m0-15h5v-2h-5m0-16h5v-2h-5m0-36h5v-2h-5m0-36h5v-2h-5m0-2h5v-1h-5m0-113h5v-1h-5"/>
<path fill="#482374" d="M124 802h6v-2h-6m0-121h6v-2h-6m0-2h6v-2h-6m0-20h6v-2h-6m0-157h6v-2h-6m0-49h6v-2h-6m0-11h6v-3h-6m0-18h6v-2h-6m0-22h6v-2h-6m0-14h6v-2h-6m0-5h6v-2h-6m0-18h6v-2h-6m0-6h6v-1h-6m0-6h6v-2h-6m0-5h6v-2h-6m0-20h6v-2h-6m0-12h6v-4h-6m0-18h6v-5h-6m0-4h6v-2h-6m0-3h6v-2h-6m0-6h6v-2h-6m0-50h6v-2h-6m0-16h6v-2h-6m0-11h6v-2h-6m0-22h6v-1h-6m0-19h6v-1h-6m6 690h5v-2h-5m0-208h5v-2h-5m0-221h5v-2h-5m0-27h5v-2h-5m0-54h5v-2h-5m0-53h5v-1h-5m0-17h5v-2h-5m0-14h5v-2h-5m0-2h5v-1h-5m0-24h5v-2h-5m5 656h5v-2h-5m0-29h5v-2h-5m0-20h5v-2h-5m0-16h5v-2h-5m0-112h5v-4h-5m0-45h5v-2h-5m0-112h5v-2h-5m0-297h5v-2h-5m0-5h5v-5h-5m5 568h6v-2h-6m0-115h6v-2h-6m0-31h6v-2h-6m0-138h6v-1h-6m0-4h6v-2h-6m0-60h6v-1h-6m0-58h6v-2h-6m0-11h6v-2h-6m0-5h6v-2h-6m0-22h6v-2h-6m0-19h6v-2h-6m0-76h6v-2h-6m0-74h6v-4h-6m6 730h5v-2h-5m0-210h5v-2h-5m0-179h5v-2h-5m0-78h5v-2h-5m0-3h5v-2h-5m0-2h5v-2h-5m0-18h5v-2h-5m0-197h5v-2h-5m5 658h6v-2h-6m0-42h6v-2h-6m0-23h6v-2h-6m0-16h6v-4h-6m0-268h6v-2h-6m0-2h6v-2h-6m0-7h6v-2h-6m0-50h6v-2h-6m0-214h6v-2h-6m6 533h5v-2h-5m0-310h5v-1h-5m0-33h5v-2h-5m0-5h5v-2h-5m0-45h5v-2h-5m0-15h5v-1h-5m0-71h5v-2h-5m0-9h5v-2h-5m0-3h5v-2h-5m0-7h5v-2h-5m0-13h5v-2h-5m5 640h5v-2h-5m11-37h5v-1h-5m0-299h5v-2h-5m0-76h5v-2h-5m0-29h5v-2h-5m0-72h5v-2h-5m0-3h5v-6h-5m5 382h6v-2h-6m0-9h6v-1h-6m0-144h6v-1h-6m0-40h6v-2h-6m0-47h6v-2h-6m0-76h6v-2h-6m0-5h6v-2h-6m0-15h6v-1h-6m0-56h6v-2h-6m0-37h6v-1h-6m0-69h6v-2h-6m0-4h6v-3h-6m6 681h5v-4h-5m0-11h5v-2h-5m0-52h5v-2h-5m0-324h5v-2h-5m5 304h5v-1h-5m0-230h5v-2h-5m0-161h5v-2h-5m5 527h6v-2h-6m0-91h6v-5h-6m0-2h6v-2h-6m0-12h6v-2h-6m0-42h6v-2h-6m0-441h6v-2h-6m0-6h6v-2h-6m0-7h6v-2h-6m0-36h6v-2h-6m0-56h6v-2h-6m6 587h5v-2h-5m0-30h5v-2h-5m0-440h5v-2h-5m5 460h6v-2h-6m0-344h6v-2h-6m0-79h6v-2h-6m0-31h6v-2h-6m6 353h5v-2h-5m0-41h5v-2h-5m0-33h5v-1h-5m0-142h5v-2h-5m0-54h5v-2h-5m0-78h5v-1h-5m0-4h5v-2h-5m0-23h5v-2h-5m0-2h5v-2h-5m0-60h5v-1h-5m5 684h5v-2h-5m0-58h5v-1h-5m0-6h5v-2h-5m0-38h5v-1h-5m0-2h5v-2h-5m0-2h5v-2h-5m0-63h5v-2h-5m0-5h5v-2h-5m0-4h5v-2h-5m0-16h5v-2h-5m0-11h5v-1h-5m0-35h5v-2h-5m0-3h5v-2h-5m0-11h5v-2h-5m0-18h5v-2h-5m0-47h5v-1h-5m0-6h5v-4h-5m0-16h5v-3h-5m0-15h5v-2h-5m0-31h5v-1h-5m0-9h5v-2h-5m0-18h5v-2h-5m0-54h5v-2h-5m0-24h5v-2h-5m0-155h5v-2h-5m0-2h5v-2h-5m5 630h6v-1h-6m0-163h6v-2h-6m0-2h6v-2h-6m0-206h6v-2h-6m0-13h6v-2h-6m0-16h6v-2h-6m0-7h6v-2h-6m0-5h6v-2h-6m0-14h6v-2h-6m0-85h6v-2h-6m0-56h6v-2h-6m6 637h5v-1h-5m0-80h5v-2h-5m0-29h5v-2h-5m0-54h5v-2h-5m0-45h5v-2h-5m0-29h5v-2h-5m0-5h5v-2h-5m0-34h5v-2h-5m0-38h5v-2h-5m0-56h5v-2h-5m0-11h5v-2h-5m0-18h5v-2h-5m0-99h5v-2h-5m0-2h5v-2h-5m0-59h5v-2h-5m0-2h5v-2h-5m0-14h5v-2h-5m0-20h5v-2h-5m0-4h5v-1h-5m5 536h6v-2h-6m0-228h6v-2h-6m0-261h6v-2h-6m0-70h6v-2h-6m6 626h5v-1h-5m0-2h5v-4h-5m0-47h5v-2h-5m0-41h5v-2h-5m0-22h5v-2h-5m0-7h5v-2h-5m0-402h5v-2h-5m0-16h5v-2h-5m0-2h5v-1h-5m5 615h5v-1h-5m0-2h5v-2h-5m0-9h5v-2h-5m0-301h5v-1h-5m0-26h5v-1h-5m0-120h5v-2h-5m0-7h5v-2h-5m0-2h5v-1h-5m0-8h5v-2h-5m0-5h5v-2h-5m0-161h5v-2h-5m5 515h6v-2h-6m0-15h6v-2h-6m0-21h6v-2h-6m0-22h6v-2h-6m0-119h6v-2h-6m0-22h6v-2h-6m0-12h6v-2h-6m0-33h6v-1h-6m0-9h6v-4h-6m0-16h6v-2h-6m0-74h6v-2h-6m0-4h6v-2h-6m0-132h6v-2h-6m6 636h5v-2h-5m0-34h5v-2h-5m0-9h5v-2h-5m0-2h5v-2h-5m0-7h5v-3h-5m0-11h5v-2h-5m0-11h5v-2h-5m0-5h5v-2h-5m0-16h5v-2h-5m0-9h5v-2h-5m0-22h5v-2h-5m0-115h5v-2h-5m0-142h5v-1h-5m0-29h5v-2h-5m0-13h5v-2h-5m0-3h5v-2h-5m0-2h5v-2h-5m0-14h5v-2h-5m0-9h5v-2h-5m0-7h5v-4h-5m0-5h5v-2h-5m0-2h5v-2h-5m0-3h5v-2h-5m0-2h5v-2h-5m0-56h5v-2h-5m0-23h5v-2h-5m0-4h5v-1h-5m0-22h5v-2h-5m0-5h5v-2h-5m0-4h5v-2h-5m0-10h5v-2h-5m0-2h5v-2h-5m0-4h5v-1h-5m0-13h5v-4h-5m5 690h6v-1h-6m0-2h6v-2h-6m0-7h6v-2h-6m0-9h6v-2h-6m0-13h6v-1h-6m0-13h6v-2h-6m0-132h6v-2h-6m0-36h6v-2h-6m0-47h6v-2h-6m0-51h6v-1h-6m0-6h6v-2h-6m0-67h6v-1h-6m0-151h6v-2h-6m0-134h6v-1h-6m0-2h6v-2h-6m6 704h5v-1h-5m0-107h5v-2h-5m0-29h5v-2h-5m0-219h5v-2h-5m0-14h5v-2h-5m0-4h5v-2h-5m0-5h5v-4h-5m0-7h5v-2h-5m0-226h5v-2h-5m5 627h5v-2h-5m0-13h5v-1h-5m0-22h5v-2h-5m0-150h5v-2h-5m0-399h5v-1h-5m0-20h5v-2h-5m5 558h6v-2h-6m0-69h6v-4h-6m0-7h6v-2h-6m0-1h6v-4h-6m0-4h6v-2h-6m0-21h6v-2h-6m0-82h6v-1h-6m0-15h6v-2h-6m0-29h6v-1h-6m0-2h6v-4h-6m0-25h6v-2h-6m0-7h6v-2h-6m0-96h6v-2h-6m0-23h6v-2h-6m0-20h6v-2h-6m0-4h6v-1h-6m0-9h6v-2h-6m6 507h5v-2h-5m0-45h5v-2h-5m0-6h5v-1h-5m0-15h5v-2h-5m0-9h5v-3h-5m0-2h5v-2h-5m0-4h5v-1h-5m0-4h5v-2h-5m0-23h5v-2h-5m0-13h5v-2h-5m0-23h5v-2h-5m0-51h5v-2h-5m0-1h5v-2h-5m0-31h5v-2h-5m0-11h5v-1h-5m0-15h5v-2h-5m0-38h5v-2h-5m0-126h5v-4h-5m0-9h5v-2h-5m0-9h5v-2h-5m0-3h5v-2h-5m0-6h5v-1h-5m0-2h5v-4h-5m0-2h5v-1h-5m0-11h5v-2h-5m0-69h5v-2h-5m0-5h5v-2h-5m0-9h5v-2h-5m0-2h5v-1h-5m0-20h5v-2h-5m5 576h6v-2h-6m0-22h6v-2h-6m0-199h6v-2h-6m0-18h6v-3h-6m0-8h6v-1h-6m0-24h6v-2h-6m0-20h6v-2h-6m0-9h6v-1h-6m0-4h6v-2h-6m0-3h6v-2h-6m0-120h6v-2h-6m0-1h6v-2h-6m0-89h6v-2h-6m0-22h6v-1h-6m0-51h6v-2h-6m0-2h6v-1h-6m0-2h6v-4h-6m0-14h6v-2h-6m6 688h5v-2h-5m0-101h5v-2h-5m0-2h5v-2h-5m0-146h5v-2h-5m0-36h5v-2h-5m0-15h5v-2h-5m0-14h5v-2h-5m0-11h5v-1h-5m0-19h5v-1h-5m0-58h5v-2h-5m0-7h5v-2h-5m0-198h5v-1h-5m5 594h5v-2h-5m0-56h5v-2h-5m0-11h5v-2h-5m0-36h5v-2h-5m0-9h5v-2h-5m0-11h5v-1h-5m0-6h5v-2h-5m0-16h5v-2h-5m0-31h5v-3h-5m0-16h5v-2h-5m0-17h5v-3h-5m0-17h5v-1h-5m0-28h5v-1h-5m0-69h5v-2h-5m0-33h5v-1h-5m0-4h5v-2h-5m0-38h5v-2h-5m5 453h6v-2h-6m0-112h6v-2h-6m0-203h6v-1h-6m0-227h6v-2h-6m6 491h5v-2h-5m0-14h5v-4h-5m0-5h5v-2h-5m0-4h5v-1h-5m0-6h5v-2h-5m0-9h5v-2h-5m0-7h5v-2h-5m0-1h5v-2h-5m0-6h5v-3h-5m0-20h5v-4h-5m0-2h5v-1h-5m0-13h5v-2h-5m0-4h5v-1h-5m0-2h5v-2h-5m0-5h5v-2h-5m0-4h5v-2h-5m0-365h5v-2h-5m0-31h5v-2h-5m0-40h5v-2h-5m0-7h5v-2h-5m0-5h5v-2h-5m0-11h5v-2h-5m0-5h5v-4h-5m0-7h5v-3h-5m0-4h5v-2h-5m5 703h6v-2h-6m0-254h6v-1h-6m0-53h6v-2h-6m0-208h6v-2h-6m0-5h6v-2h-6m6 406h5v-2h-5m0-6h5v-1h-5m0-8h5v-1h-5m0-6h5v-2h-5m0-2h5v-1h-5m0-125h5v-2h-5m0-13h5v-2h-5m0-61h5v-2h-5m0-27h5v-2h-5m0-156h5v-1h-5m0-39h5v-1h-5m0-6h5v-2h-5m0-29h5v-1h-5m0-13h5v-2h-5m0-47h5v-2h-5m5 683h5v-2h-5m0-525h5v-2h-5m0-2h5v-1h-5m5 537h6v-1h-6m0-86h6v-1h-6m0-15h6v-2h-6m0-1h6v-2h-6m0-11h6v-2h-6m0-7h6v-2h-6m0-31h6v-2h-6m0-155h6v-2h-6m0-4h6v-2h-6m0-18h6v-1h-6m0-11h6v-2h-6m0-36h6v-2h-6m0-15h6v-1h-6m0-73h6v-4h-6m0-12h6v-2h-6m0-4h6v-1h-6m0-46h6v-2h-6m0-45h6v-2h-6m0-68h6v-2h-6m0-27h6v-2h-6m6 708h5v-2h-5m0-9h5v-2h-5m0-72h5v-2h-5m0-429h5v-2h-5m0-4h5v-2h-5m0-12h5v-4h-5m0-3h5v-2h-5m0-18h5v-2h-5m0-103h5v-2h-5m0-20h5v-2h-5m5 692h6v-2h-6m0-5h6v-2h-6m0-74h6v-2h-6m0-62h6v-2h-6m0-11h6v-1h-6m0-114h6v-2h-6m0-18h6v-2h-6m0-4h6v-3h-6m0-4h6v-2h-6m0-9h6v-2h-6m0-78h6v-1h-6m0-28h6v-1h-6m0-6h6v-2h-6m0-47h6v-3h-6m0-9h6v-4h-6m0-92h6v-2h-6m0-45h6v-2h-6m0-20h6v-2h-6m6 654h5v-2h-5m0-181h5v-2h-5m0-206h5v-2h-5m0-29h5v-2h-5m0-154h5v-2h-5m0-2h5v-1h-5m0-4h5v-2h-5m0-27h5v-2h-5m5 621h5v-3h-5m0-151h5v-1h-5m0-20h5v-2h-5m0-9h5v-2h-5m0-20h5v-2h-5m0-39h5v-2h-5m0-9h5v-2h-5m0-47h5v-2h-5m0-7h5v-2h-5m0-29h5v-2h-5m0-9h5v-2h-5m0-52h5v-2h-5m0-143h5v-2h-5m5 505h6v-2h-6m0-54h6v-2h-6m0-54h6v-2h-6m0-112h6v-2h-6m0-7h6v-2h-6m0-43h6v-2h-6m0-55h6v-1h-6m0-80h6v-2h-6m0-11h6v-2h-6m0-12h6v-2h-6m0-29h6v-2h-6m0-16h6v-2h-6m0-31h6v-2h-6m0-10h6v-2h-6m0-33h6v-2h-6m0-20h6v-7h-6m0-23h6v-2h-6m0-2h6v-2h-6m6 683h5v-2h-5m0-87h5v-2h-5m0-179h5v-2h-5m0-1h5v-2h-5m0-2h5v-2h-5m0-22h5v-1h-5m0-4h5v-2h-5m0-2h5v-2h-5m0-12h5v-2h-5m0-2h5v-2h-5m0-34h5v-2h-5m0-3h5v-2h-5m0-4h5v-2h-5m0-61h5v-2h-5m0-11h5v-2h-5m0-9h5v-2h-5m0-49h5v-1h-5m0-26h5v-1h-5m0-26h5v-2h-5m0-1h5v-2h-5m0-18h5v-2h-5m0-13h5v-2h-5m0-7h5v-2h-5m0-2h5v-1h-5m0-4h5v-2h-5m0-51h5v-1h-5m5 365h6v-1h-6m0-136h6v-2h-6m0-7h6v-2h-6m0-7h6v-2h-6m0-5h6v-2h-6m0-11h6v-2h-6m0-51h6v-1h-6m0-20h6v-2h-6m0-6h6v-1h-6m0-102h6v-2h-6m6 553h5v-2h-5m0-351h5v-2h-5m0-26h5v-1h-5m0-73h5v-2h-5m0-27h5v-2h-5m0-79h5v-2h-5m5 692h5v-2h-5m0-314h5v-1h-5m0-51h5v-2h-5m0-85h5v-2h-5m0-3h5v-2h-5m0-6h5v-1h-5m0-26h5v-2h-5m0-36h5v-2h-5m0-61h5v-2h-5m0-11h5v-2h-5m0-69h5v-1h-5m5 681h6v-2h-6m0-114h6v-2h-6m0-15h6v-1h-6m0-37h6v-1h-6m0-44h6v-2h-6m0-5h6v-6h-6m0-29h6v-1h-6m0-49h6v-2h-6m0-11h6v-2h-6m0-43h6v-2h-6m0-16h6v-2h-6m0-11h6v-2h-6m0-9h6v-2h-6m0-14h6v-2h-6m0-92h6v-2h-6m0-7h6v-2h-6m0-16h6v-2h-6m0-9h6v-2h-6m0-9h6v-2h-6m0-4h6v-1h-6m0-4h6v-2h-6m0-54h6v-2h-6m0-7h6v-2h-6m0-45h6v-2h-6m6 690h5v-2h-5m0-29h5v-2h-5m0-31h5v-1h-5m0-129h5v-2h-5m0-2h5v-1h-5m0-46h5v-1h-5m0-26h5v-2h-5m0-134h5v-1h-5m0-8h5v-2h-5m0-27h5v-2h-5m0-161h5v-2h-5m0-10h5v-2h-5m0-36h5v-4h-5m0-31h5v-2h-5m5 680h6v-2h-6m0-2h6v-2h-6m0-20h6v-2h-6m0-40h6v-1h-6m0-22h6v-2h-6m0-5h6v-2h-6m0-74h6v-2h-6m0-67h6v-2h-6m0-18h6v-2h-6m0-98h6v-2h-6m0-18h6v-1h-6m0-40h6v-2h-6m0-2h6v-2h-6m0-36h6v-2h-6m0-165h6v-1h-6m0-44h6v-2h-6m6 551h5v-2h-5m0-67h5v-2h-5m0-177h5v-2h-5m0-13h5v-1h-5m0-28h5v-1h-5m0-37h5v-1h-5m0-13h5v-2h-5m0-29h5v-2h-5m0-29h5v-2h-5m0-67h5v-1h-5m0-60h5v-2h-5m0-2h5v-2h-5m0-12h5v-2h-5m0-2h5v-2h-5m5 694h5v-2h-5m0-241h5v-2h-5m0-68h5v-2h-5m0-42h5v-2h-5m0-166h5v-2h-5m0-73h5v-1h-5m0-26h5v-1h-5m0-6h5v-2h-5m0-2h5v-1h-5m0-15h5v-2h-5m0-23h5v-2h-5m5 690h6v-2h-6m0-16h6v-2h-6m0-14h6v-2h-6m0-62h6v-2h-6m0-1h6v-6h-6m0-7h6v-2h-6m0-7h6v-2h-6m0-18h6v-2h-6m0-27h6v-2h-6m0-7h6v-2h-6m0-5h6v-2h-6m0-15h6v-1h-6m0-6h6v-2h-6m0-87h6v-1h-6m0-142h6v-2h-6m0-226h6v-2h-6m6 491h5v-2h-5m0-127h5v-1h-5m0-27h5v-2h-5m0-49h5v-2h-5m0-27h5v-2h-5m0-20h5v-2h-5m0-30h5v-2h-5m0-109h5v-2h-5m0-43h5v-2h-5m0-33h5v-1h-5m0-33h5v-2h-5m0-2h5v-1h-5m5 704h6v-2h-6m0-3h6v-2h-6m0-140h6v-3h-6m0-17h6v-1h-6m0-8h6v-1h-6m0-6h6v-2h-6m0-25h6v-2h-6m0-14h6v-2h-6m0-42h6v-2h-6m0-32h6v-2h-6m0-4h6v-2h-6m0-43h6v-2h-6m0-130h6v-2h-6m0-78h6v-2h-6m0-21h6v-4h-6m0-15h6v-1h-6m0-18h6v-2h-6m0-24h6v-2h-6m0-3h6v-2h-6m0-11h6v-2h-6m6 636h5v-2h-5m0-27h5v-2h-5m0-23h5v-2h-5m0-4h5v-2h-5m0-20h5v-1h-5m0-38h5v-2h-5m0-9h5v-2h-5m0-76h5v-2h-5m0-114h5v-2h-5m0-3h5v-2h-5m0-2h5v-2h-5m0-34h5v-2h-5m0-22h5v-2h-5m0-87h5v-1h-5m0-9h5v-4h-5m0-2h5v-2h-5m0-105h5v-2h-5m0-54h5v-2h-5m5 708h5v-3h-5m0-96h5v-2h-5m0-9h5v-2h-5m0-80h5v-1h-5m0-9h5v-2h-5m0-17h5v-1h-5m0-4h5v-2h-5m0-20h5v-1h-5m0-124h5v-1h-5m0-22h5v-2h-5m0-56h5v-2h-5m0-4h5v-1h-5m0-69h5v-2h-5m0-49h5v-2h-5m0-5h5v-4h-5m0-22h5v-1h-5m0-11h5v-2h-5m0-4h5v-1h-5m0-6h5v-2h-5m0-16h5v-2h-5m0-23h5v-2h-5m0-15h5v-1h-5m0-2h5v-2h-5m5 695h6v-1h-6m0-124h6v-1h-6m0-13h6v-2h-6m0-63h6v-2h-6m0-15h6v-3h-6m0-22h6v-2h-6m0-23h6v-4h-6m0-42h6v-1h-6m0-133h6v-1h-6m0-9h6v-2h-6m0-15h6v-2h-6m0-10h6v-2h-6m0-6h6v-3h-6m0-4h6v-2h-6m0-9h6v-2h-6m0-9h6v-1h-6m0-46h6v-2h-6m0-5h6v-2h-6m0-5h6v-2h-6m0-2h6v-2h-6m0-56h6v-2h-6m0-14h6v-2h-6m0-16h6v-2h-6m0-11h6v-2h-6m6 707h5v-2h-5m0-73h5v-1h-5m0-4h5v-2h-5m0-61h5v-2h-5m0-343h5v-1h-5m0-102h5v-2h-5m0-5h5v-2h-5m0-99h5v-4h-5m5 648h6v-2h-6m0-47h6v-1h-6m0-62h6v-2h-6m0-174h6v-1h-6m0-84h6v-2h-6m0-217h6v-2h-6m0-2h6v-1h-6m6 648h5v-2h-5m0-141h5v-2h-5m0-43h5v-2h-5m0-82h5v-1h-5m0-19h5v-1h-5m0-40h5v-2h-5m0-47h5v-2h-5m0-208h5v-2h-5m0-80h5v-3h-5m0-2h5v-2h-5m0-13h5v-1h-5m5 706h5v-2h-5m0-148h5v-2h-5m0-176h5v-2h-5m0-27h5v-2h-5m0-152h5v-2h-5m0-43h5v-2h-5m0-9h5v-2h-5m0-92h5v-2h-5m0-29h5v-2h-5m0-5h5v-2h-5m5 692h6v-2h-6m0-16h6v-2h-6m0-9h6v-2h-6m0-7h6v-2h-6m0-7h6v-2h-6m0-27h6v-2h-6m0-36h6v-2h-6m0-40h6v-2h-6m0-103h6v-2h-6m0-280h6v-2h-6m0-145h6v-2h-6m6 681h5v-2h-5m0-42h5v-1h-5m0-6h5v-2h-5m0-3h5v-2h-5m0-7h5v-2h-5m0-149h5v-1h-5m0-47h5v-2h-5m0-76h5v-2h-5m0-15h5v-1h-5m0-80h5v-2h-5m0-7h5v-2h-5m0-206h5v-2h-5m0-13h5v-2h-5m5 687h5v-2h-5m0-122h5v-1h-5m0-191h5v-1h-5m0-18h5v-2h-5m0-60h5v-4h-5m0-58h5v-3h-5m0-6h5v-1h-5m0-6h5v-3h-5m0-28h5v-1h-5m0-2h5v-2h-5m0-2h5v-2h-5m0-54h5v-2h-5m0-81h5v-2h-5m0-16h5v-2h-5m0-8h5v-1h-5m0-2h5v-2h-5m5 661h6v-2h-6m0-20h6v-1h-6m0-22h6v-2h-6m0-34h6v-2h-6m0-11h6v-2h-6m0-226h6v-2h-6m0-4h6v-2h-6m0-47h6v-1h-6m0-67h6v-2h-6m0-6h6v-1h-6m0-37h6v-2h-6m0-14h6v-2h-6m0-99h6v-4h-6m0-31h6v-2h-6m6 558h5v-2h-5m0-203h5v-1h-5m0-265h5v-2h-5m5 560h6v-2h-6m0-2h6v-3h-6m0-67h6v-4h-6m0-78h6v-1h-6m0-2h6v-2h-6m0-63h6v-2h-6m0-37h6v-1h-6m0-4h6v-4h-6m0-36h6v-2h-6m0-20h6v-1h-6m0-2h6v-2h-6m0-34h6v-2h-6m0-36h6v-2h-6m0-4h6v-2h-6m0-3h6v-2h-6m0-36h6v-2h-6m0-35h6v-1h-6m0-8h6v-1h-6m0-18h6v-2h-6m0-11h6v-2h-6m0-27h6v-2h-6m0-2h6v-2h-6m0-20h6v-3h-6m0-4h6v-2h-6m0-7h6v-2h-6m0-21h6v-2h-6m0-42h6v-2h-6m6 690h5v-3h-5m0-29h5v-2h-5m0-114h5v-2h-5m0-16h5v-2h-5m0-27h5v-2h-5m0-94h5v-2h-5m0-18h5v-2h-5m0-67h5v-4h-5m0-5h5v-2h-5m0-98h5v-1h-5m0-8h5v-1h-5m0-122h5v-2h-5m0-7h5v-2h-5m0-12h5v-2h-5m0-42h5v-2h-5m0-5h5v-4h-5m5 689h5v-2h-5m0-13h5v-2h-5m0-387h5v-2h-5m0-42h5v-2h-5m0-150h5v-2h-5m5 627h6v-2h-6m0-18h6v-2h-6m0-43h6v-2h-6m0-38h6v-2h-6m0-114h6v-2h-6m0-11h6v-2h-6m0-21h6v-2h-6m0-18h6v-2h-6m0-11h6v-2h-6m0-110h6v-2h-6m0-49h6v-2h-6m0-9h6v-2h-6m0-30h6v-2h-6m0-9h6v-4h-6m0-22h6v-1h-6m0-9h6v-2h-6m0-22h6v-4h-6m0-25h6v-2h-6m0-114h6v-2h-6m6 703h5v-2h-5m0-150h5v-2h-5m0-4h5v-1h-5m0-254h5v-2h-5m0-18h5v-2h-5m0-208h5v-2h-5m5 629h6v-2h-6m0-150h6v-2h-6m0-2h6v-2h-6m0-14h6v-2h-6m0-69h6v-2h-6m0-34h6v-2h-6m0-38h6v-2h-6m0-14h6v-2h-6m0-67h6v-2h-6m0-52h6v-4h-6m0-24h6v-1h-6m0-26h6v-2h-6m0-54h6v-2h-6m0-16h6v-2h-6m0-27h6v-2h-6m0-5h6v-2h-6m0-6h6v-1h-6m0-11h6v-2h-6m0-7h6v-2h-6m6 634h5v-2h-5m0-36h5v-2h-5m0-140h5v-1h-5m0-13h5v-2h-5m0-36h5v-2h-5m0-63h5v-2h-5m0-25h5v-2h-5m0-18h5v-2h-5m0-33h5v-2h-5m0-1h5v-4h-5m0-56h5v-2h-5m0-29h5v-4h-5m0-56h5v-3h-5m0-22h5v-2h-5m0-3h5v-2h-5m0-17h5v-1h-5m0-35h5v-2h-5m0-5h5v-2h-5m0-9h5v-2h-5m0-14h5v-2h-5m5 701h5v-2h-5m0-89h5v-2h-5m0-153h5v-2h-5m0-13h5v-2h-5m0-112h5v-2h-5m0-29h5v-2h-5m0-14h5v-2h-5m0-58h5v-2h-5m0-20h5v-1h-5m0-31h5v-2h-5m0-83h5v-2h-5m0-29h5v-4h-5m0-38h5v-2h-5m5 683h6v-2h-6m0-5h6v-2h-6m0-103h6v-2h-6m0-293h6v-2h-6m0-11h6v-2h-6m0-2h6v-1h-6m0-42h6v-2h-6m0-29h6v-2h-6m0-18h6v-2h-6m0-27h6v-2h-6m0-3h6v-2h-6m0-107h6v-2h-6m0-18h6v-2h-6m6 683h5v-2h-5m0-146h5v-2h-5m0-78h5v-2h-5m0-5h5v-2h-5m0-7h5v-2h-5m0-40h5v-2h-5m0-34h5v-2h-5m0-60h5v-2h-5m0-58h5v-1h-5m0-31h5v-2h-5m0-14h5v-2h-5m0-73h5v-1h-5m0-124h5v-1h-5m5 650h6v-2h-6m0-71h6v-2h-6m0-18h6v-1h-6m0-4h6v-2h-6m0-76h6v-2h-6m0-81h6v-2h-6m0-15h6v-1h-6m0-18h6v-2h-6m0-35h6v-2h-6m0-9h6v-1h-6m0-15h6v-2h-6m0-34h6v-2h-6m0-34h6v-2h-6m0-49h6v-2h-6m0-12h6v-2h-6m0-33h6v-2h-6m0-14h6v-2h-6m0-5h6v-2h-6m0-36h6v-2h-6m6 342h5v-2h-5m0-177h5v-2h-5m0-11h5v-2h-5m0-125h5v-2h-5m0-56h5v-2h-5m0-10h5v-2h-5m5 688h5v-2h-5m0-261h5v-1h-5m0-82h5v-2h-5m0-195h5v-4h-5m0-36h5v-2h-5m0-38h5v-2h-5m0-2h5v-1h-5m5 639h6v-2h-6m0-27h6v-2h-6m0-138h6v-1h-6m0-2h6v-2h-6m0-16h6v-2h-6m0-24h6v-1h-6m0-125h6v-2h-6m0-2h6v-2h-6m0-3h6v-2h-6m0-20h6v-2h-6m0-13h6v-2h-6m0-23h6v-2h-6m0-7h6v-2h-6m0-34h6v-2h-6m0-16h6v-2h-6m0-7h6v-2h-6m0-158h6v-2h-6m0-32h6v-2h-6m0-25h6v-4h-6m6 632h5v-2h-5m0-18h5v-2h-5m0-99h5v-2h-5m0-145h5v-2h-5m0-116h5v-2h-5m0-161h5v-2h-5m0-76h5v-1h-5m5 621h6v-4h-6m0-11h6v-2h-6m0-16h6v-2h-6m0-163h6v-1h-6m0-19h6v-1h-6m0-22h6v-2h-6m0-9h6v-4h-6m0-14h6v-2h-6m0-22h6v-1h-6m0-78h6v-2h-6m0-15h6v-1h-6m0-91h6v-2h-6m0-5h6v-2h-6m0-67h6v-2h-6m0-9h6v-2h-6m0-2h6v-1h-6m0-31h6v-2h-6m6 538h5v-2h-5m0-4h5v-1h-5m0-125h5v-2h-5m0-143h5v-2h-5m0-80h5v-1h-5m0-57h5v-1h-5m0-73h5v-2h-5m0-14h5v-2h-5m0-16h5v-2h-5m0-11h5v-2h-5m0-18h5v-2h-5m5 611h5v-2h-5m0-24h5v-2h-5m0-72h5v-2h-5m0-29h5v-2h-5m0-125h5v-1h-5m0-51h5v-2h-5m0-250h5v-2h-5m5 658h6v-2h-6m0-80h6v-2h-6m0-277h6v-1h-6m0-136h6v-2h-6m0-92h6v-2h-6m6 592h5v-2h-5m0-7h5v-2h-5m0-16h5v-2h-5m0-156h5v-2h-5m0-67h5v-1h-5m0-2h5v-2h-5m0-98h5v-2h-5m0-30h5v-2h-5m0-56h5v-2h-5m5 438h6v-2h-6m0-112h6v-2h-6m0-3h6v-2h-6m0-17h6v-1h-6m0-134h6v-2h-6m0-20h6v-2h-6m0-5h6v-2h-6m0-24h6v-1h-6m0-10h6v-1h-6m0-37h6v-1h-6m0-114h6v-2h-6m0-17h6v-1h-6m0-8h6v-1h-6m0-15h6v-2h-6m0-7h6v-2h-6m0-2h6v-1h-6m0-6h6v-2h-6m0-3h6v-2h-6m0-80h6v-2h-6m0-29h6v-1h-6m0-6h6v-2h-6m6 696h5v-2h-5m0-4h5v-3h-5m0-46h5v-1h-5m0-91h5v-2h-5m0-16h5v-2h-5m0-85h5v-2h-5m0-20h5v-1h-5m0-73h5v-2h-5m0-116h5v-1h-5m0-163h5v-2h-5m0-69h5v-4h-5m5 692h5v-2h-5m0-528h5v-2h-5m0-6h5v-2h-5m0-34h5v-2h-5m0-7h5v-2h-5m0-14h5v-2h-5m0-13h5v-2h-5m0-9h5v-1h-5m5 641h6v-2h-6m0-2h6v-4h-6m0-38h6v-1h-6m0-24h6v-2h-6m0-121h6v-2h-6m0-31h6v-2h-6m0-9h6v-1h-6m0-20h6v-2h-6m0-9h6v-2h-6m0-15h6v-1h-6m0-13h6v-2h-6m0-45h6v-2h-6m0-33h6v-1h-6m0-40h6v-2h-6m0-40h6v-2h-6m0-170h6v-2h-6m0-3h6v-2h-6m0-7h6v-2h-6m6 358h5v-1h-5m0-37h5v-1h-5m0-51h5v-2h-5m0-103h5v-2h-5m0-58h5v-2h-5m0-12h5v-2h-5m0-33h5v-2h-5m0-72h5v-4h-5m5 678h6v-2h-6m0-147h6v-2h-6m0-132h6v-2h-6m0-20h6v-1h-6m0-19h6v-1h-6m0-118h6v-2h-6m0-11h6v-2h-6m0-14h6v-4h-6m0-23h6v-2h-6m0-11h6v-2h-6m0-61h6v-2h-6m0-29h6v-2h-6m0-51h6v-1h-6m6 494h5v-2h-5m0-407h5v-2h-5m0-27h5v-2h-5m0-7h5v-2h-5m0-49h5v-2h-5m0-18h5v-2h-5m5 676h5v-2h-5m0-22h5v-2h-5m5 35h6v-2h-6m0-40h6v-2h-6m0-121h6v-2h-6m0-52h6v-2h-6m0-13h6v-2h-6m0-12h6v-2h-6m0-6h6v-1h-6m0-75h6v-3h-6m0-26h6v-1h-6m0-17h6v-2h-6m0-19h6v-2h-6m0-40h6v-2h-6m0-34h6v-2h-6m0-2h6v-2h-6m0-11h6v-3h-6m0-36h6v-2h-6m0-36h6v-2h-6m0-56h6v-2h-6m0-20h6v-2h-6m6 494h5v-1h-5m0-129h5v-2h-5m0-90h5v-2h-5m0-67h5v-2h-5m0-13h5v-1h-5m0-11h5v-2h-5m0-33h5v-2h-5m0-7h5v-3h-5m0-15h5v-3h-5m0-31h5v-2h-5m0-63h5v-2h-5m0-11h5v-2h-5m0-14h5v-2h-5m0-13h5v-2h-5m5 620h6v-2h-6m0-31h6v-2h-6m0-38h6v-2h-6m0-16h6v-2h-6m0-175h6v-2h-6m0-15h6v-2h-6m0-99h6v-2h-6m0-152h6v-4h-6m6 388h5v-2h-5m0-49h5v-2h-5m0-47h5v-2h-5m0-52h5v-2h-5m0-20h5v-2h-5m0-16h5v-2h-5m0-9h5v-2h-5m0-126h5v-2h-5m0-27h5v-2h-5m0-7h5v-2h-5m0-36h5v-2h-5m0-11h5v-2h-5m0-33h5v-1h-5m0-2h5v-2h-5m0-13h5v-1h-5m0-2h5v-2h-5m5 371h5v-2h-5m0-5h5v-4h-5m0-27h5v-2h-5m0-213h5v-2h-5m5 549h6v-2h-6m0-9h6v-2h-6m0-127h6v-2h-6m0-108h6v-2h-6m0-6h6v-1h-6m0-24h6v-2h-6m0-7h6v-2h-6m0-40h6v-1h-6m0-20h6v-2h-6m0-24h6v-2h-6m0-5h6v-2h-6m0-52h6v-2h-6m0-2h6v-2h-6m0-88h6v-2h-6m0-76h6v-2h-6m0-18h6v-2h-6m6 654h5v-2h-5m0-116h5v-2h-5m0-52h5v-2h-5m0-138h5v-2h-5m0-99h5v-2h-5m0-158h5v-1h-5m0-109h5v-2h-5m5 462h6v-2h-6m0-90h6v-2h-6m6 159h5v-2h-5m0-56h5v-2h-5m0-239h5v-1h-5m0-24h5v-2h-5m0-52h5v-2h-5m0-98h5v-2h-5m0-14h5v-2h-5m5 670h5v-2h-5m0-192h5v-2h-5m0-16h5v-2h-5m0-9h5v-2h-5m0-25h5v-2h-5m0-146h5v-2h-5m0-295h5v-2h-5m5 699h6v-2h-6m0-275h6v-2h-6m0-9h6v-2h-6m0-22h6v-2h-6m0-5h6v-2h-6m0-23h6v-2h-6m0-4h6v-2h-6m0-72h6v-2h-6m0-34h6v-2h-6m0-47h6v-2h-6m0-7h6v-2h-6m0-33h6v-1h-6m0-15h6v-2h-6m0-23h6v-4h-6m0-18h6v-2h-6m0-11h6v-1h-6m0-6h6v-2h-6m11 558h6v-2h-6m0-78h6v-1h-6m0-40h6v-2h-6m0-2h6v-2h-6m0-18h6v-2h-6m0-16h6v-2h-6m0-59h6v-2h-6m0-38h6v-2h-6m0-6h6v-1h-6m0-6h6v-2h-6m0-9h6v-1h-6m0-6h6v-2h-6m0-83h6v-2h-6m0-11h6v-3h-6m0-47h6v-2h-6m0-9h6v-2h-6m0-4h6v-1h-6m0-46h6v-2h-6m0-10h6v-2h-6m0-15h6v-2h-6m0-9h6v-1h-6m11 530h5v-2h-5m0-7h5v-2h-5m0-38h5v-2h-5m0-34h5v-2h-5m0-2h5v-1h-5m0-11h5v-2h-5m0-101h5v-2h-5m0-78h5v-2h-5m0-263h5v-1h-5m0-22h5v-2h-5m11 590h5v-1h-5m0-8h5v-1h-5m0-4h5v-2h-5m0-105h5v-2h-5m0-56h5v-2h-5m0-1h5v-2h-5m0-51h5v-2h-5m0-20h5v-1h-5m0-69h5v-2h-5m0-31h5v-4h-5m0-18h5v-1h-5m0-82h5v-2h-5m0-12h5v-2h-5m0-2h5v-2h-5m11 504h5v-2h-5m0-35h5v-1h-5m0-314h5v-2h-5m0-43h5v-2h-5m0-40h5v-1h-5m0-71h5v-2h-5m0-4h5v-1h-5m0-6h5v-2h-5m0-41h5v-2h-5m0-44h5v-1h-5m0-18h5v-2h-5m0-4h5v-2h-5m10 611h6v-2h-6m0-58h6v-2h-6m0-18h6v-2h-6m0-141h6v-2h-6m0-11h6v-2h-6m0-139h6v-2h-6m0-56h6v-2h-6m0-27h6v-2h-6m11 545h6v-1h-6m0-13h6v-2h-6m0-98h6v-2h-6m0-34h6v-2h-6m0-41h6v-2h-6m0-6h6v-2h-6m0-41h6v-2h-6m0-22h6v-2h-6m0-16h6v-2h-6m0-29h6v-1h-6m0-60h6v-2h-6m0-49h6v-2h-6m0-41h6v-2h-6m0-13h6v-2h-6m0-21h6v-2h-6m0-147h6v-2h-6m0-21h6v-2h-6m11 643h5v-2h-5m0-15h5v-1h-5m0-6h5v-2h-5m0-16h5v-2h-5m0-54h5v-2h-5m0-43h5v-2h-5m0-84h5v-1h-5m27 233h5v-2h-5m0-181h5v-1h-5m0-49h5v-2h-5m0-83h5v-2h-5m0-8h5v-1h-5m0-37h5v-1h-5m0-80h5v-2h-5m0-9h5v-2h-5m0-23h5v-2h-5m0-29h5v-2h-5m0-92h5v-2h-5m0-38h5v-2h-5m27 652h5v-2h-5m0-110h5v-2h-5m0-58h5v-2h-5m0-60h5v-1h-5m0-154h5v-2h-5m0-16h5v-2h-5m0-45h5v-2h-5m0-102h5v-2h-5m0-39h5v-2h-5m27 487h5v-2h-5m0-118h5v-1h-5m0-2h5v-2h-5m0-2h5v-2h-5m0-23h5v-2h-5m0-23h5v-2h-5m0-33h5v-2h-5m0-67h5v-2h-5m0-5h5v-2h-5m0-23h5v-4h-5m0-36h5v-2h-5m0-107h5v-2h-5m0-30h5v-2h-5m0-17h5v-1h-5m27 583h5v-2h-5m0-18h5v-2h-5m0-237h5v-2h-5m0-230h5v-2h-5m0-69h5v-1h-5m27 617h5v-2h-5m0-23h5v-2h-5m0-89h5v-2h-5m0-47h5v-1h-5m0-26h5v-2h-5m0-21h5v-2h-5m0-89h5v-2h-5m0-69h5v-1h-5m0-142h5v-1h-5m0-134h5v-2h-5m27 646h5v-3h-5m0-9h5v-2h-5m0-7h5v-2h-5m0-49h5v-4h-5m0-52h5v-2h-5m0-2h5v-2h-5m0-23h5v-2h-5m0-82h5v-1h-5m0-9h5v-2h-5m0-35h5v-1h-5m0-53h5v-2h-5m0-23h5v-2h-5m0-62h5v-2h-5m0-23h5v-2h-5m0-72h5v-2h-5m0-22h5v-2h-5"/>
<path fill="#472a79" d="M124 722h6v-2h-6m0-56h6v-2h-6m0-2h6v-1h-6m0-160h6v-2h-6m0-38h6v-1h-6m0-6h6v-2h-6m0-3h6v-2h-6m0-18h6v-2h-6m0-20h6v-2h-6m0-5h6v-4h-6m0-3h6v-2h-6m0-60h6v-2h-6m0-63h6v-2h-6m0-51h6v-3h-6m0-40h6v-2h-6m0-60h6v-2h-6m6 417h5v-2h-5m0-94h5v-2h-5m0-150h5v-2h-5m0-7h5v-2h-5m0-5h5v-2h-5m5 521h5v-1h-5m0-299h5v-2h-5m0-284h5v-2h-5m0-6h5v-2h-5m5 288h6v-1h-6m0-105h6v-2h-6m0-13h6v-4h-6m0-9h6v-1h-6m0-38h6v-2h-6m0-85h6v-2h-6m0-120h6v-1h-6m6 715h5v-2h-5m0-485h5v-2h-5m0-114h5v-2h-5m0-22h5v-2h-5m0-1h5v-2h-5m0-7h5v-2h-5m0-7h5v-2h-5m0-8h5v-1h-5m0-28h5v-1h-5m5 684h6v-2h-6m0-384h6v-1h-6m0-17h6v-1h-6m0-236h6v-2h-6m6 515h5v-2h-5m0-451h5v-2h-5m0-29h5v-2h-5m0-2h5v-1h-5m0-22h5v-2h-5m0-14h5v-2h-5m0-33h5v-2h-5m5 696h5v-2h-5m5 22h6v-2h-6m6-25h5v-2h-5m0-542h5v-1h-5m0-11h5v-2h-5m5 440h6v-2h-6m0-5h6v-2h-6m0-4h6v-2h-6m0-3h6v-2h-6m0-5h6v-2h-6m0-364h6v-2h-6m0-2h6v-2h-6m6 417h5v-4h-5m0-279h5v-2h-5m5-161h5v-1h-5m0-15h5v-2h-5m5 435h6v-2h-6m0-436h6v-2h-6m0-33h6v-2h-6m0-56h6v-2h-6m6 687h5v-2h-5m0-22h5v-2h-5m0-115h5v-2h-5m0-462h5v-2h-5m0-34h5v-2h-5m5 395h6v-4h-6m0-346h6v-2h-6m0-128h6v-4h-6m6 732h5v-2h-5m0-288h5v-2h-5m0-3h5v-2h-5m0-40h5v-2h-5m0-27h5v-2h-5m0-134h5v-2h-5m0-78h5v-1h-5m0-17h5v-1h-5m0-6h5v-2h-5m0-12h5v-4h-5m0-67h5v-2h-5m5 627h5v-2h-5m0-13h5v-2h-5m0-30h5v-2h-5m0-6h5v-3h-5m0-45h5v-2h-5m0-18h5v-2h-5m0-4h5v-2h-5m0-7h5v-2h-5m0-50h5v-6h-5m0-9h5v-2h-5m0-20h5v-1h-5m0-28h5v-5h-5m0-56h5v-2h-5m0-18h5v-2h-5m0-2h5v-2h-5m0-1h5v-2h-5m0-6h5v-1h-5m0-47h5v-2h-5m0-11h5v-2h-5m0-13h5v-1h-5m0-55h5v-3h-5m0-147h5v-2h-5m0-11h5v-2h-5m5 631h6v-2h-6m0-16h6v-2h-6m0-165h6v-5h-6m0-6h6v-2h-6m6 219h5v-1h-5m0-312h5v-2h-5m0-7h5v-2h-5m0-3h5v-2h-5m0-33h5v-2h-5m0-126h5v-2h-5m0-85h5v-2h-5m0-22h5v-2h-5m0-3h5v-2h-5m0-7h5v-2h-5m0-31h5v-2h-5m5 76h6v-2h-6m0-70h6v-2h-6m6 522h5v-2h-5m0-419h5v-1h-5m0-26h5v-2h-5m0-5h5v-2h-5m0-23h5v-2h-5m5 610h5v-2h-5m0-126h5v-4h-5m0-2h5v-2h-5m0-1h5v-2h-5m0-266h5v-2h-5m0-20h5v-2h-5m0-4h5v-1h-5m0-207h5v-2h-5m0-9h5v-2h-5m5 488h6v-2h-6m0-129h6v-2h-6m0-25h6v-2h-6m0-45h6v-2h-6m0-132h6v-2h-6m0-110h6v-2h-6m6 652h5v-2h-5m0-188h5v-2h-5m0-44h5v-1h-5m0-238h5v-1h-5m0-58h5v-2h-5m0-4h5v-2h-5m0-3h5v-4h-5m0-2h5v-2h-5m0-10h5v-2h-5m0-4h5v-2h-5m0-1h5v-2h-5m0-8h5v-3h-5m0-62h5v-2h-5m0-27h5v-2h-5m0-3h5v-2h-5m5 688h6v-2h-6m0-345h6v-2h-6m0-17h6v-1h-6m0-19h6v-1h-6m0-18h6v-2h-6m0-103h6v-2h-6m0-46h6v-1h-6m0-44h6v-2h-6m6 609h5v-2h-5m0-69h5v-2h-5m0-9h5v-1h-5m0-8h5v-2h-5m0-16h5v-2h-5m0-16h5v-2h-5m0-5h5v-4h-5m0-11h5v-1h-5m0-2h5v-2h-5m0-34h5v-2h-5m0-297h5v-2h-5m10 427h6v-2h-6m0-25h6v-2h-6m0-11h6v-3h-6m0-24h6v-3h-6m0-24h6v-2h-6m0-5h6v-2h-6m0-38h6v-2h-6m0-22h6v-1h-6m0-27h6v-2h-6m0-6h6v-2h-6m0-29h6v-1h-6m0-33h6v-2h-6m0-18h6v-2h-6m0-16h6v-2h-6m0-96h6v-2h-6m0-65h6v-2h-6m0-81h6v-2h-6m6 565h5v-2h-5m0-72h5v-2h-5m0-11h5v-2h-5m0-114h5v-1h-5m0-4h5v-2h-5m0-9h5v-4h-5m0-32h5v-4h-5m0-27h5v-2h-5m0-166h5v-2h-5m0-4h5v-2h-5m0-7h5v-2h-5m0-32h5v-2h-5m0-58h5v-2h-5m0-9h5v-4h-5m5 622h6v-2h-6m0-257h6v-2h-6m0-24h6v-2h-6m0-54h6v-2h-6m0-3h6v-2h-6m0-40h6v-2h-6m0-79h6v-2h-6m0-26h6v-1h-6m0-78h6v-2h-6m0-7h6v-2h-6m0-24h6v-2h-6m0-67h6v-1h-6m0-6h6v-3h-6m6 684h5v-2h-5m0-21h5v-2h-5m0-78h5v-2h-5m0-18h5v-2h-5m0-11h5v-1h-5m0-67h5v-2h-5m0-18h5v-2h-5m0-22h5v-2h-5m0-85h5v-2h-5m0-7h5v-2h-5m0-351h5v-2h-5m5 703h5v-2h-5m0-49h5v-5h-5m0-26h5v-2h-5m0-1h5v-2h-5m0-15h5v-3h-5m0-9h5v-2h-5m0-13h5v-2h-5m0-1h5v-2h-5m0-17h5v-3h-5m0-6h5v-3h-5m0-15h5v-1h-5m0-17h5v-2h-5m0-63h5v-4h-5m0-14h5v-2h-5m0-14h5v-2h-5m0-18h5v-2h-5m5 243h6v-2h-6m0-22h6v-2h-6m0-3h6v-2h-6m0-2h6v-2h-6m0-424h6v-1h-6m0-8h6v-1h-6m0-19h6v-1h-6m0-102h6v-2h-6m0-3h6v-2h-6m6 623h5v-2h-5m0-9h5v-4h-5m0-29h5v-3h-5m0-2h5v-2h-5m0-22h5v-5h-5m0-4h5v-1h-5m0-6h5v-2h-5m0-7h5v-4h-5m0-21h5v-4h-5m0-3h5v-4h-5m0-2h5v-2h-5m0-3h5v-2h-5m0-2h5v-2h-5m0-12h5v-4h-5m0-11h5v-4h-5m0-32h5v-2h-5m0-29h5v-2h-5m0-7h5v-2h-5m0-2h5v-1h-5m0-8h5v-2h-5m0-38h5v-1h-5m0-6h5v-2h-5m0-21h5v-2h-5m0-11h5v-2h-5m0-22h5v-1h-5m0-13h5v-2h-5m0-11h5v-2h-5m0-83h5v-2h-5m0-56h5v-2h-5m0-5h5v-2h-5m0-11h5v-2h-5m0-1h5v-2h-5m0-35h5v-1h-5m0-2h5v-4h-5m0-3h5v-4h-5m0-5h5v-2h-5m0-4h5v-2h-5m0-2h5v-5h-5m0-4h5v-1h-5m0-2h5v-2h-5m0-11h5v-2h-5m5 413h6v-2h-6m6 207h5v-2h-5m0-7h5v-2h-5m0-11h5v-2h-5m0-116h5v-1h-5m0-95h5v-1h-5m0-8h5v-1h-5m0-6h5v-2h-5m0-3h5v-2h-5m0-6h5v-1h-5m0-136h5v-2h-5m0-92h5v-2h-5m0-6h5v-1h-5m0-9h5v-2h-5m0-8h5v-1h-5m0-9h5v-2h-5m5 92h5v-2h-5m5 444h6v-2h-6m0-36h6v-2h-6m0-58h6v-2h-6m0-137h6v-2h-6m0-65h6v-2h-6m0-2h6v-2h-6m0-5h6v-2h-6m0-132h6v-2h-6m6 543h5v-1h-5m0-507h5v-2h-5m0-8h5v-1h-5m5 519h6v-1h-6m0-283h6v-2h-6m0-18h6v-3h-6m0-17h6v-2h-6m0-7h6v-2h-6m0-90h6v-2h-6m0-4h6v-1h-6m0-49h6v-2h-6m0-27h6v-2h-6m0-25h6v-2h-6m0-111h6v-2h-6m0-27h6v-3h-6m0-6h6v-2h-6m0-1h6v-2h-6m6 511h5v-2h-5m0-8h5v-1h-5m0-29h5v-2h-5m0-199h5v-2h-5m0-6h5v-1h-5m0-9h5v-2h-5m0-120h5v-2h-5m0-7h5v-2h-5m0-25h5v-2h-5m5 435h5v-2h-5m0-14h5v-2h-5m0-11h5v-2h-5m0-2h5v-2h-5m0-208h5v-2h-5m0-5h5v-2h-5m0-61h5v-2h-5m0-80h5v-2h-5m0-14h5v-2h-5m0-83h5v-2h-5m0-29h5v-2h-5m5 357h6v-2h-6m0-181h6v-2h-6m0-52h6v-2h-6m0-31h6v-2h-6m0-4h6v-1h-6m0-17h6v-1h-6m0-17h6v-2h-6m6 515h5v-2h-5m0-33h5v-1h-5m0-33h5v-2h-5m0-76h5v-4h-5m0-12h5v-2h-5m0-2h5v-2h-5m0-12h5v-2h-5m0-22h5v-2h-5m0-14h5v-2h-5m0-4h5v-1h-5m0-37h5v-1h-5m0-102h5v-2h-5m0-34h5v-2h-5m0-34h5v-2h-5m0-13h5v-2h-5m0-3h5v-2h-5m0-31h5v-2h-5m0-1h5v-2h-5m0-2h5v-2h-5m5 567h6v-2h-6m0-11h6v-2h-6m0-371h6v-2h-6m0-16h6v-3h-6m0-2h6v-2h-6m0-107h6v-2h-6m6 511h5v-2h-5m0-578h5v-1h-5m5 199h5v-2h-5m0-5h5v-2h-5m0-9h5v-2h-5m5 483h6v-1h-6m0-118h6v-2h-6m0-110h6v-2h-6m0-7h6v-2h-6m0-85h6v-2h-6m0-27h6v-2h-6m0-149h6v-1h-6m0-15h6v-2h-6m0-29h6v-2h-6m0-5h6v-2h-6m6 259h5v-2h-5m0-65h5v-2h-5m0-61h5v-2h-5m0-9h5v-2h-5m0-11h5v-2h-5m0-172h5v-1h-5m0-19h5v-1h-5m0-22h5v-2h-5m5 596h6v-2h-6m0-2h6v-2h-6m0-347h6v-2h-6m0-25h6v-2h-6m0-9h6v-2h-6m0-4h6v-3h-6m0-185h6v-2h-6m6 632h5v-2h-5m0-58h5v-1h-5m0-26h5v-2h-5m0-228h5v-2h-5m0-30h5v-4h-5m0-23h5v-2h-5m0-91h5v-2h-5m0-12h5v-2h-5m0-145h5v-4h-5m5 359h5v-2h-5m0-166h5v-2h-5m0-143h5v-2h-5m5 607h6v-2h-6m0-4h6v-2h-6m0-9h6v-2h-6m0-7h6v-2h-6m0-5h6v-2h-6m0-5h6v-2h-6m0-36h6v-2h-6m0-31h6v-2h-6m0-23h6v-2h-6m0-4h6v-2h-6m0-3h6v-2h-6m0-2h6v-2h-6m0-1h6v-2h-6m0-27h6v-2h-6m0-18h6v-2h-6m0-221h6v-2h-6m0-74h6v-2h-6m0-127h6v-2h-6m6 651h5v-2h-5m0-2h5v-2h-5m0-177h5v-2h-5m0-91h5v-1h-5m0-144h5v-1h-5m0-165h5v-2h-5m0-5h5v-2h-5m0-64h5v-1h-5m5 626h6v-2h-6m0-63h6v-2h-6m0-12h6v-4h-6m0-6h6v-1h-6m0-109h6v-2h-6m0-52h6v-2h-6m0-210h6v-2h-6m0-51h6v-2h-6m6 551h5v-2h-5m0-20h5v-2h-5m0-161h5v-3h-5m0-69h5v-2h-5m0-121h5v-2h-5m0-174h5v-2h-5m0-49h5v-2h-5m5 607h5v-2h-5m0-237h5v-2h-5m0-50h5v-2h-5m0-22h5v-4h-5m0-94h5v-2h-5m0-7h5v-2h-5m0-30h5v-2h-5m0-55h5v-1h-5m0-6h5v-2h-5m0-12h5v-2h-5m0-25h5v-2h-5m0-15h5v-2h-5m0-7h5v-2h-5m0-72h5v-2h-5m0-36h5v-2h-5m5 692h6v-2h-6m0-51h6v-1h-6m0-210h6v-2h-6m0-107h6v-2h-6m0-74h6v-2h-6m0-24h6v-1h-6m0-158h6v-2h-6m6 562h5v-2h-5m0-4h5v-2h-5m0-130h5v-2h-5m0-175h5v-2h-5m5 405h6v-1h-6m0-239h6v-2h-6m0-314h6v-1h-6m6 478h5v-2h-5m0-183h5v-2h-5m0-127h5v-1h-5m0-64h5v-2h-5m0-29h5v-1h-5m0-138h5v-2h-5m0-38h5v-2h-5m0-18h5v-2h-5m5 366h5v-2h-5m0-201h5v-1h-5m0-78h5v-2h-5m5 607h6v-2h-6m0-64h6v-1h-6m0-47h6v-2h-6m0-56h6v-2h-6m0-13h6v-2h-6m0-221h6v-1h-6m0-2h6v-2h-6m0-158h6v-1h-6m0-26h6v-2h-6m0-38h6v-3h-6m0-2h6v-2h-6m6 645h5v-2h-5m0-56h5v-2h-5m0-4h5v-1h-5m0-296h5v-1h-5m0-4h5v-2h-5m0-195h5v-2h-5m5 413h5v-2h-5m0-89h5v-2h-5m0-215h5v-2h-5m0-22h5v-2h-5m0-77h5v-2h-5m0-4h5v-2h-5m0-9h5v-2h-5m5 564h6v-2h-6m0-136h6v-2h-6m0-29h6v-2h-6m0-226h6v-4h-6m0-16h6v-2h-6m0-36h6v-2h-6m0-18h6v-2h-6m0-48h6v-2h-6m6 548h5v-1h-5m0-446h5v-2h-5m5 446h6v-2h-6m0-27h6v-2h-6m0-118h6v-2h-6m0-57h6v-2h-6m0-31h6v-2h-6m0-51h6v-1h-6m0-20h6v-2h-6m0-44h6v-1h-6m0-20h6v-2h-6m0-31h6v-2h-6m0-45h6v-2h-6m0-11h6v-1h-6m0-37h6v-2h-6m0-54h6v-3h-6m0-37h6v-2h-6m0-50h6v-2h-6m6 661h5v-2h-5m0-116h5v-2h-5m0-36h5v-2h-5m0-74h5v-2h-5m0-141h5v-2h-5m0-11h5v-1h-5m5 5h5v-2h-5m0-105h5v-2h-5m0-23h5v-2h-5m0-150h5v-2h-5m5 670h6v-2h-6m0-85h6v-2h-6m0-291h6v-2h-6m0-27h6v-2h-6m0-40h6v-2h-6m0-11h6v-1h-6m0-140h6v-2h-6m0-21h6v-2h-6m0-53h6v-2h-6m6 531h5v-2h-5m0-146h5v-2h-5m0-9h5v-2h-5m0-210h5v-2h-5m0-33h5v-1h-5m0-31h5v-2h-5m0-100h5v-1h-5m5 706h6v-2h-6m0-7h6v-2h-6m0-96h6v-2h-6m0-114h6v-2h-6m0-59h6v-2h-6m0-31h6v-2h-6m0-61h6v-2h-6m0-78h6v-2h-6m0-31h6v-2h-6m0-30h6v-2h-6m0-33h6v-2h-6m0-1h6v-2h-6m0-102h6v-1h-6m0-28h6v-1h-6m6 635h5v-2h-5m0-16h5v-3h-5m0-243h5v-2h-5m0-18h5v-2h-5m0-87h5v-2h-5m0-16h5v-2h-5m0-18h5v-2h-5m0-97h5v-2h-5m0-67h5v-2h-5m5 634h5v-2h-5m0-13h5v-1h-5m0-321h5v-4h-5m0-61h5v-2h-5m0-33h5v-1h-5m0-91h5v-2h-5m0-60h5v-1h-5m5 523h6v-2h-6m0-101h6v-2h-6m0-183h6v-2h-6m0-32h6v-2h-6m0-118h6v-2h-6m0-5h6v-2h-6m0-107h6v-2h-6m6 448h5v-2h-5m5 159h6v-2h-6m0-38h6v-1h-6m0-6h6v-2h-6m0-70h6v-2h-6m0-42h6v-2h-6m0-277h6v-1h-6m0-37h6v-1h-6m0-57h6v-1h-6m0-6h6v-2h-6m0-3h6v-2h-6m6 306h5v-2h-5m0-310h5v-1h-5m5 422h5v-2h-5m0-368h5v-2h-5m5 354h6v-2h-6m0-15h6v-2h-6m0-1h6v-2h-6m0-51h6v-2h-6m0-87h6v-1h-6m0-19h6v-1h-6m0-71h6v-2h-6m0-45h6v-2h-6m0-107h6v-2h-6m6 402h5v-1h-5m0-40h5v-2h-5m0-444h5v-2h-5m5 678h6v-2h-6m0-49h6v-2h-6m0-271h6v-2h-6m0-22h6v-2h-6m0-29h6v-2h-6m0-28h6v-2h-6m0-116h6v-2h-6m0-51h6v-2h-6m0-1h6v-2h-6m0-11h6v-2h-6m0-34h6v-2h-6m0-44h6v-1h-6m6 677h5v-2h-5m0-284h5v-2h-5m0-92h5v-4h-5m0-165h5v-2h-5m0-86h5v-2h-5m0-18h5v-2h-5m0-18h5v-2h-5m0-18h5v-2h-5m5 511h5v-2h-5m0-297h5v-2h-5m0-49h5v-2h-5m5 107h6v-2h-6m0-94h6v-2h-6m6 515h5v-4h-5m0-244h5v-2h-5m5 271h6v-3h-6m0-2h6v-2h-6m0-45h6v-2h-6m0-13h6v-1h-6m0-169h6v-2h-6m0-137h6v-2h-6m0-121h6v-2h-6m0-4h6v-2h-6m0-18h6v-2h-6m0-14h6v-2h-6m0-60h6v-1h-6m0-48h6v-1h-6m0-11h6v-2h-6m0-4h6v-1h-6m6 664h5v-2h-5m0-3h5v-2h-5m0-143h5v-2h-5m0-22h5v-1h-5m0-24h5v-2h-5m0-99h5v-2h-5m0-181h5v-2h-5m0-140h5v-1h-5m0-60h5v-2h-5m5 302h5v-1h-5m0-76h5v-2h-5m0-76h5v-2h-5m0-56h5v-4h-5m0-49h5v-2h-5m5 587h6v-2h-6m0-197h6v-2h-6m0-25h6v-2h-6m0-25h6v-2h-6m0-4h6v-2h-6m0-20h6v-1h-6m0-13h6v-2h-6m0-3h6v-2h-6m0-55h6v-1h-6m0-13h6v-2h-6m0-18h6v-2h-6m0-90h6v-2h-6m6 295h5v-2h-5m0-27h5v-2h-5m0-58h5v-2h-5m0-324h5v-2h-5m0-1h5v-2h-5m0-24h5v-1h-5m5 570h6v-2h-6m0-348h6v-1h-6m0-22h6v-2h-6m0-31h6v-1h-6m0-64h6v-2h-6m6-58h5v-1h-5m5 202h5v-1h-5m0-209h5v-2h-5m5 674h6v-2h-6m0-157h6v-2h-6m0-27h6v-2h-6m0-49h6v-2h-6m0-97h6v-4h-6m0-13h6v-2h-6m0-226h6v-2h-6m6 239h5v-2h-5m0-152h5v-1h-5m0-46h5v-2h-5m0-34h5v-2h-5m0-43h5v-2h-5m0-2h5v-2h-5m5 136h6v-2h-6m6 500h5v-2h-5m0-132h5v-2h-5m0-1h5v-2h-5m0-11h5v-2h-5m0-384h5v-2h-5m0-32h5v-2h-5m5-116h5v-2h-5m5 578h6v-2h-6m0-89h6v-1h-6m0-174h6v-2h-6m0-9h6v-2h-6m0-11h6v-2h-6m0-177h6v-2h-6m6 581h5v-1h-5m0-375h5v-2h-5m0-179h5v-2h-5m0-9h5v-2h-5m0-40h5v-2h-5m0-9h5v-2h-5m0-21h5v-2h-5m0-4h5v-2h-5m0-14h5v-2h-5m5 228h6v-2h-6m0-77h6v-2h-6m6-129h5v-2h-5m5 522h5v-2h-5m0-101h5v-2h-5m0-13h5v-2h-5m0-30h5v-2h-5m0-2h5v-2h-5m0-16h5v-2h-5m0-11h5v-2h-5m0-65h5v-2h-5m0-268h5v-1h-5m5 385h6v-1h-6m0-17h6v-2h-6m0-54h6v-2h-6m0-114h6v-2h-6m0-39h6v-2h-6m0-114h6v-2h-6m0-16h6v-2h-6m11 626h6v-1h-6m0-15h6v-2h-6m0-2h6v-1h-6m0-8h6v-1h-6m0-22h6v-4h-6m0-90h6v-2h-6m0-35h6v-1h-6m0-47h6v-4h-6m0-145h6v-2h-6m0-7h6v-2h-6m0-18h6v-2h-6m0-85h6v-2h-6m0-114h6v-2h-6m0-29h6v-1h-6m0-33h6v-2h-6m11 643h5v-2h-5m0-192h5v-1h-5m0-154h5v-2h-5m0-185h5v-4h-5m0-94h5v-2h-5m0-18h5v-1h-5m11 679h5v-2h-5m0-44h5v-1h-5m0-33h5v-2h-5m0-13h5v-1h-5m0-142h5v-1h-5m0-26h5v-2h-5m0-132h5v-2h-5m0-21h5v-2h-5m0-42h5v-2h-5m0-1h5v-2h-5m0-40h5v-2h-5m0-110h5v-2h-5m0-24h5v-2h-5m11 633h5v-2h-5m0-11h5v-2h-5m0-56h5v-2h-5m0-43h5v-2h-5m0-127h5v-2h-5m0-52h5v-2h-5m0-152h5v-2h-5m0-74h5v-2h-5m0-4h5v-2h-5m0-1h5v-2h-5m0-114h5v-2h-5m10 694h6v-2h-6m0-167h6v-2h-6m0-68h6v-2h-6m0-76h6v-2h-6m11 300h6v-1h-6m0-51h6v-2h-6m0-27h6v-2h-6m0-121h6v-2h-6m0-45h6v-2h-6m0-2h6v-2h-6m0-132h6v-2h-6m0-67h6v-2h-6m0-110h6v-2h-6m0-9h6v-2h-6m0-29h6v-1h-6m11 633h5v-1h-5m0-134h5v-2h-5m0-131h5v-1h-5m0-160h5v-2h-5m0-139h5v-2h-5m27 529h5v-2h-5m0-20h5v-2h-5m0-177h5v-2h-5m0-13h5v-1h-5m0-9h5v-2h-5m0-93h5v-1h-5m0-321h5v-2h-5m27 610h5v-1h-5m0-122h5v-1h-5m0-160h5v-2h-5m0-324h5v-2h-5m27 584h5v-2h-5m0-93h5v-1h-5m0-129h5v-2h-5m0-112h5v-2h-5m0-125h5v-2h-5m0-50h5v-2h-5m0-15h5v-2h-5m0-7h5v-2h-5m0-3h5v-2h-5m0-24h5v-1h-5m0-9h5v-2h-5m27 384h5v-2h-5m0-158h5v-1h-5m27 217h5v-2h-5m0-94h5v-2h-5m0-141h5v-2h-5m27 407h5v-1h-5m0-2h5v-2h-5m0-134h5v-2h-5m0-40h5v-1h-5m0-58h5v-2h-5m0-4h5v-2h-5m0-137h5v-2h-5m0-42h5v-2h-5m0-76h5v-1h-5m0-44h5v-2h-5"/>
<path fill="#46307d" d="M124 818h6v-2h-6m0-18h6v-2h-6m0-125h6v-2h-6m0-27h6v-2h-6m0-1h6v-2h-6m0-140h6v-1h-6m0-8h6v-1h-6m0-62h6v-2h-6m0-11h6v-2h-6m0-10h6v-2h-6m0-42h6v-2h-6m0-3h6v-2h-6m0-4h6v-2h-6m0-10h6v-2h-6m0-20h6v-2h-6m0-9h6v-2h-6m0-9h6v-2h-6m0-1h6v-2h-6m0-18h6v-2h-6m0-33h6v-3h-6m0-8h6v-1h-6m0-6h6v-2h-6m0-74h6v-2h-6m0-7h6v-4h-6m6 694h5v-2h-5m0-407h5v-2h-5m0-22h5v-2h-5m0-5h5v-2h-5m0-2h5v-2h-5m0-1h5v-2h-5m0-2h5v-2h-5m0-74h5v-2h-5m0-38h5v-3h-5m0-11h5v-2h-5m0-38h5v-2h-5m0-9h5v-2h-5m5 580h5v-2h-5m0-576h5v-2h-5m5 257h6v-2h-6m0-106h6v-2h-6m6 275h5v-4h-5m0-251h5v-2h-5m0-33h5v-1h-5m0-77h5v-1h-5m0-51h5v-2h-5m0-25h5v-2h-5m0-7h5v-2h-5m0-11h5v-2h-5m5 665h6v-2h-6m0-105h6v-2h-6m6 105h5v-2h-5m0-336h5v-4h-5m0-190h5v-2h-5m0-83h5v-2h-5m0-2h5v-2h-5m0-11h5v-1h-5m5 628h5v-2h-5m5 13h6v-2h-6m0-297h6v-2h-6m0-40h6v-1h-6m6-207h5v-2h-5m5 386h6v-2h-6m0-7h6v-2h-6m0-329h6v-2h-6m0-24h6v-2h-6m6 489h5v-1h-5m5-484h5v-2h-5m0-12h5v-2h-5m0-17h5v-1h-5m5-51h6v-2h-6m11 636h6v-2h-6m0-18h6v-2h-6m0-129h6v-1h-6m6-424h5v-2h-5m0-16h5v-2h-5m5 518h5v-2h-5m0-9h5v-2h-5m0-12h5v-2h-5m0-4h5v-4h-5m0-30h5v-2h-5m0-16h5v-2h-5m0-18h5v-2h-5m0-15h5v-1h-5m0-8h5v-1h-5m0-58h5v-2h-5m0-2h5v-2h-5m0-5h5v-2h-5m0-6h5v-1h-5m0-13h5v-2h-5m0-3h5v-2h-5m0-11h5v-2h-5m0-9h5v-2h-5m0-29h5v-2h-5m0-3h5v-2h-5m0-15h5v-1h-5m0-49h5v-2h-5m0-13h5v-2h-5m0-29h5v-1h-5m0-8h5v-1h-5m0-42h5v-2h-5m0-148h5v-2h-5m0-18h5v-2h-5m0-11h5v-2h-5m5 694h6v-2h-6m0-49h6v-3h-6m0-20h6v-2h-6m0-2h6v-2h-6m0-2h6v-1h-6m0-10h6v-1h-6m0-171h6v-1h-6m0-8h6v-3h-6m6 277h5v-2h-5m0-386h5v-2h-5m0-19h5v-2h-5m0-216h5v-2h-5m0-9h5v-1h-5m0-4h5v-2h-5m11 585h5v-2h-5m0-96h5v-2h-5m0-43h5v-2h-5m5 194h5v-2h-5m0-5h5v-2h-5m0-145h5v-2h-5m0-7h5v-2h-5m0-297h5v-2h-5m0-3h5v-2h-5m0-67h5v-2h-5m0-127h5v-1h-5m0-8h5v-2h-5m5 319h6v-2h-6m0-45h6v-2h-6m0-9h6v-2h-6m0-3h6v-2h-6m0-210h6v-2h-6m0-29h6v-2h-6m6 475h5v-2h-5m0-4h5v-1h-5m0-339h5v-2h-5m0-45h5v-4h-5m0-50h5v-2h-5m0-18h5v-2h-5m0-27h5v-2h-5m5 346h6v-2h-6m0-40h6v-2h-6m0-36h6v-2h-6m0-7h6v-2h-6m0-14h6v-2h-6m0-49h6v-2h-6m0-65h6v-2h-6m0-18h6v-2h-6m0-50h6v-2h-6m6 565h5v-2h-5m0-16h5v-2h-5m0-16h5v-2h-5m5-350h5v-2h-5m5 471h6v-2h-6m0-105h6v-1h-6m0-13h6v-2h-6m0-22h6v-1h-6m0-4h6v-2h-6m0-27h6v-2h-6m0-32h6v-2h-6m0-80h6v-2h-6m0-60h6v-1h-6m0-158h6v-2h-6m0-130h6v-2h-6m6 610h5v-1h-5m0-8h5v-1h-5m0-19h5v-1h-5m0-15h5v-2h-5m0-61h5v-2h-5m0-24h5v-1h-5m0-4h5v-2h-5m0-9h5v-2h-5m0-23h5v-2h-5m0-16h5v-2h-5m0-24h5v-2h-5m0-21h5v-2h-5m0-15h5v-1h-5m0-6h5v-2h-5m0-29h5v-5h-5m0-7h5v-2h-5m0-274h5v-1h-5m5 612h6v-2h-6m0-62h6v-1h-6m0-207h6v-2h-6m0-7h6v-2h-6m0-54h6v-2h-6m0-141h6v-2h-6m6 493h5v-2h-5m0-42h5v-2h-5m0-170h5v-2h-5m0-27h5v-2h-5m0-25h5v-2h-5m5 201h5v-2h-5m0-11h5v-1h-5m0-33h5v-2h-5m0-110h5v-2h-5m0-13h5v-1h-5m0-6h5v-2h-5m0-36h5v-2h-5m0-27h5v-2h-5m5 330h6v-2h-6m0-123h6v-2h-6m0-2h6v-2h-6m0-436h6v-2h-6m0-108h6v-2h-6m6 617h5v-3h-5m0-8h5v-7h-5m0-2h5v-3h-5m0-6h5v-3h-5m0-18h5v-2h-5m0-2h5v-2h-5m0-2h5v-5h-5m0-20h5v-2h-5m0-5h5v-2h-5m0-11h5v-2h-5m0-2h5v-3h-5m0-13h5v-3h-5m0-28h5v-1h-5m0-10h5v-5h-5m0-7h5v-2h-5m0-5h5v-2h-5m0-4h5v-2h-5m0-52h5v-2h-5m0-36h5v-2h-5m0-4h5v-3h-5m0-4h5v-2h-5m0-3h5v-4h-5m0-16h5v-2h-5m0-6h5v-1h-5m0-15h5v-2h-5m0-1h5v-2h-5m0-18h5v-2h-5m0-4h5v-2h-5m0-7h5v-2h-5m0-1h5v-2h-5m0-13h5v-2h-5m0-2h5v-1h-5m0-6h5v-2h-5m0-18h5v-2h-5m0-9h5v-3h-5m0-11h5v-4h-5m0-14h5v-2h-5m0-7h5v-2h-5m0-11h5v-2h-5m0-2h5v-1h-5m0-2h5v-2h-5m0-22h5v-3h-5m0-2h5v-2h-5m0-29h5v-2h-5m0-2h5v-1h-5m0-24h5v-2h-5m0-3h5v-2h-5m0-13h5v-2h-5m0-32h5v-2h-5m11 607h5v-2h-5m0-15h5v-1h-5m0-29h5v-2h-5m0-13h5v-2h-5m0-199h5v-2h-5m0-123h5v-2h-5m0-16h5v-2h-5m0-70h5v-2h-5m5 85h5v-2h-5m5 500h6v-2h-6m0-81h6v-4h-6m0-15h6v-1h-6m0-216h6v-4h-6m0-5h6v-2h-6m0-9h6v-2h-6m0-1h6v-2h-6m0-51h6v-2h-6m6 390h5v-2h-5m5-265h6v-1h-6m0-24h6v-2h-6m0-36h6v-2h-6m0-156h6v-1h-6m0-22h6v-2h-6m0-5h6v-2h-6m0-83h6v-2h-6m0-26h6v-1h-6m0-64h6v-2h-6m0-7h6v-2h-6m6 714h5v-2h-5m0-440h5v-2h-5m5 236h5v-2h-5m5-265h6v-1h-6m0-140h6v-2h-6m0-72h6v-2h-6m6 516h5v-2h-5m0-231h5v-2h-5m0-138h5v-2h-5m0-29h5v-1h-5m0-24h5v-2h-5m0-38h5v-2h-5m5 473h6v-2h-6m0-393h6v-2h-6m0-10h6v-2h-6m0-9h6v-2h-6m0-11h6v-2h-6m6 500h5v-2h-5m0-130h5v-2h-5m5-167h5v-1h-5m5 54h6v-2h-6m0-13h6v-1h-6m0-243h6v-2h-6m0-92h6v-2h-6m6 704h5v-1h-5m5-411h6v-2h-6m0-53h6v-2h-6m6 437h5v-2h-5m0-100h5v-1h-5m0-417h5v-2h-5m0-14h5v-2h-5m0-116h5v-2h-5m5 62h5v-2h-5m0-47h5v-2h-5m5 663h6v-2h-6m0-5h6v-2h-6m0-25h6v-4h-6m0-16h6v-2h-6m0-15h6v-2h-6m0-5h6v-2h-6m0-47h6v-2h-6m0-65h6v-2h-6m0-5h6v-2h-6m0-2h6v-2h-6m0-356h6v-2h-6m6 579h5v-1h-5m5-464h6v-2h-6m6-110h5v-2h-5m0-53h5v-1h-5m5 514h5v-2h-5m0-402h5v-2h-5m0-20h5v-1h-5m0-6h5v-2h-5m0-2h5v-1h-5m0-8h5v-1h-5m0-13h5v-2h-5m0-25h5v-2h-5m0-2h5v-2h-5m0-18h5v-2h-5m0-54h5v-2h-5m0-2h5v-1h-5m22-9h5v-2h-5m5 224h5v-1h-5m5 268h6v-2h-6m0-426h6v-2h-6m6 641h5v-1h-5m0-51h5v-4h-5m5 56h5v-1h-5m0-181h5v-2h-5m0-219h5v-2h-5m0-87h5v-2h-5m5 484h6v-2h-6m6-583h5v-2h-5m5 596h6v-2h-6m0-136h6v-2h-6m0-183h6v-2h-6m0-163h6v-1h-6m0-29h6v-2h-6m0-7h6v-2h-6m0-71h6v-2h-6m0-16h6v-2h-6m0-11h6v-1h-6m0-4h6v-2h-6m6 621h5v-1h-5m0-288h5v-2h-5m0-227h5v-1h-5m0-87h5v-2h-5m0-82h5v-1h-5m5 704h5v-2h-5m0-264h5v-2h-5m0-76h5v-2h-5m5 54h6v-1h-6m0-301h6v-2h-6m0-99h6v-2h-6m11 675h6v-2h-6m0-403h6v-2h-6m0-38h6v-2h-6m0-109h6v-2h-6m0-92h6v-2h-6m6 598h5v-2h-5m0-185h5v-1h-5m0-95h5v-1h-5m0-104h5v-1h-5m5 394h5v-1h-5m5-240h6v-1h-6m0-2h6v-2h-6m0-157h6v-2h-6m0-11h6v-2h-6m0-4h6v-1h-6m0-201h6v-2h-6m6 699h5v-4h-5m0-491h5v-1h-5m0-15h5v-2h-5m5 511h6v-2h-6m0-51h6v-1h-6m0-17h6v-1h-6m0-10h6v-1h-6m0-56h6v-2h-6m0-368h6v-2h-6m0-101h6v-2h-6m0-65h6v-2h-6m11 685h5v-4h-5m0-540h5v-1h-5m0-68h5v-1h-5m0-4h5v-2h-5m5 388h6v-2h-6m0-42h6v-1h-6m6-100h5v-2h-5m0-246h5v-2h-5m0-27h5v-2h-5m5 369h6v-1h-6m0-66h6v-1h-6m0-310h6v-2h-6m6 600h5v-2h-5m0-11h5v-2h-5m5-215h5v-2h-5m0-98h5v-2h-5m5 395h6v-2h-6m6 7h5v-1h-5m5-341h6v-2h-6m0-34h6v-2h-6m0-18h6v-2h-6m0-63h6v-2h-6m0-33h6v-1h-6m0-86h6v-1h-6m0-35h6v-2h-6m0-38h6v-1h-6m6 668h5v-2h-5m0-188h5v-2h-5m5 90h5v-1h-5m0-297h5v-2h-5m0-112h5v-2h-5m5-142h6v-1h-6m6 650h5v-2h-5m5-319h6v-2h-6m6 325h5v-2h-5m0-2h5v-2h-5m0-645h5v-1h-5m10 382h6v-2h-6m0-259h6v-2h-6m6 55h5v-2h-5m11 476h5v-2h-5m0-319h5v-1h-5m0-53h5v-2h-5m0-217h5v-2h-5m5 596h5v-2h-5m0-98h5v-1h-5m0-162h5v-1h-5m5-171h6v-1h-6m0-218h6v-2h-6m6 656h5v-2h-5m0-616h5v-1h-5m0-84h5v-1h-5m5 704h6v-2h-6m0-512h6v-2h-6m6-141h5v-2h-5m5 386h5v-2h-5m5 257h6v-2h-6m0-286h6v-2h-6m0-49h6v-2h-6m0-121h6v-2h-6m0-183h6v-1h-6m0-8h6v-2h-6m11 662h6v-2h-6m0-8h6v-1h-6m0-22h6v-2h-6m0-125h6v-2h-6m0-193h6v-2h-6m0-24h6v-2h-6m0-134h6v-1h-6m0-149h6v-2h-6m0-3h6v-2h-6m11 690h5v-2h-5m0-197h5v-2h-5m0-82h5v-2h-5m0-90h5v-2h-5m0-49h5v-2h-5m0-266h5v-2h-5m11 696h5v-2h-5m0-369h5v-2h-5m0-210h5v-2h-5m0-60h5v-2h-5m11 509h5v-2h-5m0-85h5v-2h-5m10 223h6v-2h-6m11 4h6v-2h-6m0-132h6v-2h-6m0-320h6v-2h-6m0-45h6v-2h-6m0-13h6v-2h-6m11 520h5v-2h-5m0-47h5v-2h-5m0-59h5v-2h-5m0-334h5v-1h-5m27 139h5v-2h-5m0-344h5v-2h-5m0-23h5v-2h-5m27 290h5v-2h-5m27 181h5v-2h-5m0-85h5v-2h-5m54 305h5v-4h-5m0-411h5v-2h-5m0-172h5v-2h-5m27 578h5v-2h-5m0-368h5v-1h-5m0-151h5v-1h-5m0-75h5v-2h-5"/>
<path fill="#453681" d="M124 680h6v-1h-6m0-6h6v-2h-6m0-21h6v-2h-6m0-8h6v-1h-6m0-6h6v-2h-6m0-181h6v-1h-6m0-15h6v-2h-6m0-96h6v-2h-6m0-202h6v-2h-6m6 673h5v-1h-5m0-413h5v-4h-5m0-3h5v-2h-5m0-53h5v-2h-5m0-39h5v-2h-5m0-91h5v-2h-5m0-7h5v-2h-5m10 147h6v-2h-6m0-22h6v-1h-6m6-147h5v-2h-5m0-16h5v-2h-5m0-9h5v-2h-5m5 694h6v-2h-6m0-379h6v-1h-6m6 382h5v-2h-5m5-560h5v-1h-5m5 208h6v-4h-6m0-89h6v-1h-6m0-6h6v-3h-6m0-149h6v-2h-6m6 210h5v-1h-5m0-151h5v-2h-5m5 531h6v-2h-6m0-119h6v-2h-6m0-2h6v-2h-6m0-304h6v-2h-6m0-99h6v-2h-6m11 12h5v-1h-5m0-15h5v-2h-5m0-18h5v-2h-5m0-3h5v-2h-5m5 465h6v-1h-6m0-388h6v-2h-6m11 355h6v-2h-6m0-85h6v-2h-6m0-7h6v-2h-6m6-7h5v-2h-5m0-309h5v-2h-5m0-25h5v-2h-5m5 581h5v-2h-5m0-83h5v-2h-5m0-42h5v-1h-5m0-35h5v-2h-5m0-5h5v-2h-5m0-3h5v-2h-5m0-44h5v-2h-5m0-9h5v-1h-5m0-17h5v-1h-5m0-11h5v-2h-5m0-9h5v-2h-5m0-11h5v-2h-5m0-59h5v-2h-5m0-15h5v-3h-5m0-31h5v-2h-5m0-38h5v-2h-5m0-5h5v-2h-5m0-210h5v-2h-5m0-11h5v-2h-5m0-27h5v-2h-5m5 649h6v-2h-6m0-2h6v-2h-6m0-165h6v-1h-6m0-15h6v-3h-6m0-26h6v-2h-6m0-67h6v-1h-6m11 338h6v-2h-6m6-624h5v-2h-5m5 597h5v-1h-5m0-145h5v-2h-5m0-5h5v-2h-5m0-2h5v-2h-5m0-302h5v-4h-5m0-199h5v-2h-5m0-2h5v-2h-5m5 699h6v-1h-6m0-410h6v-1h-6m0-19h6v-1h-6m0-210h6v-2h-6m6 639h5v-2h-5m0-65h5v-2h-5m0-78h5v-2h-5m0-48h5v-4h-5m0-29h5v-4h-5m0-318h5v-2h-5m0-24h5v-2h-5m0-9h5v-1h-5m0-37h5v-1h-5m0-4h5v-2h-5m0-5h5v-2h-5m0-31h5v-2h-5m0-9h5v-2h-5m5 334h6v-2h-6m0-98h6v-2h-6m6 433h5v-2h-5m0-20h5v-1h-5m0-29h5v-2h-5m0-20h5v-2h-5m0-11h5v-2h-5m5 105h5v-1h-5m0-685h5v-2h-5m5 703h6v-2h-6m0-38h6v-2h-6m0-78h6v-3h-6m0-223h6v-2h-6m6 288h5v-2h-5m0-38h5v-2h-5m0-9h5v-1h-5m0-58h5v-2h-5m0-27h5v-2h-5m0-15h5v-1h-5m0-77h5v-1h-5m0-66h5v-1h-5m0-234h5v-4h-5m0-36h5v-2h-5m5-61h6v-2h-6m0-7h6v-2h-6m6 695h5v-1h-5m0-200h5v-1h-5m0-4h5v-2h-5m0-5h5v-6h-5m0-12h5v-2h-5m0-9h5v-2h-5m0-16h5v-2h-5m5 237h5v-2h-5m0-5h5v-2h-5m0-34h5v-2h-5m0-138h5v-2h-5m0-56h5v-2h-5m5 183h6v-3h-6m0-11h6v-2h-6m0-4h6v-1h-6m0-2h6v-2h-6m0-13h6v-2h-6m0-557h6v-2h-6m6 639h5v-2h-5m0-3h5v-2h-5m0-18h5v-2h-5m0-7h5v-2h-5m0-13h5v-2h-5m0-3h5v-2h-5m0-9h5v-2h-5m0-9h5v-2h-5m0-5h5v-2h-5m0-9h5v-2h-5m0-4h5v-3h-5m0-13h5v-2h-5m0-18h5v-2h-5m0-14h5v-2h-5m0-11h5v-2h-5m0-9h5v-3h-5m0-4h5v-2h-5m0-5h5v-2h-5m0-5h5v-2h-5m0-2h5v-2h-5m0-11h5v-1h-5m0-6h5v-2h-5m0-1h5v-2h-5m0-11h5v-2h-5m0-2h5v-5h-5m0-4h5v-2h-5m0-23h5v-2h-5m0-4h5v-3h-5m0-27h5v-2h-5m0-4h5v-2h-5m0-1h5v-2h-5m0-4h5v-2h-5m0-5h5v-2h-5m0-4h5v-1h-5m0-11h5v-2h-5m0-2h5v-5h-5m0-4h5v-4h-5m0-3h5v-4h-5m0-5h5v-2h-5m0-7h5v-2h-5m0-6h5v-3h-5m0-4h5v-2h-5m0-12h5v-2h-5m0-5h5v-2h-5m0-2h5v-4h-5m0-16h5v-4h-5m0-1h5v-4h-5m0-7h5v-2h-5m0-2h5v-4h-5m0-5h5v-2h-5m0-14h5v-4h-5m0-2h5v-2h-5m0-1h5v-2h-5m0-6h5v-1h-5m0-6h5v-3h-5m0-6h5v-2h-5m0-3h5v-2h-5m0-18h5v-2h-5m0-2h5v-2h-5m0-5h5v-2h-5m0-9h5v-2h-5m0-7h5v-2h-5m0-2h5v-1h-5m0-2h5v-2h-5m11 643h5v-2h-5m0-348h5v-2h-5m0-128h5v-2h-5m0-87h5v-2h-5m0-23h5v-2h-5m0-11h5v-2h-5m10 292h6v-2h-6m0-4h6v-1h-6m0-28h6v-1h-6m0-29h6v-2h-6m11 116h6v-2h-6m0-13h6v-2h-6m0-208h6v-2h-6m0-173h6v-4h-6m0-25h6v-2h-6m6 143h5v-2h-5m5 411h5v-2h-5m5-43h6v-2h-6m6 197h5v-1h-5m5-147h6v-2h-6m0-319h6v-1h-6m0-98h6v-2h-6m0-15h6v-1h-6m0-6h6v-5h-6m16 579h6v-1h-6m17-10h5v-1h-5m0-201h5v-2h-5m0-370h5v-1h-5m10 601h6v-2h-6m0-11h6v-2h-6m0-16h6v-2h-6m0-11h6v-1h-6m0-10h6v-1h-6m0-6h6v-2h-6m0-3h6v-2h-6m0-7h6v-2h-6m0-6h6v-1h-6m0-11h6v-2h-6m0-33h6v-1h-6m0-2h6v-2h-6m0-11h6v-2h-6m0-12h6v-2h-6m0-15h6v-1h-6m0-10h6v-1h-6m0-4h6v-2h-6m6-213h5v-2h-5m5 420h6v-2h-6m0-7h6v-2h-6m0-25h6v-2h-6m0-105h6v-2h-6m0-138h6v-1h-6m6 14h5v-2h-5m0-121h5v-4h-5m5-155h5v-2h-5m0-2h5v-2h-5m0-9h5v-2h-5m0-11h5v-1h-5m0-19h5v-1h-5m0-33h5v-2h-5m0-14h5v-2h-5m0-4h5v-3h-5m0-18h5v-2h-5m0-2h5v-2h-5m0-20h5v-2h-5m5 84h6v-2h-6m6 617h5v-1h-5m5 0h6v-2h-6m0-692h6v-2h-6m6 388h5v-2h-5m10-355h6v-2h-6m6 600h5v-2h-5m0-6h5v-1h-5m5-448h5v-3h-5m5-100h6v-2h-6m11 355h6v-2h-6m6-101h5v-2h-5m0-32h5v-2h-5m0-241h5v-2h-5m5 647h5v-2h-5m16 7h6v-2h-6m0-525h6v-2h-6m0-41h6v-2h-6m0-65h6v-2h-6m6 639h5v-2h-5m10 2h6v-2h-6m0-534h6v-2h-6m6 549h5v-2h-5m0-469h5v-2h-5m5 408h6v-2h-6m27 67h6v-2h-6m6-7h5v-2h-5m0-65h5v-2h-5m5-101h5v-2h-5m0-214h5v-2h-5m11 194h5v-2h-5m5 205h6v-2h-6m0-219h6v-2h-6m0-364h6v-2h-6m16-98h6v-1h-6m6 313h5v-2h-5m5 371h6v-1h-6m6-306h5v-2h-5m5 308h5v-2h-5m0-281h5v-2h-5m0-315h5v-2h-5m11 364h5v-1h-5m0-346h5v-2h-5m11 366h5v-2h-5m0-328h5v-2h-5m5 551h5v-2h-5m5 0h6v-2h-6m0-534h6v-2h-6m6 261h5v-2h-5m0-281h5v-1h-5m5 208h6v-2h-6m6 366h5v-2h-5m0-9h5v-2h-5m10 7h6v-1h-6m0-660h6v-1h-6m11 604h6v-1h-6m0-80h6v-2h-6m0-118h6v-3h-6m0-227h6v-1h-6m11 492h5v-2h-5m11-173h5v-2h-5m0-156h5v-2h-5m0-49h5v-2h-5m11 377h5v-2h-5m0-641h5v-2h-5m10 647h6v-2h-6m0-380h6v-2h-6m11 199h6v-2h-6m11 149h5v-2h-5m0-123h5v-4h-5m54-52h5v-2h-5m0-234h5v-1h-5m54 487h5v-2h-5m0-589h5v-1h-5m0-73h5v-2h-5m27 643h5v-2h-5m0-32h5v-2h-5m27 31h5v-2h-5m0-2h5v-2h-5m0-12h5v-2h-5m0-406h5v-2h-5"/>
<path fill="#423d84" d="M124 684h6v-2h-6m0-38h6v-2h-6m0-186h6v-2h-6m0-123h6v-2h-6m0-80h6v-1h-6m0-118h6v-2h-6m6 485h5v-1h-5m0-205h5v-2h-5m0-5h5v-4h-5m0-63h5v-2h-5m0-69h5v-2h-5m0-58h5v-2h-5m10 218h6v-2h-6m6-216h5v-1h-5m0-24h5v-2h-5m0-7h5v-2h-5m5 279h6v-2h-6m6-282h5v-2h-5m0-2h5v-2h-5m5 645h5v-2h-5m0-402h5v-2h-5m5 393h6v-1h-6m0-323h6v-2h-6m0-85h6v-2h-6m0-1h6v-2h-6m11 271h6v-1h-6m0-268h6v-2h-6m0-83h6v-2h-6m0-22h6v-2h-6m6 560h5v-2h-5m0-643h5v-2h-5m5 94h5v-1h-5m0-4h5v-2h-5m0-5h5v-2h-5m0-22h5v-3h-5m16 445h6v-2h-6m0-88h6v-2h-6m0-17h6v-1h-6m6 215h5v-2h-5m0-534h5v-2h-5m0-5h5v-2h-5m0-4h5v-1h-5m0-4h5v-2h-5m5 522h5v-2h-5m0-27h5v-2h-5m0-53h5v-1h-5m0-87h5v-4h-5m0-11h5v-3h-5m0-29h5v-2h-5m0-33h5v-2h-5m0-18h5v-2h-5m0-14h5v-2h-5m0-5h5v-2h-5m0-49h5v-4h-5m0-5h5v-2h-5m0-38h5v-2h-5m0-9h5v-2h-5m0-18h5v-3h-5m0-180h5v-1h-5m0-2h5v-2h-5m0-11h5v-2h-5m0-5h5v-2h-5m5 688h6v-2h-6m0-58h6v-1h-6m0-4h6v-2h-6m0-14h6v-2h-6m0-138h6v-2h-6m0-21h6v-2h-6m0-16h6v-2h-6m0-2h6v-2h-6m22 236h5v-2h-5m0-131h5v-1h-5m0-24h5v-2h-5m0-492h5v-2h-5m0-2h5v-2h-5m0-7h5v-2h-5m0-3h5v-4h-5m5 275h6v-2h-6m0-210h6v-1h-6m0-4h6v-2h-6m0-7h6v-4h-6m6 444h5v-2h-5m0-16h5v-2h-5m0-426h5v-1h-5m0-4h5v-2h-5m5 672h6v-2h-6m0-257h6v-2h-6m0-192h6v-2h-6m6 417h5v-2h-5m0-16h5v-2h-5m0-14h5v-2h-5m0-71h5v-2h-5m10-135h6v-2h-6m0-6h6v-2h-6m0-32h6v-2h-6m0-14h6v-2h-6m0-18h6v-2h-6m6 364h5v-2h-5m0-114h5v-2h-5m0-485h5v-2h-5m11 599h5v-1h-5m0-2h5v-2h-5m5 11h5v-2h-5m0-328h5v-2h-5m5 238h6v-2h-6m0-25h6v-2h-6m6 36h5v-2h-5m0-74h5v-2h-5m0-42h5v-1h-5m0-13h5v-4h-5m0-20h5v-1h-5m0-8h5v-3h-5m0-6h5v-2h-5m0-1h5v-2h-5m0-7h5v-2h-5m0-6h5v-1h-5m0-2h5v-4h-5m0-5h5v-2h-5m0-16h5v-2h-5m0-2h5v-4h-5m0-2h5v-7h-5m0-3h5v-2h-5m0-2h5v-2h-5m0-9h5v-2h-5m0-16h5v-2h-5m0-2h5v-1h-5m0-4h5v-2h-5m0-2h5v-1h-5m0-17h5v-2h-5m0-9h5v-1h-5m0-4h5v-2h-5m0-5h5v-2h-5m0-15h5v-1h-5m0-8h5v-1h-5m0-4h5v-4h-5m0-12h5v-2h-5m0-7h5v-2h-5m0-2h5v-2h-5m0-5h5v-2h-5m0-6h5v-9h-5m0-9h5v-1h-5m0-8h5v-2h-5m0-9h5v-1h-5m0-8h5v-1h-5m0-6h5v-2h-5m0-1h5v-2h-5m0-18h5v-6h-5m0-5h5v-4h-5m0-9h5v-2h-5m0-2h5v-3h-5m0-6h5v-1h-5m0-10h5v-1h-5m0-9h5v-4h-5m0-11h5v-2h-5m0-5h5v-2h-5m5-16h6v-2h-6m6 92h5v-1h-5m10 240h6v-1h-6m0-51h6v-2h-6m0-16h6v-2h-6m6 433h5v-2h-5m5-339h6v-2h-6m0-9h6v-1h-6m0-337h6v-2h-6m6 49h5v-2h-5m5 621h5v-2h-5m11-1h5v-2h-5m0-600h5v-1h-5m5 604h6v-1h-6m0-466h6v-2h-6m0-114h6v-2h-6m0-3h6v-2h-6m0-11h6v-3h-6m0-2h6v-2h-6m27 610h6v-2h-6m6-30h5v-2h-5m0-2h5v-2h-5m10 36h6v-1h-6m0-26h6v-2h-6m0-3h6v-2h-6m0-7h6v-2h-6m0-11h6v-2h-6m0-20h6v-1h-6m0-13h6v-2h-6m0-9h6v-2h-6m0-2h6v-1h-6m0-37h6v-1h-6m0-8h6v-2h-6m0-18h6v-1h-6m0-6h6v-2h-6m0-1h6v-2h-6m0-4h6v-2h-6m0-5h6v-2h-6m0-4h6v-1h-6m0-2h6v-2h-6m0-15h6v-1h-6m6-437h5v-2h-5m5 547h6v-1h-6m6-346h5v-2h-5m5-78h5v-2h-5m0-29h5v-2h-5m0-27h5v-2h-5m0-5h5v-2h-5m0-5h5v-2h-5m0-7h5v-2h-5m0-47h5v-2h-5m0-20h5v-2h-5m0-3h5v-2h-5m22 701h5v-2h-5m5 2h5v-2h-5m11 2h5v-2h-5m0-60h5v-2h-5m0-7h5v-2h-5m0-511h5v-1h-5m21 592h6v-2h-6m11 22h5v-2h-5m5-27h6v-2h-6m11 4h6v-2h-6m0-123h6v-2h-6m0-16h6v-2h-6m0-4h6v-2h-6m11 151h5v-2h-5m5-409h6v-2h-6m27 414h6v-1h-6m17-76h5v-2h-5m5 76h5v-2h-5m16-614h6v-2h-6m0-78h6v-1h-6m11 456h5v-2h-5m5 243h6v-2h-6m6 4h5v-2h-5m27 0h5v-2h-5m59 0h6v-2h-6m0-395h6v-1h-6m22 97h5v-1h-5m0-182h5v-1h-5m11 487h5v-2h-5m10 2h6v-2h-6m11 4h6v-2h-6m0-639h6v-2h-6m173 219h5v-2h-5"/>
<path fill="#404387" d="M124 803h6v-1h-6m0-114h6v-2h-6m0-183h6v-4h-6m0-63h6v-2h-6m0-11h6v-2h-6m0-280h6v-2h-6m6 253h5v-1h-5m0-8h5v-1h-5m0-46h5v-2h-5m0-3h5v-4h-5m5 491h5v-2h-5m11-14h5v-2h-5m0-2h5v-2h-5m0-608h5v-2h-5m0-15h5v-1h-5m5 275h6v-2h-6m6-270h5v-2h-5m5 86h5v-2h-5m0-20h5v-4h-5m5 556h6v-2h-6m0-1h6v-4h-6m0-277h6v-2h-6m0-132h6v-2h-6m0-5h6v-2h-6m0-143h6v-2h-6m6-18h5v-2h-5m11 101h5v-3h-5m0-103h5v-2h-5m5 168h5v-2h-5m0-79h5v-2h-5m0-15h5v-1h-5m0-11h5v-2h-5m0-7h5v-2h-5m5 565h6v-2h-6m0-491h6v-2h-6m6-92h5v-2h-5m5 457h6v-2h-6m0-105h6v-2h-6m11 165h5v-2h-5m0-123h5v-2h-5m0-85h5v-2h-5m0-5h5v-2h-5m0-2h5v-2h-5m0-119h5v-2h-5m0-33h5v-2h-5m0-10h5v-2h-5m0-29h5v-2h-5m0-158h5v-1h-5m0-29h5v-2h-5m0-6h5v-1h-5m5 635h6v-2h-6m0-23h6v-4h-6m11-396h6v-2h-6m6 288h5v-2h-5m5 199h5v-2h-5m0-681h5v-1h-5m0-2h5v-2h-5m0-13h5v-1h-5m5 297h6v-2h-6m0-13h6v-2h-6m0-224h6v-2h-6m6 436h5v-1h-5m0-15h5v-2h-5m0-407h5v-2h-5m0-2h5v-2h-5m5 384h6v-2h-6m6 169h5v-2h-5m5 92h5v-1h-5m11-328h5v-2h-5m0-279h5v-2h-5m5-38h6v-2h-6m6 658h5v-2h-5m0-232h5v-2h-5m0-5h5v-2h-5m5 237h5v-1h-5m0-187h5v-2h-5m0-119h5v-2h-5m5 315h6v-2h-6m0-99h6v-2h-6m0-4h6v-3h-6m6 45h5v-2h-5m0-110h5v-2h-5m0-60h5v-2h-5m0-5h5v-2h-5m0-9h5v-2h-5m0-4h5v-1h-5m0-4h5v-2h-5m0-5h5v-2h-5m0-11h5v-4h-5m0-36h5v-3h-5m0-6h5v-2h-5m0-14h5v-2h-5m0-31h5v-2h-5m0-5h5v-2h-5m0-3h5v-4h-5m0-18h5v-2h-5m0-45h5v-4h-5m0-2h5v-1h-5m0-6h5v-3h-5m0-22h5v-2h-5m0-15h5v-1h-5m0-9h5v-2h-5m0-7h5v-2h-5m0-2h5v-2h-5m0-2h5v-1h-5m0-15h5v-2h-5m0-34h5v-2h-5m0-2h5v-2h-5m0-1h5v-2h-5m0-15h5v-2h-5m0-9h5v-5h-5m16 634h5v-2h-5m5-386h6v-2h-6m11-128h6v-2h-6m0-71h6v-1h-6m0-87h6v-2h-6m0-15h6v-1h-6m16 702h6v-2h-6m11-474h6v-2h-6m0-121h6v-2h-6m6 599h5v-1h-5m5 1h5v-1h-5m11 0h5v-2h-5m11-24h5v-2h-5m10 22h6v-2h-6m0-21h6v-2h-6m0-6h6v-1h-6m0-33h6v-2h-6m0-3h6v-2h-6m0-60h6v-2h-6m11 140h6v-2h-6m6 3h5v-1h-5m5-553h5v-2h-5m0-1h5v-2h-5m0-40h5v-2h-5m0-3h5v-2h-5m0-15h5v-2h-5m0-32h5v-2h-5m0-7h5v-2h-5m0-2h5v-2h-5m5 669h6v-2h-6m17 0h5v-2h-5m0-681h5v-2h-5m10 688h6v-1h-6m6-55h5v-2h-5m10 60h6v-2h-6m11-586h6v-2h-6m22 337h5v-2h-5m0-11h5v-2h-5m5 136h6v-2h-6m0-11h6v-1h-6m0-441h6v-1h-6m6 583h5v-2h-5m21 4h6v-2h-6m6 3h5v-1h-5m10-484h6v-2h-6m11 486h6v-2h-6m0-268h6v-2h-6m60 270h5v-2h-5m10 5h6v-1h-6m11 0h6v-2h-6m6 0h5v-2h-5m16 2h5v-2h-5m5 2h6v-2h-6m11 5h5v-1h-5m16 3h6v-2h-6m0-3h6v-2h-6m0-628h6v-2h-6m22 395h5v-2h-5m11 237h5v-2h-5m10 6h6v-2h-6m11 0h6v-2h-6m11 5h5v-1h-5m0-6h5v-2h-5m27 0h5v-3h-5m135-234h5v-2h-5"/>
<path fill="#3e4989" d="M124 508h6v-2h-6m6-112h5v-2h-5m0-12h5v-2h-5m0-44h5v-1h-5m10 487h6v-2h-6m0-16h6v-2h-6m0-384h6v-2h-6m6-246h5v-2h-5m0-18h5v-2h-5m0-25h5v-2h-5m5 304h6v-2h-6m11-175h5v-2h-5m0-7h5v-2h-5m0-4h5v-2h-5m0-23h5v-2h-5m0-4h5v-3h-5m5 601h6v-2h-6m0-7h6v-2h-6m6-581h5v-2h-5m0-36h5v-2h-5m5 654h6v-2h-6m0-554h6v-2h-6m6 85h5v-2h-5m5-5h5v-2h-5m0-96h5v-2h-5m22 544h5v-2h-5m0-420h5v-2h-5m0-2h5v-2h-5m0-125h5v-2h-5m0-14h5v-2h-5m0-27h5v-4h-5m5 357h5v-2h-5m0-29h5v-2h-5m0-30h5v-4h-5m0-112h5v-2h-5m0-243h5v-2h-5m5 620h6v-2h-6m0-165h6v-2h-6m0-32h6v-2h-6m11-203h6v-3h-6m11 298h5v-1h-5m0-316h5v-1h-5m0-183h5v-2h-5m0-16h5v-2h-5m5 43h6v-3h-6m0-6h6v-3h-6m6 664h5v-2h-5m0-208h5v-2h-5m0-445h5v-2h-5m5 404h6v-2h-6m0-116h6v-2h-6m11 100h5v-2h-5m22 22h5v-2h-5m0-4h5v-1h-5m10 161h6v-2h-6m6-165h5v-2h-5m0-5h5v-2h-5m0-13h5v-1h-5m0-51h5v-2h-5m0-5h5v-2h-5m0-4h5v-2h-5m0-12h5v-2h-5m0-85h5v-2h-5m0-65h5v-2h-5m0-40h5v-2h-5m0-65h5v-2h-5m0-10h5v-2h-5m32 150h6v-2h-6m0-170h6v-2h-6m0-18h6v-2h-6m0-2h6v-1h-6m0-4h6v-2h-6m11 703h5v-2h-5m32 2h6v-2h-6m17-29h5v-2h-5m10 26h6v-2h-6m0-85h6v-2h-6m0-27h6v-2h-6m0-2h6v-2h-6m0-36h6v-2h-6m22-425h5v-2h-5m0-45h5v-4h-5m0-44h5v-1h-5m43 684h5v-2h-5m38-3h5v-2h-5m0-252h5v-3h-5m5 114h6v-4h-6m22 149h5v-2h-5m27 2h5v-2h-5m5 3h6v-1h-6m0-267h6v-1h-6m0-4h6v-2h-6m6 274h5v-2h-5m0-69h5v-2h-5m0-5h5v-2h-5m16 80h5v-2h-5m16-245h5v-1h-5m16 255h6v-2h-6m43-7h6v-2h-6m27 4h6v-2h-6m11 2h6v-2h-6m11 11h5v-2h-5m0-647h5v-1h-5m11 641h5v-2h-5m11 2h5v-2h-5m32 0h5v-2h-5m108 11h5v-6h-5"/>
<path fill="#3c4e8a" d="M124 816h6v-2h-6m0-137h6v-2h-6m0-552h6v-2h-6m6 284h5v-2h-5m0-2h5v-1h-5m0-9h5v-2h-5m0-26h5v-1h-5m10 59h6v-1h-6m6 398h5v-2h-5m0-634h5v-2h-5m5 261h6v-2h-6m11 381h5v-2h-5m0-420h5v-2h-5m0-11h5v-2h-5m0-175h5v-2h-5m0-2h5v-2h-5m5 268h6v-3h-6m0-64h6v-2h-6m0-34h6v-2h-6m6 431h5v-2h-5m0-420h5v-2h-5m0-148h5v-2h-5m0-7h5v-2h-5m0-2h5v-5h-5m0-2h5v-2h-5m0-12h5v-2h-5m0-17h5v-1h-5m5 202h6v-1h-6m0-2h6v-2h-6m0-78h6v-2h-6m0-12h6v-2h-6m0-2h6v-2h-6m11 82h5v-2h-5m0-98h5v-2h-5m0-1h5v-2h-5m16 311h6v-2h-6m0-293h6v-2h-6m6 525h5v-1h-5m0-2h5v-2h-5m0-563h5v-2h-5m5 413h5v-2h-5m0-98h5v-2h-5m0-68h5v-2h-5m0-46h5v-1h-5m0-102h5v-2h-5m0-168h5v-2h-5m0-3h5v-2h-5m11 210h5v-2h-5m0-31h5v-2h-5m0-19h5v-4h-5m0-13h5v-2h-5m5 64h6v-2h-6m0-5h6v-2h-6m6 273h5v-2h-5m10 207h6v-2h-6m0-431h6v-2h-6m0-237h6v-2h-6m6 447h5v-1h-5m0-6h5v-2h-5m0-1h5v-2h-5m5-11h6v-2h-6m0-5h6v-2h-6m0-116h6v-2h-6m0-320h6v-4h-6m11 424h5v-2h-5m0-4h5v-1h-5m11-328h5v-2h-5m5 614h6v-2h-6m6-243h5v-1h-5m0-9h5v-2h-5m5 36h5v-2h-5m11 223h5v-2h-5m0-382h5v-2h-5m0-52h5v-2h-5m5 433h6v-2h-6m0-676h6v-2h-6m27 4h6v-2h-6m0-5h6v-2h-6m27 114h6v-2h-6m0-30h6v-2h-6m16 608h6v-2h-6m11 6h6v-2h-6m6-27h5v-2h-5m5 27h5v-2h-5m11 6h5v-2h-5m11-5h5v-2h-5m5-545h5v-2h-5m0-25h5v-2h-5m0-42h5v-2h-5m0-67h5v-2h-5m0-3h5v-2h-5m5 695h6v-1h-6m60 3h5v-2h-5m5-3h5v-2h-5m5 4h6v-2h-6m6-246h5v-2h-5m0-11h5v-2h-5m5 136h6v-2h-6m0-2h6v-2h-6m16 131h6v-2h-6m22 5h5v-1h-5m27 0h5v-2h-5m5 2h6v-2h-6m11 5h6v-2h-6m11-246h5v-2h-5m22 274h5v-2h-5m5-24h5v-1h-5m11 0h5v-2h-5m70 9h5v-2h-5m32-4h6v-1h-6m11 3h6v-2h-6m38-5h5v-2h-5m27 0h5v-5h-5m108 14h5v-3h-5"/>
<path fill="#39548b" d="M130 816h5v-2h-5m0-9h5v-2h-5m0-400h5v-2h-5m0-5h5v-2h-5m0-29h5v-2h-5m10 57h6v-2h-6m0-4h6v-2h-6m6-221h5v-1h-5m5 237h6v-2h-6m11-18h5v-2h-5m0-16h5v-2h-5m0-139h5v-2h-5m5 556h6v-2h-6m0-9h6v-2h-6m0-578h6v-2h-6m6 167h5v-2h-5m0-3h5v-2h-5m11-69h5v-2h-5m0-32h5v-2h-5m0-71h5v-2h-5m5 607h5v-2h-5m0-438h5v-2h-5m0-2h5v-3h-5m0-17h5v-1h-5m16 465h6v-2h-6m0-215h6v-2h-6m0-321h6v-1h-6m6 530h5v-2h-5m0-5h5v-2h-5m0-2h5v-1h-5m0-415h5v-2h-5m0-2h5v-2h-5m0-126h5v-2h-5m5 203h5v-2h-5m0-314h5v-1h-5m11 358h5v-2h-5m0-159h5v-2h-5m0-36h5v-2h-5m0-9h5v-2h-5m5 542h6v-2h-6m0-483h6v-2h-6m11 487h5v-2h-5m5 22h6v-2h-6m0-429h6v-2h-6m6 196h5v-2h-5m0-9h5v-2h-5m5-25h6v-2h-6m0-122h6v-1h-6m0-316h6v-1h-6m11 416h5v-2h-5m5 281h6v-2h-6m17 0h5v-2h-5m10-128h6v-2h-6m6-179h5v-2h-5m16 310h5v-2h-5m16-672h6v-2h-6m0-27h6v-2h-6m6 706h5v-1h-5m21-569h6v-2h-6m11 574h5v-2h-5m22-21h5v-2h-5m10-71h6v-2h-6m22 98h5v-2h-5m0-568h5v-2h-5m0-53h5v-1h-5m38 626h5v-2h-5m32-1h5v-2h-5m11-263h5v-3h-5m59 0h6v-2h-6m38 271h5v-1h-5m0-248h5v-2h-5m38 251h5v-1h-5m11 0h5v-2h-5m16 2h5v-2h-5m5 2h6v-2h-6m27 3h6v-1h-6m11 1h5v-3h-5m54 2h5v-2h-5m27 2h5v-2h-5"/>
<path fill="#37598c" d="M130 342h5v-2h-5m5 460h5v-2h-5m5-386h6v-2h-6m11 388h6v-2h-6m11-400h5v-2h-5m0-2h5v-1h-5m0-147h5v-7h-5m0-28h5v-1h-5m0-6h5v-2h-5m5 272h6v-2h-6m0-65h6v-2h-6m0-23h6v-2h-6m6 442h5v-2h-5m0-619h5v-2h-5m0-6h5v-1h-5m0-20h5v-2h-5m11 206h5v-2h-5m0-105h5v-1h-5m0-75h5v-1h-5m5 612h5v-2h-5m0-462h5v-2h-5m0-70h5v-2h-5m16-4h6v-2h-6m22 540h5v-2h-5m0-324h5v-2h-5m0-128h5v-2h-5m5 458h6v-2h-6m6-208h5v-2h-5m5-467h5v-2h-5m5 13h6v-2h-6m6 442h5v-2h-5m5-406h6v-1h-6m6 485h5v-2h-5m5 176h5v-2h-5m0-293h5v-2h-5m49 273h5v-2h-5m48 2h6v-2h-6m43-63h6v-2h-6m0-58h6v-2h-6m22-445h5v-2h-5m0-31h5v-1h-5m22 604h5v-1h-5m5 1h5v-1h-5m21 7h6v-2h-6m33-5h5v-2h-5m16 3h5v-1h-5m92 1h5v-1h-5m5 27h6v-2h-6m60-27h5v-2h-5m32 9h5v-2h-5m11-2h5v-1h-5m32 1h6v-1h-6"/>
<path fill="#345e8d" d="M140 798h6v-2h-6m17 2h5v-2h-5m5-396h5v-2h-5m0-11h5v-2h-5m0-3h5v-4h-5m5 4h6v-2h-6m0-165h6v-2h-6m6 587h5v-2h-5m0-426h5v-1h-5m0-143h5v-4h-5m0-5h5v-2h-5m16 603h5v-2h-5m0-476h5v-2h-5m11-49h5v-2h-5m5 69h6v-4h-6m0-63h6v-2h-6m6 509h5v-2h-5m16-320h5v-2h-5m0-7h5v-2h-5m0-143h5v-2h-5m0-38h5v-2h-5m5 31h6v-4h-6m22 257h5v-1h-5m5-17h6v-1h-6m6 251h5v-2h-5m10 26h6v-2h-6m38-24h6v-1h-6m0-640h6v-1h-6m0-24h6v-2h-6m6 674h5v-2h-5m10-2h6v-2h-6m11-702h6v-2h-6m22 710h5v-2h-5m11-2h5v-2h-5m16 2h5v-2h-5m11-19h5v-2h-5m10-22h6v-2h-6m33 47h5v-2h-5m81-1h5v-2h-5m10 2h6v-2h-6m49 3h5v-1h-5m22 0h5v-2h-5m64 2h6v-2h-6m17 2h5v-2h-5m32 29h5v-2h-5m11-22h5v-2h-5m11 0h5v-1h-5m113-11h5v-2h-5m54 22h5v-2h-5m27 2h5v-2h-5"/>
<path fill="#32638d" d="M151 425h6v-2h-6m11 379h5v-2h-5m0-395h5v-2h-5m0-12h5v-2h-5m5 87h6v-2h-6m0-89h6v-3h-6m6 10h5v-1h-5m0-169h5v-2h-5m0-3h5v-2h-5m0-2h5v-2h-5m11 60h5v-2h-5m5 67h5v-2h-5m0-1h5v-2h-5m5-18h6v-2h-6m6 487h5v-2h-5m5-530h6v-2h-6m6 536h5v-2h-5m16-330h5v-1h-5m0-129h5v-2h-5m0-9h5v-2h-5m0-52h5v-2h-5m5 58h6v-2h-6m22 248h5v-2h-5m5-153h6v-2h-6m0-230h6v-2h-6m11 610h5v-2h-5m16 2h6v-2h-6m6 26h5v-2h-5m5 2h5v-2h-5m11 2h5v-2h-5m32-732h6v-1h-6m33 715h5v-2h-5m16 2h5v-2h-5m27 22h5v-2h-5m0-22h5v-2h-5m59 6h5v-2h-5m11-2h5v-2h-5m21 0h6v-1h-6m119 3h6v-2h-6m38-1h5v-2h-5m43 7h6v-2h-6m43 0h6v-2h-6m22 2h5v-2h-5"/>
<path fill="#2f698d" d="M124 805h6v-2h-6m38-400h5v-2h-5m0-175h5v-2h-5m0-7h5v-2h-5m0-2h5v-2h-5m5 196h6v-2h-6m0-177h6v-2h-6m6 572h5v-2h-5m0-576h5v-1h-5m11 579h5v-2h-5m0-451h5v-5h-5m5 3h5v-1h-5m5 456h6v-2h-6m0-478h6v-2h-6m6 56h5v-1h-5m16 449h5v-2h-5m11-373h5v-2h-5m0-107h5v-2h-5m0-10h5v-2h-5m0-42h5v-2h-5m0-14h5v-2h-5m0-4h5v-1h-5m11 335h5v-2h-5m16-13h5v-2h-5m5-9h6v-2h-6m0-16h6v-2h-6m60 274h5v-2h-5m16-22h5v-2h-5m59 4h6v-2h-6m27-2h6v-1h-6m27 3h6v-2h-6m43 2h6v-2h-6m70 2h6v-2h-6m92 0h6v-1h-6m22 1h5v-1h-5m16 7h5v-2h-5m5 22h6v-2h-6m0-18h6v-2h-6m44-2h5v-2h-5m113-9h5v-1h-5"/>
<path fill="#2d6e8e" d="M135 441h5v-2h-5m22 361h5v-2h-5m5-397h5v-1h-5m0-17h5v-1h-5m0-4h5v-2h-5m0-127h5v-1h-5m5 239h6v-4h-6m0-107h6v-2h-6m0-126h6v-2h-6m0-26h6v-1h-6m6 172h5v-2h-5m0-2h5v-2h-5m0-18h5v-2h-5m0-136h5v-1h-5m11 574h5v-2h-5m0-424h5v-2h-5m0-101h5v-2h-5m10 54h6v-1h-6m0-2h6v-2h-6m0-5h6v-2h-6m6 61h5v-2h-5m21 426h6v-2h-6m6-331h5v-2h-5m0-11h5v-2h-5m0-121h5v-2h-5m0-65h5v-2h-5m0-3h5v-2h-5m21 541h6v-2h-6m11-608h6v-2h-6m38 612h5v-2h-5m11 4h5v-2h-5m32-695h6v-2h-6m22 697h5v-2h-5m48 26h6v-2h-6m22-18h5v-2h-5m16 2h6v-2h-6m16 22h6v-2h-6m81-24h6v-1h-6m38 7h5v-2h-5m11-2h5v-2h-5m11 0h5v-1h-5m10 1h6v-1h-6m33 27h5v-2h-5m32 2h6v-2h-6m119-18h5v-2h-5"/>
<path fill="#2b738e" d="M140 425h6v-2h-6m22-199h5v-2h-5m0-11h5v-2h-5m5 270h6v-3h-6m0-87h6v-2h-6m0-141h6v-2h-6m0-4h6v-2h-6m6 156h5v-2h-5m0-3h5v-2h-5m0-194h5v-2h-5m27 180h5v-2h-5m11 433h5v-2h-5m16-337h5v-2h-5m0-5h5v-2h-5m0-176h5v-3h-5m27 525h5v-2h-5m5-243h6v-1h-6m0-390h6v-2h-6m6 636h5v-2h-5m16 24h5v-2h-5m156-22h6v-2h-6m27 6h6v-2h-6m87-2h5v-2h-5m16 0h5v-1h-5m70 3h5v-2h-5m5 26h6v-2h-6m22-24h5v-1h-5m16 1h6v-1h-6m11 3h5v-2h-5m5 2h6v-2h-6"/>
<path fill="#29788e" d="M124 814h6v-1h-6m38-401h5v-3h-5m0-154h5v-2h-5m0-2h5v-2h-5m0-20h5v-1h-5m0-13h5v-2h-5m5 270h6v-2h-6m0-232h6v-1h-6m0-17h6v-2h-6m0-5h6v-2h-6m6 147h5v-2h-5m0-165h5v-3h-5m11 172h5v-4h-5m10 11h6v-2h-6m0-56h6v-2h-6m6 484h5v-2h-5m16 2h5v-2h-5m11-350h5v-3h-5m0-122h5v-1h-5m5-6h6v-2h-6m0-230h6v-1h-6m22 496h5v-2h-5m5-9h6v-2h-6m0-14h6v-2h-6m22 250h5v-2h-5m11-2h5v-2h-5m21 4h6v-2h-6m11-4h5v-1h-5m5 5h6v-2h-6m27 2h6v-2h-6m49 4h5v-2h-5m11 0h5v-2h-5m11 0h5v-2h-5m32 2h5v-2h-5m27 6h5v-2h-5m27-4h5v-1h-5m32 27h6v-2h-6m97-22h6v-2h-6m11 6h6v-2h-6m33 22h5v-2h-5m21-16h6v-4h-6m54 0h6v-2h-6m65-3h5v-6h-5"/>
<path fill="#277c8e" d="M135 798h5v-2h-5m16 6h6v-2h-6m11-572h5v-2h-5m0-4h5v-2h-5m5 576h6v-2h-6m0-295h6v-3h-6m0-8h6v-1h-6m0-13h6v-2h-6m0-71h6v-1h-6m0-158h6v-2h-6m6 145h5v-2h-5m11-11h5v-1h-5m10 431h6v-2h-6m0-484h6v-1h-6m17 479h5v-1h-5m16 9h5v-2h-5m0-346h5v-2h-5m0-121h5v-2h-5m0-54h5v-2h-5m5 31h6v-2h-6m0-4h6v-2h-6m6 504h5v-4h-5m5 24h5v-2h-5m0-20h5v-2h-5m16-233h6v-2h-6m6 259h5v-2h-5m43-16h5v-2h-5m38-4h5v-2h-5m5 26h5v-2h-5m32-20h6v-2h-6m60 4h5v-2h-5m21-2h6v-2h-6m6 4h5v-2h-5m21 2h6v-2h-6m60 4h5v-2h-5m5-2h5v-2h-5m22 0h5v-1h-5m10 7h6v-2h-6m0-4h6v-1h-6m44 1h5v-1h-5m37 1h6v-1h-6"/>
<path fill="#26818e" d="M135 439h5v-1h-5m11 378h5v-2h-5m0-11h5v-1h-5m16-582h5v-1h-5m5 275h6v-2h-6m0-11h6v-2h-6m0-92h6v-2h-6m0-159h6v-2h-6m17 143h5v-2h-5m0-2h5v-1h-5m0-13h5v-2h-5m0-71h5v-1h-5m5 56h5v-2h-5m5 42h6v-2h-6m11-2h6v-4h-6m6 428h5v-2h-5m16-331h5v-2h-5m0-122h5v-1h-5m0-15h5v-2h-5m5 6h6v-4h-6m0-25h6v-2h-6m0-196h6v-7h-6m27 464h6v-2h-6m11 250h5v-2h-5m32 4h6v-2h-6m11-4h6v-2h-6m38 8h5v-2h-5m151-6h5v-1h-5m5 27h6v-2h-6m27 2h6v-2h-6m6-24h5v-1h-5m70 7h5v-2h-5m0-2h5v-2h-5m119 4h5v-2h-5m43 2h5v-2h-5m81-3h5v-8h-5m54 13h5v-2h-5"/>
<path fill="#24868d" d="M130 807h5v-2h-5m10-378h6v-2h-6m27 369h6v-3h-6m0-295h6v-2h-6m0-116h6v-2h-6m0-147h6v-1h-6m0-9h6v-2h-6m17 136h5v-2h-5m0-62h5v-2h-5m10 87h6v-3h-6m11 431h6v-2h-6m6-7h5v-2h-5m0-2h5v-2h-5m16-467h5v-2h-5m5-11h6v-2h-6m0-5h6v-2h-6m0-3h6v-2h-6m0-4h6v-2h-6m0-186h6v-2h-6m0-11h6v-2h-6m6 710h5v-3h-5m5 9h5v-2h-5m5-2h6v-2h-6m27 6h6v-2h-6m71 20h5v-2h-5m21-18h6v-4h-6m27 24h6v-2h-6m27-22h6v-2h-6m22 26h5v-2h-5m27 2h5v-2h-5m10 2h6v-2h-6m98 2h5v-2h-5m0-18h5v-2h-5m37-2h6v-2h-6m146 8h6v-2h-6m119 3h5v-1h-5m27 18h5v-2h-5m27 2h5v-2h-5m0-20h5v-2h-5"/>
<path fill="#228a8d" d="M151 818h6v-2h-6m6-14h5v-2h-5m5-547h5v-2h-5m0-32h5v-2h-5m5 183h6v-2h-6m0-154h6v-2h-6m0-20h6v-2h-6m6-25h5v-2h-5m5 609h6v-2h-6m6-449h5v-2h-5m0-58h5v-2h-5m0-5h5v-2h-5m0-2h5v-2h-5m0-3h5v-2h-5m27 523h5v-2h-5m16-461h5v-2h-5m5-35h6v-1h-6m0-4h6v-2h-6m27 513h6v-2h-6m22-2h5v-2h-5m5 6h6v-2h-6m11-2h5v-2h-5m43 0h6v-2h-6m60-14h5v-2h-5m5 42h5v-2h-5m5-22h6v-2h-6m11 26h6v-2h-6m11 2h5v-2h-5m16-20h6v-2h-6m65 4h5v-2h-5m5 22h6v-2h-6m0-24h6v-1h-6m27 3h6v-2h-6m38 2h5v-2h-5m11 26h5v-2h-5m0-18h5v-2h-5m16 0h5v-2h-5m16 2h6v-2h-6m33-2h5v-1h-5m81 5h5v-2h-5m10 2h6v-2h-6m11 4h6v-2h-6"/>
<path fill="#20908c" d="M140 818h6v-2h-6m0-380h6v-2h-6m44-147h5v-3h-5m0-2h5v-2h-5m0-2h5v-2h-5m10 48h6v-2h-6m17 496h5v-2h-5m16-357h5v-1h-5m43 344h5v-2h-5m49 2h5v-2h-5m43-2h5v-2h-5m16 2h5v-2h-5m5 6h6v-2h-6m17-18h5v-2h-5m0-2h5v-3h-5m5 27h5v-2h-5m27-2h5v-2h-5m5 4h6v-2h-6m6 0h5v-2h-5m16 2h5v-2h-5m27 6h5v-2h-5m0-2h5v-2h-5m5 6h6v-2h-6m54 0h6v-2h-6m11 2h5v-2h-5m11 2h5v-2h-5m21 22h6v-2h-6m33-18h5v-2h-5m11-2h5v-2h-5m5 6h5v-2h-5m38 2h5v-2h-5"/>
<path fill="#1f958b" d="M135 802h5v-2h-5m5-362h6v-2h-6m33 366h5v-2h-5m0-614h5v-2h-5m11 181h5v-2h-5m21 455h6v-2h-6m22-355h5v-2h-5m5-143h6v-1h-6m54 505h6v-2h-6m33-20h5v-2h-5m21 2h6v-2h-6m27 6h6v-2h-6m33 20h5v-2h-5m0-34h5v-2h-5m97 20h5v-2h-5m5 0h5v-2h-5"/>
<path fill="#1e998a" d="M167 392h6v-3h-6m11 429h6v-2h-6m81-257h6v-2h-6m54 263h6v-2h-6m11-18h5v-2h-5m0-2h5v-2h-5m11 8h5v-2h-5m11 2h5v-2h-5m27 20h5v-2h-5m16-20h5v-2h-5m21 4h6v-4h-6m17 4h5v-2h-5m21 22h6v-2h-6m11-16h5v-2h-5m16 2h5v-2h-5m38 20h5v-2h-5m16-22h5v-2h-5m5 0h6v-1h-6m17 27h5v-2h-5m81-18h5v-2h-5m16-2h5v-2h-5m5 2h6v-2h-6m38 8h5v-2h-5m38 2h5v-2h-5"/>
<path fill="#1e9e88" d="M157 818h5v-2h-5m16-434h5v-2h-5m0-192h5v-2h-5m59 634h6v-2h-6m0-16h6v-2h-6m22 20h5v-2h-5m0-20h5v-2h-5m5 24h6v-2h-6m27-20h6v-2h-6m49 2h5v-2h-5m38 2h5v-2h-5m32 2h5v-2h-5m70 2h5v-2h-5m5 2h6v-2h-6m17 2h5v-2h-5m27 24h5v-2h-5m27-16h5v-2h-5m5-2h5v-2h-5m16 0h6v-2h-6m49 26h5v-2h-5m0-22h5v-2h-5m65 0h5v-1h-5m54 9h5v-2h-5m59-4h5v-2h-5"/>
<path fill="#1fa386" d="M167 490h6v-2h-6m33 330h5v-2h-5m38-14h5v-2h-5m21-243h6v-2h-6m38 247h5v-2h-5m54-2h5v-2h-5m27 24h5v-2h-5m43-16h6v-2h-6m0-2h6v-2h-6m16 2h6v-2h-6m17 4h5v-2h-5m0-2h5v-2h-5m16 8h5v-2h-5m32-4h5v-2h-5m22 0h5v-1h-5m16 27h5v-2h-5m27-22h5v-2h-5m16 8h5v-2h-5m5-4h6v-2h-6m11 8h6v-2h-6m16 2h6v-4h-6m33 2h5v-2h-5m16 2h5v-2h-5m5 2h6v-2h-6m71 22h5v-2h-5m0-18h5v-2h-5m10 4h6v-2h-6"/>
<path fill="#22a784" d="M130 809h5v-2h-5m37-411h6v-4h-6m17-36h5v-2h-5m81 448h5v-2h-5m5-2h5v-2h-5m86 6h6v-2h-6m157-4h5v-2h-5m5 2h6v-2h-6m33 4h5v-2h-5m27 0h5v-2h-5m16 8h5v-2h-5m32 2h6v-2h-6m43-4h6v-2h-6m11 2h6v-2h-6m16 8h6v-2h-6m130 0h5v-2h-5"/>
<path fill="#26ac81" d="M167 398h6v-2h-6m0-158h6v-1h-6m17 125h5v-6h-5m37 446h6v-2h-6m6 20h5v-2h-5m167-16h6v-2h-6m49 2h5v-2h-5m86 2h5v-2h-5m16 2h6v-2h-6m11 2h5v-2h-5"/>
<path fill="#2bb17d" d="M167 237h6v-6h-6m6 152h5v-1h-5m11-28h5v-1h-5m32 465h5v-2h-5m32-14h6v-2h-6m6 2h5v-2h-5m11 18h5v-2h-5m145-14h6v-2h-6m17 20h5v-2h-5m10-16h6v-2h-6m43 2h6v-2h-6m27 2h6v-2h-6m60-2h5v-2h-5m16 2h5v-2h-5m16 2h6v-2h-6m43 2h6v-2h-6m38 6h6v-2h-6m49 0h5v-2h-5m32 22h6v-2h-6"/>
<path fill="#32b57a" d="M130 814h5v-1h-5m43 5h5v-2h-5m129 2h6v-2h-6m22 4h5v-2h-5m5-16h6v-2h-6m38 20h6v-2h-6m6-16h5v-2h-5m59 2h5v-2h-5m75-4h6v-2h-6m17 6h5v-2h-5m16 4h5v-2h-5m65 20h5v-2h-5m32-20h5v-2h-5m16 6h6v-2h-6m16 20h6v-2h-6m0-16h6v-2h-6"/>
<path fill="#3bba75" d="M194 818h6v-2h-6m27 4h6v-2h-6m141-16h5v-2h-5m54 2h5v-2h-5m11 2h5v-2h-5m37-2h6v-2h-6m22 24h5v-2h-5m48-16h6v-2h-6m27 2h6v-2h-6m44-4h5v-2h-5m27 4h5v-2h-5m21 2h6v-2h-6m11 0h5v-2h-5m32 4h6v-2h-6"/>
<path fill="#44be70" d="M124 807h6v-2h-6m11 11h5v-2h-5m54 4h5v-2h-5m38 2h5v-2h-5m11 4h5v-2h-5m32 0h5v-2h-5m5 2h6v-2h-6m17-14h5v-2h-5m54-2h5v-2h-5m32 6h5v-2h-5m11 2h5v-2h-5m59 2h6v-2h-6m16 2h6v-2h-6m49 2h5v-2h-5m27-4h5v-2h-5m21 4h6v-2h-6m6 6h5v-2h-5m11 2h5v-2h-5m0-2h5v-2h-5m59 6h5v-2h-5m11 2h5v-2h-5m11 0h5v-2h-5m5 22h5v-2h-5m86-18h6v-2h-6m103-4h5v-1h-5"/>
<path fill="#4dc26b" d="M184 818h5v-2h-5m54 2h5v-2h-5m64 4h6v-2h-6m11-20h6v-2h-6m27 6h6v-2h-6m43 20h6v-2h-6m71-16h5v-2h-5m48 2h5v-2h-5m11-2h5v-2h-5m16 24h5v-2h-5m43-20h6v-2h-6m11 24h5v-2h-5m27-16h5v-2h-5m22 2h5v-2h-5m21 20h6v-2h-6m22-22h5v-2h-5m97 8h5v-2h-5"/>
<path fill="#57c665" d="M146 805h5v-2h-5m178-5h5v-2h-5m38 24h5v-2h-5m75 2h6v-2h-6m54 2h6v-2h-6m27-20h6v-2h-6m16 0h6v-2h-6m11 4h6v-2h-6m54 24h6v-2h-6m16 2h6v-2h-6m27-16h6v-2h-6m6-2h5v-2h-5m38 0h5v-2h-5m5 4h5v-2h-5m135 0h5v-2h-5m54 24h5v-2h-5"/>
<path fill="#62ca5f" d="M324 802h5v-2h-5m5 20h6v-2h-6m125-20h5v-2h-5m21 24h5v-2h-5m43-16h6v-2h-6m6 2h5v-2h-5m5-2h5v-2h-5m43 24h6v-2h-6m16-16h6v-2h-6m6-2h5v-2h-5m21 2h6v-2h-6m6 2h5v-2h-5m48 2h6v-2h-6m22 24h5v-2h-5m162 2h5v-2h-5"/>
<path fill="#6dce58" d="M162 818h5v-2h-5m5 2h6v-2h-6m146-14h6v-2h-6m87-15h5v-1h-5m27 14h5v-2h-5m27 24h5v-2h-5m53-20h6v-2h-6m17 0h5v-2h-5m16 4h5v-2h-5m32 6h6v-2h-6m92 2h5v-2h-5m65 20h5v-2h-5"/>
<path fill="#79d151" d="M124 813h6v-2h-6m232 9h6v-2h-6m211 2h5v-2h-5m21-20h6v-2h-6m33 6h5v-2h-5m86 20h6v-2h-6"/>
<path fill="#86d449" d="M605 802h5v-2h-5m0-2h5v-2h-5m54 0h5v-2h-5m194 8h5v-4h-5"/>
<path fill="#95d73f" d="M281 818h5v-2h-5m119-22h5v-1h-5m59 27h5v-2h-5m43-20h5v-2h-5m173 6h5v-2h-5m5-2h6v-2h-6m92 4h5v-2h-5m27 22h5v-4h-5"/>
<path fill="#a2da37" d="M556 820h5v-2h-5m103-16h5v-2h-5m27 2h5v-2h-5m113-2h5v-2h-5"/>
<path fill="#afdc2e" d="M340 820h6v-2h-6m221 2h6v-2h-6m114-20h5v-2h-5m97 24h5v-2h-5"/>
<path fill="#bdde26" d="M524 798h5v-2h-5m113 24h5v-2h-5m27-20h5v-2h-5m189 2h5v-4h-5"/>
<path fill="#cae01e" d="M534 798h6v-2h-6"/>
<path fill="#e4e318" d="M659 820h5v-2h-5m0-20h5v-2h-5m27 2h5v-2h-5"/>
<path fill="#fde724" d="M124 811h6v-4h-6m6 6h5v-4h-5m5 5h5v-12h-5m5 14h6v-14h-6m6 12h5v-9h-5m5 11h6v-14h-6m6 14h5v-14h-5m5 14h5v-14h-5m5 14h6v-14h-6m6 14h5v-14h-5m5 14h6v-14h-6m6 14h5v-14h-5m5 14h5v-14h-5m5 14h6v-14h-6m6 14h5v-14h-5m5 14h6v-14h-6m6 14h5v-14h-5m5 14h5v-14h-5m5 16h6v-16h-6m6 14h5v-14h-5m5 16h6v-16h-6m6 14h5v-14h-5m5 16h5v-16h-5m5 16h6v-16h-6m6 16h5v-16h-5m5 16h6v-16h-6m6 14h5v-14h-5m5 14h5v-14h-5m5 14h6v-14h-6m6 14h5v-14h-5m5 16h6v-16h-6m6 16h5v-16h-5m5 16h5v-16h-5m5 14h6v-14h-6m6 16h5v-16h-5m5 16h6v-16h-6m6 16h5v-16h-5m5 16h5v-16h-5m5 16h6v-16h-6m6 16h5v-16h-5m5 16h6v-16h-6m6 16h5v-16h-5m5 16h5v-16h-5m5 16h6v-16h-6m6 16h5v-16h-5m5 16h6v-16h-6m6 16h5v-16h-5m5 16h5v-16h-5m5 16h6v-16h-6m6 18h5v-18h-5m5 16h6v-16h-6m6 16h5v-24h-5m0-1h5v-8h-5m5 33h5v-16h-5m5 16h6v-16h-6m6 16h5v-16h-5m5 16h6v-16h-6m6 16h5v-16h-5m5 16h5v-16h-5m5 16h6v-16h-6m6 16h5v-16h-5m5 16h6v-16h-6m6 16h5v-16h-5m5 16h5v-16h-5m5 16h6v-16h-6m6 16h5v-16h-5m5 16h5v-16h-5m5 16h6v-16h-6m6 16h5v-16h-5m5 16h6v-16h-6m6 18h5v-18h-5m5 16h5v-16h-5m5 16h6v-16h-6m6 16h5v-16h-5m5 16h6v-16h-6m6 16h5v-16h-5m5 16h5v-16h-5m5 16h6v-16h-6m6 16h5v-16h-5m5 16h6v-16h-6m6 16h5v-16h-5m5 16h5v-16h-5m5 16h6v-16h-6m6 16h5v-16h-5m5 16h6v-16h-6m6 16h5v-16h-5m5 16h5v-16h-5m5 16h6v-16h-6m6 16h5v-16h-5m5 16h6v-16h-6m6 16h5v-16h-5m5 18h5v-18h-5m5 16h6v-16h-6m6 16h5v-16h-5m5 16h6v-16h-6m6 16h5v-16h-5m5 16h5v-16h-5m5 16h6v-16h-6m6 16h5v-16h-5m5 16h6v-16h-6m6 16h5v-16h-5m5 16h5v-16h-5m5 16h6v-16h-6m6 18h5v-18h-5m5 16h6v-16h-6m6 16h5v-16h-5m5 16h5v-16h-5m5 16h6v-16h-6m11 16h6v-16h-6m11 16h5v-16h-5m11 16h5v-16h-5m11 16h5v-16h-5m10 18h6v-18h-6m11 16h6v-16h-6m11 16h5v-16h-5m27 14h5v-16h-5m27 20h5v-20h-5m0-2h5v-2h-5m27 22h5v-16h-5m27 14h5v-13h-5m27 15h5v-16h-5m27 16h5v-16h-5"/>
</g>
<rect x="1016.5" y="85.5" width="36.0" height="737.0" fill="url(#vir)"/>
<g class="ln">
<line x1="179.5" y1="822.50" x2="179.5" y2="827.50"/>
<line x1="287.5" y1="822.50" x2="287.5" y2="827.50"/>
<line x1="395.5" y1="822.50" x2="395.5" y2="827.50"/>
<line x1="503.5" y1="822.50" x2="503.5" y2="827.50"/>
<line x1="611.5" y1="822.50" x2="611.5" y2="827.50"/>
<line x1="719.5" y1="822.50" x2="719.5" y2="827.50"/>
<line x1="827.5" y1="822.50" x2="827.5" y2="827.50"/>
<line x1="935.5" y1="822.50" x2="935.5" y2="827.50"/>
<line x1="93.50" y1="810.5" x2="98.50" y2="810.5"/>
<line x1="93.50" y1="689.5" x2="98.50" y2="689.5"/>
<line x1="93.50" y1="569.5" x2="98.50" y2="569.5"/>
<line x1="93.50" y1="448.5" x2="98.50" y2="448.5"/>
<line x1="93.50" y1="327.5" x2="98.50" y2="327.5"/>
<line x1="93.50" y1="206.5" x2="98.50" y2="206.5"/>
<line x1="93.50" y1="85.5" x2="98.50" y2="85.5"/>
<line x1="1052.50" y1="822.5" x2="1057.50" y2="822.5"/>
<line x1="1052.50" y1="699.5" x2="1057.50" y2="699.5"/>
<line x1="1052.50" y1="577.5" x2="1057.50" y2="577.5"/>
<line x1="1052.50" y1="454.5" x2="1057.50" y2="454.5"/>
<line x1="1052.50" y1="331.5" x2="1057.50" y2="331.5"/>
<line x1="1052.50" y1="208.5" x2="1057.50" y2="208.5"/>
<line x1="1052.50" y1="85.5" x2="1057.50" y2="85.5"/>
<rect x="98.5" y="85.5" width="864.0" height="737.0"/>
<rect x="1016.5" y="85.5" width="36.0" height="737.0"/>
</g>
<g id="labels">
<text x="179.14" y="847.50" text-anchor="middle">2</text>
<text x="287.13" y="847.50" text-anchor="middle">4</text>
<text x="395.11" y="847.50" text-anchor="middle">6</text>
<text x="503.10" y="847.50" text-anchor="middle">8</text>
<text x="611.08" y="847.50" text-anchor="middle">10</text>
<text x="719.06" y="847.50" text-anchor="middle">12</text>
<text x="827.05" y="847.50" text-anchor="middle">14</text>
<text x="935.03" y="847.50" text-anchor="middle">16</text>
<text x="87.85" y="818.24" text-anchor="end">0</text>
<text x="87.85" y="697.42" text-anchor="end">100</text>
<text x="87.85" y="576.60" text-anchor="end">200</text>
<text x="87.85" y="455.79" text-anchor="end">300</text>
<text x="87.85" y="334.97" text-anchor="end">400</text>
<text x="87.85" y="214.15" text-anchor="end">500</text>
<text x="87.85" y="93.33" text-anchor="end">600</text>
<text x="1062.50" y="830.32">0</text>
<text x="1062.50" y="707.49">5</text>
<text x="1062.50" y="584.66">10</text>
<text x="1062.50" y="461.83">15</text>
<text x="1062.50" y="339.00">20</text>
<text x="1062.50" y="216.16">25</text>
<text x="1062.50" y="93.33">30</text>
<text x="529.60" y="873.50" text-anchor="middle">Frequency (MHz)</text>
<text transform="translate(37.50 454.70) rotate(-90)" text-anchor="middle">Virtual range (km)</text>
<text transform="translate(1108.70 454.20) rotate(-90)" text-anchor="middle">SNR (dB)</text>
<text class="t" x="529.60" y="43.70" text-anchor="middle">IRF Uppsala SDR Ionosonde UP158 2026-04-08 21:56:00  UT</text>
<text class="t" x="529.60" y="76.65" text-anchor="middle">noise_floor=-113.58 (dB) peak SNR=98.86</text>
</g>
</svg>
</body>
</html>
